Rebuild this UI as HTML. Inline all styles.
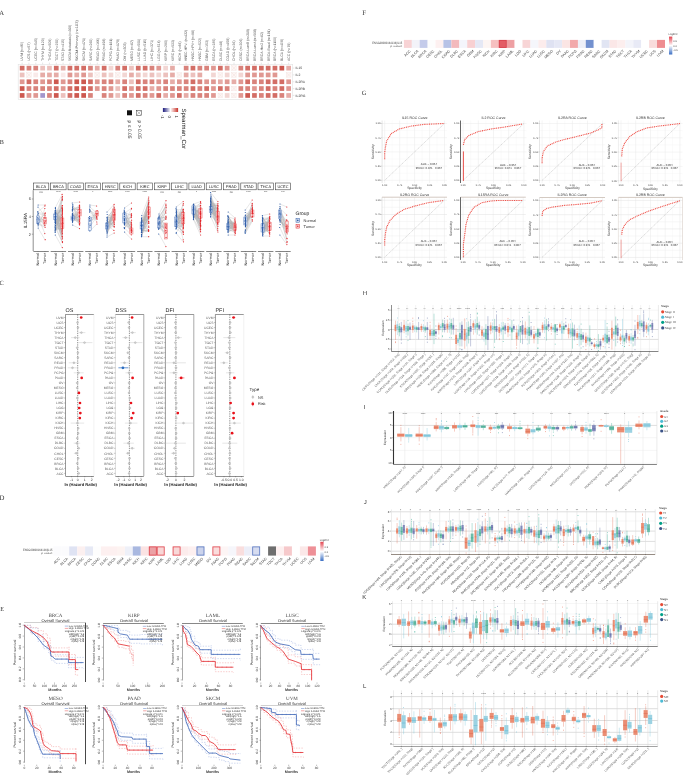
<!DOCTYPE html>
<html><head><meta charset="utf-8"><title>Figure</title>
<style>html,body{margin:0;padding:0;background:#fff;} body{width:685px;height:779px;overflow:hidden;} svg{display:block;} svg{will-change:transform;} text{text-rendering:geometricPrecision;}</style>
</head><body>
<svg width="685" height="779" viewBox="0 0 685 779" font-family="Liberation Sans, sans-serif">
<rect x="0" y="0" width="685" height="779" fill="#ffffff"/>
<text x="-0.8" y="14.7" font-size="6.6" fill="#333" font-family="Liberation Serif">A</text>
<rect x="18.2" y="64.4" width="274.5" height="35" fill="#ffffff" stroke="#e2e2e2" stroke-width="0.6"/>
<rect x="19.8" y="65.8" width="4.7" height="4.7" fill="#d36e66"/>
<rect x="26.6" y="65.8" width="4.7" height="4.7" fill="#d9837c"/>
<rect x="33.4" y="65.8" width="4.7" height="4.7" fill="#d9837c"/>
<rect x="40.3" y="65.8" width="4.7" height="4.7" fill="#ecc1bd"/>
<rect x="47.1" y="65.8" width="4.7" height="4.7" fill="#ecc1bd"/>
<rect x="53.9" y="65.8" width="4.7" height="4.7" fill="#d36e66"/>
<rect x="60.8" y="65.8" width="4.7" height="4.7" fill="#e6aca7"/>
<rect x="67.6" y="65.8" width="4.7" height="4.7" fill="#d36e66"/>
<rect x="74.4" y="65.8" width="4.7" height="4.7" fill="#d36e66"/>
<rect x="81.3" y="65.8" width="4.7" height="4.7" fill="#d36e66"/>
<rect x="88.1" y="65.8" width="4.7" height="4.7" fill="#d9837c"/>
<rect x="94.9" y="65.8" width="4.7" height="4.7" fill="#e6aca7"/>
<rect x="101.8" y="65.8" width="4.7" height="4.7" fill="#d36e66"/>
<rect x="108.6" y="65.8" width="4.7" height="4.7" fill="#f2d6d3"/>
<rect x="115.4" y="65.8" width="4.7" height="4.7" fill="#d9837c"/>
<rect x="122.3" y="65.8" width="4.7" height="4.7" fill="#d36e66"/>
<rect x="129.1" y="65.8" width="4.7" height="4.7" fill="#ecc1bd"/>
<rect x="135.9" y="65.8" width="4.7" height="4.7" fill="#d36e66"/>
<rect x="142.8" y="65.8" width="4.7" height="4.7" fill="#d36e66"/>
<rect x="149.6" y="65.8" width="4.7" height="4.7" fill="#d9837c"/>
<rect x="156.4" y="65.8" width="4.7" height="4.7" fill="#e09892"/>
<rect x="163.3" y="65.8" width="4.7" height="4.7" fill="#f2d6d3"/>
<rect x="170.1" y="65.8" width="4.7" height="4.7" fill="#e6aca7"/>
<rect x="183.8" y="65.8" width="4.7" height="4.7" fill="#d9837c"/>
<rect x="190.6" y="65.8" width="4.7" height="4.7" fill="#d36e66"/>
<rect x="197.5" y="65.8" width="4.7" height="4.7" fill="#d9837c"/>
<rect x="204.3" y="65.8" width="4.7" height="4.7" fill="#d9837c"/>
<rect x="211.1" y="65.8" width="4.7" height="4.7" fill="#e09892"/>
<rect x="218" y="65.8" width="4.7" height="4.7" fill="#d36e66"/>
<rect x="224.8" y="65.8" width="4.7" height="4.7" fill="#e09892"/>
<rect x="231.6" y="65.8" width="4.7" height="4.7" fill="#fdf6f5" stroke="#f1dcd9" stroke-width="0.3"/>
<path d="M231.6 65.8L236.3 70.4M231.6 70.4L236.3 65.8" fill="none" stroke="#efd5d2" stroke-width="0.35"/>
<rect x="238.5" y="65.8" width="4.7" height="4.7" fill="#d9837c"/>
<rect x="245.3" y="65.8" width="4.7" height="4.7" fill="#d36e66"/>
<rect x="252.1" y="65.8" width="4.7" height="4.7" fill="#d36e66"/>
<rect x="259" y="65.8" width="4.7" height="4.7" fill="#d36e66"/>
<rect x="265.8" y="65.8" width="4.7" height="4.7" fill="#d36e66"/>
<rect x="272.6" y="65.8" width="4.7" height="4.7" fill="#d36e66"/>
<rect x="279.5" y="65.8" width="4.7" height="4.7" fill="#cd5950"/>
<rect x="286.3" y="65.8" width="4.7" height="4.7" fill="#e6aca7"/>
<rect x="19.8" y="72.6" width="4.7" height="4.7" fill="#ecc1bd"/>
<rect x="26.6" y="72.6" width="4.7" height="4.7" fill="#fdf6f5" stroke="#f1dcd9" stroke-width="0.3"/>
<path d="M26.6 72.6L31.3 77.3M26.6 77.3L31.3 72.6" fill="none" stroke="#efd5d2" stroke-width="0.35"/>
<rect x="33.4" y="72.6" width="4.7" height="4.7" fill="#f9eae9"/>
<rect x="40.3" y="72.6" width="4.7" height="4.7" fill="#e6aca7"/>
<rect x="47.1" y="72.6" width="4.7" height="4.7" fill="#e6aca7"/>
<rect x="53.9" y="72.6" width="4.7" height="4.7" fill="#e6aca7"/>
<rect x="60.8" y="72.6" width="4.7" height="4.7" fill="#f9eae9"/>
<rect x="67.6" y="72.6" width="4.7" height="4.7" fill="#e09892"/>
<rect x="74.4" y="72.6" width="4.7" height="4.7" fill="#e6aca7"/>
<rect x="81.3" y="72.6" width="4.7" height="4.7" fill="#e09892"/>
<rect x="88.1" y="72.6" width="4.7" height="4.7" fill="#ecc1bd"/>
<rect x="94.9" y="72.6" width="4.7" height="4.7" fill="#fdf6f5" stroke="#f1dcd9" stroke-width="0.3"/>
<path d="M94.9 72.6L99.6 77.3M94.9 77.3L99.6 72.6" fill="none" stroke="#efd5d2" stroke-width="0.35"/>
<rect x="101.8" y="72.6" width="4.7" height="4.7" fill="#ecc1bd"/>
<rect x="108.6" y="72.6" width="4.7" height="4.7" fill="#f2d6d3"/>
<rect x="115.4" y="72.6" width="4.7" height="4.7" fill="#fdf6f5" stroke="#f1dcd9" stroke-width="0.3"/>
<path d="M115.4 72.6L120.1 77.3M115.4 77.3L120.1 72.6" fill="none" stroke="#efd5d2" stroke-width="0.35"/>
<rect x="122.3" y="72.6" width="4.7" height="4.7" fill="#f2d6d3"/>
<rect x="129.1" y="72.6" width="4.7" height="4.7" fill="#e6aca7"/>
<rect x="135.9" y="72.6" width="4.7" height="4.7" fill="#ecc1bd"/>
<rect x="142.8" y="72.6" width="4.7" height="4.7" fill="#f2d6d3"/>
<rect x="149.6" y="72.6" width="4.7" height="4.7" fill="#ecc1bd"/>
<rect x="156.4" y="72.6" width="4.7" height="4.7" fill="#f2d6d3"/>
<rect x="163.3" y="72.6" width="4.7" height="4.7" fill="#ecc1bd"/>
<rect x="170.1" y="72.6" width="4.7" height="4.7" fill="#e6aca7"/>
<rect x="177" y="72.6" width="4.7" height="4.7" fill="#fdf6f5" stroke="#f1dcd9" stroke-width="0.3"/>
<path d="M177 72.6L181.7 77.3M177 77.3L181.7 72.6" fill="none" stroke="#efd5d2" stroke-width="0.35"/>
<rect x="183.8" y="72.6" width="4.7" height="4.7" fill="#e6aca7"/>
<rect x="190.6" y="72.6" width="4.7" height="4.7" fill="#ecc1bd"/>
<rect x="197.5" y="72.6" width="4.7" height="4.7" fill="#e6aca7"/>
<rect x="211.1" y="72.6" width="4.7" height="4.7" fill="#f2d6d3"/>
<rect x="218" y="72.6" width="4.7" height="4.7" fill="#fdf6f5" stroke="#f1dcd9" stroke-width="0.3"/>
<path d="M218 72.6L222.7 77.3M218 77.3L222.7 72.6" fill="none" stroke="#efd5d2" stroke-width="0.35"/>
<rect x="224.8" y="72.6" width="4.7" height="4.7" fill="#f2d6d3"/>
<rect x="231.6" y="72.6" width="4.7" height="4.7" fill="#fdf6f5" stroke="#f1dcd9" stroke-width="0.3"/>
<path d="M231.6 72.6L236.3 77.3M231.6 77.3L236.3 72.6" fill="none" stroke="#efd5d2" stroke-width="0.35"/>
<rect x="238.5" y="72.6" width="4.7" height="4.7" fill="#f2d6d3"/>
<rect x="245.3" y="72.6" width="4.7" height="4.7" fill="#e09892"/>
<rect x="252.1" y="72.6" width="4.7" height="4.7" fill="#e09892"/>
<rect x="259" y="72.6" width="4.7" height="4.7" fill="#e09892"/>
<rect x="265.8" y="72.6" width="4.7" height="4.7" fill="#e09892"/>
<rect x="272.6" y="72.6" width="4.7" height="4.7" fill="#e09892"/>
<rect x="286.3" y="72.6" width="4.7" height="4.7" fill="#fdf6f5" stroke="#f1dcd9" stroke-width="0.3"/>
<path d="M286.3 72.6L291 77.3M286.3 77.3L291 72.6" fill="none" stroke="#efd5d2" stroke-width="0.35"/>
<rect x="19.8" y="79.4" width="4.7" height="4.7" fill="#e09892"/>
<rect x="26.6" y="79.4" width="4.7" height="4.7" fill="#d36e66"/>
<rect x="33.4" y="79.4" width="4.7" height="4.7" fill="#d9837c"/>
<rect x="40.3" y="79.4" width="4.7" height="4.7" fill="#e09892"/>
<rect x="47.1" y="79.4" width="4.7" height="4.7" fill="#d9837c"/>
<rect x="53.9" y="79.4" width="4.7" height="4.7" fill="#cd5950"/>
<rect x="60.8" y="79.4" width="4.7" height="4.7" fill="#e09892"/>
<rect x="67.6" y="79.4" width="4.7" height="4.7" fill="#d9837c"/>
<rect x="74.4" y="79.4" width="4.7" height="4.7" fill="#cd5950"/>
<rect x="81.3" y="79.4" width="4.7" height="4.7" fill="#cd5950"/>
<rect x="88.1" y="79.4" width="4.7" height="4.7" fill="#d36e66"/>
<rect x="94.9" y="79.4" width="4.7" height="4.7" fill="#e09892"/>
<rect x="101.8" y="79.4" width="4.7" height="4.7" fill="#d9837c"/>
<rect x="108.6" y="79.4" width="4.7" height="4.7" fill="#d9837c"/>
<rect x="115.4" y="79.4" width="4.7" height="4.7" fill="#e6aca7"/>
<rect x="122.3" y="79.4" width="4.7" height="4.7" fill="#d9837c"/>
<rect x="129.1" y="79.4" width="4.7" height="4.7" fill="#ecc1bd"/>
<rect x="135.9" y="79.4" width="4.7" height="4.7" fill="#d36e66"/>
<rect x="142.8" y="79.4" width="4.7" height="4.7" fill="#d9837c"/>
<rect x="149.6" y="79.4" width="4.7" height="4.7" fill="#d9837c"/>
<rect x="156.4" y="79.4" width="4.7" height="4.7" fill="#e09892"/>
<rect x="163.3" y="79.4" width="4.7" height="4.7" fill="#d9837c"/>
<rect x="170.1" y="79.4" width="4.7" height="4.7" fill="#e6aca7"/>
<rect x="177" y="79.4" width="4.7" height="4.7" fill="#e09892"/>
<rect x="183.8" y="79.4" width="4.7" height="4.7" fill="#d9837c"/>
<rect x="190.6" y="79.4" width="4.7" height="4.7" fill="#d36e66"/>
<rect x="197.5" y="79.4" width="4.7" height="4.7" fill="#d9837c"/>
<rect x="204.3" y="79.4" width="4.7" height="4.7" fill="#e09892"/>
<rect x="211.1" y="79.4" width="4.7" height="4.7" fill="#e09892"/>
<rect x="218" y="79.4" width="4.7" height="4.7" fill="#e6aca7"/>
<rect x="224.8" y="79.4" width="4.7" height="4.7" fill="#e09892"/>
<rect x="231.6" y="79.4" width="4.7" height="4.7" fill="#e6aca7"/>
<rect x="238.5" y="79.4" width="4.7" height="4.7" fill="#e09892"/>
<rect x="245.3" y="79.4" width="4.7" height="4.7" fill="#d36e66"/>
<rect x="252.1" y="79.4" width="4.7" height="4.7" fill="#d9837c"/>
<rect x="259" y="79.4" width="4.7" height="4.7" fill="#d9837c"/>
<rect x="265.8" y="79.4" width="4.7" height="4.7" fill="#d36e66"/>
<rect x="272.6" y="79.4" width="4.7" height="4.7" fill="#d36e66"/>
<rect x="279.5" y="79.4" width="4.7" height="4.7" fill="#d36e66"/>
<rect x="286.3" y="79.4" width="4.7" height="4.7" fill="#e09892"/>
<rect x="19.8" y="86.2" width="4.7" height="4.7" fill="#cd5950"/>
<rect x="26.6" y="86.2" width="4.7" height="4.7" fill="#d9837c"/>
<rect x="33.4" y="86.2" width="4.7" height="4.7" fill="#d9837c"/>
<rect x="40.3" y="86.2" width="4.7" height="4.7" fill="#d9837c"/>
<rect x="47.1" y="86.2" width="4.7" height="4.7" fill="#d9837c"/>
<rect x="53.9" y="86.2" width="4.7" height="4.7" fill="#d36e66"/>
<rect x="60.8" y="86.2" width="4.7" height="4.7" fill="#e09892"/>
<rect x="67.6" y="86.2" width="4.7" height="4.7" fill="#d36e66"/>
<rect x="74.4" y="86.2" width="4.7" height="4.7" fill="#cd5950"/>
<rect x="81.3" y="86.2" width="4.7" height="4.7" fill="#cd5950"/>
<rect x="88.1" y="86.2" width="4.7" height="4.7" fill="#d36e66"/>
<rect x="94.9" y="86.2" width="4.7" height="4.7" fill="#e09892"/>
<rect x="101.8" y="86.2" width="4.7" height="4.7" fill="#d9837c"/>
<rect x="108.6" y="86.2" width="4.7" height="4.7" fill="#e09892"/>
<rect x="115.4" y="86.2" width="4.7" height="4.7" fill="#ecc1bd"/>
<rect x="122.3" y="86.2" width="4.7" height="4.7" fill="#d36e66"/>
<rect x="129.1" y="86.2" width="4.7" height="4.7" fill="#e09892"/>
<rect x="135.9" y="86.2" width="4.7" height="4.7" fill="#d36e66"/>
<rect x="142.8" y="86.2" width="4.7" height="4.7" fill="#d36e66"/>
<rect x="149.6" y="86.2" width="4.7" height="4.7" fill="#e6aca7"/>
<rect x="156.4" y="86.2" width="4.7" height="4.7" fill="#e09892"/>
<rect x="163.3" y="86.2" width="4.7" height="4.7" fill="#d9837c"/>
<rect x="170.1" y="86.2" width="4.7" height="4.7" fill="#d9837c"/>
<rect x="177" y="86.2" width="4.7" height="4.7" fill="#d9837c"/>
<rect x="183.8" y="86.2" width="4.7" height="4.7" fill="#d9837c"/>
<rect x="190.6" y="86.2" width="4.7" height="4.7" fill="#d36e66"/>
<rect x="197.5" y="86.2" width="4.7" height="4.7" fill="#d9837c"/>
<rect x="204.3" y="86.2" width="4.7" height="4.7" fill="#d36e66"/>
<rect x="211.1" y="86.2" width="4.7" height="4.7" fill="#e09892"/>
<rect x="218" y="86.2" width="4.7" height="4.7" fill="#d36e66"/>
<rect x="224.8" y="86.2" width="4.7" height="4.7" fill="#d9837c"/>
<rect x="231.6" y="86.2" width="4.7" height="4.7" fill="#fdf6f5" stroke="#f1dcd9" stroke-width="0.3"/>
<path d="M231.6 86.2L236.3 90.9M231.6 90.9L236.3 86.2" fill="none" stroke="#efd5d2" stroke-width="0.35"/>
<rect x="238.5" y="86.2" width="4.7" height="4.7" fill="#d9837c"/>
<rect x="245.3" y="86.2" width="4.7" height="4.7" fill="#d9837c"/>
<rect x="252.1" y="86.2" width="4.7" height="4.7" fill="#e09892"/>
<rect x="259" y="86.2" width="4.7" height="4.7" fill="#d9837c"/>
<rect x="265.8" y="86.2" width="4.7" height="4.7" fill="#d36e66"/>
<rect x="272.6" y="86.2" width="4.7" height="4.7" fill="#d9837c"/>
<rect x="279.5" y="86.2" width="4.7" height="4.7" fill="#d36e66"/>
<rect x="286.3" y="86.2" width="4.7" height="4.7" fill="#e09892"/>
<rect x="19.8" y="93.1" width="4.7" height="4.7" fill="#cd5950"/>
<rect x="26.6" y="93.1" width="4.7" height="4.7" fill="#e09892"/>
<rect x="33.4" y="93.1" width="4.7" height="4.7" fill="#e09892"/>
<rect x="40.3" y="93.1" width="4.7" height="4.7" fill="#a396cc"/>
<rect x="47.1" y="93.1" width="4.7" height="4.7" fill="#d9837c"/>
<rect x="53.9" y="93.1" width="4.7" height="4.7" fill="#cd5950"/>
<rect x="60.8" y="93.1" width="4.7" height="4.7" fill="#ecc1bd"/>
<rect x="67.6" y="93.1" width="4.7" height="4.7" fill="#d36e66"/>
<rect x="74.4" y="93.1" width="4.7" height="4.7" fill="#cd5950"/>
<rect x="81.3" y="93.1" width="4.7" height="4.7" fill="#cd5950"/>
<rect x="88.1" y="93.1" width="4.7" height="4.7" fill="#d9837c"/>
<rect x="101.8" y="93.1" width="4.7" height="4.7" fill="#d9837c"/>
<rect x="108.6" y="93.1" width="4.7" height="4.7" fill="#e09892"/>
<rect x="115.4" y="93.1" width="4.7" height="4.7" fill="#ecc1bd"/>
<rect x="122.3" y="93.1" width="4.7" height="4.7" fill="#d9837c"/>
<rect x="129.1" y="93.1" width="4.7" height="4.7" fill="#e09892"/>
<rect x="135.9" y="93.1" width="4.7" height="4.7" fill="#d36e66"/>
<rect x="142.8" y="93.1" width="4.7" height="4.7" fill="#d9837c"/>
<rect x="149.6" y="93.1" width="4.7" height="4.7" fill="#e09892"/>
<rect x="156.4" y="93.1" width="4.7" height="4.7" fill="#d36e66"/>
<rect x="163.3" y="93.1" width="4.7" height="4.7" fill="#e6aca7"/>
<rect x="170.1" y="93.1" width="4.7" height="4.7" fill="#e09892"/>
<rect x="177" y="93.1" width="4.7" height="4.7" fill="#d36e66"/>
<rect x="183.8" y="93.1" width="4.7" height="4.7" fill="#e6aca7"/>
<rect x="190.6" y="93.1" width="4.7" height="4.7" fill="#d9837c"/>
<rect x="197.5" y="93.1" width="4.7" height="4.7" fill="#d9837c"/>
<rect x="204.3" y="93.1" width="4.7" height="4.7" fill="#d9837c"/>
<rect x="211.1" y="93.1" width="4.7" height="4.7" fill="#e09892"/>
<rect x="218" y="93.1" width="4.7" height="4.7" fill="#fdf6f5" stroke="#f1dcd9" stroke-width="0.3"/>
<path d="M218 93.1L222.7 97.8M218 97.8L222.7 93.1" fill="none" stroke="#efd5d2" stroke-width="0.35"/>
<rect x="224.8" y="93.1" width="4.7" height="4.7" fill="#f2d6d3"/>
<rect x="231.6" y="93.1" width="4.7" height="4.7" fill="#fdf6f5" stroke="#f1dcd9" stroke-width="0.3"/>
<path d="M231.6 93.1L236.3 97.8M231.6 97.8L236.3 93.1" fill="none" stroke="#efd5d2" stroke-width="0.35"/>
<rect x="238.5" y="93.1" width="4.7" height="4.7" fill="#e09892"/>
<rect x="245.3" y="93.1" width="4.7" height="4.7" fill="#cd5950"/>
<rect x="252.1" y="93.1" width="4.7" height="4.7" fill="#d36e66"/>
<rect x="259" y="93.1" width="4.7" height="4.7" fill="#d9837c"/>
<rect x="265.8" y="93.1" width="4.7" height="4.7" fill="#d36e66"/>
<rect x="272.6" y="93.1" width="4.7" height="4.7" fill="#d36e66"/>
<rect x="279.5" y="93.1" width="4.7" height="4.7" fill="#d9837c"/>
<rect x="286.3" y="93.1" width="4.7" height="4.7" fill="#e6aca7"/>
<text x="23.4" y="61" font-size="3.6" fill="#555" transform="rotate(-90 23.4 61)" textLength="19.3" lengthAdjust="spacingAndGlyphs">UVM (n=80)</text>
<path d="M22.1 62.6V64.2" fill="none" stroke="#aaa" stroke-width="0.3"/>
<text x="30.2" y="61" font-size="3.6" fill="#555" transform="rotate(-90 30.2 61)" textLength="18.7" lengthAdjust="spacingAndGlyphs">UCS (n=57)</text>
<path d="M28.9 62.6V64.2" fill="none" stroke="#aaa" stroke-width="0.3"/>
<text x="37.1" y="61" font-size="3.6" fill="#555" transform="rotate(-90 37.1 61)" textLength="23.0" lengthAdjust="spacingAndGlyphs">UCEC (n=545)</text>
<path d="M35.8 62.6V64.2" fill="none" stroke="#aaa" stroke-width="0.3"/>
<text x="43.9" y="61" font-size="3.6" fill="#555" transform="rotate(-90 43.9 61)" textLength="22.8" lengthAdjust="spacingAndGlyphs">THYM (n=120)</text>
<path d="M42.6 62.6V64.2" fill="none" stroke="#aaa" stroke-width="0.3"/>
<text x="50.7" y="61" font-size="3.6" fill="#555" transform="rotate(-90 50.7 61)" textLength="22.5" lengthAdjust="spacingAndGlyphs">THCA (n=509)</text>
<path d="M49.4 62.6V64.2" fill="none" stroke="#aaa" stroke-width="0.3"/>
<text x="57.6" y="61" font-size="3.6" fill="#555" transform="rotate(-90 57.6 61)" textLength="22.4" lengthAdjust="spacingAndGlyphs">TGCT (n=150)</text>
<path d="M56.3 62.6V64.2" fill="none" stroke="#aaa" stroke-width="0.3"/>
<text x="64.4" y="61" font-size="3.6" fill="#555" transform="rotate(-90 64.4 61)" textLength="22.2" lengthAdjust="spacingAndGlyphs">STAD (n=415)</text>
<path d="M63.1 62.6V64.2" fill="none" stroke="#aaa" stroke-width="0.3"/>
<text x="71.2" y="61" font-size="3.6" fill="#555" transform="rotate(-90 71.2 61)" textLength="36.0" lengthAdjust="spacingAndGlyphs">SKCM-Metastasis (n=368)</text>
<path d="M69.9 62.6V64.2" fill="none" stroke="#aaa" stroke-width="0.3"/>
<text x="78.1" y="61" font-size="3.6" fill="#555" transform="rotate(-90 78.1 61)" textLength="40.7" lengthAdjust="spacingAndGlyphs">SKCM-Primary (n=103)</text>
<path d="M76.8 62.6V64.2" fill="none" stroke="#aaa" stroke-width="0.3"/>
<text x="84.9" y="61" font-size="3.6" fill="#555" transform="rotate(-90 84.9 61)" textLength="23.0" lengthAdjust="spacingAndGlyphs">SKCM (n=471)</text>
<path d="M83.6 62.6V64.2" fill="none" stroke="#aaa" stroke-width="0.3"/>
<text x="91.7" y="61" font-size="3.6" fill="#555" transform="rotate(-90 91.7 61)" textLength="22.4" lengthAdjust="spacingAndGlyphs">SARC (n=260)</text>
<path d="M90.4 62.6V64.2" fill="none" stroke="#aaa" stroke-width="0.3"/>
<text x="98.6" y="61" font-size="3.6" fill="#555" transform="rotate(-90 98.6 61)" textLength="23.0" lengthAdjust="spacingAndGlyphs">READ (n=166)</text>
<path d="M97.3 62.6V64.2" fill="none" stroke="#aaa" stroke-width="0.3"/>
<text x="105.4" y="61" font-size="3.6" fill="#555" transform="rotate(-90 105.4 61)" textLength="22.5" lengthAdjust="spacingAndGlyphs">PRAD (n=498)</text>
<path d="M104.1 62.6V64.2" fill="none" stroke="#aaa" stroke-width="0.3"/>
<text x="112.3" y="61" font-size="3.6" fill="#555" transform="rotate(-90 112.3 61)" textLength="22.5" lengthAdjust="spacingAndGlyphs">PCPG (n=181)</text>
<path d="M111 62.6V64.2" fill="none" stroke="#aaa" stroke-width="0.3"/>
<text x="119.1" y="61" font-size="3.6" fill="#555" transform="rotate(-90 119.1 61)" textLength="22.0" lengthAdjust="spacingAndGlyphs">PAAD (n=179)</text>
<path d="M117.8 62.6V64.2" fill="none" stroke="#aaa" stroke-width="0.3"/>
<text x="125.9" y="61" font-size="3.6" fill="#555" transform="rotate(-90 125.9 61)" textLength="18.7" lengthAdjust="spacingAndGlyphs">OV (n=303)</text>
<path d="M124.6 62.6V64.2" fill="none" stroke="#aaa" stroke-width="0.3"/>
<text x="132.8" y="61" font-size="3.6" fill="#555" transform="rotate(-90 132.8 61)" textLength="21.0" lengthAdjust="spacingAndGlyphs">MESO (n=87)</text>
<path d="M131.5 62.6V64.2" fill="none" stroke="#aaa" stroke-width="0.3"/>
<text x="139.6" y="61" font-size="3.6" fill="#555" transform="rotate(-90 139.6 61)" textLength="22.2" lengthAdjust="spacingAndGlyphs">LUSC (n=501)</text>
<path d="M138.3 62.6V64.2" fill="none" stroke="#aaa" stroke-width="0.3"/>
<text x="146.4" y="61" font-size="3.6" fill="#555" transform="rotate(-90 146.4 61)" textLength="22.2" lengthAdjust="spacingAndGlyphs">LUAD (n=515)</text>
<path d="M145.1 62.6V64.2" fill="none" stroke="#aaa" stroke-width="0.3"/>
<text x="153.3" y="61" font-size="3.6" fill="#555" transform="rotate(-90 153.3 61)" textLength="21.0" lengthAdjust="spacingAndGlyphs">LIHC (n=371)</text>
<path d="M152 62.6V64.2" fill="none" stroke="#aaa" stroke-width="0.3"/>
<text x="160.1" y="61" font-size="3.6" fill="#555" transform="rotate(-90 160.1 61)" textLength="20.8" lengthAdjust="spacingAndGlyphs">LGG (n=516)</text>
<path d="M158.8 62.6V64.2" fill="none" stroke="#aaa" stroke-width="0.3"/>
<text x="166.9" y="61" font-size="3.6" fill="#555" transform="rotate(-90 166.9 61)" textLength="21.0" lengthAdjust="spacingAndGlyphs">KIRP (n=290)</text>
<path d="M165.6 62.6V64.2" fill="none" stroke="#aaa" stroke-width="0.3"/>
<text x="173.8" y="61" font-size="3.6" fill="#555" transform="rotate(-90 173.8 61)" textLength="21.0" lengthAdjust="spacingAndGlyphs">KIRC (n=533)</text>
<path d="M172.5 62.6V64.2" fill="none" stroke="#aaa" stroke-width="0.3"/>
<text x="180.6" y="61" font-size="3.6" fill="#555" transform="rotate(-90 180.6 61)" textLength="19.7" lengthAdjust="spacingAndGlyphs">KICH (n=66)</text>
<path d="M179.3 62.6V64.2" fill="none" stroke="#aaa" stroke-width="0.3"/>
<text x="187.4" y="61" font-size="3.6" fill="#555" transform="rotate(-90 187.4 61)" textLength="31.1" lengthAdjust="spacingAndGlyphs">HNSC-HPV- (n=422)</text>
<path d="M186.1 62.6V64.2" fill="none" stroke="#aaa" stroke-width="0.3"/>
<text x="194.3" y="61" font-size="3.6" fill="#555" transform="rotate(-90 194.3 61)" textLength="31.1" lengthAdjust="spacingAndGlyphs">HNSC-HPV+ (n=98)</text>
<path d="M193 62.6V64.2" fill="none" stroke="#aaa" stroke-width="0.3"/>
<text x="201.1" y="61" font-size="3.6" fill="#555" transform="rotate(-90 201.1 61)" textLength="23.0" lengthAdjust="spacingAndGlyphs">HNSC (n=522)</text>
<path d="M199.8 62.6V64.2" fill="none" stroke="#aaa" stroke-width="0.3"/>
<text x="207.9" y="61" font-size="3.6" fill="#555" transform="rotate(-90 207.9 61)" textLength="21.0" lengthAdjust="spacingAndGlyphs">GBM (n=153)</text>
<path d="M206.6 62.6V64.2" fill="none" stroke="#aaa" stroke-width="0.3"/>
<text x="214.8" y="61" font-size="3.6" fill="#555" transform="rotate(-90 214.8 61)" textLength="22.5" lengthAdjust="spacingAndGlyphs">ESCA (n=185)</text>
<path d="M213.5 62.6V64.2" fill="none" stroke="#aaa" stroke-width="0.3"/>
<text x="221.6" y="61" font-size="3.6" fill="#555" transform="rotate(-90 221.6 61)" textLength="20.2" lengthAdjust="spacingAndGlyphs">DLBC (n=48)</text>
<path d="M220.3 62.6V64.2" fill="none" stroke="#aaa" stroke-width="0.3"/>
<text x="228.5" y="61" font-size="3.6" fill="#555" transform="rotate(-90 228.5 61)" textLength="23.4" lengthAdjust="spacingAndGlyphs">COAD (n=458)</text>
<path d="M227.2 62.6V64.2" fill="none" stroke="#aaa" stroke-width="0.3"/>
<text x="235.3" y="61" font-size="3.6" fill="#555" transform="rotate(-90 235.3 61)" textLength="20.6" lengthAdjust="spacingAndGlyphs">CHOL (n=36)</text>
<path d="M234 62.6V64.2" fill="none" stroke="#aaa" stroke-width="0.3"/>
<text x="242.1" y="61" font-size="3.6" fill="#555" transform="rotate(-90 242.1 61)" textLength="22.5" lengthAdjust="spacingAndGlyphs">CESC (n=306)</text>
<path d="M240.8 62.6V64.2" fill="none" stroke="#aaa" stroke-width="0.3"/>
<text x="249" y="61" font-size="3.6" fill="#555" transform="rotate(-90 249 61)" textLength="32.0" lengthAdjust="spacingAndGlyphs">BRCA-LumB (n=219)</text>
<path d="M247.7 62.6V64.2" fill="none" stroke="#aaa" stroke-width="0.3"/>
<text x="255.8" y="61" font-size="3.6" fill="#555" transform="rotate(-90 255.8 61)" textLength="32.0" lengthAdjust="spacingAndGlyphs">BRCA-LumA (n=568)</text>
<path d="M254.5 62.6V64.2" fill="none" stroke="#aaa" stroke-width="0.3"/>
<text x="262.6" y="61" font-size="3.6" fill="#555" transform="rotate(-90 262.6 61)" textLength="29.0" lengthAdjust="spacingAndGlyphs">BRCA-Her2 (n=82)</text>
<path d="M261.3 62.6V64.2" fill="none" stroke="#aaa" stroke-width="0.3"/>
<text x="269.5" y="61" font-size="3.6" fill="#555" transform="rotate(-90 269.5 61)" textLength="31.6" lengthAdjust="spacingAndGlyphs">BRCA-Basal (n=191)</text>
<path d="M268.2 62.6V64.2" fill="none" stroke="#aaa" stroke-width="0.3"/>
<text x="276.3" y="61" font-size="3.6" fill="#555" transform="rotate(-90 276.3 61)" textLength="24.1" lengthAdjust="spacingAndGlyphs">BRCA (n=1100)</text>
<path d="M275 62.6V64.2" fill="none" stroke="#aaa" stroke-width="0.3"/>
<text x="283.1" y="61" font-size="3.6" fill="#555" transform="rotate(-90 283.1 61)" textLength="22.2" lengthAdjust="spacingAndGlyphs">BLCA (n=408)</text>
<path d="M281.8 62.6V64.2" fill="none" stroke="#aaa" stroke-width="0.3"/>
<text x="290" y="61" font-size="3.6" fill="#555" transform="rotate(-90 290 61)" textLength="18.4" lengthAdjust="spacingAndGlyphs">ACC (n=79)</text>
<path d="M288.7 62.6V64.2M292.8 68.1H294.4" fill="none" stroke="#aaa" stroke-width="0.3"/>
<text x="295.6" y="69.3" font-size="3.4" fill="#333">IL15</text>
<path d="M292.8 74.9H294.4" fill="none" stroke="#aaa" stroke-width="0.3"/>
<text x="295.6" y="76.1" font-size="3.4" fill="#333">IL2</text>
<path d="M292.8 81.8H294.4" fill="none" stroke="#aaa" stroke-width="0.3"/>
<text x="295.6" y="83" font-size="3.4" fill="#333">IL2RA</text>
<path d="M292.8 88.6H294.4" fill="none" stroke="#aaa" stroke-width="0.3"/>
<text x="295.6" y="89.8" font-size="3.4" fill="#333">IL2RB</text>
<path d="M292.8 95.4H294.4" fill="none" stroke="#aaa" stroke-width="0.3"/>
<text x="295.6" y="96.6" font-size="3.4" fill="#333">IL2RG</text>
<rect x="127" y="110.3" width="5" height="5" fill="#111"/>
<rect x="136.5" y="110.4" width="4.9" height="4.9" fill="#fff" stroke="#333" stroke-width="0.5"/>
<path d="M136.9 110.8L141 114.9M136.9 114.9L141 110.8" fill="none" stroke="#555" stroke-width="0.35"/>
<text x="128" y="120.5" font-size="5" fill="#333" transform="rotate(90 128 120.5)">p ≤ 0.05</text>
<text x="137.5" y="120.5" font-size="5" fill="#333" transform="rotate(90 137.5 120.5)">p &gt; 0.05</text>
<defs><linearGradient id="gA" x1="0" x2="1" y1="0" y2="0"><stop offset="0" stop-color="#1c1a7c"/><stop offset="0.5" stop-color="#ffffff"/><stop offset="1" stop-color="#c8332a"/></linearGradient><linearGradient id="gV" x1="0" x2="0" y1="0" y2="1"><stop offset="0" stop-color="#e3444f"/><stop offset="0.5" stop-color="#ffffff"/><stop offset="1" stop-color="#3b6fc4"/></linearGradient></defs>
<rect x="162.9" y="108" width="15.2" height="4" fill="url(#gA)"/>
<text x="161" y="114.8" font-size="4.2" fill="#333" transform="rotate(90 161 114.8)">-1</text>
<text x="168" y="115.6" font-size="4.2" fill="#333" transform="rotate(90 168 115.6)">0</text>
<text x="175" y="115.6" font-size="4.2" fill="#333" transform="rotate(90 175 115.6)">1</text>
<text x="181.6" y="108.4" font-size="6" fill="#222" transform="rotate(90 181.6 108.4)">Spearman_Cor</text>
<text x="-0.3" y="143.9" font-size="6.2" fill="#333" font-family="Liberation Serif">B</text>
<rect x="33.4" y="183" width="15.4" height="6.8" fill="#ffffff" stroke="#333" stroke-width="0.55"/>
<text x="41.1" y="187.9" font-size="3.9" fill="#222" text-anchor="middle">BLCA</text>
<text x="41.1" y="193" font-size="2.8" fill="#444" text-anchor="middle">ns</text>
<path d="M33.4 251.5H48.8" fill="none" stroke="#666" stroke-width="0.8"/>
<path d="M38 205H45M38 228L45 239.7M38 217.5L45 233.6M38 223.6L45 212.9M38 214.1L45 222.4M38 207.1L45 215.9M38 224L45 227.3M38 221.8L45 213.7M38 211.5L45 206M38 213.4L45 215.8M38 223L45 217.6M38 218.5L45 225.1M38 224.6L45 225.4M38 223.5L45 217.8M38 212.5L45 213.9M38 215.1L45 223.5M38 220.1L45 218.6M38 222.1L45 221.2M38 217.7L45 225.7M38 225.8L45 208.5" fill="none" stroke="#b0b0b0" stroke-width="0.3"/>
<rect x="36.4" y="216" width="3.2" height="7.3" fill="#e6ecf6" stroke="#5a7fc0" stroke-width="0.45"/>
<path d="M36.4 219.7H39.6" fill="none" stroke="#2757a5" stroke-width="0.45"/>
<rect x="43.4" y="217.4" width="3.2" height="6.6" fill="#f9e0e0" stroke="#ec6a6c" stroke-width="0.45"/>
<path d="M43.4 220.7H46.6" fill="none" stroke="#e3262b" stroke-width="0.45"/>
<path d="M38.1 205h0M38.2 228h0M37.8 217.5h0M38.1 223.6h0M37.9 214.1h0M38 207.1h0M37.8 224h0M37.8 221.8h0M37.8 211.5h0M38.2 213.4h0M37.8 223h0M38.1 218.5h0M38.2 224.6h0M38.2 223.5h0M37.9 212.5h0M37.9 215.1h0M38 220.1h0M38.1 222.1h0M37.8 217.7h0M38.1 225.8h0" fill="none" stroke="#2757a5" stroke-width="1.2" stroke-linecap="round"/>
<path d="M45.1 205h0M45.2 239.7h0M44.8 233.6h0M45.2 212.9h0M44.8 222.4h0M44.9 215.9h0M45.1 227.3h0M45.2 213.7h0M44.9 206h0M45.2 215.8h0M45 217.6h0M44.9 225.1h0M44.9 225.4h0M44.8 217.8h0M44.8 213.9h0M44.8 223.5h0M45.1 218.6h0M45.2 221.2h0M44.8 225.7h0M44.8 208.5h0" fill="none" stroke="#e3262b" stroke-width="1.2" stroke-linecap="round"/>
<text x="39.3" y="253" font-size="3.9" fill="#333" text-anchor="end" transform="rotate(-90 39.3 253)">Normal</text>
<text x="46.3" y="253" font-size="3.9" fill="#333" text-anchor="end" transform="rotate(-90 46.3 253)">Tumor</text>
<path d="M38 251V252.2M45 251V252.2" fill="none" stroke="#555" stroke-width="0.3"/>
<rect x="50.7" y="183" width="15.4" height="6.8" fill="#ffffff" stroke="#333" stroke-width="0.55"/>
<text x="58.4" y="187.9" font-size="3.9" fill="#222" text-anchor="middle">BRCA</text>
<text x="58.4" y="193" font-size="2.8" fill="#444" text-anchor="middle">****</text>
<path d="M50.7 251.5H66.1" fill="none" stroke="#666" stroke-width="0.8"/>
<path d="M55.3 207.6L62.3 194.4M55.3 235L62.3 247.6M55.3 221.3L62.3 213.9M55.3 218.1L62.3 223.8M55.3 220.4L62.3 232.7M55.3 216.9L62.3 231.8M55.3 217.5L62.3 208.2M55.3 224.1L62.3 222.8M55.3 222.8L62.3 216.7M55.3 214.1L62.3 224.7M55.3 232.3L62.3 209M55.3 217.9L62.3 218.3M55.3 219.1L62.3 238M55.3 229.5L62.3 225.2M55.3 219.3L62.3 226.3M55.3 232.4L62.3 205.8M55.3 214.7L62.3 210.4M55.3 215.3L62.3 218.4M55.3 219.9L62.3 225.6M55.3 214.1L62.3 223.9M55.3 212.2L62.3 226.3M55.3 222.5L62.3 217.8M55.3 213.5L62.3 231.2M55.3 212.2L62.3 236.5M55.3 216L62.3 196.4M55.3 220.1L62.3 236.1M55.3 219.1L62.3 205.5M55.3 216.2L62.3 218.4M55.3 225.5L62.3 242.6M55.3 218.4L62.3 207.2M55.3 228.2L62.3 208.3M55.3 216.3L62.3 220.7M55.3 217.4L62.3 226.4M55.3 219.1L62.3 217.8M55.3 213.6L62.3 217.9M55.3 221.2L62.3 219.7M55.3 227.8L62.3 209.9M55.3 221L62.3 225.8M55.3 217L62.3 237.8M55.3 211.9L62.3 225M55.3 229.3L62.3 228.8M55.3 222.3L62.3 228.2M55.3 219L62.3 223M55.3 219.3L62.3 219.9M55.3 220.2L62.3 226.4M55.3 220.4L62.3 213.4M55.3 222L62.3 227.9M55.3 210.2L62.3 210.9M55.3 218.2L62.3 219.1M55.3 221.3L62.3 229.5M55.3 217.7L62.3 233.6M55.3 230.6L62.3 199M55.3 214.2L62.3 234.2M55.3 222.1L62.3 216.7M55.3 219.4L62.3 227.8M55.3 212.8L62.3 233M55.3 217.4L62.3 205.7M55.3 228.3L62.3 212.8M55.3 216.4L62.3 239.1M55.3 229.9L62.3 222.3M55.3 217.6L62.3 220M55.3 212.2L62.3 223.7M55.3 223.4L62.3 216.8M55.3 218.5L62.3 228.6M55.3 227.5L62.3 242.2M55.3 213.6L62.3 223.5M55.3 227.8L62.3 224.6M55.3 226.5L62.3 230.5M55.3 212.6L62.3 218.4M55.3 226.6L62.3 214.3M55.3 218.3L62.3 216.1M55.3 217.2L62.3 208.2M55.3 229.2L62.3 227.7M55.3 211.8L62.3 211.9M55.3 229.7L62.3 221.4M55.3 212.8L62.3 215.2M55.3 222.4L62.3 218.1M55.3 211.3L62.3 227M55.3 214.4L62.3 210.3M55.3 218.7L62.3 221.4M55.3 213.4L62.3 225.7M55.3 221.2L62.3 215.4M55.3 225.5L62.3 200.1M55.3 208.6L62.3 224.6M55.3 217.7L62.3 241.6M55.3 222L62.3 207.4M55.3 225.3L62.3 221.4M55.3 208.1L62.3 229.3M55.3 212.7L62.3 222.1M55.3 220.5L62.3 197.7M55.3 217.5L62.3 225.1M55.3 216.9L62.3 207.8M55.3 213.8L62.3 224.4M55.3 231.9L62.3 200.2M55.3 216.5L62.3 199M55.3 217.8L62.3 220.8M55.3 213.6L62.3 208.2M55.3 210.4L62.3 236.5M55.3 229.3L62.3 228.8M55.3 227L62.3 230.1" fill="none" stroke="#b0b0b0" stroke-width="0.3"/>
<rect x="53.7" y="214" width="3.2" height="5.4" fill="#e6ecf6" stroke="#5a7fc0" stroke-width="0.45"/>
<path d="M53.7 216.7H56.9" fill="none" stroke="#2757a5" stroke-width="0.45"/>
<rect x="60.7" y="218" width="3.2" height="10.6" fill="#f9e0e0" stroke="#ec6a6c" stroke-width="0.45"/>
<path d="M60.7 223.3H63.9" fill="none" stroke="#e3262b" stroke-width="0.45"/>
<path d="M55.4 207.6h0M55.3 235h0M55.5 221.3h0M55.5 218.1h0M55.4 220.4h0M55.5 216.9h0M55.4 217.5h0M55.1 224.1h0M55.5 222.8h0M55.1 214.1h0M55.1 232.3h0M55.4 217.9h0M55.5 219.1h0M55.4 229.5h0M55.1 219.3h0M55.2 232.4h0M55.2 214.7h0M55.4 215.3h0M55.1 219.9h0M55.4 214.1h0M55.1 212.2h0M55 222.5h0M55.5 213.5h0M55.4 212.2h0M55.4 216h0M55.4 220.1h0M55.3 219.1h0M55.5 216.2h0M55.3 225.5h0M55.3 218.4h0M55.4 228.2h0M55.4 216.3h0M55.4 217.4h0M55.2 219.1h0M55.3 213.6h0M55.1 221.2h0M55.2 227.8h0M55.4 221h0M55.4 217h0M55.3 211.9h0M55.3 229.3h0M55.5 222.3h0M55.3 219h0M55.3 219.3h0M55.1 220.2h0M55.4 220.4h0M55.5 222h0M55.5 210.2h0M55.4 218.2h0M55.1 221.3h0M55.2 217.7h0M55.1 230.6h0M55.4 214.2h0M55.1 222.1h0M55.3 219.4h0M55.5 212.8h0M55.4 217.4h0M55.2 228.3h0M55.4 216.4h0M55.2 229.9h0M55.4 217.6h0M55.1 212.2h0M55.5 223.4h0M55.3 218.5h0M55.1 227.5h0M55.2 213.6h0M55.2 227.8h0M55.1 226.5h0M55.3 212.6h0M55.1 226.6h0M55.3 218.3h0M55.4 217.2h0M55.3 229.2h0M55.2 211.8h0M55.4 229.7h0M55.3 212.8h0M55.3 222.4h0M55.2 211.3h0M55.2 214.4h0M55.5 218.7h0M55.2 213.4h0M55.2 221.2h0M55.5 225.5h0M55.4 208.6h0M55.1 217.7h0M55.4 222h0M55.3 225.3h0M55.4 208.1h0M55.3 212.7h0M55.2 220.5h0M55.2 217.5h0M55.3 216.9h0M55.5 213.8h0M55.1 231.9h0M55.1 216.5h0M55.4 217.8h0M55.3 213.6h0M55.2 210.4h0M55.3 229.3h0M55.2 227h0" fill="none" stroke="#2757a5" stroke-width="1.2" stroke-linecap="round"/>
<path d="M62.1 194.4h0M62.3 247.6h0M62.2 213.9h0M62.4 223.8h0M62.1 232.7h0M62.1 231.8h0M62.4 208.2h0M62.5 222.8h0M62.4 216.7h0M62.4 224.7h0M62.5 209h0M62.1 218.3h0M62.5 238h0M62.5 225.2h0M62.1 226.3h0M62.1 205.8h0M62.5 210.4h0M62.5 218.4h0M62.3 225.6h0M62.2 223.9h0M62.5 226.3h0M62.5 217.8h0M62.1 231.2h0M62.1 236.5h0M62.4 196.4h0M62.2 236.1h0M62.5 205.5h0M62.3 218.4h0M62.5 242.6h0M62.1 207.2h0M62 208.3h0M62.2 220.7h0M62.5 226.4h0M62.4 217.8h0M62.1 217.9h0M62.5 219.7h0M62.5 209.9h0M62.1 225.8h0M62.4 237.8h0M62.5 225h0M62.1 228.8h0M62.4 228.2h0M62.2 223h0M62 219.9h0M62.1 226.4h0M62.4 213.4h0M62.1 227.9h0M62.4 210.9h0M62.2 219.1h0M62.1 229.5h0M62.4 233.6h0M62.4 199h0M62.2 234.2h0M62.5 216.7h0M62.4 227.8h0M62.2 233h0M62.2 205.7h0M62.3 212.8h0M62.1 239.1h0M62.5 222.3h0M62.3 220h0M62.2 223.7h0M62.5 216.8h0M62.2 228.6h0M62.4 242.2h0M62.4 223.5h0M62.2 224.6h0M62.2 230.5h0M62.4 218.4h0M62.4 214.3h0M62.3 216.1h0M62.4 208.2h0M62.4 227.7h0M62.4 211.9h0M62.2 221.4h0M62.1 215.2h0M62.4 218.1h0M62.5 227h0M62.4 210.3h0M62.2 221.4h0M62.1 225.7h0M62.1 215.4h0M62.3 200.1h0M62 224.6h0M62.5 241.6h0M62.1 207.4h0M62.4 221.4h0M62.3 229.3h0M62.1 222.1h0M62.1 197.7h0M62.3 225.1h0M62.1 207.8h0M62.4 224.4h0M62.2 200.2h0M62.2 199h0M62.5 220.8h0M62.4 208.2h0M62.4 236.5h0M62.5 228.8h0M62.2 230.1h0" fill="none" stroke="#e3262b" stroke-width="1.2" stroke-linecap="round"/>
<text x="56.6" y="253" font-size="3.9" fill="#333" text-anchor="end" transform="rotate(-90 56.6 253)">Normal</text>
<text x="63.6" y="253" font-size="3.9" fill="#333" text-anchor="end" transform="rotate(-90 63.6 253)">Tumor</text>
<path d="M55.3 251V252.2M62.3 251V252.2" fill="none" stroke="#555" stroke-width="0.3"/>
<rect x="68" y="183" width="15.4" height="6.8" fill="#ffffff" stroke="#333" stroke-width="0.55"/>
<text x="75.7" y="187.9" font-size="3.9" fill="#222" text-anchor="middle">COAD</text>
<text x="75.7" y="193" font-size="2.8" fill="#444" text-anchor="middle">****</text>
<path d="M68 251.5H83.4" fill="none" stroke="#666" stroke-width="0.8"/>
<path d="M72.6 203L79.6 202M72.6 225L79.6 228.6M72.6 221.5L79.6 209.6M72.6 210.6L79.6 205.2M72.6 209.4L79.6 207.2M72.6 214.5L79.6 221.5M72.6 217.6L79.6 222.3M72.6 210.3L79.6 208.6M72.6 204.5L79.6 225M72.6 219.6L79.6 216.5M72.6 214.3L79.6 205.4M72.6 215L79.6 219.6M72.6 220.3L79.6 212M72.6 217.1L79.6 221.3M72.6 218.6L79.6 213.2M72.6 205.9L79.6 221.3M72.6 209.6L79.6 209.4M72.6 218.1L79.6 224.1M72.6 216.4L79.6 217.3M72.6 222.6L79.6 212.4M72.6 220.6L79.6 220.3M72.6 215.3L79.6 213.9M72.6 215.6L79.6 211.3M72.6 218.4L79.6 217M72.6 219.4L79.6 212.1M72.6 219.1L79.6 206.6M72.6 215.3L79.6 208.3M72.6 219L79.6 216.7M72.6 221.1L79.6 215.6M72.6 217.6L79.6 214.2M72.6 217.3L79.6 218.5M72.6 218.1L79.6 210M72.6 218.9L79.6 219.8M72.6 213.7L79.6 224.1M72.6 218L79.6 219.9M72.6 207.6L79.6 216M72.6 217.7L79.6 212.1M72.6 211.1L79.6 220.1M72.6 208.7L79.6 207.2M72.6 206.2L79.6 211.1M72.6 213.1L79.6 223.5M72.6 215.2L79.6 217.2M72.6 218L79.6 223.3M72.6 216.7L79.6 210.2" fill="none" stroke="#b0b0b0" stroke-width="0.3"/>
<rect x="71" y="216" width="3.2" height="4" fill="#e6ecf6" stroke="#5a7fc0" stroke-width="0.45"/>
<path d="M71 218H74.2" fill="none" stroke="#2757a5" stroke-width="0.45"/>
<rect x="78" y="209.5" width="3.2" height="6.5" fill="#f9e0e0" stroke="#ec6a6c" stroke-width="0.45"/>
<path d="M78 212.8H81.2" fill="none" stroke="#e3262b" stroke-width="0.45"/>
<path d="M72.3 203h0M72.7 225h0M72.5 221.5h0M72.3 210.6h0M72.6 209.4h0M72.7 214.5h0M72.3 217.6h0M72.5 210.3h0M72.8 204.5h0M72.6 219.6h0M72.3 214.3h0M72.7 215h0M72.4 220.3h0M72.5 217.1h0M72.8 218.6h0M72.8 205.9h0M72.3 209.6h0M72.3 218.1h0M72.7 216.4h0M72.5 222.6h0M72.4 220.6h0M72.5 215.3h0M72.8 215.6h0M72.4 218.4h0M72.6 219.4h0M72.6 219.1h0M72.5 215.3h0M72.5 219h0M72.6 221.1h0M72.4 217.6h0M72.6 217.3h0M72.3 218.1h0M72.3 218.9h0M72.4 213.7h0M72.5 218h0M72.5 207.6h0M72.6 217.7h0M72.4 211.1h0M72.7 208.7h0M72.6 206.2h0M72.7 213.1h0M72.6 215.2h0M72.4 218h0M72.8 216.7h0" fill="none" stroke="#2757a5" stroke-width="1.2" stroke-linecap="round"/>
<path d="M79.6 202h0M79.5 228.6h0M79.6 209.6h0M79.6 205.2h0M79.7 207.2h0M79.4 221.5h0M79.8 222.3h0M79.6 208.6h0M79.6 225h0M79.3 216.5h0M79.4 205.4h0M79.7 219.6h0M79.5 212h0M79.6 221.3h0M79.6 213.2h0M79.5 221.3h0M79.3 209.4h0M79.3 224.1h0M79.7 217.3h0M79.6 212.4h0M79.7 220.3h0M79.7 213.9h0M79.6 211.3h0M79.5 217h0M79.7 212.1h0M79.6 206.6h0M79.6 208.3h0M79.5 216.7h0M79.7 215.6h0M79.8 214.2h0M79.8 218.5h0M79.8 210h0M79.3 219.8h0M79.6 224.1h0M79.5 219.9h0M79.4 216h0M79.6 212.1h0M79.3 220.1h0M79.3 207.2h0M79.7 211.1h0M79.7 223.5h0M79.6 217.2h0M79.7 223.3h0M79.8 210.2h0" fill="none" stroke="#e3262b" stroke-width="1.2" stroke-linecap="round"/>
<text x="73.9" y="253" font-size="3.9" fill="#333" text-anchor="end" transform="rotate(-90 73.9 253)">Normal</text>
<text x="80.9" y="253" font-size="3.9" fill="#333" text-anchor="end" transform="rotate(-90 80.9 253)">Tumor</text>
<path d="M72.6 251V252.2M79.6 251V252.2" fill="none" stroke="#555" stroke-width="0.3"/>
<rect x="85.2" y="183" width="15.4" height="6.8" fill="#ffffff" stroke="#333" stroke-width="0.55"/>
<text x="92.9" y="187.9" font-size="3.9" fill="#222" text-anchor="middle">ESCA</text>
<text x="92.9" y="193" font-size="2.8" fill="#444" text-anchor="middle">*</text>
<path d="M85.2 251.5H100.6" fill="none" stroke="#666" stroke-width="0.8"/>
<path d="M89.8 205L96.8 206M89.8 231L96.8 224M89.8 210.7L96.8 214.2M89.8 209.1L96.8 222M89.8 218.4L96.8 217.5M89.8 206.9L96.8 213.2M89.8 209.8L96.8 217.1M89.8 220.5L96.8 218.4M89.8 219.1L96.8 215M89.8 216.5L96.8 214.4M89.8 221.3L96.8 216.4M89.8 212.1L96.8 219.3M89.8 225.4L96.8 210.6M89.8 220.6L96.8 210.9M89.8 211.2L96.8 218M89.8 227L96.8 216.7" fill="none" stroke="#b0b0b0" stroke-width="0.3"/>
<rect x="88.2" y="217.4" width="3.2" height="13.2" fill="#e6ecf6" stroke="#5a7fc0" stroke-width="0.45"/>
<path d="M88.2 224H91.4" fill="none" stroke="#2757a5" stroke-width="0.45"/>
<rect x="95.2" y="211" width="3.2" height="5" fill="#f9e0e0" stroke="#ec6a6c" stroke-width="0.45"/>
<path d="M95.2 213.5H98.4" fill="none" stroke="#e3262b" stroke-width="0.45"/>
<path d="M89.9 205h0M89.8 231h0M89.9 210.7h0M89.6 209.1h0M89.6 218.4h0M89.9 206.9h0M89.8 209.8h0M90.1 220.5h0M89.9 219.1h0M89.6 216.5h0M89.9 221.3h0M89.6 212.1h0M90.1 225.4h0M89.9 220.6h0M90 211.2h0M89.8 227h0" fill="none" stroke="#2757a5" stroke-width="1.2" stroke-linecap="round"/>
<path d="M96.6 206h0M97 224h0M96.9 214.2h0M96.8 222h0M96.7 217.5h0M97 213.2h0M96.8 217.1h0M96.9 218.4h0M97 215h0M96.9 214.4h0M96.7 216.4h0M97 219.3h0M97.1 210.6h0M97 210.9h0M96.9 218h0M96.6 216.7h0" fill="none" stroke="#e3262b" stroke-width="1.2" stroke-linecap="round"/>
<text x="91.1" y="253" font-size="3.9" fill="#333" text-anchor="end" transform="rotate(-90 91.1 253)">Normal</text>
<text x="98.1" y="253" font-size="3.9" fill="#333" text-anchor="end" transform="rotate(-90 98.1 253)">Tumor</text>
<path d="M89.8 251V252.2M96.8 251V252.2" fill="none" stroke="#555" stroke-width="0.3"/>
<rect x="102.5" y="183" width="15.4" height="6.8" fill="#ffffff" stroke="#333" stroke-width="0.55"/>
<text x="110.2" y="187.9" font-size="3.9" fill="#222" text-anchor="middle">HNSC</text>
<text x="110.2" y="193" font-size="2.8" fill="#444" text-anchor="middle">****</text>
<path d="M102.5 251.5H117.9" fill="none" stroke="#666" stroke-width="0.8"/>
<path d="M107.1 212L114.1 204.4M107.1 237L114.1 233M107.1 222.7L114.1 223.3M107.1 225.9L114.1 210.8M107.1 226.1L114.1 222.3M107.1 228.4L114.1 222.7M107.1 218L114.1 209.2M107.1 228.4L114.1 209.7M107.1 224.2L114.1 212.9M107.1 217.9L114.1 216.6M107.1 226.8L114.1 214.3M107.1 225L114.1 218.9M107.1 218L114.1 216.9M107.1 232.1L114.1 211.3M107.1 227L114.1 221.5M107.1 231.6L114.1 214.8M107.1 222.7L114.1 214.6M107.1 225.5L114.1 215.1M107.1 228.7L114.1 206M107.1 221.7L114.1 226.4M107.1 217.5L114.1 219M107.1 220.3L114.1 227.1M107.1 219.9L114.1 211M107.1 226.1L114.1 215M107.1 223.6L114.1 224.4M107.1 221L114.1 212.2M107.1 223.4L114.1 218.3M107.1 220.2L114.1 216M107.1 224.9L114.1 212.3M107.1 230L114.1 219.6M107.1 227.3L114.1 210.2M107.1 226.1L114.1 216M107.1 217.1L114.1 210.3M107.1 228L114.1 215.6M107.1 226.9L114.1 220.9M107.1 225.9L114.1 214.7M107.1 227.2L114.1 211.7M107.1 232.6L114.1 219.7M107.1 225.7L114.1 230.4M107.1 226L114.1 214.2M107.1 223.9L114.1 212.4M107.1 214.5L114.1 217.5M107.1 219L114.1 207.7M107.1 223.7L114.1 218.3M107.1 235L114.1 207.5M107.1 231.2L114.1 224.4M107.1 227.6L114.1 226.4M107.1 223L114.1 217.7M107.1 217.8L114.1 226.3M107.1 229.3L114.1 215.4M107.1 233.3L114.1 219.6M107.1 230.4L114.1 214.9" fill="none" stroke="#b0b0b0" stroke-width="0.3"/>
<rect x="105.5" y="223" width="3.2" height="6" fill="#e6ecf6" stroke="#5a7fc0" stroke-width="0.45"/>
<path d="M105.5 226H108.7" fill="none" stroke="#2757a5" stroke-width="0.45"/>
<rect x="112.5" y="209" width="3.2" height="11.6" fill="#f9e0e0" stroke="#ec6a6c" stroke-width="0.45"/>
<path d="M112.5 214.8H115.7" fill="none" stroke="#e3262b" stroke-width="0.45"/>
<path d="M107 212h0M107 237h0M107 222.7h0M106.9 225.9h0M107 226.1h0M107.2 228.4h0M107.2 218h0M107 228.4h0M107.1 224.2h0M107.1 217.9h0M107.2 226.8h0M106.9 225h0M107.3 218h0M107 232.1h0M107.4 227h0M107.1 231.6h0M106.9 222.7h0M107.1 225.5h0M107 228.7h0M107.3 221.7h0M106.9 217.5h0M107 220.3h0M107.3 219.9h0M107.2 226.1h0M106.9 223.6h0M107.3 221h0M107 223.4h0M107.2 220.2h0M106.9 224.9h0M106.9 230h0M107.3 227.3h0M107.2 226.1h0M107.3 217.1h0M107.1 228h0M107.3 226.9h0M107.1 225.9h0M107.3 227.2h0M107.2 232.6h0M107 225.7h0M107.1 226h0M107.3 223.9h0M107.2 214.5h0M107.3 219h0M107.2 223.7h0M107.1 235h0M107 231.2h0M107 227.6h0M107.1 223h0M106.9 217.8h0M107 229.3h0M107.1 233.3h0M106.9 230.4h0" fill="none" stroke="#2757a5" stroke-width="1.2" stroke-linecap="round"/>
<path d="M114.1 204.4h0M114.2 233h0M114.1 223.3h0M114 210.8h0M114.1 222.3h0M114.1 222.7h0M114.3 209.2h0M114 209.7h0M114.3 212.9h0M114.1 216.6h0M114.3 214.3h0M114.3 218.9h0M114.2 216.9h0M113.9 211.3h0M114 221.5h0M114.3 214.8h0M114 214.6h0M113.9 215.1h0M113.9 206h0M114.3 226.4h0M114 219h0M114.2 227.1h0M114 211h0M114.1 215h0M114.3 224.4h0M114.2 212.2h0M114.2 218.3h0M114 216h0M114 212.3h0M114.2 219.6h0M114.1 210.2h0M114 216h0M114.2 210.3h0M114.3 215.6h0M113.9 220.9h0M114 214.7h0M113.9 211.7h0M114.2 219.7h0M113.9 230.4h0M114.3 214.2h0M114.2 212.4h0M113.9 217.5h0M114.2 207.7h0M114.2 218.3h0M114.2 207.5h0M114.2 224.4h0M114.1 226.4h0M114.1 217.7h0M114 226.3h0M114 215.4h0M114.1 219.6h0M113.9 214.9h0" fill="none" stroke="#e3262b" stroke-width="1.2" stroke-linecap="round"/>
<text x="108.4" y="253" font-size="3.9" fill="#333" text-anchor="end" transform="rotate(-90 108.4 253)">Normal</text>
<text x="115.4" y="253" font-size="3.9" fill="#333" text-anchor="end" transform="rotate(-90 115.4 253)">Tumor</text>
<path d="M107.1 251V252.2M114.1 251V252.2" fill="none" stroke="#555" stroke-width="0.3"/>
<rect x="119.8" y="183" width="15.4" height="6.8" fill="#ffffff" stroke="#333" stroke-width="0.55"/>
<text x="127.5" y="187.9" font-size="3.9" fill="#222" text-anchor="middle">KICH</text>
<text x="127.5" y="193" font-size="2.8" fill="#444" text-anchor="middle">****</text>
<path d="M119.8 251.5H135.2" fill="none" stroke="#666" stroke-width="0.8"/>
<path d="M124.4 208L131.4 203M124.4 232L131.4 239M124.4 224.2L131.4 230.3M124.4 216.2L131.4 213.9M124.4 211.4L131.4 223.6M124.4 218.5L131.4 232.1M124.4 228L131.4 234.8M124.4 210.2L131.4 228M124.4 214.6L131.4 230.3M124.4 212.3L131.4 215.3M124.4 216.6L131.4 229.3M124.4 220.2L131.4 222.3M124.4 219.6L131.4 230.8M124.4 220.2L131.4 217.6M124.4 220.7L131.4 226.5M124.4 219.5L131.4 227.6M124.4 220.9L131.4 213.9M124.4 227.7L131.4 220.2M124.4 223.3L131.4 209M124.4 214.6L131.4 228.9M124.4 213.2L131.4 208.3M124.4 212.9L131.4 224.6M124.4 219.8L131.4 216.9M124.4 227.7L131.4 224.5M124.4 214.7L131.4 229.7M124.4 228.6L131.4 215.6M124.4 219.2L131.4 222.8M124.4 225.1L131.4 215.1M124.4 222.5L131.4 229.7M124.4 219.6L131.4 225.7M124.4 224.1L131.4 222.1M124.4 222.4L131.4 232.6" fill="none" stroke="#b0b0b0" stroke-width="0.3"/>
<rect x="122.8" y="213" width="3.2" height="10" fill="#e6ecf6" stroke="#5a7fc0" stroke-width="0.45"/>
<path d="M122.8 218H126" fill="none" stroke="#2757a5" stroke-width="0.45"/>
<rect x="129.8" y="228" width="3.2" height="6" fill="#f9e0e0" stroke="#ec6a6c" stroke-width="0.45"/>
<path d="M129.8 231H133" fill="none" stroke="#e3262b" stroke-width="0.45"/>
<path d="M124.6 208h0M124.6 232h0M124.5 224.2h0M124.2 216.2h0M124.3 211.4h0M124.3 218.5h0M124.4 228h0M124.2 210.2h0M124.3 214.6h0M124.2 212.3h0M124.4 216.6h0M124.6 220.2h0M124.2 219.6h0M124.2 220.2h0M124.4 220.7h0M124.6 219.5h0M124.4 220.9h0M124.3 227.7h0M124.4 223.3h0M124.5 214.6h0M124.3 213.2h0M124.5 212.9h0M124.4 219.8h0M124.2 227.7h0M124.4 214.7h0M124.5 228.6h0M124.5 219.2h0M124.6 225.1h0M124.3 222.5h0M124.5 219.6h0M124.3 224.1h0M124.4 222.4h0" fill="none" stroke="#2757a5" stroke-width="1.2" stroke-linecap="round"/>
<path d="M131.5 203h0M131.6 239h0M131.5 230.3h0M131.3 213.9h0M131.2 223.6h0M131.5 232.1h0M131.3 234.8h0M131.2 228h0M131.3 230.3h0M131.3 215.3h0M131.3 229.3h0M131.3 222.3h0M131.4 230.8h0M131.2 217.6h0M131.3 226.5h0M131.5 227.6h0M131.5 213.9h0M131.6 220.2h0M131.4 209h0M131.2 228.9h0M131.5 208.3h0M131.6 224.6h0M131.4 216.9h0M131.2 224.5h0M131.2 229.7h0M131.6 215.6h0M131.4 222.8h0M131.3 215.1h0M131.6 229.7h0M131.6 225.7h0M131.4 222.1h0M131.3 232.6h0" fill="none" stroke="#e3262b" stroke-width="1.2" stroke-linecap="round"/>
<text x="125.7" y="253" font-size="3.9" fill="#333" text-anchor="end" transform="rotate(-90 125.7 253)">Normal</text>
<text x="132.7" y="253" font-size="3.9" fill="#333" text-anchor="end" transform="rotate(-90 132.7 253)">Tumor</text>
<path d="M124.4 251V252.2M131.4 251V252.2" fill="none" stroke="#555" stroke-width="0.3"/>
<rect x="137.1" y="183" width="15.4" height="6.8" fill="#ffffff" stroke="#333" stroke-width="0.55"/>
<text x="144.8" y="187.9" font-size="3.9" fill="#222" text-anchor="middle">KIRC</text>
<text x="144.8" y="193" font-size="2.8" fill="#444" text-anchor="middle">****</text>
<path d="M137.1 251.5H152.5" fill="none" stroke="#666" stroke-width="0.8"/>
<path d="M141.7 215.6L148.7 197M141.7 236.7H148.7M141.7 225.6L148.7 217.3M141.7 224.8L148.7 211.8M141.7 228.6L148.7 217.6M141.7 217.8L148.7 214.8M141.7 231.2L148.7 210.3M141.7 230.6L148.7 201M141.7 229.8L148.7 218.8M141.7 222.5L148.7 217.7M141.7 225.7L148.7 209.2M141.7 224.8L148.7 214.1M141.7 218.9L148.7 203.8M141.7 221.9L148.7 210.2M141.7 221.5L148.7 218.7M141.7 227.9L148.7 219M141.7 229.2L148.7 216.4M141.7 227.9L148.7 206.5M141.7 220.1L148.7 218.5M141.7 224.8L148.7 213.9M141.7 220.3L148.7 213.2M141.7 224.2L148.7 208.9M141.7 224.9L148.7 216.9M141.7 234.7L148.7 212.3M141.7 232.7L148.7 217.2M141.7 226.2L148.7 210.6M141.7 230.7L148.7 231.4M141.7 230.4L148.7 230.6M141.7 229.4L148.7 227.5M141.7 230.2L148.7 200.7M141.7 226.4L148.7 218.7M141.7 228.4L148.7 211.7M141.7 226L148.7 198.9M141.7 228.6L148.7 207.7M141.7 232.4L148.7 223.2M141.7 226.9L148.7 226.2M141.7 222.6L148.7 217.5M141.7 234.9L148.7 214.5M141.7 222.6L148.7 202.6M141.7 220.6L148.7 209.8M141.7 226.3L148.7 231.1M141.7 225.2L148.7 216.6M141.7 230.1L148.7 216.5M141.7 222.1L148.7 209.3M141.7 223.7L148.7 229.7M141.7 226.4L148.7 203.1M141.7 221.9L148.7 214M141.7 224.9L148.7 230.2M141.7 232.6L148.7 221.6M141.7 220.8L148.7 202.6M141.7 224L148.7 212.9M141.7 235.1L148.7 221.2M141.7 230.2L148.7 221.4M141.7 232.7L148.7 230.5M141.7 229.8L148.7 204.9M141.7 225.7L148.7 221.7M141.7 218.7L148.7 222.1M141.7 235.9L148.7 214.2M141.7 222.7L148.7 223.5M141.7 220.8L148.7 218.8M141.7 230.9L148.7 229.7M141.7 230.8L148.7 217.4M141.7 225.7L148.7 208.8M141.7 227.6L148.7 202.9M141.7 229.9L148.7 231.3M141.7 224.9L148.7 206.8M141.7 234.5L148.7 204.9M141.7 222L148.7 216.5" fill="none" stroke="#b0b0b0" stroke-width="0.3"/>
<rect x="140.1" y="222" width="3.2" height="7" fill="#e6ecf6" stroke="#5a7fc0" stroke-width="0.45"/>
<path d="M140.1 225.5H143.3" fill="none" stroke="#2757a5" stroke-width="0.45"/>
<rect x="147.1" y="207" width="3.2" height="10" fill="#f9e0e0" stroke="#ec6a6c" stroke-width="0.45"/>
<path d="M147.1 212H150.3" fill="none" stroke="#e3262b" stroke-width="0.45"/>
<path d="M141.8 215.6h0M141.5 236.7h0M141.5 225.6h0M141.6 224.8h0M141.4 228.6h0M141.7 217.8h0M141.6 231.2h0M141.8 230.6h0M141.7 229.8h0M141.9 222.5h0M141.7 225.7h0M141.4 224.8h0M141.6 218.9h0M141.7 221.9h0M141.6 221.5h0M141.7 227.9h0M141.6 229.2h0M141.7 227.9h0M141.5 220.1h0M141.9 224.8h0M141.8 220.3h0M141.9 224.2h0M141.6 224.9h0M141.5 234.7h0M141.9 232.7h0M141.7 226.2h0M141.9 230.7h0M141.8 230.4h0M141.6 229.4h0M141.7 230.2h0M141.8 226.4h0M141.7 228.4h0M141.9 226h0M141.9 228.6h0M141.4 232.4h0M141.9 226.9h0M141.5 222.6h0M141.6 234.9h0M141.8 222.6h0M141.7 220.6h0M141.7 226.3h0M141.7 225.2h0M141.7 230.1h0M141.7 222.1h0M141.5 223.7h0M141.5 226.4h0M141.6 221.9h0M141.9 224.9h0M141.6 232.6h0M141.7 220.8h0M141.9 224h0M141.6 235.1h0M141.7 230.2h0M141.6 232.7h0M141.8 229.8h0M141.8 225.7h0M141.5 218.7h0M141.8 235.9h0M141.7 222.7h0M141.8 220.8h0M141.5 230.9h0M141.5 230.8h0M141.5 225.7h0M141.7 227.6h0M141.8 229.9h0M141.7 224.9h0M141.7 234.5h0M141.7 222h0" fill="none" stroke="#2757a5" stroke-width="1.2" stroke-linecap="round"/>
<path d="M148.7 197h0M148.7 236.7h0M148.5 217.3h0M148.6 211.8h0M148.7 217.6h0M148.6 214.8h0M148.5 210.3h0M148.8 201h0M148.8 218.8h0M148.6 217.7h0M148.6 209.2h0M148.9 214.1h0M148.6 203.8h0M148.6 210.2h0M148.7 218.7h0M148.6 219h0M148.8 216.4h0M148.7 206.5h0M148.7 218.5h0M148.8 213.9h0M148.6 213.2h0M148.6 208.9h0M148.7 216.9h0M148.5 212.3h0M148.8 217.2h0M148.5 210.6h0M148.6 231.4h0M148.5 230.6h0M148.8 227.5h0M148.8 200.7h0M148.7 218.7h0M148.4 211.7h0M148.6 198.9h0M148.6 207.7h0M148.6 223.2h0M148.7 226.2h0M148.5 217.5h0M148.4 214.5h0M148.8 202.6h0M148.9 209.8h0M148.6 231.1h0M148.4 216.6h0M148.5 216.5h0M148.8 209.3h0M148.5 229.7h0M148.6 203.1h0M148.9 214h0M148.8 230.2h0M148.7 221.6h0M148.9 202.6h0M148.9 212.9h0M148.5 221.2h0M148.7 221.4h0M148.6 230.5h0M148.7 204.9h0M148.7 221.7h0M148.9 222.1h0M148.6 214.2h0M148.9 223.5h0M148.5 218.8h0M148.5 229.7h0M148.8 217.4h0M148.6 208.8h0M148.7 202.9h0M148.7 231.3h0M148.9 206.8h0M148.6 204.9h0M148.6 216.5h0" fill="none" stroke="#e3262b" stroke-width="1.2" stroke-linecap="round"/>
<text x="143" y="253" font-size="3.9" fill="#333" text-anchor="end" transform="rotate(-90 143 253)">Normal</text>
<text x="150" y="253" font-size="3.9" fill="#333" text-anchor="end" transform="rotate(-90 150 253)">Tumor</text>
<path d="M141.7 251V252.2M148.7 251V252.2" fill="none" stroke="#555" stroke-width="0.3"/>
<rect x="154.4" y="183" width="15.4" height="6.8" fill="#ffffff" stroke="#333" stroke-width="0.55"/>
<text x="162.1" y="187.9" font-size="3.9" fill="#222" text-anchor="middle">KIRP</text>
<text x="162.1" y="193" font-size="2.8" fill="#444" text-anchor="middle">ns</text>
<path d="M154.4 251.5H169.8" fill="none" stroke="#666" stroke-width="0.8"/>
<path d="M159 214L166 200.7M159 234L166 246.6M159 217.7L166 205.5M159 217.6L166 226.8M159 222.1L166 219.3M159 222.9L166 225.5M159 229.3L166 210.1M159 216.1L166 227.3M159 223.6L166 211.8M159 219.7L166 233.1M159 224.9L166 227.6M159 224.8L166 217.4M159 224.8L166 237.5M159 224L166 230.6M159 217.8L166 217.3M159 215.9L166 207.3M159 228.2L166 233.2M159 228.6L166 224.6M159 221.4L166 237.6M159 227.8L166 223.9M159 222.6L166 227.8M159 218.4L166 213.1M159 216.3L166 218.4M159 219.8L166 216.5M159 223.3L166 219.2M159 217.9L166 205.8M159 226.8L166 232.6M159 228.6L166 227M159 226.8L166 216.2M159 219.8L166 226.6M159 218.2L166 232.3M159 225.3L166 228.7M159 224.1L166 228.2M159 222.4L166 207.8M159 223.9L166 204.2M159 218.1L166 225.6" fill="none" stroke="#b0b0b0" stroke-width="0.3"/>
<rect x="157.4" y="218" width="3.2" height="10" fill="#e6ecf6" stroke="#5a7fc0" stroke-width="0.45"/>
<path d="M157.4 223H160.6" fill="none" stroke="#2757a5" stroke-width="0.45"/>
<rect x="164.4" y="223" width="3.2" height="16" fill="#f9e0e0" stroke="#ec6a6c" stroke-width="0.45"/>
<path d="M164.4 231H167.6" fill="none" stroke="#e3262b" stroke-width="0.45"/>
<path d="M159 214h0M158.7 234h0M158.8 217.7h0M159 217.6h0M159 222.1h0M159.2 222.9h0M158.7 229.3h0M159 216.1h0M158.8 223.6h0M159 219.7h0M159 224.9h0M159.1 224.8h0M158.8 224.8h0M158.8 224h0M159.1 217.8h0M159.2 215.9h0M158.7 228.2h0M158.9 228.6h0M159.2 221.4h0M158.8 227.8h0M159.1 222.6h0M158.9 218.4h0M159 216.3h0M158.8 219.8h0M159 223.3h0M159.2 217.9h0M159.1 226.8h0M158.9 228.6h0M159.1 226.8h0M158.9 219.8h0M158.9 218.2h0M159.1 225.3h0M158.7 224.1h0M159 222.4h0M159 223.9h0M159.2 218.1h0" fill="none" stroke="#2757a5" stroke-width="1.2" stroke-linecap="round"/>
<path d="M166 200.7h0M165.9 246.6h0M165.9 205.5h0M165.8 226.8h0M165.9 219.3h0M166.1 225.5h0M166 210.1h0M166.1 227.3h0M165.7 211.8h0M165.9 233.1h0M165.7 227.6h0M166.1 217.4h0M166.1 237.5h0M165.8 230.6h0M166 217.3h0M166.1 207.3h0M165.8 233.2h0M166.1 224.6h0M166 237.6h0M165.9 223.9h0M165.8 227.8h0M165.9 213.1h0M165.9 218.4h0M165.9 216.5h0M165.9 219.2h0M166.1 205.8h0M166.2 232.6h0M166 227h0M166 216.2h0M166.1 226.6h0M166.1 232.3h0M166.2 228.7h0M166.1 228.2h0M166.1 207.8h0M165.9 204.2h0M166 225.6h0" fill="none" stroke="#e3262b" stroke-width="1.2" stroke-linecap="round"/>
<text x="160.3" y="253" font-size="3.9" fill="#333" text-anchor="end" transform="rotate(-90 160.3 253)">Normal</text>
<text x="167.3" y="253" font-size="3.9" fill="#333" text-anchor="end" transform="rotate(-90 167.3 253)">Tumor</text>
<path d="M159 251V252.2M166 251V252.2" fill="none" stroke="#555" stroke-width="0.3"/>
<rect x="171.6" y="183" width="15.4" height="6.8" fill="#ffffff" stroke="#333" stroke-width="0.55"/>
<text x="179.3" y="187.9" font-size="3.9" fill="#222" text-anchor="middle">LIHC</text>
<text x="179.3" y="193" font-size="2.8" fill="#444" text-anchor="middle">ns</text>
<path d="M171.6 251.5H187" fill="none" stroke="#666" stroke-width="0.8"/>
<path d="M176.2 207L183.2 201.6M176.2 233.5L183.2 241.8M176.2 212L183.2 215.3M176.2 221.7L183.2 205.2M176.2 210.9L183.2 218.4M176.2 220.8L183.2 209M176.2 224.3L183.2 227.9M176.2 220.5L183.2 228.6M176.2 214.9L183.2 220.6M176.2 215.3L183.2 217.6M176.2 222.9L183.2 222.4M176.2 229L183.2 217.4M176.2 215L183.2 220.7M176.2 225.9L183.2 217.4M176.2 216.4L183.2 213.1M176.2 216.5L183.2 217.5M176.2 226.6L183.2 217.3M176.2 219.1L183.2 222M176.2 212.6L183.2 225M176.2 222.5L183.2 225.9M176.2 222.6L183.2 209.9M176.2 220.4L183.2 216.8M176.2 219.8L183.2 225.1M176.2 227.1L183.2 216M176.2 219.9L183.2 219.9M176.2 208.7L183.2 215.3M176.2 221.3L183.2 211.2M176.2 215.9L183.2 223.7M176.2 228.2L183.2 234.3M176.2 221.9L183.2 232.7M176.2 226.4L183.2 214.3M176.2 224.2L183.2 203.7M176.2 224L183.2 209.4M176.2 209.8L183.2 209.7M176.2 228.2L183.2 223.8M176.2 213.1L183.2 217.5M176.2 210.6L183.2 214.6M176.2 220L183.2 216.6M176.2 225.6L183.2 231.6M176.2 224.2L183.2 221.2M176.2 215.8L183.2 229.1M176.2 211.9L183.2 239.8M176.2 232.5L183.2 223M176.2 222L183.2 210.1M176.2 224.9L183.2 232M176.2 221.4L183.2 212.1M176.2 218.5L183.2 218.4M176.2 217.1L183.2 219.1M176.2 224.1L183.2 218.1M176.2 224.7L183.2 211.2M176.2 221L183.2 225.1M176.2 221.7L183.2 212.1M176.2 228.1L183.2 209.3M176.2 214.8L183.2 215.4M176.2 225.1L183.2 227M176.2 217.2L183.2 224.3M176.2 213.7L183.2 220.2M176.2 215.7L183.2 228.5M176.2 219.7L183.2 209.3M176.2 226.6L183.2 231.2" fill="none" stroke="#b0b0b0" stroke-width="0.3"/>
<rect x="174.6" y="217" width="3.2" height="9.6" fill="#e6ecf6" stroke="#5a7fc0" stroke-width="0.45"/>
<path d="M174.6 221.8H177.8" fill="none" stroke="#2757a5" stroke-width="0.45"/>
<rect x="181.6" y="212.7" width="3.2" height="11.1" fill="#f9e0e0" stroke="#ec6a6c" stroke-width="0.45"/>
<path d="M181.6 218.2H184.8" fill="none" stroke="#e3262b" stroke-width="0.45"/>
<path d="M176.3 207h0M176.2 233.5h0M176.3 212h0M176.2 221.7h0M176.4 210.9h0M176.3 220.8h0M176.4 224.3h0M176.4 220.5h0M176.4 214.9h0M176.1 215.3h0M176.1 222.9h0M176 229h0M176.3 215h0M176.2 225.9h0M176.4 216.4h0M176.4 216.5h0M176.2 226.6h0M176 219.1h0M176.2 212.6h0M176 222.5h0M176 222.6h0M176.1 220.4h0M176.2 219.8h0M176.5 227.1h0M176.1 219.9h0M176 208.7h0M176.3 221.3h0M176.4 215.9h0M176.1 228.2h0M176.4 221.9h0M176.1 226.4h0M176.1 224.2h0M176 224h0M176.3 209.8h0M176.2 228.2h0M176.5 213.1h0M176.3 210.6h0M176.4 220h0M176.1 225.6h0M176.3 224.2h0M176.1 215.8h0M176.4 211.9h0M176.3 232.5h0M176 222h0M176.2 224.9h0M176.2 221.4h0M176.2 218.5h0M176.2 217.1h0M176.2 224.1h0M176.4 224.7h0M176.4 221h0M176.2 221.7h0M176.4 228.1h0M176.3 214.8h0M176.4 225.1h0M176.3 217.2h0M176.4 213.7h0M176.1 215.7h0M176.2 219.7h0M176 226.6h0" fill="none" stroke="#2757a5" stroke-width="1.2" stroke-linecap="round"/>
<path d="M183.2 201.6h0M183.5 241.8h0M183.3 215.3h0M183.1 205.2h0M183.4 218.4h0M183.1 209h0M183.4 227.9h0M183.3 228.6h0M183.3 220.6h0M183.5 217.6h0M183.3 222.4h0M183.4 217.4h0M183.4 220.7h0M183.4 217.4h0M183.2 213.1h0M183.3 217.5h0M183.1 217.3h0M183.1 222h0M183.2 225h0M183.2 225.9h0M183.1 209.9h0M183.2 216.8h0M183.4 225.1h0M183.3 216h0M183.5 219.9h0M183.1 215.3h0M183.3 211.2h0M183 223.7h0M183.4 234.3h0M183.3 232.7h0M183.3 214.3h0M183.3 203.7h0M183.1 209.4h0M183.1 209.7h0M183.1 223.8h0M183.3 217.5h0M183.1 214.6h0M183.1 216.6h0M183.1 231.6h0M183.2 221.2h0M183 229.1h0M183.2 239.8h0M183.2 223h0M183.1 210.1h0M183.1 232h0M183.4 212.1h0M183.1 218.4h0M183.1 219.1h0M183.2 218.1h0M183.3 211.2h0M183.4 225.1h0M183 212.1h0M183.5 209.3h0M183.4 215.4h0M183.4 227h0M183.3 224.3h0M183.1 220.2h0M183.2 228.5h0M183.1 209.3h0M183.1 231.2h0" fill="none" stroke="#e3262b" stroke-width="1.2" stroke-linecap="round"/>
<text x="177.5" y="253" font-size="3.9" fill="#333" text-anchor="end" transform="rotate(-90 177.5 253)">Normal</text>
<text x="184.5" y="253" font-size="3.9" fill="#333" text-anchor="end" transform="rotate(-90 184.5 253)">Tumor</text>
<path d="M176.2 251V252.2M183.2 251V252.2" fill="none" stroke="#555" stroke-width="0.3"/>
<rect x="188.9" y="183" width="15.4" height="6.8" fill="#ffffff" stroke="#333" stroke-width="0.55"/>
<text x="196.6" y="187.9" font-size="3.9" fill="#222" text-anchor="middle">LUAD</text>
<text x="196.6" y="193" font-size="2.8" fill="#444" text-anchor="middle">*</text>
<path d="M188.9 251.5H204.3" fill="none" stroke="#666" stroke-width="0.8"/>
<path d="M193.5 204L200.5 201.6M193.5 219.6L200.5 235M193.5 208L200.5 212.9M193.5 206.3L200.5 218.4M193.5 212.6L200.5 216.2M193.5 214.6L200.5 225M193.5 212.9L200.5 220.1M193.5 215.1L200.5 227.8M193.5 209.5L200.5 218.1M193.5 210.9L200.5 229.3M193.5 209.6L200.5 212.4M193.5 210.9L200.5 202.4M193.5 211.2L200.5 212.8M193.5 207.3L200.5 229.6M193.5 211.1L200.5 220.3M193.5 214.7L200.5 220.1M193.5 211.1L200.5 212.6M193.5 210.5L200.5 222.2M193.5 213.1L200.5 220.3M193.5 207.7L200.5 215.3M193.5 204.3L200.5 225.2M193.5 204.7L200.5 213M193.5 217.9L200.5 205.8M193.5 207.6L200.5 213.5M193.5 207.5L200.5 205.3M193.5 213.7L200.5 216.8M193.5 208.7L200.5 221.3M193.5 217.6L200.5 218.7M193.5 219L200.5 231M193.5 208.3L200.5 221.9M193.5 209.9L200.5 221.4M193.5 216.6L200.5 223.7M193.5 217.2L200.5 209.8M193.5 213.8L200.5 213.9M193.5 213.7L200.5 218.7M193.5 209.9L200.5 220.4M193.5 204.9L200.5 215.1M193.5 207.4L200.5 216.7M193.5 217.2L200.5 212.5M193.5 208L200.5 211.3M193.5 213.1L200.5 223.5M193.5 214.8L200.5 208M193.5 213.5L200.5 216.3M193.5 213.1L200.5 225.3M193.5 208.2L200.5 209M193.5 216.5L200.5 214.5M193.5 207.9L200.5 223.8M193.5 208.7L200.5 226.6M193.5 212L200.5 231.8M193.5 214.3L200.5 229.2M193.5 214.7L200.5 209.6M193.5 209.7L200.5 222.1M193.5 209.1L200.5 213.8M193.5 214.9L200.5 207.6M193.5 207.1L200.5 203.6M193.5 214.1L200.5 225.4M193.5 209L200.5 205.9M193.5 211.9L200.5 224.6M193.5 208.5L200.5 216.7M193.5 208.4L200.5 226.1M193.5 208L200.5 224.9M193.5 207.8L200.5 214.6M193.5 210L200.5 211.1M193.5 215.5L200.5 217M193.5 206.7L200.5 217.4M193.5 208.7L200.5 220.4M193.5 209.7L200.5 213.3M193.5 209.8L200.5 211.5" fill="none" stroke="#b0b0b0" stroke-width="0.3"/>
<rect x="191.9" y="205.8" width="3.2" height="8.2" fill="#e6ecf6" stroke="#5a7fc0" stroke-width="0.45"/>
<path d="M191.9 209.9H195.1" fill="none" stroke="#2757a5" stroke-width="0.45"/>
<rect x="198.9" y="208.5" width="3.2" height="9.5" fill="#f9e0e0" stroke="#ec6a6c" stroke-width="0.45"/>
<path d="M198.9 213.2H202.1" fill="none" stroke="#e3262b" stroke-width="0.45"/>
<path d="M193.6 204h0M193.4 219.6h0M193.3 208h0M193.4 206.3h0M193.7 212.6h0M193.8 214.6h0M193.4 212.9h0M193.7 215.1h0M193.3 209.5h0M193.3 210.9h0M193.5 209.6h0M193.7 210.9h0M193.7 211.2h0M193.6 207.3h0M193.5 211.1h0M193.3 214.7h0M193.6 211.1h0M193.3 210.5h0M193.4 213.1h0M193.7 207.7h0M193.3 204.3h0M193.8 204.7h0M193.5 217.9h0M193.7 207.6h0M193.6 207.5h0M193.6 213.7h0M193.7 208.7h0M193.5 217.6h0M193.6 219h0M193.7 208.3h0M193.4 209.9h0M193.7 216.6h0M193.7 217.2h0M193.6 213.8h0M193.4 213.7h0M193.3 209.9h0M193.5 204.9h0M193.3 207.4h0M193.5 217.2h0M193.7 208h0M193.5 213.1h0M193.4 214.8h0M193.3 213.5h0M193.7 213.1h0M193.4 208.2h0M193.4 216.5h0M193.8 207.9h0M193.7 208.7h0M193.5 212h0M193.5 214.3h0M193.3 214.7h0M193.3 209.7h0M193.3 209.1h0M193.7 214.9h0M193.4 207.1h0M193.3 214.1h0M193.4 209h0M193.3 211.9h0M193.7 208.5h0M193.7 208.4h0M193.6 208h0M193.7 207.8h0M193.3 210h0M193.3 215.5h0M193.7 206.7h0M193.6 208.7h0M193.6 209.7h0M193.5 209.8h0" fill="none" stroke="#2757a5" stroke-width="1.2" stroke-linecap="round"/>
<path d="M200.6 201.6h0M200.6 235h0M200.4 212.9h0M200.6 218.4h0M200.6 216.2h0M200.7 225h0M200.5 220.1h0M200.4 227.8h0M200.8 218.1h0M200.3 229.3h0M200.3 212.4h0M200.6 202.4h0M200.6 212.8h0M200.6 229.6h0M200.4 220.3h0M200.7 220.1h0M200.5 212.6h0M200.5 222.2h0M200.3 220.3h0M200.7 215.3h0M200.7 225.2h0M200.5 213h0M200.7 205.8h0M200.4 213.5h0M200.5 205.3h0M200.5 216.8h0M200.7 221.3h0M200.5 218.7h0M200.3 231h0M200.4 221.9h0M200.4 221.4h0M200.3 223.7h0M200.3 209.8h0M200.4 213.9h0M200.6 218.7h0M200.8 220.4h0M200.8 215.1h0M200.5 216.7h0M200.4 212.5h0M200.7 211.3h0M200.4 223.5h0M200.5 208h0M200.3 216.3h0M200.4 225.3h0M200.8 209h0M200.3 214.5h0M200.4 223.8h0M200.6 226.6h0M200.6 231.8h0M200.6 229.2h0M200.3 209.6h0M200.3 222.1h0M200.4 213.8h0M200.8 207.6h0M200.8 203.6h0M200.3 225.4h0M200.3 205.9h0M200.4 224.6h0M200.6 216.7h0M200.7 226.1h0M200.3 224.9h0M200.8 214.6h0M200.3 211.1h0M200.6 217h0M200.6 217.4h0M200.6 220.4h0M200.5 213.3h0M200.4 211.5h0" fill="none" stroke="#e3262b" stroke-width="1.2" stroke-linecap="round"/>
<text x="194.8" y="253" font-size="3.9" fill="#333" text-anchor="end" transform="rotate(-90 194.8 253)">Normal</text>
<text x="201.8" y="253" font-size="3.9" fill="#333" text-anchor="end" transform="rotate(-90 201.8 253)">Tumor</text>
<path d="M193.5 251V252.2M200.5 251V252.2" fill="none" stroke="#555" stroke-width="0.3"/>
<rect x="206.2" y="183" width="15.4" height="6.8" fill="#ffffff" stroke="#333" stroke-width="0.55"/>
<text x="213.9" y="187.9" font-size="3.9" fill="#222" text-anchor="middle">LUSC</text>
<text x="213.9" y="193" font-size="2.8" fill="#444" text-anchor="middle">****</text>
<path d="M206.2 251.5H221.6" fill="none" stroke="#666" stroke-width="0.8"/>
<path d="M210.8 192.7L217.8 201.6M210.8 216.9L217.8 232M210.8 209.3L217.8 208.2M210.8 198.7L217.8 211.2M210.8 213.1L217.8 208.3M210.8 210.9L217.8 215.1M210.8 196.6L217.8 216.1M210.8 210.1L217.8 206M210.8 207.7L217.8 209.1M210.8 194.9L217.8 213.1M210.8 199.1L217.8 219.6M210.8 204.6L217.8 230.2M210.8 203.5L217.8 203.6M210.8 211L217.8 217.7M210.8 206.5L217.8 221.3M210.8 198.2L217.8 221.5M210.8 205.9L217.8 211M210.8 209.2L217.8 222.3M210.8 204.6L217.8 223.1M210.8 205.4L217.8 224M210.8 214.4L217.8 211.8M210.8 213.2L217.8 224.8M210.8 211.8L217.8 214.1M210.8 208.5L217.8 216.6M210.8 204.5L217.8 205.6M210.8 210.6L217.8 219.8M210.8 213.1L217.8 214.7M210.8 200.9L217.8 210.1M210.8 205.9L217.8 216.4M210.8 211.3L217.8 223.8M210.8 205.4L217.8 205.4M210.8 203L217.8 216.9M210.8 206.8L217.8 213.8M210.8 208.6L217.8 228.3M210.8 207.1L217.8 208.6M210.8 211L217.8 218.6M210.8 206.8L217.8 217M210.8 201.6L217.8 212.7M210.8 205.8L217.8 219.3M210.8 202.3L217.8 215.5M210.8 213.3L217.8 206.8M210.8 206.8L217.8 211.4M210.8 209.7L217.8 207.9M210.8 214.7L217.8 223M210.8 200.9L217.8 220.8M210.8 204.2L217.8 220.7M210.8 209.1L217.8 226.5M210.8 204.5L217.8 209.1M210.8 201.1L217.8 208.9M210.8 202.7L217.8 207.5M210.8 201.7L217.8 223.5M210.8 216L217.8 223.1M210.8 201.8L217.8 209.7M210.8 206L217.8 205.1M210.8 204.9L217.8 208.5M210.8 202L217.8 206M210.8 199.6L217.8 218.9M210.8 201.3L217.8 215.8M210.8 209.3L217.8 217M210.8 205.7L217.8 205.1M210.8 197.7L217.8 211.2M210.8 212.2L217.8 217.9M210.8 200.2L217.8 217M210.8 203.2L217.8 216.2M210.8 210.6L217.8 210.7M210.8 206.5L217.8 219.1M210.8 208.1L217.8 222.6M210.8 204.4L217.8 216.1" fill="none" stroke="#b0b0b0" stroke-width="0.3"/>
<rect x="209.2" y="206.6" width="3.2" height="6.1" fill="#e6ecf6" stroke="#5a7fc0" stroke-width="0.45"/>
<path d="M209.2 209.6H212.4" fill="none" stroke="#2757a5" stroke-width="0.45"/>
<rect x="216.2" y="211.3" width="3.2" height="11.1" fill="#f9e0e0" stroke="#ec6a6c" stroke-width="0.45"/>
<path d="M216.2 216.9H219.4" fill="none" stroke="#e3262b" stroke-width="0.45"/>
<path d="M210.6 192.7h0M210.6 216.9h0M210.9 209.3h0M210.9 198.7h0M210.8 213.1h0M210.8 210.9h0M211 196.6h0M210.6 210.1h0M210.6 207.7h0M210.9 194.9h0M211 199.1h0M211 204.6h0M210.8 203.5h0M210.6 211h0M210.7 206.5h0M210.6 198.2h0M210.9 205.9h0M211 209.2h0M210.9 204.6h0M210.8 205.4h0M210.7 214.4h0M210.7 213.2h0M211 211.8h0M210.7 208.5h0M211 204.5h0M210.9 210.6h0M210.7 213.1h0M210.6 200.9h0M210.7 205.9h0M210.9 211.3h0M210.8 205.4h0M210.9 203h0M210.9 206.8h0M210.7 208.6h0M210.8 207.1h0M210.7 211h0M210.9 206.8h0M210.7 201.6h0M210.8 205.8h0M210.7 202.3h0M210.8 213.3h0M211 206.8h0M210.9 209.7h0M210.8 214.7h0M210.9 200.9h0M210.6 204.2h0M210.6 209.1h0M210.9 204.5h0M211 201.1h0M210.9 202.7h0M210.6 201.7h0M210.7 216h0M210.8 201.8h0M210.8 206h0M210.6 204.9h0M211 202h0M210.7 199.6h0M210.7 201.3h0M210.9 209.3h0M210.9 205.7h0M210.9 197.7h0M211 212.2h0M210.6 200.2h0M210.9 203.2h0M210.7 210.6h0M210.6 206.5h0M211 208.1h0M210.6 204.4h0" fill="none" stroke="#2757a5" stroke-width="1.2" stroke-linecap="round"/>
<path d="M217.9 201.6h0M217.9 232h0M217.9 208.2h0M217.8 211.2h0M217.7 208.3h0M218 215.1h0M217.8 216.1h0M218 206h0M217.7 209.1h0M217.9 213.1h0M217.9 219.6h0M217.7 230.2h0M217.9 203.6h0M217.8 217.7h0M218 221.3h0M217.9 221.5h0M217.9 211h0M217.8 222.3h0M217.8 223.1h0M217.8 224h0M217.7 211.8h0M217.8 224.8h0M217.6 214.1h0M217.6 216.6h0M218 205.6h0M217.6 219.8h0M217.7 214.7h0M218 210.1h0M217.9 216.4h0M217.7 223.8h0M217.8 205.4h0M217.9 216.9h0M217.7 213.8h0M217.7 228.3h0M217.9 208.6h0M218 218.6h0M217.7 217h0M217.6 212.7h0M217.6 219.3h0M217.6 215.5h0M217.9 206.8h0M217.8 211.4h0M217.6 207.9h0M217.8 223h0M217.9 220.8h0M218 220.7h0M217.9 226.5h0M217.8 209.1h0M218 208.9h0M217.6 207.5h0M217.6 223.5h0M217.9 223.1h0M217.7 209.7h0M217.9 205.1h0M217.6 208.5h0M217.9 206h0M217.8 218.9h0M217.8 215.8h0M217.8 217h0M217.7 205.1h0M217.8 211.2h0M217.7 217.9h0M217.7 217h0M217.6 216.2h0M217.7 210.7h0M217.8 219.1h0M217.7 222.6h0M218 216.1h0" fill="none" stroke="#e3262b" stroke-width="1.2" stroke-linecap="round"/>
<text x="212.1" y="253" font-size="3.9" fill="#333" text-anchor="end" transform="rotate(-90 212.1 253)">Normal</text>
<text x="219.1" y="253" font-size="3.9" fill="#333" text-anchor="end" transform="rotate(-90 219.1 253)">Tumor</text>
<path d="M210.8 251V252.2M217.8 251V252.2" fill="none" stroke="#555" stroke-width="0.3"/>
<rect x="223.5" y="183" width="15.4" height="6.8" fill="#ffffff" stroke="#333" stroke-width="0.55"/>
<text x="231.2" y="187.9" font-size="3.9" fill="#222" text-anchor="middle">PRAD</text>
<text x="231.2" y="193" font-size="2.8" fill="#444" text-anchor="middle">ns</text>
<path d="M223.5 251.5H238.9" fill="none" stroke="#666" stroke-width="0.8"/>
<path d="M228.1 212L235.1 218M228.1 235H235.1M228.1 224.3L235.1 222.9M228.1 231.6L235.1 226.2M228.1 222.6L235.1 220.7M228.1 223.5L235.1 230.1M228.1 225L235.1 224.6M228.1 222.1L235.1 226.9M228.1 224.4L235.1 222M228.1 229.2L235.1 226.6M228.1 222.4L235.1 225.7M228.1 232L235.1 227.8M228.1 222.6L235.1 226.3M228.1 224.6L235.1 226.9M228.1 223L235.1 222.4M228.1 219.7L235.1 227.5M228.1 222.9L235.1 229.3M228.1 216L235.1 229.6M228.1 220.9L235.1 227M228.1 218.7L235.1 230.4M228.1 228.9L235.1 223.9M228.1 221.8L235.1 225.1M228.1 220.6L235.1 226M228.1 219.2L235.1 225.9M228.1 226.7L235.1 230.3M228.1 226.5L235.1 229.5M228.1 225.8L235.1 225.6M228.1 220.1L235.1 231.1M228.1 216.5L235.1 225M228.1 229.6L235.1 232.6M228.1 228.7L235.1 228.6M228.1 216.9L235.1 226.9M228.1 216.2L235.1 227.6M228.1 229L235.1 226.6M228.1 216.5L235.1 219.3M228.1 217.6L235.1 226M228.1 220.6L235.1 223.6M228.1 223.1L235.1 233.4M228.1 228.9L235.1 227M228.1 224.8L235.1 226.8M228.1 224.8L235.1 224.9M228.1 226L235.1 226.5M228.1 227.1L235.1 225.4M228.1 222.7L235.1 225.7M228.1 228.7L235.1 225.7M228.1 227.4L235.1 229.7M228.1 230.2L235.1 224.4M228.1 221.9L235.1 232.1M228.1 230.9L235.1 229.9M228.1 232.6L235.1 227.3M228.1 229.4L235.1 221.4M228.1 216.7L235.1 229.3M228.1 227.7L235.1 225.5M228.1 228.5L235.1 231.8M228.1 221L235.1 226.7M228.1 215.7L235.1 228.9M228.1 221L235.1 225.6M228.1 227.9L235.1 227M228.1 224.9L235.1 222.8M228.1 226.2L235.1 230.3" fill="none" stroke="#b0b0b0" stroke-width="0.3"/>
<rect x="226.5" y="223.8" width="3.2" height="5.6" fill="#e6ecf6" stroke="#5a7fc0" stroke-width="0.45"/>
<path d="M226.5 226.6H229.7" fill="none" stroke="#2757a5" stroke-width="0.45"/>
<rect x="233.5" y="223.8" width="3.2" height="6.9" fill="#f9e0e0" stroke="#ec6a6c" stroke-width="0.45"/>
<path d="M233.5 227.2H236.7" fill="none" stroke="#e3262b" stroke-width="0.45"/>
<path d="M228.2 212h0M228.2 235h0M227.9 224.3h0M228.2 231.6h0M228.1 222.6h0M228 223.5h0M228.1 225h0M228.2 222.1h0M228.2 224.4h0M228.2 229.2h0M228.2 222.4h0M228 232h0M227.8 222.6h0M228.1 224.6h0M228.2 223h0M228.3 219.7h0M228 222.9h0M227.9 216h0M227.9 220.9h0M228 218.7h0M228.2 228.9h0M228 221.8h0M228 220.6h0M228.1 219.2h0M228 226.7h0M228.3 226.5h0M228.2 225.8h0M228.2 220.1h0M228.1 216.5h0M227.8 229.6h0M228.2 228.7h0M228.1 216.9h0M227.9 216.2h0M227.9 229h0M227.9 216.5h0M228.3 217.6h0M228 220.6h0M227.9 223.1h0M228.1 228.9h0M227.9 224.8h0M228.1 224.8h0M228.2 226h0M227.8 227.1h0M228.3 222.7h0M228 228.7h0M228.3 227.4h0M228.3 230.2h0M228.3 221.9h0M227.9 230.9h0M228.1 232.6h0M227.9 229.4h0M228.2 216.7h0M228.2 227.7h0M228.2 228.5h0M227.9 221h0M227.9 215.7h0M228.1 221h0M228.1 227.9h0M227.9 224.9h0M227.9 226.2h0" fill="none" stroke="#2757a5" stroke-width="1.2" stroke-linecap="round"/>
<path d="M235.1 218h0M235 235h0M235.2 222.9h0M234.9 226.2h0M235 220.7h0M234.9 230.1h0M235.2 224.6h0M235.1 226.9h0M235.2 222h0M234.9 226.6h0M235.1 225.7h0M235 227.8h0M235.1 226.3h0M234.9 226.9h0M235.2 222.4h0M235.2 227.5h0M235.1 229.3h0M235.3 229.6h0M235.2 227h0M235.3 230.4h0M234.9 223.9h0M235 225.1h0M235.2 226h0M235.2 225.9h0M235.3 230.3h0M235.1 229.5h0M235.2 225.6h0M235 231.1h0M235.1 225h0M234.9 232.6h0M235.2 228.6h0M235.3 226.9h0M235.1 227.6h0M234.9 226.6h0M234.9 219.3h0M235 226h0M235 223.6h0M235.3 233.4h0M235.1 227h0M234.9 226.8h0M235.2 224.9h0M235.2 226.5h0M234.8 225.4h0M234.9 225.7h0M235.2 225.7h0M235.2 229.7h0M234.9 224.4h0M235.3 232.1h0M235.2 229.9h0M235.1 227.3h0M235.1 221.4h0M235.1 229.3h0M235 225.5h0M235.3 231.8h0M235.2 226.7h0M235.2 228.9h0M235.2 225.6h0M235 227h0M235.3 222.8h0M235 230.3h0" fill="none" stroke="#e3262b" stroke-width="1.2" stroke-linecap="round"/>
<text x="229.4" y="253" font-size="3.9" fill="#333" text-anchor="end" transform="rotate(-90 229.4 253)">Normal</text>
<text x="236.4" y="253" font-size="3.9" fill="#333" text-anchor="end" transform="rotate(-90 236.4 253)">Tumor</text>
<path d="M228.1 251V252.2M235.1 251V252.2" fill="none" stroke="#555" stroke-width="0.3"/>
<rect x="240.8" y="183" width="15.4" height="6.8" fill="#ffffff" stroke="#333" stroke-width="0.55"/>
<text x="248.5" y="187.9" font-size="3.9" fill="#222" text-anchor="middle">STAD</text>
<text x="248.5" y="193" font-size="2.8" fill="#444" text-anchor="middle">****</text>
<path d="M240.8 251.5H256.2" fill="none" stroke="#666" stroke-width="0.8"/>
<path d="M245.4 210L252.4 200M245.4 233.5L252.4 221M245.4 219.4L252.4 216M245.4 221.8L252.4 203.3M245.4 232.3L252.4 219.8M245.4 222.3L252.4 211.5M245.4 216.9L252.4 212.2M245.4 226.4L252.4 211.2M245.4 230L252.4 208.2M245.4 215L252.4 211.1M245.4 223.2L252.4 210.9M245.4 226.8L252.4 211.5M245.4 225.7L252.4 203.7M245.4 212.5L252.4 216.2M245.4 230.3L252.4 216.5M245.4 224.2L252.4 212.8M245.4 218.7L252.4 211.2M245.4 217.2L252.4 210.9M245.4 215.4L252.4 217.3M245.4 218.2L252.4 205M245.4 218.3L252.4 208.8M245.4 215L252.4 208.5M245.4 221.7L252.4 207.1M245.4 223.1L252.4 216M245.4 220.5L252.4 213.1M245.4 221.9L252.4 209.6M245.4 229.9L252.4 219.6M245.4 231.5L252.4 211.9M245.4 223.3L252.4 214.1M245.4 221.5L252.4 211.9M245.4 220.6L252.4 210.1M245.4 225.2L252.4 205.7M245.4 219L252.4 209.4M245.4 226.2L252.4 209.6M245.4 232.6L252.4 209.7M245.4 224.3L252.4 211.2M245.4 221.5L252.4 213.6M245.4 222L252.4 210.1M245.4 221.8L252.4 213.7" fill="none" stroke="#b0b0b0" stroke-width="0.3"/>
<rect x="243.8" y="217" width="3.2" height="8" fill="#e6ecf6" stroke="#5a7fc0" stroke-width="0.45"/>
<path d="M243.8 221H247" fill="none" stroke="#2757a5" stroke-width="0.45"/>
<rect x="250.8" y="210" width="3.2" height="7" fill="#f9e0e0" stroke="#ec6a6c" stroke-width="0.45"/>
<path d="M250.8 213.5H254" fill="none" stroke="#e3262b" stroke-width="0.45"/>
<path d="M245.2 210h0M245.2 233.5h0M245.5 219.4h0M245.4 221.8h0M245.2 232.3h0M245.6 222.3h0M245.2 216.9h0M245.5 226.4h0M245.2 230h0M245.4 215h0M245.5 223.2h0M245.4 226.8h0M245.6 225.7h0M245.3 212.5h0M245.4 230.3h0M245.4 224.2h0M245.2 218.7h0M245.2 217.2h0M245.3 215.4h0M245.5 218.2h0M245.6 218.3h0M245.4 215h0M245.5 221.7h0M245.5 223.1h0M245.5 220.5h0M245.3 221.9h0M245.4 229.9h0M245.1 231.5h0M245.1 223.3h0M245.4 221.5h0M245.2 220.6h0M245.6 225.2h0M245.5 219h0M245.5 226.2h0M245.1 232.6h0M245.3 224.3h0M245.2 221.5h0M245.4 222h0M245.5 221.8h0" fill="none" stroke="#2757a5" stroke-width="1.2" stroke-linecap="round"/>
<path d="M252.2 200h0M252.5 221h0M252.5 216h0M252.1 203.3h0M252.1 219.8h0M252.2 211.5h0M252.2 212.2h0M252.2 211.2h0M252.4 208.2h0M252.3 211.1h0M252.4 210.9h0M252.1 211.5h0M252.3 203.7h0M252.5 216.2h0M252.2 216.5h0M252.4 212.8h0M252.2 211.2h0M252.6 210.9h0M252.1 217.3h0M252.2 205h0M252.2 208.8h0M252.2 208.5h0M252.5 207.1h0M252.3 216h0M252.5 213.1h0M252.5 209.6h0M252.2 219.6h0M252.2 211.9h0M252.4 214.1h0M252.6 211.9h0M252.5 210.1h0M252.1 205.7h0M252.3 209.4h0M252.4 209.6h0M252.5 209.7h0M252.4 211.2h0M252.6 213.6h0M252.5 210.1h0M252.4 213.7h0" fill="none" stroke="#e3262b" stroke-width="1.2" stroke-linecap="round"/>
<text x="246.7" y="253" font-size="3.9" fill="#333" text-anchor="end" transform="rotate(-90 246.7 253)">Normal</text>
<text x="253.7" y="253" font-size="3.9" fill="#333" text-anchor="end" transform="rotate(-90 253.7 253)">Tumor</text>
<path d="M245.4 251V252.2M252.4 251V252.2" fill="none" stroke="#555" stroke-width="0.3"/>
<rect x="258" y="183" width="15.4" height="6.8" fill="#ffffff" stroke="#333" stroke-width="0.55"/>
<text x="265.7" y="187.9" font-size="3.9" fill="#222" text-anchor="middle">THCA</text>
<text x="265.7" y="193" font-size="2.8" fill="#444" text-anchor="middle">***</text>
<path d="M258 251.5H273.4" fill="none" stroke="#666" stroke-width="0.8"/>
<path d="M262.6 215.5L269.6 214M262.6 236H269.6M262.6 219.9L269.6 229M262.6 227.7L269.6 229.6M262.6 223.7L269.6 228.1M262.6 232.3L269.6 218M262.6 221L269.6 217.8M262.6 227.8L269.6 223.2M262.6 225.7L269.6 229.7M262.6 217.9L269.6 228.1M262.6 217L269.6 229.9M262.6 223.8L269.6 234.2M262.6 217.1L269.6 227.1M262.6 228.9L269.6 223.8M262.6 218L269.6 218.2M262.6 229.9L269.6 218.9M262.6 222L269.6 222.5M262.6 218.6L269.6 225.3M262.6 230.7L269.6 230.2M262.6 227.6L269.6 220.4M262.6 234.2L269.6 225.7M262.6 228.8L269.6 218.4M262.6 221.9L269.6 232.4M262.6 233.1L269.6 230.2M262.6 229.4L269.6 224M262.6 220.6L269.6 216.7M262.6 228.7L269.6 221.8M262.6 224.5L269.6 227.5M262.6 228.7L269.6 220.3M262.6 229.1L269.6 225M262.6 224.3L269.6 216.3M262.6 235.5L269.6 225.8M262.6 225.9L269.6 225.9M262.6 228.4L269.6 229.9M262.6 228.4L269.6 223M262.6 226.3L269.6 225.3M262.6 226.1L269.6 231M262.6 232L269.6 223.7M262.6 224.8L269.6 218.8M262.6 232.2L269.6 222.9M262.6 225.4L269.6 227.9M262.6 230.6L269.6 227M262.6 219.3L269.6 225.9M262.6 223.9L269.6 225.4M262.6 230.3L269.6 226.8M262.6 225.8L269.6 225.5M262.6 224.8L269.6 221.2M262.6 227.5L269.6 227.8M262.6 219L269.6 219.5M262.6 227.6L269.6 233.1M262.6 225.7L269.6 223.6M262.6 231.8L269.6 223.3M262.6 229.2L269.6 230.5M262.6 229.3L269.6 220M262.6 232.2L269.6 227.9M262.6 221.5L269.6 229.1M262.6 221.8L269.6 223.9M262.6 223.2L269.6 225.6M262.6 228.4L269.6 226.7M262.6 230.4L269.6 227M262.6 225.5L269.6 233.9M262.6 222.1L269.6 225.7M262.6 224.2L269.6 220.7M262.6 229L269.6 217.3M262.6 231L269.6 230.5M262.6 234.4L269.6 220.2M262.6 223.5L269.6 223.6M262.6 230.6L269.6 220.2" fill="none" stroke="#b0b0b0" stroke-width="0.3"/>
<rect x="261" y="223.8" width="3.2" height="8.2" fill="#e6ecf6" stroke="#5a7fc0" stroke-width="0.45"/>
<path d="M261 227.9H264.2" fill="none" stroke="#2757a5" stroke-width="0.45"/>
<rect x="268" y="222.4" width="3.2" height="8.3" fill="#f9e0e0" stroke="#ec6a6c" stroke-width="0.45"/>
<path d="M268 226.6H271.2" fill="none" stroke="#e3262b" stroke-width="0.45"/>
<path d="M262.4 215.5h0M262.8 236h0M262.4 219.9h0M262.9 227.7h0M262.5 223.7h0M262.6 232.3h0M262.7 221h0M262.8 227.8h0M262.4 225.7h0M262.5 217.9h0M262.4 217h0M262.4 223.8h0M262.5 217.1h0M262.8 228.9h0M262.8 218h0M262.6 229.9h0M262.5 222h0M262.6 218.6h0M262.6 230.7h0M262.5 227.6h0M262.7 234.2h0M262.8 228.8h0M262.5 221.9h0M262.6 233.1h0M262.5 229.4h0M262.5 220.6h0M262.7 228.7h0M262.7 224.5h0M262.5 228.7h0M262.5 229.1h0M262.5 224.3h0M262.6 235.5h0M262.5 225.9h0M262.7 228.4h0M262.6 228.4h0M262.8 226.3h0M262.7 226.1h0M262.6 232h0M262.8 224.8h0M262.8 232.2h0M262.7 225.4h0M262.7 230.6h0M262.6 219.3h0M262.7 223.9h0M262.8 230.3h0M262.5 225.8h0M262.7 224.8h0M262.8 227.5h0M262.8 219h0M262.6 227.6h0M262.5 225.7h0M262.6 231.8h0M262.8 229.2h0M262.5 229.3h0M262.9 232.2h0M262.5 221.5h0M262.7 221.8h0M262.8 223.2h0M262.6 228.4h0M262.7 230.4h0M262.7 225.5h0M262.8 222.1h0M262.7 224.2h0M262.5 229h0M262.7 231h0M262.8 234.4h0M262.5 223.5h0M262.5 230.6h0" fill="none" stroke="#2757a5" stroke-width="1.2" stroke-linecap="round"/>
<path d="M269.7 214h0M269.6 236h0M269.8 229h0M269.8 229.6h0M269.7 228.1h0M269.8 218h0M269.6 217.8h0M269.7 223.2h0M269.6 229.7h0M269.4 228.1h0M269.6 229.9h0M269.7 234.2h0M269.5 227.1h0M269.6 223.8h0M269.5 218.2h0M269.8 218.9h0M269.7 222.5h0M269.9 225.3h0M269.8 230.2h0M269.4 220.4h0M269.7 225.7h0M269.8 218.4h0M269.7 232.4h0M269.8 230.2h0M269.5 224h0M269.8 216.7h0M269.7 221.8h0M269.7 227.5h0M269.5 220.3h0M269.6 225h0M269.8 216.3h0M269.6 225.8h0M269.7 225.9h0M269.5 229.9h0M269.8 223h0M269.5 225.3h0M269.5 231h0M269.4 223.7h0M269.7 218.8h0M269.9 222.9h0M269.6 227.9h0M269.6 227h0M269.5 225.9h0M269.5 225.4h0M269.6 226.8h0M269.7 225.5h0M269.6 221.2h0M269.4 227.8h0M269.8 219.5h0M269.5 233.1h0M269.6 223.6h0M269.5 223.3h0M269.6 230.5h0M269.4 220h0M269.8 227.9h0M269.7 229.1h0M269.4 223.9h0M269.4 225.6h0M269.5 226.7h0M269.6 227h0M269.7 233.9h0M269.6 225.7h0M269.4 220.7h0M269.6 217.3h0M269.5 230.5h0M269.5 220.2h0M269.9 223.6h0M269.5 220.2h0" fill="none" stroke="#e3262b" stroke-width="1.2" stroke-linecap="round"/>
<text x="263.9" y="253" font-size="3.9" fill="#333" text-anchor="end" transform="rotate(-90 263.9 253)">Normal</text>
<text x="270.9" y="253" font-size="3.9" fill="#333" text-anchor="end" transform="rotate(-90 270.9 253)">Tumor</text>
<path d="M262.6 251V252.2M269.6 251V252.2" fill="none" stroke="#555" stroke-width="0.3"/>
<rect x="275.3" y="183" width="15.4" height="6.8" fill="#ffffff" stroke="#333" stroke-width="0.55"/>
<text x="283" y="187.9" font-size="3.9" fill="#222" text-anchor="middle">UCEC</text>
<text x="283" y="193" font-size="2.8" fill="#444" text-anchor="middle">***</text>
<path d="M275.3 251.5H290.7" fill="none" stroke="#666" stroke-width="0.8"/>
<path d="M279.9 204L286.9 207M279.9 235L286.9 244.6M279.9 216.7L286.9 238.7M279.9 216.1L286.9 238.4M279.9 227.5L286.9 242.6M279.9 220.9L286.9 228.1M279.9 219.9L286.9 219.9M279.9 210.2L286.9 228.7M279.9 216.5L286.9 232.2M279.9 220.8L286.9 230.8M279.9 210.1L286.9 225.4M279.9 206.5L286.9 232.3M279.9 213.6L286.9 241.7M279.9 220.9L286.9 229.6M279.9 224.5L286.9 230.8M279.9 208.5L286.9 215.1M279.9 215.6L286.9 227.7M279.9 220L286.9 228.7M279.9 212.4L286.9 228.8M279.9 214.3L286.9 227.7M279.9 217.7L286.9 227.5M279.9 222.1L286.9 225.3M279.9 219.7L286.9 228.6M279.9 208L286.9 224.9M279.9 213.4L286.9 220.8M279.9 219.6L286.9 227.9M279.9 217.1L286.9 233.8M279.9 211.3L286.9 226.3" fill="none" stroke="#b0b0b0" stroke-width="0.3"/>
<rect x="278.3" y="210" width="3.2" height="8.3" fill="#e6ecf6" stroke="#5a7fc0" stroke-width="0.45"/>
<path d="M278.3 214.2H281.5" fill="none" stroke="#2757a5" stroke-width="0.45"/>
<rect x="285.3" y="221" width="3.2" height="11" fill="#f9e0e0" stroke="#ec6a6c" stroke-width="0.45"/>
<path d="M285.3 226.5H288.5" fill="none" stroke="#e3262b" stroke-width="0.45"/>
<path d="M280 204h0M279.9 235h0M279.9 216.7h0M280.1 216.1h0M279.7 227.5h0M280 220.9h0M280.1 219.9h0M279.8 210.2h0M279.9 216.5h0M279.8 220.8h0M279.8 210.1h0M280 206.5h0M279.7 213.6h0M280 220.9h0M280.1 224.5h0M279.8 208.5h0M280.1 215.6h0M280 220h0M280 212.4h0M280.1 214.3h0M280 217.7h0M280.1 222.1h0M279.7 219.7h0M280.1 208h0M280.1 213.4h0M279.8 219.6h0M279.9 217.1h0M280 211.3h0" fill="none" stroke="#2757a5" stroke-width="1.2" stroke-linecap="round"/>
<path d="M286.8 207h0M286.9 244.6h0M287.1 238.7h0M286.9 238.4h0M286.9 242.6h0M286.7 228.1h0M286.7 219.9h0M286.9 228.7h0M286.8 232.2h0M287.1 230.8h0M287 225.4h0M286.9 232.3h0M287.1 241.7h0M286.8 229.6h0M286.7 230.8h0M286.7 215.1h0M286.9 227.7h0M287.2 228.7h0M286.7 228.8h0M287.1 227.7h0M286.9 227.5h0M287 225.3h0M286.8 228.6h0M286.9 224.9h0M287 220.8h0M287 227.9h0M287.1 233.8h0M286.8 226.3h0" fill="none" stroke="#e3262b" stroke-width="1.2" stroke-linecap="round"/>
<text x="281.2" y="253" font-size="3.9" fill="#333" text-anchor="end" transform="rotate(-90 281.2 253)">Normal</text>
<text x="288.2" y="253" font-size="3.9" fill="#333" text-anchor="end" transform="rotate(-90 288.2 253)">Tumor</text>
<path d="M279.9 251V252.2M286.9 251V252.2" fill="none" stroke="#555" stroke-width="0.3"/>
<path d="M33.2 190.2V251" fill="none" stroke="#444" stroke-width="0.6"/>
<path d="M31.8 199H33.2" fill="none" stroke="#444" stroke-width="0.4"/>
<text x="30.8" y="200.3" font-size="3.8" fill="#444" text-anchor="end">6</text>
<path d="M31.8 216.5H33.2" fill="none" stroke="#444" stroke-width="0.4"/>
<text x="30.8" y="217.8" font-size="3.8" fill="#444" text-anchor="end">4</text>
<path d="M31.8 234.2H33.2" fill="none" stroke="#444" stroke-width="0.4"/>
<text x="30.8" y="235.5" font-size="3.8" fill="#444" text-anchor="end">2</text>
<text x="27" y="220.5" font-size="4.6" fill="#222" text-anchor="middle" transform="rotate(-90 27 220.5)">IL15RA</text>
<text x="295.5" y="215.3" font-size="5" fill="#222">Group</text>
<rect x="296" y="218.6" width="3.6" height="3.6" fill="#dfe6f3" stroke="#2757a5" stroke-width="0.5"/>
<path d="M297.8 220.4h0" fill="none" stroke="#2757a5" stroke-width="1.6" stroke-linecap="round"/>
<text x="303.6" y="221.7" font-size="3.9" fill="#333">Normal</text>
<rect x="296" y="224.5" width="3.6" height="3.6" fill="#f7dada" stroke="#e3262b" stroke-width="0.5"/>
<path d="M297.8 226.3h0" fill="none" stroke="#e3262b" stroke-width="1.6" stroke-linecap="round"/>
<text x="303.6" y="227.6" font-size="3.9" fill="#333">Tumor</text>
<text x="-0.5" y="285" font-size="6.4" fill="#333" font-family="Liberation Serif">C</text>
<text x="65.6" y="312" font-size="5.4" fill="#222">OS</text>
<path d="M65.5 314.5H93.9" fill="none" stroke="#444" stroke-width="0.55"/>
<path d="M93.9 314.4V476.1" fill="none" stroke="#ddd" stroke-width="0.4"/>
<path d="M65.5 314.4V476.1" fill="none" stroke="#444" stroke-width="0.55"/>
<path d="M65.5 476.5H93.9" fill="none" stroke="#444" stroke-width="0.6"/>
<path d="M77.7 314.4V476.1" fill="none" stroke="#222" stroke-width="0.5" stroke-dasharray="1.3,1.0"/>
<text x="63.5" y="318.6" font-size="3.3" fill="#666" text-anchor="end">UVM</text>
<path d="M64 317.5H65.5" fill="none" stroke="#666" stroke-width="0.35"/>
<path d="M80.2 317.5H82.2" fill="none" stroke="#e8111a" stroke-width="0.5"/>
<path d="M81.2 317.5h0" fill="none" stroke="#e8111a" stroke-width="2.7" stroke-linecap="round"/>
<text x="63.5" y="323.7" font-size="3.3" fill="#666" text-anchor="end">UCS</text>
<path d="M64 322.5H65.5" fill="none" stroke="#666" stroke-width="0.35"/>
<path d="M77 322.5H78" fill="none" stroke="#c8c8c8" stroke-width="0.45"/>
<circle cx="77.5" cy="322.5" r="0.95" fill="#cfcfcf" stroke="#9a9a9a" stroke-width="0.3"/>
<text x="63.5" y="328.7" font-size="3.3" fill="#666" text-anchor="end">UCEC</text>
<path d="M64 327.6H65.5" fill="none" stroke="#666" stroke-width="0.35"/>
<path d="M77.3 327.6H79.1" fill="none" stroke="#c8c8c8" stroke-width="0.45"/>
<circle cx="77.9" cy="327.6" r="0.95" fill="#cfcfcf" stroke="#9a9a9a" stroke-width="0.3"/>
<text x="63.5" y="333.7" font-size="3.3" fill="#666" text-anchor="end">THYM</text>
<path d="M64 332.6H65.5" fill="none" stroke="#666" stroke-width="0.35"/>
<path d="M78.5 332.6H85.4" fill="none" stroke="#c8c8c8" stroke-width="0.45"/>
<circle cx="81.4" cy="332.6" r="0.95" fill="#cfcfcf" stroke="#9a9a9a" stroke-width="0.3"/>
<text x="63.5" y="338.8" font-size="3.3" fill="#666" text-anchor="end">THCA</text>
<path d="M64 337.6H65.5" fill="none" stroke="#666" stroke-width="0.35"/>
<path d="M71 337.6H79.7" fill="none" stroke="#c8c8c8" stroke-width="0.45"/>
<circle cx="75.3" cy="337.6" r="0.95" fill="#cfcfcf" stroke="#9a9a9a" stroke-width="0.3"/>
<text x="63.5" y="343.8" font-size="3.3" fill="#666" text-anchor="end">TGCT</text>
<path d="M64 342.6H65.5" fill="none" stroke="#666" stroke-width="0.35"/>
<path d="M78.5 342.6H92.4" fill="none" stroke="#c8c8c8" stroke-width="0.45"/>
<circle cx="84.5" cy="342.6" r="0.95" fill="#cfcfcf" stroke="#9a9a9a" stroke-width="0.3"/>
<text x="63.5" y="348.8" font-size="3.3" fill="#666" text-anchor="end">STAD</text>
<path d="M64 347.7H65.5" fill="none" stroke="#666" stroke-width="0.35"/>
<path d="M76.4 347.7H78.4" fill="none" stroke="#c8c8c8" stroke-width="0.45"/>
<circle cx="77.2" cy="347.7" r="0.95" fill="#cfcfcf" stroke="#9a9a9a" stroke-width="0.3"/>
<text x="63.5" y="353.9" font-size="3.3" fill="#666" text-anchor="end">SKCM</text>
<path d="M64 352.7H65.5" fill="none" stroke="#666" stroke-width="0.35"/>
<path d="M77.1 352.7H79.1" fill="none" stroke="#c8c8c8" stroke-width="0.45"/>
<circle cx="77.8" cy="352.7" r="0.95" fill="#cfcfcf" stroke="#9a9a9a" stroke-width="0.3"/>
<text x="63.5" y="358.9" font-size="3.3" fill="#666" text-anchor="end">SARC</text>
<path d="M64 357.7H65.5" fill="none" stroke="#666" stroke-width="0.35"/>
<path d="M76.9 357.7H78.3" fill="none" stroke="#c8c8c8" stroke-width="0.45"/>
<circle cx="77.9" cy="357.7" r="0.95" fill="#cfcfcf" stroke="#9a9a9a" stroke-width="0.3"/>
<text x="63.5" y="363.9" font-size="3.3" fill="#666" text-anchor="end">READ</text>
<path d="M64 362.8H65.5" fill="none" stroke="#666" stroke-width="0.35"/>
<path d="M68.7 362.8H79.2" fill="none" stroke="#c8c8c8" stroke-width="0.45"/>
<circle cx="73.9" cy="362.8" r="0.95" fill="#cfcfcf" stroke="#9a9a9a" stroke-width="0.3"/>
<text x="63.5" y="368.9" font-size="3.3" fill="#666" text-anchor="end">PRAD</text>
<path d="M64 367.8H65.5" fill="none" stroke="#666" stroke-width="0.35"/>
<path d="M67.7 367.8H78.2" fill="none" stroke="#c8c8c8" stroke-width="0.45"/>
<circle cx="72.5" cy="367.8" r="0.95" fill="#cfcfcf" stroke="#9a9a9a" stroke-width="0.3"/>
<text x="63.5" y="374" font-size="3.3" fill="#666" text-anchor="end">PCPG</text>
<path d="M64 372.8H65.5" fill="none" stroke="#666" stroke-width="0.35"/>
<path d="M73.7 372.8H83.7" fill="none" stroke="#c8c8c8" stroke-width="0.45"/>
<circle cx="78.5" cy="372.8" r="0.95" fill="#cfcfcf" stroke="#9a9a9a" stroke-width="0.3"/>
<text x="63.5" y="379" font-size="3.3" fill="#666" text-anchor="end">PAAD</text>
<path d="M64 377.9H65.5" fill="none" stroke="#666" stroke-width="0.35"/>
<path d="M80.7 377.9H82.7" fill="none" stroke="#e8111a" stroke-width="0.5"/>
<path d="M81.7 377.9h0" fill="none" stroke="#e8111a" stroke-width="2.7" stroke-linecap="round"/>
<text x="63.5" y="384" font-size="3.3" fill="#666" text-anchor="end">OV</text>
<path d="M64 382.9H65.5" fill="none" stroke="#666" stroke-width="0.35"/>
<path d="M75.9 382.9H78.5" fill="none" stroke="#c8c8c8" stroke-width="0.45"/>
<circle cx="77.2" cy="382.9" r="0.95" fill="#cfcfcf" stroke="#9a9a9a" stroke-width="0.3"/>
<text x="63.5" y="389.1" font-size="3.3" fill="#666" text-anchor="end">MESO</text>
<path d="M64 387.9H65.5" fill="none" stroke="#666" stroke-width="0.35"/>
<path d="M76.2 387.9H77.6" fill="none" stroke="#c8c8c8" stroke-width="0.45"/>
<circle cx="77.2" cy="387.9" r="0.95" fill="#cfcfcf" stroke="#9a9a9a" stroke-width="0.3"/>
<text x="63.5" y="394.1" font-size="3.3" fill="#666" text-anchor="end">LUSC</text>
<path d="M64 392.9H65.5" fill="none" stroke="#666" stroke-width="0.35"/>
<path d="M78.2 392.9H79.7" fill="none" stroke="#e8111a" stroke-width="0.5"/>
<path d="M78.9 392.9h0" fill="none" stroke="#e8111a" stroke-width="2.7" stroke-linecap="round"/>
<text x="63.5" y="399.1" font-size="3.3" fill="#666" text-anchor="end">LUAD</text>
<path d="M64 398H65.5" fill="none" stroke="#666" stroke-width="0.35"/>
<path d="M76.8 398H78.5" fill="none" stroke="#c8c8c8" stroke-width="0.45"/>
<circle cx="77.3" cy="398" r="0.95" fill="#cfcfcf" stroke="#9a9a9a" stroke-width="0.3"/>
<text x="63.5" y="404.2" font-size="3.3" fill="#666" text-anchor="end">LIHC</text>
<path d="M64 403H65.5" fill="none" stroke="#666" stroke-width="0.35"/>
<path d="M79 403H81" fill="none" stroke="#e8111a" stroke-width="0.5"/>
<path d="M80 403h0" fill="none" stroke="#e8111a" stroke-width="2.7" stroke-linecap="round"/>
<text x="63.5" y="409.2" font-size="3.3" fill="#666" text-anchor="end">LGG</text>
<path d="M64 408H65.5" fill="none" stroke="#666" stroke-width="0.35"/>
<path d="M78.4 408H80" fill="none" stroke="#e8111a" stroke-width="0.5"/>
<path d="M79.2 408h0" fill="none" stroke="#e8111a" stroke-width="2.7" stroke-linecap="round"/>
<text x="63.5" y="414.2" font-size="3.3" fill="#666" text-anchor="end">KIRP</text>
<path d="M64 413.1H65.5" fill="none" stroke="#666" stroke-width="0.35"/>
<path d="M79.1 413.1H81.5" fill="none" stroke="#e8111a" stroke-width="0.5"/>
<path d="M80.3 413.1h0" fill="none" stroke="#e8111a" stroke-width="2.7" stroke-linecap="round"/>
<text x="63.5" y="419.2" font-size="3.3" fill="#666" text-anchor="end">KIRC</text>
<path d="M64 418.1H65.5" fill="none" stroke="#666" stroke-width="0.35"/>
<path d="M78.9 418.1H80.7" fill="none" stroke="#e8111a" stroke-width="0.5"/>
<path d="M79.8 418.1h0" fill="none" stroke="#e8111a" stroke-width="2.7" stroke-linecap="round"/>
<text x="63.5" y="424.3" font-size="3.3" fill="#666" text-anchor="end">KICH</text>
<path d="M64 423.1H65.5" fill="none" stroke="#666" stroke-width="0.35"/>
<path d="M70.7 423.1H84.2" fill="none" stroke="#c8c8c8" stroke-width="0.45"/>
<circle cx="77.4" cy="423.1" r="0.95" fill="#cfcfcf" stroke="#9a9a9a" stroke-width="0.3"/>
<text x="63.5" y="429.3" font-size="3.3" fill="#666" text-anchor="end">HNSC</text>
<path d="M64 428.2H65.5" fill="none" stroke="#666" stroke-width="0.35"/>
<path d="M77.2 428.2H78.9" fill="none" stroke="#c8c8c8" stroke-width="0.45"/>
<circle cx="78.3" cy="428.2" r="0.95" fill="#cfcfcf" stroke="#9a9a9a" stroke-width="0.3"/>
<text x="63.5" y="434.3" font-size="3.3" fill="#666" text-anchor="end">GBM</text>
<path d="M64 433.2H65.5" fill="none" stroke="#666" stroke-width="0.35"/>
<path d="M77.2 433.2H79.2" fill="none" stroke="#c8c8c8" stroke-width="0.45"/>
<circle cx="78.2" cy="433.2" r="0.95" fill="#cfcfcf" stroke="#9a9a9a" stroke-width="0.3"/>
<text x="63.5" y="439.4" font-size="3.3" fill="#666" text-anchor="end">ESCA</text>
<path d="M64 438.2H65.5" fill="none" stroke="#666" stroke-width="0.35"/>
<path d="M76.1 438.2H78.1" fill="none" stroke="#c8c8c8" stroke-width="0.45"/>
<circle cx="77.3" cy="438.2" r="0.95" fill="#cfcfcf" stroke="#9a9a9a" stroke-width="0.3"/>
<text x="63.5" y="444.4" font-size="3.3" fill="#666" text-anchor="end">DLBC</text>
<path d="M64 443.2H65.5" fill="none" stroke="#666" stroke-width="0.35"/>
<path d="M73.7 443.2H80.2" fill="none" stroke="#c8c8c8" stroke-width="0.45"/>
<circle cx="76.8" cy="443.2" r="0.95" fill="#cfcfcf" stroke="#9a9a9a" stroke-width="0.3"/>
<text x="63.5" y="449.4" font-size="3.3" fill="#666" text-anchor="end">COAD</text>
<path d="M64 448.3H65.5" fill="none" stroke="#666" stroke-width="0.35"/>
<path d="M77.8 448.3H79.7" fill="none" stroke="#c8c8c8" stroke-width="0.45"/>
<circle cx="78.7" cy="448.3" r="0.95" fill="#cfcfcf" stroke="#9a9a9a" stroke-width="0.3"/>
<text x="63.5" y="454.5" font-size="3.3" fill="#666" text-anchor="end">CHOL</text>
<path d="M64 453.3H65.5" fill="none" stroke="#666" stroke-width="0.35"/>
<path d="M73.9 453.3H78.5" fill="none" stroke="#c8c8c8" stroke-width="0.45"/>
<circle cx="76.2" cy="453.3" r="0.95" fill="#cfcfcf" stroke="#9a9a9a" stroke-width="0.3"/>
<text x="63.5" y="459.5" font-size="3.3" fill="#666" text-anchor="end">CESC</text>
<path d="M64 458.3H65.5" fill="none" stroke="#666" stroke-width="0.35"/>
<path d="M76.9 458.3H78.7" fill="none" stroke="#c8c8c8" stroke-width="0.45"/>
<circle cx="78.3" cy="458.3" r="0.95" fill="#cfcfcf" stroke="#9a9a9a" stroke-width="0.3"/>
<text x="63.5" y="464.5" font-size="3.3" fill="#666" text-anchor="end">BRCA</text>
<path d="M64 463.4H65.5" fill="none" stroke="#666" stroke-width="0.35"/>
<path d="M76 463.4H78" fill="none" stroke="#c8c8c8" stroke-width="0.45"/>
<circle cx="77.3" cy="463.4" r="0.95" fill="#cfcfcf" stroke="#9a9a9a" stroke-width="0.3"/>
<text x="63.5" y="469.5" font-size="3.3" fill="#666" text-anchor="end">BLCA</text>
<path d="M64 468.4H65.5" fill="none" stroke="#666" stroke-width="0.35"/>
<path d="M77 468.4H79.4" fill="none" stroke="#c8c8c8" stroke-width="0.45"/>
<circle cx="78.2" cy="468.4" r="0.95" fill="#cfcfcf" stroke="#9a9a9a" stroke-width="0.3"/>
<text x="63.5" y="474.6" font-size="3.3" fill="#666" text-anchor="end">ACC</text>
<path d="M64 473.4H65.5" fill="none" stroke="#666" stroke-width="0.35"/>
<path d="M77.9 473.4H79.5" fill="none" stroke="#c8c8c8" stroke-width="0.45"/>
<circle cx="78.7" cy="473.4" r="0.95" fill="#cfcfcf" stroke="#9a9a9a" stroke-width="0.3"/>
<path d="M71.6 476.1V477.3" fill="none" stroke="#444" stroke-width="0.35"/>
<text x="71.6" y="480.6" font-size="3.4" fill="#333" text-anchor="middle">-1</text>
<path d="M77.6 476.1V477.3" fill="none" stroke="#444" stroke-width="0.35"/>
<text x="77.6" y="480.6" font-size="3.4" fill="#333" text-anchor="middle">0</text>
<path d="M84.8 476.1V477.3" fill="none" stroke="#444" stroke-width="0.35"/>
<text x="84.8" y="480.6" font-size="3.4" fill="#333" text-anchor="middle">1</text>
<path d="M91.8 476.1V477.3" fill="none" stroke="#444" stroke-width="0.35"/>
<text x="91.8" y="480.6" font-size="3.4" fill="#333" text-anchor="middle">2</text>
<text x="80.7" y="485.8" font-size="4.1" fill="#222" text-anchor="middle" font-weight="bold">ln (Hazard Ratio)</text>
<text x="115.5" y="312" font-size="5.4" fill="#222">DSS</text>
<path d="M115.4 314.5H143.8" fill="none" stroke="#444" stroke-width="0.55"/>
<path d="M143.8 314.4V476.1" fill="none" stroke="#555" stroke-width="0.5"/>
<path d="M115.4 314.4V476.1" fill="none" stroke="#bbb" stroke-width="0.55"/>
<path d="M115.4 476.5H143.8" fill="none" stroke="#444" stroke-width="0.6"/>
<path d="M129.4 314.4V476.1" fill="none" stroke="#222" stroke-width="0.5" stroke-dasharray="1.3,1.0"/>
<text x="113.4" y="318.6" font-size="3.3" fill="#666" text-anchor="end">UVM</text>
<path d="M113.9 317.5H115.4" fill="none" stroke="#666" stroke-width="0.35"/>
<path d="M131.2 317.5H133" fill="none" stroke="#e8111a" stroke-width="0.5"/>
<path d="M132.1 317.5h0" fill="none" stroke="#e8111a" stroke-width="2.7" stroke-linecap="round"/>
<text x="113.4" y="323.7" font-size="3.3" fill="#666" text-anchor="end">UCS</text>
<path d="M113.9 322.5H115.4" fill="none" stroke="#666" stroke-width="0.35"/>
<path d="M127.9 322.5H129.4" fill="none" stroke="#c8c8c8" stroke-width="0.45"/>
<circle cx="128.6" cy="322.5" r="0.95" fill="#cfcfcf" stroke="#9a9a9a" stroke-width="0.3"/>
<text x="113.4" y="328.7" font-size="3.3" fill="#666" text-anchor="end">UCEC</text>
<path d="M113.9 327.6H115.4" fill="none" stroke="#666" stroke-width="0.35"/>
<path d="M128.5 327.6H129.8" fill="none" stroke="#c8c8c8" stroke-width="0.45"/>
<circle cx="129" cy="327.6" r="0.95" fill="#cfcfcf" stroke="#9a9a9a" stroke-width="0.3"/>
<text x="113.4" y="333.7" font-size="3.3" fill="#666" text-anchor="end">THYM</text>
<path d="M113.9 332.6H115.4" fill="none" stroke="#666" stroke-width="0.35"/>
<path d="M129.4 332.6H135.9" fill="none" stroke="#c8c8c8" stroke-width="0.45"/>
<circle cx="132.4" cy="332.6" r="0.95" fill="#cfcfcf" stroke="#9a9a9a" stroke-width="0.3"/>
<text x="113.4" y="338.8" font-size="3.3" fill="#666" text-anchor="end">THCA</text>
<path d="M113.9 337.6H115.4" fill="none" stroke="#666" stroke-width="0.35"/>
<path d="M122.4 337.6H128.9" fill="none" stroke="#c8c8c8" stroke-width="0.45"/>
<circle cx="125.6" cy="337.6" r="0.95" fill="#cfcfcf" stroke="#9a9a9a" stroke-width="0.3"/>
<text x="113.4" y="343.8" font-size="3.3" fill="#666" text-anchor="end">TGCT</text>
<path d="M113.9 342.6H115.4" fill="none" stroke="#666" stroke-width="0.35"/>
<path d="M129.4 342.6H142.4" fill="none" stroke="#c8c8c8" stroke-width="0.45"/>
<circle cx="135.3" cy="342.6" r="0.95" fill="#cfcfcf" stroke="#9a9a9a" stroke-width="0.3"/>
<text x="113.4" y="348.8" font-size="3.3" fill="#666" text-anchor="end">STAD</text>
<path d="M113.9 347.7H115.4" fill="none" stroke="#666" stroke-width="0.35"/>
<path d="M127.6 347.7H130.1" fill="none" stroke="#c8c8c8" stroke-width="0.45"/>
<circle cx="128.9" cy="347.7" r="0.95" fill="#cfcfcf" stroke="#9a9a9a" stroke-width="0.3"/>
<text x="113.4" y="353.9" font-size="3.3" fill="#666" text-anchor="end">SKCM</text>
<path d="M113.9 352.7H115.4" fill="none" stroke="#666" stroke-width="0.35"/>
<path d="M127 352.7H128.6" fill="none" stroke="#c8c8c8" stroke-width="0.45"/>
<circle cx="127.8" cy="352.7" r="0.95" fill="#cfcfcf" stroke="#9a9a9a" stroke-width="0.3"/>
<text x="113.4" y="358.9" font-size="3.3" fill="#666" text-anchor="end">SARC</text>
<path d="M113.9 357.7H115.4" fill="none" stroke="#666" stroke-width="0.35"/>
<path d="M128.4 357.7H130.3" fill="none" stroke="#c8c8c8" stroke-width="0.45"/>
<circle cx="129" cy="357.7" r="0.95" fill="#cfcfcf" stroke="#9a9a9a" stroke-width="0.3"/>
<text x="113.4" y="363.9" font-size="3.3" fill="#666" text-anchor="end">READ</text>
<path d="M113.9 362.8H115.4" fill="none" stroke="#666" stroke-width="0.35"/>
<path d="M120.4 362.8H128.6" fill="none" stroke="#c8c8c8" stroke-width="0.45"/>
<circle cx="124.5" cy="362.8" r="0.95" fill="#cfcfcf" stroke="#9a9a9a" stroke-width="0.3"/>
<text x="113.4" y="368.9" font-size="3.3" fill="#666" text-anchor="end">PRAD</text>
<path d="M113.9 367.8H115.4" fill="none" stroke="#666" stroke-width="0.35"/>
<path d="M118.4 367.8H128.4" fill="none" stroke="#2a6cc0" stroke-width="0.7"/>
<path d="M122.9 367.8h0" fill="none" stroke="#2a6cc0" stroke-width="2.7" stroke-linecap="round"/>
<text x="113.4" y="374" font-size="3.3" fill="#666" text-anchor="end">PCPG</text>
<path d="M113.9 372.8H115.4" fill="none" stroke="#666" stroke-width="0.35"/>
<path d="M125.4 372.8H132.9" fill="none" stroke="#c8c8c8" stroke-width="0.45"/>
<circle cx="129" cy="372.8" r="0.95" fill="#cfcfcf" stroke="#9a9a9a" stroke-width="0.3"/>
<text x="113.4" y="379" font-size="3.3" fill="#666" text-anchor="end">PAAD</text>
<path d="M113.9 377.9H115.4" fill="none" stroke="#666" stroke-width="0.35"/>
<path d="M131.6 377.9H133.6" fill="none" stroke="#e8111a" stroke-width="0.5"/>
<path d="M132.6 377.9h0" fill="none" stroke="#e8111a" stroke-width="2.7" stroke-linecap="round"/>
<text x="113.4" y="384" font-size="3.3" fill="#666" text-anchor="end">OV</text>
<path d="M113.9 382.9H115.4" fill="none" stroke="#666" stroke-width="0.35"/>
<path d="M128.1 382.9H130.4" fill="none" stroke="#c8c8c8" stroke-width="0.45"/>
<circle cx="129.1" cy="382.9" r="0.95" fill="#cfcfcf" stroke="#9a9a9a" stroke-width="0.3"/>
<text x="113.4" y="389.1" font-size="3.3" fill="#666" text-anchor="end">MESO</text>
<path d="M113.9 387.9H115.4" fill="none" stroke="#666" stroke-width="0.35"/>
<path d="M128.4 387.9H130.1" fill="none" stroke="#c8c8c8" stroke-width="0.45"/>
<circle cx="128.9" cy="387.9" r="0.95" fill="#cfcfcf" stroke="#9a9a9a" stroke-width="0.3"/>
<text x="113.4" y="394.1" font-size="3.3" fill="#666" text-anchor="end">LUSC</text>
<path d="M113.9 392.9H115.4" fill="none" stroke="#666" stroke-width="0.35"/>
<path d="M128.5 392.9H129.9" fill="none" stroke="#c8c8c8" stroke-width="0.45"/>
<circle cx="129" cy="392.9" r="0.95" fill="#cfcfcf" stroke="#9a9a9a" stroke-width="0.3"/>
<text x="113.4" y="399.1" font-size="3.3" fill="#666" text-anchor="end">LUAD</text>
<path d="M113.9 398H115.4" fill="none" stroke="#666" stroke-width="0.35"/>
<path d="M129.3 398H130.5" fill="none" stroke="#c8c8c8" stroke-width="0.45"/>
<circle cx="129.7" cy="398" r="0.95" fill="#cfcfcf" stroke="#9a9a9a" stroke-width="0.3"/>
<text x="113.4" y="404.2" font-size="3.3" fill="#666" text-anchor="end">LIHC</text>
<path d="M113.9 403H115.4" fill="none" stroke="#666" stroke-width="0.35"/>
<path d="M130.1 403H131.9" fill="none" stroke="#e8111a" stroke-width="0.5"/>
<path d="M131 403h0" fill="none" stroke="#e8111a" stroke-width="2.7" stroke-linecap="round"/>
<text x="113.4" y="409.2" font-size="3.3" fill="#666" text-anchor="end">LGG</text>
<path d="M113.9 408H115.4" fill="none" stroke="#666" stroke-width="0.35"/>
<path d="M129 408H130.7" fill="none" stroke="#c8c8c8" stroke-width="0.45"/>
<circle cx="129.9" cy="408" r="0.95" fill="#cfcfcf" stroke="#9a9a9a" stroke-width="0.3"/>
<text x="113.4" y="414.2" font-size="3.3" fill="#666" text-anchor="end">KIRP</text>
<path d="M113.9 413.1H115.4" fill="none" stroke="#666" stroke-width="0.35"/>
<path d="M132 413.1H134.4" fill="none" stroke="#e8111a" stroke-width="0.5"/>
<path d="M133.2 413.1h0" fill="none" stroke="#e8111a" stroke-width="2.7" stroke-linecap="round"/>
<text x="113.4" y="419.2" font-size="3.3" fill="#666" text-anchor="end">KIRC</text>
<path d="M113.9 418.1H115.4" fill="none" stroke="#666" stroke-width="0.35"/>
<path d="M130.6 418.1H132.6" fill="none" stroke="#e8111a" stroke-width="0.5"/>
<path d="M131.6 418.1h0" fill="none" stroke="#e8111a" stroke-width="2.7" stroke-linecap="round"/>
<text x="113.4" y="424.3" font-size="3.3" fill="#666" text-anchor="end">KICH</text>
<path d="M113.9 423.1H115.4" fill="none" stroke="#666" stroke-width="0.35"/>
<path d="M124.9 423.1H137.4" fill="none" stroke="#c8c8c8" stroke-width="0.45"/>
<circle cx="130.5" cy="423.1" r="0.95" fill="#cfcfcf" stroke="#9a9a9a" stroke-width="0.3"/>
<text x="113.4" y="429.3" font-size="3.3" fill="#666" text-anchor="end">HNSC</text>
<path d="M113.9 428.2H115.4" fill="none" stroke="#666" stroke-width="0.35"/>
<path d="M128.6 428.2H129.7" fill="none" stroke="#c8c8c8" stroke-width="0.45"/>
<circle cx="129.3" cy="428.2" r="0.95" fill="#cfcfcf" stroke="#9a9a9a" stroke-width="0.3"/>
<text x="113.4" y="434.3" font-size="3.3" fill="#666" text-anchor="end">GBM</text>
<path d="M113.9 433.2H115.4" fill="none" stroke="#666" stroke-width="0.35"/>
<path d="M128.1 433.2H130.7" fill="none" stroke="#c8c8c8" stroke-width="0.45"/>
<circle cx="129.3" cy="433.2" r="0.95" fill="#cfcfcf" stroke="#9a9a9a" stroke-width="0.3"/>
<text x="113.4" y="439.4" font-size="3.3" fill="#666" text-anchor="end">ESCA</text>
<path d="M113.9 438.2H115.4" fill="none" stroke="#666" stroke-width="0.35"/>
<path d="M128.6 438.2H130.7" fill="none" stroke="#c8c8c8" stroke-width="0.45"/>
<circle cx="129.6" cy="438.2" r="0.95" fill="#cfcfcf" stroke="#9a9a9a" stroke-width="0.3"/>
<text x="113.4" y="444.4" font-size="3.3" fill="#666" text-anchor="end">DLBC</text>
<path d="M113.9 443.2H115.4" fill="none" stroke="#666" stroke-width="0.35"/>
<path d="M123.4 443.2H133.9" fill="none" stroke="#c8c8c8" stroke-width="0.45"/>
<circle cx="128.4" cy="443.2" r="0.95" fill="#cfcfcf" stroke="#9a9a9a" stroke-width="0.3"/>
<text x="113.4" y="449.4" font-size="3.3" fill="#666" text-anchor="end">COAD</text>
<path d="M113.9 448.3H115.4" fill="none" stroke="#666" stroke-width="0.35"/>
<path d="M129.6 448.3H134.9" fill="none" stroke="#c8c8c8" stroke-width="0.45"/>
<circle cx="132.2" cy="448.3" r="0.95" fill="#cfcfcf" stroke="#9a9a9a" stroke-width="0.3"/>
<text x="113.4" y="454.5" font-size="3.3" fill="#666" text-anchor="end">CHOL</text>
<path d="M113.9 453.3H115.4" fill="none" stroke="#666" stroke-width="0.35"/>
<path d="M125.9 453.3H129.9" fill="none" stroke="#c8c8c8" stroke-width="0.45"/>
<circle cx="127.9" cy="453.3" r="0.95" fill="#cfcfcf" stroke="#9a9a9a" stroke-width="0.3"/>
<text x="113.4" y="459.5" font-size="3.3" fill="#666" text-anchor="end">CESC</text>
<path d="M113.9 458.3H115.4" fill="none" stroke="#666" stroke-width="0.35"/>
<path d="M128.4 458.3H130.3" fill="none" stroke="#c8c8c8" stroke-width="0.45"/>
<circle cx="129.6" cy="458.3" r="0.95" fill="#cfcfcf" stroke="#9a9a9a" stroke-width="0.3"/>
<text x="113.4" y="464.5" font-size="3.3" fill="#666" text-anchor="end">BRCA</text>
<path d="M113.9 463.4H115.4" fill="none" stroke="#666" stroke-width="0.35"/>
<path d="M128.3 463.4H130.4" fill="none" stroke="#c8c8c8" stroke-width="0.45"/>
<circle cx="129.2" cy="463.4" r="0.95" fill="#cfcfcf" stroke="#9a9a9a" stroke-width="0.3"/>
<text x="113.4" y="469.5" font-size="3.3" fill="#666" text-anchor="end">BLCA</text>
<path d="M113.9 468.4H115.4" fill="none" stroke="#666" stroke-width="0.35"/>
<path d="M129 468.4H130.6" fill="none" stroke="#c8c8c8" stroke-width="0.45"/>
<circle cx="129.5" cy="468.4" r="0.95" fill="#cfcfcf" stroke="#9a9a9a" stroke-width="0.3"/>
<text x="113.4" y="474.6" font-size="3.3" fill="#666" text-anchor="end">ACC</text>
<path d="M113.9 473.4H115.4" fill="none" stroke="#666" stroke-width="0.35"/>
<path d="M128.1 473.4H130.2" fill="none" stroke="#c8c8c8" stroke-width="0.45"/>
<circle cx="129.1" cy="473.4" r="0.95" fill="#cfcfcf" stroke="#9a9a9a" stroke-width="0.3"/>
<path d="M118.1 476.1V477.3" fill="none" stroke="#444" stroke-width="0.35"/>
<text x="118.1" y="480.6" font-size="3.4" fill="#333" text-anchor="middle">-2</text>
<path d="M123.9 476.1V477.3" fill="none" stroke="#444" stroke-width="0.35"/>
<text x="123.9" y="480.6" font-size="3.4" fill="#333" text-anchor="middle">-1</text>
<path d="M129.5 476.1V477.3" fill="none" stroke="#444" stroke-width="0.35"/>
<text x="129.5" y="480.6" font-size="3.4" fill="#333" text-anchor="middle">0</text>
<path d="M135.2 476.1V477.3" fill="none" stroke="#444" stroke-width="0.35"/>
<text x="135.2" y="480.6" font-size="3.4" fill="#333" text-anchor="middle">1</text>
<path d="M141 476.1V477.3" fill="none" stroke="#444" stroke-width="0.35"/>
<text x="141" y="480.6" font-size="3.4" fill="#333" text-anchor="middle">2</text>
<text x="130.6" y="485.8" font-size="4.1" fill="#222" text-anchor="middle" font-weight="bold">ln (Hazard Ratio)</text>
<text x="165.5" y="312" font-size="5.4" fill="#222">DFI</text>
<path d="M165.4 314.5H193.8" fill="none" stroke="#444" stroke-width="0.55"/>
<path d="M193.8 314.4V476.1" fill="none" stroke="#555" stroke-width="0.5"/>
<path d="M165.4 314.4V476.1" fill="none" stroke="#444" stroke-width="0.55"/>
<path d="M165.4 476.5H193.8" fill="none" stroke="#444" stroke-width="0.6"/>
<path d="M175.9 314.4V476.1" fill="none" stroke="#222" stroke-width="0.5" stroke-dasharray="1.3,1.0"/>
<text x="163.4" y="318.6" font-size="3.3" fill="#666" text-anchor="end">UVM</text>
<path d="M163.9 317.5H165.4" fill="none" stroke="#666" stroke-width="0.35"/>
<path d="M175.9 317.5h0" fill="none" stroke="#999" stroke-width="1" stroke-linecap="round"/>
<text x="163.4" y="323.7" font-size="3.3" fill="#666" text-anchor="end">UCS</text>
<path d="M163.9 322.5H165.4" fill="none" stroke="#666" stroke-width="0.35"/>
<path d="M174.1 322.5H176.8" fill="none" stroke="#c8c8c8" stroke-width="0.45"/>
<circle cx="175.5" cy="322.5" r="0.95" fill="#cfcfcf" stroke="#9a9a9a" stroke-width="0.3"/>
<text x="163.4" y="328.7" font-size="3.3" fill="#666" text-anchor="end">UCEC</text>
<path d="M163.9 327.6H165.4" fill="none" stroke="#666" stroke-width="0.35"/>
<path d="M174.1 327.6H176.3" fill="none" stroke="#c8c8c8" stroke-width="0.45"/>
<circle cx="175.4" cy="327.6" r="0.95" fill="#cfcfcf" stroke="#9a9a9a" stroke-width="0.3"/>
<text x="163.4" y="333.7" font-size="3.3" fill="#666" text-anchor="end">THYM</text>
<path d="M163.9 332.6H165.4" fill="none" stroke="#666" stroke-width="0.35"/>
<path d="M174.4 332.6H176.9" fill="none" stroke="#c8c8c8" stroke-width="0.45"/>
<circle cx="175.6" cy="332.6" r="0.95" fill="#cfcfcf" stroke="#9a9a9a" stroke-width="0.3"/>
<text x="163.4" y="338.8" font-size="3.3" fill="#666" text-anchor="end">THCA</text>
<path d="M163.9 337.6H165.4" fill="none" stroke="#666" stroke-width="0.35"/>
<path d="M174.9 337.6H181.9" fill="none" stroke="#c8c8c8" stroke-width="0.45"/>
<circle cx="178.4" cy="337.6" r="0.95" fill="#cfcfcf" stroke="#9a9a9a" stroke-width="0.3"/>
<text x="163.4" y="343.8" font-size="3.3" fill="#666" text-anchor="end">TGCT</text>
<path d="M163.9 342.6H165.4" fill="none" stroke="#666" stroke-width="0.35"/>
<path d="M174.8 342.6H176" fill="none" stroke="#c8c8c8" stroke-width="0.45"/>
<circle cx="175.4" cy="342.6" r="0.95" fill="#cfcfcf" stroke="#9a9a9a" stroke-width="0.3"/>
<text x="163.4" y="348.8" font-size="3.3" fill="#666" text-anchor="end">STAD</text>
<path d="M163.9 347.7H165.4" fill="none" stroke="#666" stroke-width="0.35"/>
<path d="M174.8 347.7H176.8" fill="none" stroke="#c8c8c8" stroke-width="0.45"/>
<circle cx="175.7" cy="347.7" r="0.95" fill="#cfcfcf" stroke="#9a9a9a" stroke-width="0.3"/>
<text x="163.4" y="353.9" font-size="3.3" fill="#666" text-anchor="end">SKCM</text>
<path d="M163.9 352.7H165.4" fill="none" stroke="#666" stroke-width="0.35"/>
<path d="M174.7 352.7H176.9" fill="none" stroke="#c8c8c8" stroke-width="0.45"/>
<circle cx="176.1" cy="352.7" r="0.95" fill="#cfcfcf" stroke="#9a9a9a" stroke-width="0.3"/>
<text x="163.4" y="358.9" font-size="3.3" fill="#666" text-anchor="end">SARC</text>
<path d="M163.9 357.7H165.4" fill="none" stroke="#666" stroke-width="0.35"/>
<path d="M174.4 357.7H177" fill="none" stroke="#c8c8c8" stroke-width="0.45"/>
<circle cx="175.6" cy="357.7" r="0.95" fill="#cfcfcf" stroke="#9a9a9a" stroke-width="0.3"/>
<text x="163.4" y="363.9" font-size="3.3" fill="#666" text-anchor="end">READ</text>
<path d="M163.9 362.8H165.4" fill="none" stroke="#666" stroke-width="0.35"/>
<path d="M164.9 362.8H185.9" fill="none" stroke="#c8c8c8" stroke-width="0.45"/>
<circle cx="173.9" cy="362.8" r="0.95" fill="#cfcfcf" stroke="#9a9a9a" stroke-width="0.3"/>
<text x="163.4" y="368.9" font-size="3.3" fill="#666" text-anchor="end">PRAD</text>
<path d="M163.9 367.8H165.4" fill="none" stroke="#666" stroke-width="0.35"/>
<path d="M174.8 367.8H177.3" fill="none" stroke="#c8c8c8" stroke-width="0.45"/>
<circle cx="175.9" cy="367.8" r="0.95" fill="#cfcfcf" stroke="#9a9a9a" stroke-width="0.3"/>
<text x="163.4" y="374" font-size="3.3" fill="#666" text-anchor="end">PCPG</text>
<path d="M163.9 372.8H165.4" fill="none" stroke="#666" stroke-width="0.35"/>
<path d="M169.4 372.8H177.9" fill="none" stroke="#c8c8c8" stroke-width="0.45"/>
<circle cx="173.9" cy="372.8" r="0.95" fill="#cfcfcf" stroke="#9a9a9a" stroke-width="0.3"/>
<text x="163.4" y="379" font-size="3.3" fill="#666" text-anchor="end">PAAD</text>
<path d="M163.9 377.9H165.4" fill="none" stroke="#666" stroke-width="0.35"/>
<path d="M178.6 377.9H184.4" fill="none" stroke="#e8111a" stroke-width="0.5"/>
<path d="M181.2 377.9h0" fill="none" stroke="#e8111a" stroke-width="2.7" stroke-linecap="round"/>
<text x="163.4" y="384" font-size="3.3" fill="#666" text-anchor="end">OV</text>
<path d="M163.9 382.9H165.4" fill="none" stroke="#666" stroke-width="0.35"/>
<path d="M174.4 382.9H176.7" fill="none" stroke="#c8c8c8" stroke-width="0.45"/>
<circle cx="175.6" cy="382.9" r="0.95" fill="#cfcfcf" stroke="#9a9a9a" stroke-width="0.3"/>
<text x="163.4" y="389.1" font-size="3.3" fill="#666" text-anchor="end">MESO</text>
<path d="M163.9 387.9H165.4" fill="none" stroke="#666" stroke-width="0.35"/>
<path d="M174.5 387.9H176.6" fill="none" stroke="#c8c8c8" stroke-width="0.45"/>
<circle cx="175.4" cy="387.9" r="0.95" fill="#cfcfcf" stroke="#9a9a9a" stroke-width="0.3"/>
<text x="163.4" y="394.1" font-size="3.3" fill="#666" text-anchor="end">LUSC</text>
<path d="M163.9 392.9H165.4" fill="none" stroke="#666" stroke-width="0.35"/>
<path d="M174.9 392.9H176.4" fill="none" stroke="#c8c8c8" stroke-width="0.45"/>
<circle cx="175.3" cy="392.9" r="0.95" fill="#cfcfcf" stroke="#9a9a9a" stroke-width="0.3"/>
<text x="163.4" y="399.1" font-size="3.3" fill="#666" text-anchor="end">LUAD</text>
<path d="M163.9 398H165.4" fill="none" stroke="#666" stroke-width="0.35"/>
<path d="M175 398H175.9" fill="none" stroke="#c8c8c8" stroke-width="0.45"/>
<circle cx="175.5" cy="398" r="0.95" fill="#cfcfcf" stroke="#9a9a9a" stroke-width="0.3"/>
<text x="163.4" y="404.2" font-size="3.3" fill="#666" text-anchor="end">LIHC</text>
<path d="M163.9 403H165.4" fill="none" stroke="#666" stroke-width="0.35"/>
<path d="M175.1 403H177.6" fill="none" stroke="#c8c8c8" stroke-width="0.45"/>
<circle cx="176.4" cy="403" r="0.95" fill="#cfcfcf" stroke="#9a9a9a" stroke-width="0.3"/>
<text x="163.4" y="409.2" font-size="3.3" fill="#666" text-anchor="end">LGG</text>
<path d="M163.9 408H165.4" fill="none" stroke="#666" stroke-width="0.35"/>
<path d="M175 408H177.1" fill="none" stroke="#c8c8c8" stroke-width="0.45"/>
<circle cx="176.2" cy="408" r="0.95" fill="#cfcfcf" stroke="#9a9a9a" stroke-width="0.3"/>
<text x="163.4" y="414.2" font-size="3.3" fill="#666" text-anchor="end">KIRP</text>
<path d="M163.9 413.1H165.4" fill="none" stroke="#666" stroke-width="0.35"/>
<path d="M176.9 413.1H178.7" fill="none" stroke="#e8111a" stroke-width="0.5"/>
<path d="M177.8 413.1h0" fill="none" stroke="#e8111a" stroke-width="2.7" stroke-linecap="round"/>
<text x="163.4" y="419.2" font-size="3.3" fill="#666" text-anchor="end">KIRC</text>
<path d="M163.9 418.1H165.4" fill="none" stroke="#666" stroke-width="0.35"/>
<path d="M174.8 418.1H177.3" fill="none" stroke="#c8c8c8" stroke-width="0.45"/>
<circle cx="176.2" cy="418.1" r="0.95" fill="#cfcfcf" stroke="#9a9a9a" stroke-width="0.3"/>
<text x="163.4" y="424.3" font-size="3.3" fill="#666" text-anchor="end">KICH</text>
<path d="M163.9 423.1H165.4" fill="none" stroke="#666" stroke-width="0.35"/>
<path d="M174.9 423.1H193.4" fill="none" stroke="#c8c8c8" stroke-width="0.45"/>
<circle cx="183.5" cy="423.1" r="0.95" fill="#cfcfcf" stroke="#9a9a9a" stroke-width="0.3"/>
<text x="163.4" y="429.3" font-size="3.3" fill="#666" text-anchor="end">HNSC</text>
<path d="M163.9 428.2H165.4" fill="none" stroke="#666" stroke-width="0.35"/>
<path d="M174.8 428.2H176.6" fill="none" stroke="#c8c8c8" stroke-width="0.45"/>
<circle cx="175.7" cy="428.2" r="0.95" fill="#cfcfcf" stroke="#9a9a9a" stroke-width="0.3"/>
<text x="163.4" y="434.3" font-size="3.3" fill="#666" text-anchor="end">GBM</text>
<path d="M163.9 433.2H165.4" fill="none" stroke="#666" stroke-width="0.35"/>
<path d="M175.2 433.2H177.1" fill="none" stroke="#c8c8c8" stroke-width="0.45"/>
<circle cx="176.2" cy="433.2" r="0.95" fill="#cfcfcf" stroke="#9a9a9a" stroke-width="0.3"/>
<text x="163.4" y="439.4" font-size="3.3" fill="#666" text-anchor="end">ESCA</text>
<path d="M163.9 438.2H165.4" fill="none" stroke="#666" stroke-width="0.35"/>
<path d="M174.8 438.2H176.8" fill="none" stroke="#c8c8c8" stroke-width="0.45"/>
<circle cx="176.2" cy="438.2" r="0.95" fill="#cfcfcf" stroke="#9a9a9a" stroke-width="0.3"/>
<text x="163.4" y="444.4" font-size="3.3" fill="#666" text-anchor="end">DLBC</text>
<path d="M163.9 443.2H165.4" fill="none" stroke="#666" stroke-width="0.35"/>
<path d="M162.9 443.2H185.9" fill="none" stroke="#c8c8c8" stroke-width="0.45"/>
<circle cx="175.4" cy="443.2" r="0.95" fill="#cfcfcf" stroke="#9a9a9a" stroke-width="0.3"/>
<text x="163.4" y="449.4" font-size="3.3" fill="#666" text-anchor="end">COAD</text>
<path d="M163.9 448.3H165.4" fill="none" stroke="#666" stroke-width="0.35"/>
<path d="M172.9 448.3H176.4" fill="none" stroke="#c8c8c8" stroke-width="0.45"/>
<circle cx="174.6" cy="448.3" r="0.95" fill="#cfcfcf" stroke="#9a9a9a" stroke-width="0.3"/>
<text x="163.4" y="454.5" font-size="3.3" fill="#666" text-anchor="end">CHOL</text>
<path d="M163.9 453.3H165.4" fill="none" stroke="#666" stroke-width="0.35"/>
<path d="M170.9 453.3H176.4" fill="none" stroke="#c8c8c8" stroke-width="0.45"/>
<circle cx="173.6" cy="453.3" r="0.95" fill="#cfcfcf" stroke="#9a9a9a" stroke-width="0.3"/>
<text x="163.4" y="459.5" font-size="3.3" fill="#666" text-anchor="end">CESC</text>
<path d="M163.9 458.3H165.4" fill="none" stroke="#666" stroke-width="0.35"/>
<path d="M174.7 458.3H176.4" fill="none" stroke="#c8c8c8" stroke-width="0.45"/>
<circle cx="175.3" cy="458.3" r="0.95" fill="#cfcfcf" stroke="#9a9a9a" stroke-width="0.3"/>
<text x="163.4" y="464.5" font-size="3.3" fill="#666" text-anchor="end">BRCA</text>
<path d="M163.9 463.4H165.4" fill="none" stroke="#666" stroke-width="0.35"/>
<path d="M174.4 463.4H176.9" fill="none" stroke="#c8c8c8" stroke-width="0.45"/>
<circle cx="175.8" cy="463.4" r="0.95" fill="#cfcfcf" stroke="#9a9a9a" stroke-width="0.3"/>
<text x="163.4" y="469.5" font-size="3.3" fill="#666" text-anchor="end">BLCA</text>
<path d="M163.9 468.4H165.4" fill="none" stroke="#666" stroke-width="0.35"/>
<path d="M175.8 468.4H177.7" fill="none" stroke="#c8c8c8" stroke-width="0.45"/>
<circle cx="176.4" cy="468.4" r="0.95" fill="#cfcfcf" stroke="#9a9a9a" stroke-width="0.3"/>
<text x="163.4" y="474.6" font-size="3.3" fill="#666" text-anchor="end">ACC</text>
<path d="M163.9 473.4H165.4" fill="none" stroke="#666" stroke-width="0.35"/>
<path d="M175.2 473.4H176.8" fill="none" stroke="#c8c8c8" stroke-width="0.45"/>
<circle cx="176.2" cy="473.4" r="0.95" fill="#cfcfcf" stroke="#9a9a9a" stroke-width="0.3"/>
<path d="M167.4 476.1V477.3" fill="none" stroke="#444" stroke-width="0.35"/>
<text x="167.4" y="480.6" font-size="3.4" fill="#333" text-anchor="middle">-2</text>
<path d="M175.9 476.1V477.3" fill="none" stroke="#444" stroke-width="0.35"/>
<text x="175.9" y="480.6" font-size="3.4" fill="#333" text-anchor="middle">0</text>
<path d="M184.4 476.1V477.3" fill="none" stroke="#444" stroke-width="0.35"/>
<text x="184.4" y="480.6" font-size="3.4" fill="#333" text-anchor="middle">2</text>
<text x="180.6" y="485.8" font-size="4.1" fill="#222" text-anchor="middle" font-weight="bold">ln (Hazard Ratio)</text>
<text x="215.5" y="312" font-size="5.4" fill="#222">PFI</text>
<path d="M215.4 314.5H243.8" fill="none" stroke="#444" stroke-width="0.55"/>
<path d="M243.8 314.4V476.1" fill="none" stroke="#ddd" stroke-width="0.4"/>
<path d="M215.4 314.4V476.1" fill="none" stroke="#444" stroke-width="0.55"/>
<path d="M215.4 476.5H243.8" fill="none" stroke="#444" stroke-width="0.6"/>
<path d="M229.8 314.4V476.1" fill="none" stroke="#222" stroke-width="0.5" stroke-dasharray="1.3,1.0"/>
<text x="213.4" y="318.6" font-size="3.3" fill="#666" text-anchor="end">UVM</text>
<path d="M213.9 317.5H215.4" fill="none" stroke="#666" stroke-width="0.35"/>
<path d="M232 317.5H235.3" fill="none" stroke="#e8111a" stroke-width="0.5"/>
<path d="M233.6 317.5h0" fill="none" stroke="#e8111a" stroke-width="2.7" stroke-linecap="round"/>
<text x="213.4" y="323.7" font-size="3.3" fill="#666" text-anchor="end">UCS</text>
<path d="M213.9 322.5H215.4" fill="none" stroke="#666" stroke-width="0.35"/>
<path d="M229 322.5H231.1" fill="none" stroke="#c8c8c8" stroke-width="0.45"/>
<circle cx="230.2" cy="322.5" r="0.95" fill="#cfcfcf" stroke="#9a9a9a" stroke-width="0.3"/>
<text x="213.4" y="328.7" font-size="3.3" fill="#666" text-anchor="end">UCEC</text>
<path d="M213.9 327.6H215.4" fill="none" stroke="#666" stroke-width="0.35"/>
<path d="M228.8 327.6H231.3" fill="none" stroke="#c8c8c8" stroke-width="0.45"/>
<circle cx="230" cy="327.6" r="0.95" fill="#cfcfcf" stroke="#9a9a9a" stroke-width="0.3"/>
<text x="213.4" y="333.7" font-size="3.3" fill="#666" text-anchor="end">THYM</text>
<path d="M213.9 332.6H215.4" fill="none" stroke="#666" stroke-width="0.35"/>
<path d="M229 332.6H231.8" fill="none" stroke="#c8c8c8" stroke-width="0.45"/>
<circle cx="230.4" cy="332.6" r="0.95" fill="#cfcfcf" stroke="#9a9a9a" stroke-width="0.3"/>
<text x="213.4" y="338.8" font-size="3.3" fill="#666" text-anchor="end">THCA</text>
<path d="M213.9 337.6H215.4" fill="none" stroke="#666" stroke-width="0.35"/>
<path d="M223.3 337.6H235.3" fill="none" stroke="#c8c8c8" stroke-width="0.45"/>
<circle cx="229" cy="337.6" r="0.95" fill="#cfcfcf" stroke="#9a9a9a" stroke-width="0.3"/>
<text x="213.4" y="343.8" font-size="3.3" fill="#666" text-anchor="end">TGCT</text>
<path d="M213.9 342.6H215.4" fill="none" stroke="#666" stroke-width="0.35"/>
<path d="M228.6 342.6H230.7" fill="none" stroke="#c8c8c8" stroke-width="0.45"/>
<circle cx="229.3" cy="342.6" r="0.95" fill="#cfcfcf" stroke="#9a9a9a" stroke-width="0.3"/>
<text x="213.4" y="348.8" font-size="3.3" fill="#666" text-anchor="end">STAD</text>
<path d="M213.9 347.7H215.4" fill="none" stroke="#666" stroke-width="0.35"/>
<path d="M228.8 347.7H230.3" fill="none" stroke="#c8c8c8" stroke-width="0.45"/>
<circle cx="229.4" cy="347.7" r="0.95" fill="#cfcfcf" stroke="#9a9a9a" stroke-width="0.3"/>
<text x="213.4" y="353.9" font-size="3.3" fill="#666" text-anchor="end">SKCM</text>
<path d="M213.9 352.7H215.4" fill="none" stroke="#666" stroke-width="0.35"/>
<path d="M224.8 352.7H230" fill="none" stroke="#c8c8c8" stroke-width="0.45"/>
<circle cx="227.3" cy="352.7" r="0.95" fill="#cfcfcf" stroke="#9a9a9a" stroke-width="0.3"/>
<text x="213.4" y="358.9" font-size="3.3" fill="#666" text-anchor="end">SARC</text>
<path d="M213.9 357.7H215.4" fill="none" stroke="#666" stroke-width="0.35"/>
<path d="M229.5 357.7H230.8" fill="none" stroke="#c8c8c8" stroke-width="0.45"/>
<circle cx="230.2" cy="357.7" r="0.95" fill="#cfcfcf" stroke="#9a9a9a" stroke-width="0.3"/>
<text x="213.4" y="363.9" font-size="3.3" fill="#666" text-anchor="end">READ</text>
<path d="M213.9 362.8H215.4" fill="none" stroke="#666" stroke-width="0.35"/>
<path d="M220.3 362.8H227.8" fill="none" stroke="#c8c8c8" stroke-width="0.45"/>
<circle cx="223.8" cy="362.8" r="0.95" fill="#cfcfcf" stroke="#9a9a9a" stroke-width="0.3"/>
<text x="213.4" y="368.9" font-size="3.3" fill="#666" text-anchor="end">PRAD</text>
<path d="M213.9 367.8H215.4" fill="none" stroke="#666" stroke-width="0.35"/>
<path d="M228.2 367.8H230.2" fill="none" stroke="#c8c8c8" stroke-width="0.45"/>
<circle cx="229.4" cy="367.8" r="0.95" fill="#cfcfcf" stroke="#9a9a9a" stroke-width="0.3"/>
<text x="213.4" y="374" font-size="3.3" fill="#666" text-anchor="end">PCPG</text>
<path d="M213.9 372.8H215.4" fill="none" stroke="#666" stroke-width="0.35"/>
<path d="M226 372.8H234.3" fill="none" stroke="#c8c8c8" stroke-width="0.45"/>
<circle cx="230.1" cy="372.8" r="0.95" fill="#cfcfcf" stroke="#9a9a9a" stroke-width="0.3"/>
<text x="213.4" y="379" font-size="3.3" fill="#666" text-anchor="end">PAAD</text>
<path d="M213.9 377.9H215.4" fill="none" stroke="#666" stroke-width="0.35"/>
<path d="M233 377.9H235.8" fill="none" stroke="#e8111a" stroke-width="0.5"/>
<path d="M234.4 377.9h0" fill="none" stroke="#e8111a" stroke-width="2.7" stroke-linecap="round"/>
<text x="213.4" y="384" font-size="3.3" fill="#666" text-anchor="end">OV</text>
<path d="M213.9 382.9H215.4" fill="none" stroke="#666" stroke-width="0.35"/>
<path d="M229.3 382.9H231.3" fill="none" stroke="#c8c8c8" stroke-width="0.45"/>
<circle cx="230.2" cy="382.9" r="0.95" fill="#cfcfcf" stroke="#9a9a9a" stroke-width="0.3"/>
<text x="213.4" y="389.1" font-size="3.3" fill="#666" text-anchor="end">MESO</text>
<path d="M213.9 387.9H215.4" fill="none" stroke="#666" stroke-width="0.35"/>
<path d="M229 387.9H231.1" fill="none" stroke="#c8c8c8" stroke-width="0.45"/>
<circle cx="230.3" cy="387.9" r="0.95" fill="#cfcfcf" stroke="#9a9a9a" stroke-width="0.3"/>
<text x="213.4" y="394.1" font-size="3.3" fill="#666" text-anchor="end">LUSC</text>
<path d="M213.9 392.9H215.4" fill="none" stroke="#666" stroke-width="0.35"/>
<path d="M229.5 392.9H231.3" fill="none" stroke="#c8c8c8" stroke-width="0.45"/>
<circle cx="230.2" cy="392.9" r="0.95" fill="#cfcfcf" stroke="#9a9a9a" stroke-width="0.3"/>
<text x="213.4" y="399.1" font-size="3.3" fill="#666" text-anchor="end">LUAD</text>
<path d="M213.9 398H215.4" fill="none" stroke="#666" stroke-width="0.35"/>
<path d="M229 398H231.4" fill="none" stroke="#c8c8c8" stroke-width="0.45"/>
<circle cx="230.2" cy="398" r="0.95" fill="#cfcfcf" stroke="#9a9a9a" stroke-width="0.3"/>
<text x="213.4" y="404.2" font-size="3.3" fill="#666" text-anchor="end">LIHC</text>
<path d="M213.9 403H215.4" fill="none" stroke="#666" stroke-width="0.35"/>
<path d="M230 403H231.3" fill="none" stroke="#e8111a" stroke-width="0.5"/>
<path d="M230.6 403h0" fill="none" stroke="#e8111a" stroke-width="2.7" stroke-linecap="round"/>
<text x="213.4" y="409.2" font-size="3.3" fill="#666" text-anchor="end">LGG</text>
<path d="M213.9 408H215.4" fill="none" stroke="#666" stroke-width="0.35"/>
<path d="M228.8 408H231.3" fill="none" stroke="#c8c8c8" stroke-width="0.45"/>
<circle cx="230.1" cy="408" r="0.95" fill="#cfcfcf" stroke="#9a9a9a" stroke-width="0.3"/>
<text x="213.4" y="414.2" font-size="3.3" fill="#666" text-anchor="end">KIRP</text>
<path d="M213.9 413.1H215.4" fill="none" stroke="#666" stroke-width="0.35"/>
<path d="M232.4 413.1H234.8" fill="none" stroke="#e8111a" stroke-width="0.5"/>
<path d="M233.6 413.1h0" fill="none" stroke="#e8111a" stroke-width="2.7" stroke-linecap="round"/>
<text x="213.4" y="419.2" font-size="3.3" fill="#666" text-anchor="end">KIRC</text>
<path d="M213.9 418.1H215.4" fill="none" stroke="#666" stroke-width="0.35"/>
<path d="M232.5 418.1H234.8" fill="none" stroke="#e8111a" stroke-width="0.5"/>
<path d="M233.6 418.1h0" fill="none" stroke="#e8111a" stroke-width="2.7" stroke-linecap="round"/>
<text x="213.4" y="424.3" font-size="3.3" fill="#666" text-anchor="end">KICH</text>
<path d="M213.9 423.1H215.4" fill="none" stroke="#666" stroke-width="0.35"/>
<path d="M229.8 423.1H240.8" fill="none" stroke="#c8c8c8" stroke-width="0.45"/>
<circle cx="234.4" cy="423.1" r="0.95" fill="#cfcfcf" stroke="#9a9a9a" stroke-width="0.3"/>
<text x="213.4" y="429.3" font-size="3.3" fill="#666" text-anchor="end">HNSC</text>
<path d="M213.9 428.2H215.4" fill="none" stroke="#666" stroke-width="0.35"/>
<path d="M229.4 428.2H230.5" fill="none" stroke="#c8c8c8" stroke-width="0.45"/>
<circle cx="229.9" cy="428.2" r="0.95" fill="#cfcfcf" stroke="#9a9a9a" stroke-width="0.3"/>
<text x="213.4" y="434.3" font-size="3.3" fill="#666" text-anchor="end">GBM</text>
<path d="M213.9 433.2H215.4" fill="none" stroke="#666" stroke-width="0.35"/>
<path d="M231.1 433.2H233.1" fill="none" stroke="#e8111a" stroke-width="0.5"/>
<path d="M232.1 433.2h0" fill="none" stroke="#e8111a" stroke-width="2.7" stroke-linecap="round"/>
<text x="213.4" y="439.4" font-size="3.3" fill="#666" text-anchor="end">ESCA</text>
<path d="M213.9 438.2H215.4" fill="none" stroke="#666" stroke-width="0.35"/>
<path d="M228.7 438.2H230.5" fill="none" stroke="#c8c8c8" stroke-width="0.45"/>
<circle cx="230.1" cy="438.2" r="0.95" fill="#cfcfcf" stroke="#9a9a9a" stroke-width="0.3"/>
<text x="213.4" y="444.4" font-size="3.3" fill="#666" text-anchor="end">DLBC</text>
<path d="M213.9 443.2H215.4" fill="none" stroke="#666" stroke-width="0.35"/>
<path d="M222.3 443.2H237.3" fill="none" stroke="#c8c8c8" stroke-width="0.45"/>
<circle cx="229.6" cy="443.2" r="0.95" fill="#cfcfcf" stroke="#9a9a9a" stroke-width="0.3"/>
<text x="213.4" y="449.4" font-size="3.3" fill="#666" text-anchor="end">COAD</text>
<path d="M213.9 448.3H215.4" fill="none" stroke="#666" stroke-width="0.35"/>
<path d="M228.4 448.3H230.4" fill="none" stroke="#c8c8c8" stroke-width="0.45"/>
<circle cx="229.5" cy="448.3" r="0.95" fill="#cfcfcf" stroke="#9a9a9a" stroke-width="0.3"/>
<text x="213.4" y="454.5" font-size="3.3" fill="#666" text-anchor="end">CHOL</text>
<path d="M213.9 453.3H215.4" fill="none" stroke="#666" stroke-width="0.35"/>
<path d="M228.5 453.3H230.8" fill="none" stroke="#c8c8c8" stroke-width="0.45"/>
<circle cx="229.8" cy="453.3" r="0.95" fill="#cfcfcf" stroke="#9a9a9a" stroke-width="0.3"/>
<text x="213.4" y="459.5" font-size="3.3" fill="#666" text-anchor="end">CESC</text>
<path d="M213.9 458.3H215.4" fill="none" stroke="#666" stroke-width="0.35"/>
<path d="M228.5 458.3H230" fill="none" stroke="#c8c8c8" stroke-width="0.45"/>
<circle cx="229.6" cy="458.3" r="0.95" fill="#cfcfcf" stroke="#9a9a9a" stroke-width="0.3"/>
<text x="213.4" y="464.5" font-size="3.3" fill="#666" text-anchor="end">BRCA</text>
<path d="M213.9 463.4H215.4" fill="none" stroke="#666" stroke-width="0.35"/>
<path d="M228.2 463.4H230.6" fill="none" stroke="#c8c8c8" stroke-width="0.45"/>
<circle cx="229.5" cy="463.4" r="0.95" fill="#cfcfcf" stroke="#9a9a9a" stroke-width="0.3"/>
<text x="213.4" y="469.5" font-size="3.3" fill="#666" text-anchor="end">BLCA</text>
<path d="M213.9 468.4H215.4" fill="none" stroke="#666" stroke-width="0.35"/>
<path d="M229.6 468.4H231.3" fill="none" stroke="#c8c8c8" stroke-width="0.45"/>
<circle cx="230.1" cy="468.4" r="0.95" fill="#cfcfcf" stroke="#9a9a9a" stroke-width="0.3"/>
<text x="213.4" y="474.6" font-size="3.3" fill="#666" text-anchor="end">ACC</text>
<path d="M213.9 473.4H215.4" fill="none" stroke="#666" stroke-width="0.35"/>
<path d="M228.9 473.4H230.8" fill="none" stroke="#c8c8c8" stroke-width="0.45"/>
<circle cx="229.4" cy="473.4" r="0.95" fill="#cfcfcf" stroke="#9a9a9a" stroke-width="0.3"/>
<path d="M224 476.1V477.3" fill="none" stroke="#444" stroke-width="0.35"/>
<text x="224" y="480.6" font-size="3.4" fill="#333" text-anchor="middle">-0.5</text>
<path d="M229.8 476.1V477.3" fill="none" stroke="#444" stroke-width="0.35"/>
<text x="229.8" y="480.6" font-size="3.4" fill="#333" text-anchor="middle">0.0</text>
<path d="M235.6 476.1V477.3" fill="none" stroke="#444" stroke-width="0.35"/>
<text x="235.6" y="480.6" font-size="3.4" fill="#333" text-anchor="middle">0.5</text>
<path d="M241.4 476.1V477.3" fill="none" stroke="#444" stroke-width="0.35"/>
<text x="241.4" y="480.6" font-size="3.4" fill="#333" text-anchor="middle">1.0</text>
<text x="230.6" y="485.8" font-size="4.1" fill="#222" text-anchor="middle" font-weight="bold">ln (Hazard Ratio)</text>
<text x="249.5" y="391" font-size="4.5" fill="#222">Type</text>
<path d="M252.8 395.2V399" fill="none" stroke="#c8c8c8" stroke-width="0.45"/>
<circle cx="252.8" cy="397.1" r="1" fill="#cfcfcf" stroke="#9a9a9a" stroke-width="0.3"/>
<text x="258" y="398.5" font-size="3.9" fill="#333">NS</text>
<path d="M252.8 401.6V406.2" fill="none" stroke="#e8111a" stroke-width="0.5"/>
<path d="M252.8 403.9h0" fill="none" stroke="#e8111a" stroke-width="2.7" stroke-linecap="round"/>
<text x="258" y="405.3" font-size="3.9" fill="#333">Risk</text>
<text x="-0.5" y="499.5" font-size="6.8" fill="#333" font-family="Liberation Serif">D</text>
<rect x="53.3" y="546.4" width="8" height="9.2" fill="#fbfbfd"/>
<rect x="61.3" y="546.4" width="8" height="9.2" fill="#fbfbfd"/>
<rect x="69.2" y="546.4" width="8" height="9.2" fill="#dfe3f3"/>
<rect x="77.2" y="546.4" width="8" height="9.2" fill="#fcf0f0"/>
<rect x="85.1" y="546.4" width="8" height="9.2" fill="#e6e9f5"/>
<rect x="93.1" y="546.4" width="8" height="9.2" fill="#fdfdfd"/>
<rect x="101" y="546.4" width="8" height="9.2" fill="#fdf0f0"/>
<rect x="109" y="546.4" width="8" height="9.2" fill="#fdf0f0"/>
<rect x="116.9" y="546.4" width="8" height="9.2" fill="#fdf3f1"/>
<rect x="124.9" y="546.4" width="8" height="9.2" fill="#eef0f8"/>
<rect x="132.8" y="546.4" width="8" height="9.2" fill="#a9b8e0"/>
<rect x="140.8" y="546.4" width="8" height="9.2" fill="#fbe3e3"/>
<rect x="148.8" y="546.4" width="8" height="9.2" fill="#eba1a5"/>
<rect x="156.7" y="546.4" width="8" height="9.2" fill="#f8d6d6"/>
<rect x="164.7" y="546.4" width="8" height="9.2" fill="#ffffff"/>
<rect x="172.6" y="546.4" width="8" height="9.2" fill="#f8d8d8"/>
<rect x="180.6" y="546.4" width="8" height="9.2" fill="#fcecec"/>
<rect x="188.5" y="546.4" width="8" height="9.2" fill="#fdf0f0"/>
<rect x="196.5" y="546.4" width="8" height="9.2" fill="#cbd3ec"/>
<rect x="204.4" y="546.4" width="8" height="9.2" fill="#ffffff"/>
<rect x="212.4" y="546.4" width="8" height="9.2" fill="#fadcdc"/>
<rect x="220.4" y="546.4" width="8" height="9.2" fill="#fdf5f5"/>
<rect x="228.3" y="546.4" width="8" height="9.2" fill="#f6f6fb"/>
<rect x="236.3" y="546.4" width="8" height="9.2" fill="#f9dede"/>
<rect x="244.2" y="546.4" width="8" height="9.2" fill="#eceef8"/>
<rect x="252.2" y="546.4" width="8" height="9.2" fill="#d6dcf0"/>
<rect x="260.1" y="546.4" width="8" height="9.2" fill="#ffffff"/>
<rect x="268.1" y="546.4" width="8" height="9.2" fill="#6e6e6e"/>
<rect x="276" y="546.4" width="8" height="9.2" fill="#fdf0f0"/>
<rect x="284" y="546.4" width="8" height="9.2" fill="#f6c9cb"/>
<rect x="291.9" y="546.4" width="8" height="9.2" fill="#ffffff"/>
<rect x="299.9" y="546.4" width="8" height="9.2" fill="#fbe8e8"/>
<rect x="307.9" y="546.4" width="8" height="9.2" fill="#ee9097"/>
<rect x="149.3" y="546.9" width="7" height="8.2" fill="none" stroke="#e0454e" stroke-width="0.8"/>
<rect x="157.2" y="546.9" width="7" height="8.2" fill="none" stroke="#e0454e" stroke-width="0.8"/>
<rect x="173.1" y="546.9" width="7" height="8.2" fill="none" stroke="#e0454e" stroke-width="0.8"/>
<rect x="197" y="546.9" width="7" height="8.2" fill="none" stroke="#5a78c0" stroke-width="0.8"/>
<rect x="212.9" y="546.9" width="7" height="8.2" fill="none" stroke="#e0454e" stroke-width="0.8"/>
<rect x="252.7" y="546.9" width="7" height="8.2" fill="none" stroke="#5a78c0" stroke-width="0.8"/>
<text x="60.3" y="559" font-size="3.6" fill="#444" text-anchor="end" transform="rotate(-45 60.3 559)">ACC</text>
<text x="68.2" y="559" font-size="3.6" fill="#444" text-anchor="end" transform="rotate(-45 68.2 559)">BLCA</text>
<text x="76.2" y="559" font-size="3.6" fill="#444" text-anchor="end" transform="rotate(-45 76.2 559)">BRCA</text>
<text x="84.1" y="559" font-size="3.6" fill="#444" text-anchor="end" transform="rotate(-45 84.1 559)">CESC</text>
<text x="92.1" y="559" font-size="3.6" fill="#444" text-anchor="end" transform="rotate(-45 92.1 559)">CHOL</text>
<text x="100.1" y="559" font-size="3.6" fill="#444" text-anchor="end" transform="rotate(-45 100.1 559)">COAD</text>
<text x="108" y="559" font-size="3.6" fill="#444" text-anchor="end" transform="rotate(-45 108 559)">DLBC</text>
<text x="116" y="559" font-size="3.6" fill="#444" text-anchor="end" transform="rotate(-45 116 559)">ESCA</text>
<text x="123.9" y="559" font-size="3.6" fill="#444" text-anchor="end" transform="rotate(-45 123.9 559)">GBM</text>
<text x="131.9" y="559" font-size="3.6" fill="#444" text-anchor="end" transform="rotate(-45 131.9 559)">HNSC</text>
<text x="139.8" y="559" font-size="3.6" fill="#444" text-anchor="end" transform="rotate(-45 139.8 559)">KICH</text>
<text x="147.8" y="559" font-size="3.6" fill="#444" text-anchor="end" transform="rotate(-45 147.8 559)">KIRC</text>
<text x="155.7" y="559" font-size="3.6" fill="#444" text-anchor="end" transform="rotate(-45 155.7 559)">KIRP</text>
<text x="163.7" y="559" font-size="3.6" fill="#444" text-anchor="end" transform="rotate(-45 163.7 559)">LAML</text>
<text x="171.6" y="559" font-size="3.6" fill="#444" text-anchor="end" transform="rotate(-45 171.6 559)">LGG</text>
<text x="179.6" y="559" font-size="3.6" fill="#444" text-anchor="end" transform="rotate(-45 179.6 559)">LIHC</text>
<text x="187.6" y="559" font-size="3.6" fill="#444" text-anchor="end" transform="rotate(-45 187.6 559)">LUAD</text>
<text x="195.5" y="559" font-size="3.6" fill="#444" text-anchor="end" transform="rotate(-45 195.5 559)">LUSC</text>
<text x="203.5" y="559" font-size="3.6" fill="#444" text-anchor="end" transform="rotate(-45 203.5 559)">MESO</text>
<text x="211.4" y="559" font-size="3.6" fill="#444" text-anchor="end" transform="rotate(-45 211.4 559)">OV</text>
<text x="219.4" y="559" font-size="3.6" fill="#444" text-anchor="end" transform="rotate(-45 219.4 559)">PAAD</text>
<text x="227.3" y="559" font-size="3.6" fill="#444" text-anchor="end" transform="rotate(-45 227.3 559)">PCPG</text>
<text x="235.3" y="559" font-size="3.6" fill="#444" text-anchor="end" transform="rotate(-45 235.3 559)">PRAD</text>
<text x="243.2" y="559" font-size="3.6" fill="#444" text-anchor="end" transform="rotate(-45 243.2 559)">READ</text>
<text x="251.2" y="559" font-size="3.6" fill="#444" text-anchor="end" transform="rotate(-45 251.2 559)">SARC</text>
<text x="259.2" y="559" font-size="3.6" fill="#444" text-anchor="end" transform="rotate(-45 259.2 559)">SKCM</text>
<text x="267.1" y="559" font-size="3.6" fill="#444" text-anchor="end" transform="rotate(-45 267.1 559)">STAD</text>
<text x="275.1" y="559" font-size="3.6" fill="#444" text-anchor="end" transform="rotate(-45 275.1 559)">TGCT</text>
<text x="283" y="559" font-size="3.6" fill="#444" text-anchor="end" transform="rotate(-45 283 559)">THCA</text>
<text x="291" y="559" font-size="3.6" fill="#444" text-anchor="end" transform="rotate(-45 291 559)">THYM</text>
<text x="298.9" y="559" font-size="3.6" fill="#444" text-anchor="end" transform="rotate(-45 298.9 559)">UCEC</text>
<text x="306.9" y="559" font-size="3.6" fill="#444" text-anchor="end" transform="rotate(-45 306.9 559)">UCS</text>
<text x="314.8" y="559" font-size="3.6" fill="#444" text-anchor="end" transform="rotate(-45 314.8 559)">UVM</text>
<text x="52.5" y="550.6" font-size="3.2" fill="#444" text-anchor="end" textLength="29.6" lengthAdjust="spacingAndGlyphs">ENSG00000164136|IL15</text>
<text x="52.5" y="553.7" font-size="2.6" fill="#555" text-anchor="end" textLength="11.5" lengthAdjust="spacingAndGlyphs">p value</text>
<rect x="320.3" y="541.8" width="3.3" height="19.2" fill="url(#gV)"/>
<text x="319.8" y="540.6" font-size="2.6" fill="#444">Log2FC</text>
<text x="324.6" y="547.7" font-size="2.5" fill="#444">0.5</text>
<text x="324.6" y="552.5" font-size="2.5" fill="#444">0.0</text>
<text x="324.6" y="557.3" font-size="2.5" fill="#444">-0.5</text>
<text x="0.3" y="611" font-size="6.3" fill="#333" font-family="Liberation Serif">E</text>
<text x="55.4" y="617.2" font-size="5.1" fill="#444" font-family="Liberation Serif" text-anchor="middle">BRCA</text>
<text x="55.4" y="622.2" font-size="4" fill="#333" text-anchor="middle">Overall Survival</text>
<path d="M24 622.5H85.8" fill="none" stroke="#bbb" stroke-width="0.7"/>
<path d="M85.5 622.8V682" fill="none" stroke="#333" stroke-width="0.9"/>
<path d="M24.5 624.8V680.5" fill="none" stroke="#555" stroke-width="0.5"/>
<path d="M22.7 625.2H24" fill="none" stroke="#444" stroke-width="0.35"/>
<text x="20.8" y="625.2" font-size="3.2" fill="#444" text-anchor="middle" transform="rotate(-90 20.8 625.2)">1.0</text>
<path d="M22.7 636.1H24" fill="none" stroke="#444" stroke-width="0.35"/>
<text x="20.8" y="636.1" font-size="3.2" fill="#444" text-anchor="middle" transform="rotate(-90 20.8 636.1)">0.8</text>
<path d="M22.7 647H24" fill="none" stroke="#444" stroke-width="0.35"/>
<text x="20.8" y="647" font-size="3.2" fill="#444" text-anchor="middle" transform="rotate(-90 20.8 647)">0.6</text>
<path d="M22.7 657.9H24" fill="none" stroke="#444" stroke-width="0.35"/>
<text x="20.8" y="657.9" font-size="3.2" fill="#444" text-anchor="middle" transform="rotate(-90 20.8 657.9)">0.4</text>
<path d="M22.7 668.8H24" fill="none" stroke="#444" stroke-width="0.35"/>
<text x="20.8" y="668.8" font-size="3.2" fill="#444" text-anchor="middle" transform="rotate(-90 20.8 668.8)">0.2</text>
<path d="M22.7 679.7H24" fill="none" stroke="#444" stroke-width="0.35"/>
<text x="20.8" y="679.7" font-size="3.2" fill="#444" text-anchor="middle" transform="rotate(-90 20.8 679.7)">0.0</text>
<text x="15.8" y="652.4" font-size="3.6" fill="#333" text-anchor="middle" transform="rotate(-90 15.8 652.4)">Percent survival</text>
<path d="M24.3 682.5V683.8" fill="none" stroke="#444" stroke-width="0.35"/>
<text x="24.3" y="686.6" font-size="3.2" fill="#444" text-anchor="middle">0</text>
<path d="M34.5 682.5V683.8" fill="none" stroke="#444" stroke-width="0.35"/>
<text x="34.5" y="686.6" font-size="3.2" fill="#444" text-anchor="middle">50</text>
<path d="M44.5 682.5V683.8" fill="none" stroke="#444" stroke-width="0.35"/>
<text x="44.5" y="686.6" font-size="3.2" fill="#444" text-anchor="middle">100</text>
<path d="M54.5 682.5V683.8" fill="none" stroke="#444" stroke-width="0.35"/>
<text x="54.5" y="686.6" font-size="3.2" fill="#444" text-anchor="middle">150</text>
<path d="M64.5 682.5V683.8" fill="none" stroke="#444" stroke-width="0.35"/>
<text x="64.5" y="686.6" font-size="3.2" fill="#444" text-anchor="middle">200</text>
<path d="M74.5 682.5V683.8" fill="none" stroke="#444" stroke-width="0.35"/>
<text x="74.5" y="686.6" font-size="3.2" fill="#444" text-anchor="middle">250</text>
<text x="54.9" y="690.6" font-size="3.7" fill="#333" text-anchor="middle" font-weight="bold">Months</text>
<path d="M64.8 626.1H68.3" fill="none" stroke="#5b7fc7" stroke-width="0.5"/>
<text x="68.8" y="627" font-size="2.5" fill="#333">Low IL15RA TPM</text>
<path d="M64.8 628.4H68.3" fill="none" stroke="#e85050" stroke-width="0.5"/>
<text x="68.8" y="629.3" font-size="2.5" fill="#333">High IL15RA TPM</text>
<text x="84.3" y="632.1" font-size="2.6" fill="#222" text-anchor="end">Logrank p=0.041</text>
<text x="84.3" y="634.6" font-size="2.6" fill="#222" text-anchor="end">HR(high)=1.6</text>
<text x="84.3" y="637.1" font-size="2.6" fill="#222" text-anchor="end">p(HR)=0.043</text>
<text x="84.3" y="639.6" font-size="2.6" fill="#222" text-anchor="end">n(high)=143</text>
<text x="84.3" y="642.1" font-size="2.6" fill="#222" text-anchor="end">n(low)=143</text>
<polyline points="24.2,625.3 31,625.3 31,627.5 38,627.5 38,630.6 43.3,630.6 43.3,633.8 47.4,633.8 47.4,638.2 50.3,638.2 50.3,646.2 51.5,646.2 51.5,647.9 69,647.9 69,646.9 69,646.9 69,654.5 75.4,654.5 75.4,654.1 75.4,654.1 75.4,664 78.3,664 78.3,663.8" fill="none" stroke="#ee8080" stroke-width="0.45" stroke-dasharray="1.4,1.3" opacity="0.9" stroke-linejoin="round"/>
<polyline points="24.2,627.7 31,627.7 31,633.3 38,633.3 38,637.3 43.3,637.3 43.3,641.1 47.4,641.1 47.4,646 50.3,646 50.3,654.4 51.5,654.4 51.5,656.2 69,656.2 69,657.2 69,657.2 69,664.8 75.4,664.8 75.4,665.2 75.4,665.2 75.4,675.1 78.3,675.1 78.3,675.3" fill="none" stroke="#ee8080" stroke-width="0.45" stroke-dasharray="1.4,1.3" opacity="0.9" stroke-linejoin="round"/>
<polyline points="24.2,625.3 31,625.3 31,628.1 38,628.1 38,634.7 43.3,634.7 43.3,641.4 48.5,641.4 48.5,644.6 50.3,644.6 50.3,646.2 50.9,646.2 50.9,652 52.6,652 52.6,652.5 55,652.5 55,654.7 68.4,654.7 68.4,653.9 68.4,653.9 68.4,657.4 83.6,657.4 83.6,656.5" fill="none" stroke="#8aa2da" stroke-width="0.45" stroke-dasharray="1.4,1.3" opacity="0.9" stroke-linejoin="round"/>
<polyline points="24.2,627.7 31,627.7 31,633.9 38,633.9 38,641.4 43.3,641.4 43.3,648.7 48.5,648.7 48.5,652.5 50.3,652.5 50.3,654.4 50.9,654.4 50.9,660.2 52.6,660.2 52.6,660.9 55,660.9 55,663.4 68.4,663.4 68.4,664.2 68.4,664.2 68.4,667.7 83.6,667.7 83.6,668.6" fill="none" stroke="#8aa2da" stroke-width="0.45" stroke-dasharray="1.4,1.3" opacity="0.9" stroke-linejoin="round"/>
<polyline points="24.2,625.2 31,631 38,638 43.3,645 48.5,648.5 50.3,650.3 50.9,656.1 52.6,656.7 55,659.1 68.4,659.1 68.4,662.6 83.6,662.6" fill="none" stroke="#3a63b6" stroke-width="0.8" stroke-linejoin="round"/>
<polyline points="24.2,625.2 31,630.4 38,633.9 43.3,637.4 47.4,642.1 50.3,650.3 51.5,652 69,652 69,659.6 75.4,659.6 75.4,669.6 78.3,669.6" fill="none" stroke="#e3262b" stroke-width="0.8" stroke-linejoin="round"/>
<path d="M53.6 651.3V652.7M58 651.3V652.7M62.4 651.3V652.7M66.8 651.3V652.7M72.2 658.9V660.3" fill="none" stroke="#e3262b" stroke-width="0.35"/>
<path d="M57.2 658.4V659.8M61.7 658.4V659.8M66.2 658.4V659.8M70.9 661.9V663.3M76 661.9V663.3M81 661.9V663.3" fill="none" stroke="#3a63b6" stroke-width="0.35"/>
<text x="133.9" y="617.4" font-size="5.1" fill="#444" font-family="Liberation Serif" text-anchor="middle">KIRP</text>
<text x="133.9" y="622.4" font-size="4" fill="#333" text-anchor="middle">Overall Survival</text>
<path d="M103.1 623.5H163.8" fill="none" stroke="#555" stroke-width="0.7"/>
<path d="M103.5 625V680.5" fill="none" stroke="#555" stroke-width="0.5"/>
<path d="M101.8 625.4H103.1" fill="none" stroke="#444" stroke-width="0.35"/>
<text x="99.9" y="625.4" font-size="3.2" fill="#444" text-anchor="middle" transform="rotate(-90 99.9 625.4)">1.0</text>
<path d="M101.8 636.3H103.1" fill="none" stroke="#444" stroke-width="0.35"/>
<text x="99.9" y="636.3" font-size="3.2" fill="#444" text-anchor="middle" transform="rotate(-90 99.9 636.3)">0.8</text>
<path d="M101.8 647.2H103.1" fill="none" stroke="#444" stroke-width="0.35"/>
<text x="99.9" y="647.2" font-size="3.2" fill="#444" text-anchor="middle" transform="rotate(-90 99.9 647.2)">0.6</text>
<path d="M101.8 658.1H103.1" fill="none" stroke="#444" stroke-width="0.35"/>
<text x="99.9" y="658.1" font-size="3.2" fill="#444" text-anchor="middle" transform="rotate(-90 99.9 658.1)">0.4</text>
<path d="M101.8 669H103.1" fill="none" stroke="#444" stroke-width="0.35"/>
<text x="99.9" y="669" font-size="3.2" fill="#444" text-anchor="middle" transform="rotate(-90 99.9 669)">0.2</text>
<path d="M101.8 679.9H103.1" fill="none" stroke="#444" stroke-width="0.35"/>
<text x="99.9" y="679.9" font-size="3.2" fill="#444" text-anchor="middle" transform="rotate(-90 99.9 679.9)">0.0</text>
<text x="94.9" y="652.5" font-size="3.6" fill="#333" text-anchor="middle" transform="rotate(-90 94.9 652.5)">Percent survival</text>
<path d="M103.1 682.5V683.8" fill="none" stroke="#444" stroke-width="0.35"/>
<text x="103.1" y="686.6" font-size="3.2" fill="#444" text-anchor="middle">0</text>
<path d="M118 682.5V683.8" fill="none" stroke="#444" stroke-width="0.35"/>
<text x="118" y="686.6" font-size="3.2" fill="#444" text-anchor="middle">50</text>
<path d="M132.6 682.5V683.8" fill="none" stroke="#444" stroke-width="0.35"/>
<text x="132.6" y="686.6" font-size="3.2" fill="#444" text-anchor="middle">100</text>
<path d="M147.7 682.5V683.8" fill="none" stroke="#444" stroke-width="0.35"/>
<text x="147.7" y="686.6" font-size="3.2" fill="#444" text-anchor="middle">150</text>
<path d="M162.4 682.5V683.8" fill="none" stroke="#444" stroke-width="0.35"/>
<text x="162.4" y="686.6" font-size="3.2" fill="#444" text-anchor="middle">200</text>
<text x="133.4" y="690.6" font-size="3.7" fill="#333" text-anchor="middle" font-weight="bold">Months</text>
<path d="M142.8 626.3H146.3" fill="none" stroke="#5b7fc7" stroke-width="0.5"/>
<text x="146.8" y="627.2" font-size="2.5" fill="#333">Low IL15RA TPM</text>
<path d="M142.8 628.6H146.3" fill="none" stroke="#e85050" stroke-width="0.5"/>
<text x="146.8" y="629.5" font-size="2.5" fill="#333">High IL15RA TPM</text>
<text x="162.3" y="632.3" font-size="2.6" fill="#222" text-anchor="end">Logrank p=0.041</text>
<text x="162.3" y="634.8" font-size="2.6" fill="#222" text-anchor="end">HR(high)=1.6</text>
<text x="162.3" y="637.3" font-size="2.6" fill="#222" text-anchor="end">p(HR)=0.043</text>
<text x="162.3" y="639.8" font-size="2.6" fill="#222" text-anchor="end">n(high)=143</text>
<text x="162.3" y="642.3" font-size="2.6" fill="#222" text-anchor="end">n(low)=143</text>
<polyline points="103.1,625.5 107.5,625.5 107.5,627.7 111,627.7 111,632.1 114.5,632.1 114.5,634.8 118,634.8 118,640.5 123.9,640.5 123.9,641.3 129.7,641.3 129.7,642.1 129.7,642.1 129.7,645.6 131.5,645.6 131.5,650.2 133.2,650.2 133.2,650.1 133.2,650.1 133.2,657.1" fill="none" stroke="#ee8080" stroke-width="0.45" stroke-dasharray="1.4,1.3" opacity="0.9" stroke-linejoin="round"/>
<polyline points="103.1,627.7 107.5,627.7 107.5,633.2 111,633.2 111,638.1 114.5,638.1 114.5,641.2 118,641.2 118,647.3 123.9,647.3 123.9,648.8 129.7,648.8 129.7,650.3 129.7,650.3 129.7,653.8 131.5,653.8 131.5,658.6 133.2,658.6 133.2,658.7 133.2,658.7 133.2,665.7" fill="none" stroke="#ee8080" stroke-width="0.45" stroke-dasharray="1.4,1.3" opacity="0.9" stroke-linejoin="round"/>
<polyline points="103.1,625.5 108.7,625.5 108.7,625.5 113.4,625.5 113.4,625.5 118,625.5 118,625.5 118,625.5 118,628.8 120.4,628.8 120.4,630.4 127.4,630.4 127.4,631.2 129.7,631.2 129.7,635.1 140.2,635.1 140.2,634.5 162.4,634.5 162.4,633.1" fill="none" stroke="#8aa2da" stroke-width="0.45" stroke-dasharray="1.4,1.3" opacity="0.9" stroke-linejoin="round"/>
<polyline points="103.1,627.7 108.7,627.7 108.7,629.2 113.4,629.2 113.4,630.6 118,630.6 118,632.1 118,632.1 118,635.6 120.4,635.6 120.4,637.5 127.4,637.5 127.4,639.1 129.7,639.1 129.7,643.3 140.2,643.3 140.2,643.9 162.4,643.9 162.4,645.3" fill="none" stroke="#8aa2da" stroke-width="0.45" stroke-dasharray="1.4,1.3" opacity="0.9" stroke-linejoin="round"/>
<polyline points="103.1,625.2 108.7,626.4 113.4,627.5 118,628.7 118,632.2 120.4,633.9 127.4,635.1 129.7,639.2 140.2,639.2 162.4,639.2" fill="none" stroke="#3a63b6" stroke-width="0.8" stroke-linejoin="round"/>
<polyline points="103.1,625.2 107.5,630.4 111,635.1 114.5,638 118,643.9 123.9,645 129.7,646.2" fill="none" stroke="#e3262b" stroke-width="0.8" stroke-linejoin="round"/>
<polyline points="129.7,646.2 129.7,649.7 131.5,654.4 133.2,654.4 133.2,661.4" fill="none" stroke="#f4a0a0" stroke-width="0.6" stroke-linejoin="round"/>
<path d="M132.3 638.5V639.9M137.6 638.5V639.9M142.4 638.5V639.9M146.9 638.5V639.9M151.3 638.5V639.9M155.8 638.5V639.9M160.2 638.5V639.9" fill="none" stroke="#3a63b6" stroke-width="0.35"/>
<text x="212.9" y="617.4" font-size="5.1" fill="#444" font-family="Liberation Serif" text-anchor="middle">LAML</text>
<text x="212.9" y="622.4" font-size="4" fill="#333" text-anchor="middle">Overall Survival</text>
<path d="M182 623.5H242.8" fill="none" stroke="#555" stroke-width="0.7"/>
<path d="M182.5 625V680.5" fill="none" stroke="#555" stroke-width="0.5"/>
<path d="M180.7 625.4H182" fill="none" stroke="#444" stroke-width="0.35"/>
<text x="178.8" y="625.4" font-size="3.2" fill="#444" text-anchor="middle" transform="rotate(-90 178.8 625.4)">1.0</text>
<path d="M180.7 636.3H182" fill="none" stroke="#444" stroke-width="0.35"/>
<text x="178.8" y="636.3" font-size="3.2" fill="#444" text-anchor="middle" transform="rotate(-90 178.8 636.3)">0.8</text>
<path d="M180.7 647.2H182" fill="none" stroke="#444" stroke-width="0.35"/>
<text x="178.8" y="647.2" font-size="3.2" fill="#444" text-anchor="middle" transform="rotate(-90 178.8 647.2)">0.6</text>
<path d="M180.7 658.1H182" fill="none" stroke="#444" stroke-width="0.35"/>
<text x="178.8" y="658.1" font-size="3.2" fill="#444" text-anchor="middle" transform="rotate(-90 178.8 658.1)">0.4</text>
<path d="M180.7 669H182" fill="none" stroke="#444" stroke-width="0.35"/>
<text x="178.8" y="669" font-size="3.2" fill="#444" text-anchor="middle" transform="rotate(-90 178.8 669)">0.2</text>
<path d="M180.7 679.9H182" fill="none" stroke="#444" stroke-width="0.35"/>
<text x="178.8" y="679.9" font-size="3.2" fill="#444" text-anchor="middle" transform="rotate(-90 178.8 679.9)">0.0</text>
<text x="173.8" y="652.5" font-size="3.6" fill="#333" text-anchor="middle" transform="rotate(-90 173.8 652.5)">Percent survival</text>
<path d="M182 682.5V683.8" fill="none" stroke="#444" stroke-width="0.35"/>
<text x="182" y="686.6" font-size="3.2" fill="#444" text-anchor="middle">0</text>
<path d="M194.6 682.5V683.8" fill="none" stroke="#444" stroke-width="0.35"/>
<text x="194.6" y="686.6" font-size="3.2" fill="#444" text-anchor="middle">20</text>
<path d="M206.5 682.5V683.8" fill="none" stroke="#444" stroke-width="0.35"/>
<text x="206.5" y="686.6" font-size="3.2" fill="#444" text-anchor="middle">40</text>
<path d="M218.5 682.5V683.8" fill="none" stroke="#444" stroke-width="0.35"/>
<text x="218.5" y="686.6" font-size="3.2" fill="#444" text-anchor="middle">60</text>
<path d="M230.5 682.5V683.8" fill="none" stroke="#444" stroke-width="0.35"/>
<text x="230.5" y="686.6" font-size="3.2" fill="#444" text-anchor="middle">80</text>
<text x="212.4" y="690.6" font-size="3.7" fill="#333" text-anchor="middle" font-weight="bold">Months</text>
<path d="M221.8 626.3H225.3" fill="none" stroke="#5b7fc7" stroke-width="0.5"/>
<text x="225.8" y="627.2" font-size="2.5" fill="#333">Low IL15RA TPM</text>
<path d="M221.8 628.6H225.3" fill="none" stroke="#e85050" stroke-width="0.5"/>
<text x="225.8" y="629.5" font-size="2.5" fill="#333">High IL15RA TPM</text>
<text x="241.3" y="632.3" font-size="2.6" fill="#222" text-anchor="end">Logrank p=0.041</text>
<text x="241.3" y="634.8" font-size="2.6" fill="#222" text-anchor="end">HR(high)=1.6</text>
<text x="241.3" y="637.3" font-size="2.6" fill="#222" text-anchor="end">p(HR)=0.043</text>
<text x="241.3" y="639.8" font-size="2.6" fill="#222" text-anchor="end">n(high)=143</text>
<text x="241.3" y="642.3" font-size="2.6" fill="#222" text-anchor="end">n(low)=143</text>
<polyline points="182.9,625.5 183.2,625.5 183.2,628.5 185.5,628.5 185.5,631.9 186.7,631.9 186.7,637.6 187.3,637.6 187.3,641.7 190.8,641.7 190.8,643.2 193.1,643.2 193.1,645.4 196,645.4 196,648.8 199.5,648.8 199.5,652.1 200.7,652.1 200.7,655.5 201.3,655.5 201.3,657.8 215.3,657.8 215.3,656.9 215.3,656.9 215.3,662.8 233.4,662.8 233.4,661.7" fill="none" stroke="#ee8080" stroke-width="0.45" stroke-dasharray="1.4,1.3" opacity="0.9" stroke-linejoin="round"/>
<polyline points="182.9,628.3 183.2,628.3 183.2,633.5 185.5,633.5 185.5,637.2 186.7,637.2 186.7,643.1 187.3,643.1 187.3,647.2 190.8,647.2 190.8,649.2 193.1,649.2 193.1,651.6 196,651.6 196,655.3 199.5,655.3 199.5,659 200.7,659 200.7,662.6 201.3,662.6 201.3,665 215.3,665 215.3,665.8 215.3,665.8 215.3,671.7 233.4,671.7 233.4,672.8" fill="none" stroke="#ee8080" stroke-width="0.45" stroke-dasharray="1.4,1.3" opacity="0.9" stroke-linejoin="round"/>
<polyline points="182.9,625.5 185.5,625.5 185.5,626 187.9,626 187.9,627.6 190.2,627.6 190.2,631.6 191.4,631.6 191.4,636.2 194.9,636.2 194.9,641.8 198.4,641.8 198.4,642.8 200.1,642.8 200.1,646.2 211.2,646.2 211.2,645.5 211.2,645.5 211.2,650.2 240.4,650.2 240.4,648.4" fill="none" stroke="#8aa2da" stroke-width="0.45" stroke-dasharray="1.4,1.3" opacity="0.9" stroke-linejoin="round"/>
<polyline points="182.9,628.3 185.5,628.3 185.5,631.3 187.9,631.3 187.9,633.2 190.2,633.2 190.2,637.5 191.4,637.5 191.4,642.2 194.9,642.2 194.9,648.3 198.4,648.3 198.4,649.6 200.1,649.6 200.1,653.2 211.2,653.2 211.2,653.9 211.2,653.9 211.2,658.6 240.4,658.6 240.4,660.3" fill="none" stroke="#8aa2da" stroke-width="0.45" stroke-dasharray="1.4,1.3" opacity="0.9" stroke-linejoin="round"/>
<polyline points="182.9,625.8 185.5,628.7 187.9,630.4 190.2,634.5 191.4,639.2 194.9,645 198.4,646.2 200.1,649.7 211.2,649.7 211.2,654.4 240.4,654.4" fill="none" stroke="#3a63b6" stroke-width="0.8" stroke-linejoin="round"/>
<polyline points="182.9,625.8 183.2,631 185.5,634.5 186.7,640.4 187.3,644.5 190.8,646.2 193.1,648.5 196,652 199.5,655.5 200.7,659.1 201.3,661.4 215.3,661.4 215.3,667.2 233.4,667.2" fill="none" stroke="#e3262b" stroke-width="0.8" stroke-linejoin="round"/>
<path d="M203.6 660.7V662.1M208.3 660.7V662.1M213 660.7V662.1M217.6 666.5V667.9M222.1 666.5V667.9M226.6 666.5V667.9M231.1 666.5V667.9" fill="none" stroke="#e3262b" stroke-width="0.35"/>
<path d="M202.9 649V650.4M208.4 649V650.4M213.3 653.7V655.1M217.5 653.7V655.1M221.6 653.7V655.1M225.8 653.7V655.1M230 653.7V655.1M234.2 653.7V655.1M238.3 653.7V655.1" fill="none" stroke="#3a63b6" stroke-width="0.35"/>
<text x="292.1" y="617.4" font-size="5.1" fill="#444" font-family="Liberation Serif" text-anchor="middle">LUSC</text>
<text x="292.1" y="622.4" font-size="4" fill="#333" text-anchor="middle">Overall Survival</text>
<path d="M260.8 623.5H322.3" fill="none" stroke="#555" stroke-width="0.7"/>
<path d="M260.5 625V680.5" fill="none" stroke="#555" stroke-width="0.5"/>
<path d="M259.5 625.4H260.8" fill="none" stroke="#444" stroke-width="0.35"/>
<text x="257.6" y="625.4" font-size="3.2" fill="#444" text-anchor="middle" transform="rotate(-90 257.6 625.4)">1.0</text>
<path d="M259.5 636.3H260.8" fill="none" stroke="#444" stroke-width="0.35"/>
<text x="257.6" y="636.3" font-size="3.2" fill="#444" text-anchor="middle" transform="rotate(-90 257.6 636.3)">0.8</text>
<path d="M259.5 647.2H260.8" fill="none" stroke="#444" stroke-width="0.35"/>
<text x="257.6" y="647.2" font-size="3.2" fill="#444" text-anchor="middle" transform="rotate(-90 257.6 647.2)">0.6</text>
<path d="M259.5 658.1H260.8" fill="none" stroke="#444" stroke-width="0.35"/>
<text x="257.6" y="658.1" font-size="3.2" fill="#444" text-anchor="middle" transform="rotate(-90 257.6 658.1)">0.4</text>
<path d="M259.5 669H260.8" fill="none" stroke="#444" stroke-width="0.35"/>
<text x="257.6" y="669" font-size="3.2" fill="#444" text-anchor="middle" transform="rotate(-90 257.6 669)">0.2</text>
<path d="M259.5 679.9H260.8" fill="none" stroke="#444" stroke-width="0.35"/>
<text x="257.6" y="679.9" font-size="3.2" fill="#444" text-anchor="middle" transform="rotate(-90 257.6 679.9)">0.0</text>
<text x="252.6" y="652.5" font-size="3.6" fill="#333" text-anchor="middle" transform="rotate(-90 252.6 652.5)">Percent survival</text>
<path d="M260.8 682.5V683.8" fill="none" stroke="#444" stroke-width="0.35"/>
<text x="260.8" y="686.6" font-size="3.2" fill="#444" text-anchor="middle">0</text>
<path d="M270.4 682.5V683.8" fill="none" stroke="#444" stroke-width="0.35"/>
<text x="270.4" y="686.6" font-size="3.2" fill="#444" text-anchor="middle">20</text>
<path d="M279.6 682.5V683.8" fill="none" stroke="#444" stroke-width="0.35"/>
<text x="279.6" y="686.6" font-size="3.2" fill="#444" text-anchor="middle">40</text>
<path d="M288.9 682.5V683.8" fill="none" stroke="#444" stroke-width="0.35"/>
<text x="288.9" y="686.6" font-size="3.2" fill="#444" text-anchor="middle">60</text>
<path d="M298.2 682.5V683.8" fill="none" stroke="#444" stroke-width="0.35"/>
<text x="298.2" y="686.6" font-size="3.2" fill="#444" text-anchor="middle">80</text>
<path d="M307.6 682.5V683.8" fill="none" stroke="#444" stroke-width="0.35"/>
<text x="307.6" y="686.6" font-size="3.2" fill="#444" text-anchor="middle">100</text>
<path d="M317 682.5V683.8" fill="none" stroke="#444" stroke-width="0.35"/>
<text x="317" y="686.6" font-size="3.2" fill="#444" text-anchor="middle">120</text>
<text x="291.6" y="690.6" font-size="3.7" fill="#333" text-anchor="middle" font-weight="bold">Months</text>
<path d="M301.3 626.3H304.8" fill="none" stroke="#5b7fc7" stroke-width="0.5"/>
<text x="305.3" y="627.2" font-size="2.5" fill="#333">Low IL15RA TPM</text>
<path d="M301.3 628.6H304.8" fill="none" stroke="#e85050" stroke-width="0.5"/>
<text x="305.3" y="629.5" font-size="2.5" fill="#333">High IL15RA TPM</text>
<text x="320.8" y="632.3" font-size="2.6" fill="#222" text-anchor="end">Logrank p=0.041</text>
<text x="320.8" y="634.8" font-size="2.6" fill="#222" text-anchor="end">HR(high)=1.6</text>
<text x="320.8" y="637.3" font-size="2.6" fill="#222" text-anchor="end">p(HR)=0.043</text>
<text x="320.8" y="639.8" font-size="2.6" fill="#222" text-anchor="end">n(high)=143</text>
<text x="320.8" y="642.3" font-size="2.6" fill="#222" text-anchor="end">n(low)=143</text>
<polyline points="260.8,625.5 263.7,625.5 263.7,628.3 266.6,628.3 266.6,635.2 270.1,635.2 270.1,638.5 273,638.5 273,640.6 276.5,640.6 276.5,643.3 280,643.3 280,644.9 283.5,644.9 283.5,648.2 288.2,648.2 288.2,654.9 295.2,654.9 295.2,656.8 301.1,656.8 301.1,658.8 301.6,658.8 301.6,664.6 311.6,664.6 311.6,664 311.6,664 311.6,674.5" fill="none" stroke="#ee8080" stroke-width="0.45" stroke-dasharray="1.4,1.3" opacity="0.9" stroke-linejoin="round"/>
<polyline points="260.8,628.3 263.7,628.3 263.7,633.7 266.6,633.7 266.6,640.9 270.1,640.9 270.1,644.6 273,644.6 273,647.1 276.5,647.1 276.5,650.2 280,650.2 280,652.2 283.5,652.2 283.5,655.9 288.2,655.9 288.2,663.2 295.2,663.2 295.2,666 301.1,666 301.1,668.6 301.6,668.6 301.6,674.5 311.6,674.5 311.6,675.1 311.6,675.1 311.6,681" fill="none" stroke="#ee8080" stroke-width="0.45" stroke-dasharray="1.4,1.3" opacity="0.9" stroke-linejoin="round"/>
<polyline points="260.8,625.5 264.9,625.5 264.9,627.1 269.5,627.1 269.5,630.3 272.4,630.3 272.4,634.8 275.4,634.8 275.4,638.7 280,638.7 280,640.2 289.4,640.2 289.4,641.4 291.7,641.4 291.7,643 295.2,643 295.2,645.1 300.5,645.1 300.5,645.4 301.1,645.4 301.1,649.5 312.7,649.5 312.7,648.8 313.3,648.8 313.3,653.4 319.7,653.4 319.7,653" fill="none" stroke="#8aa2da" stroke-width="0.45" stroke-dasharray="1.4,1.3" opacity="0.9" stroke-linejoin="round"/>
<polyline points="260.8,628.3 264.9,628.3 264.9,632.6 269.5,632.6 269.5,636.4 272.4,636.4 272.4,641.2 275.4,641.2 275.4,645.5 280,645.5 280,647.5 289.4,647.5 289.4,649.8 291.7,649.8 291.7,651.7 295.2,651.7 295.2,654.3 300.5,654.3 300.5,655.2 301.1,655.2 301.1,659.3 312.7,659.3 312.7,660 313.3,660 313.3,664.7 319.7,664.7 319.7,665.1" fill="none" stroke="#8aa2da" stroke-width="0.45" stroke-dasharray="1.4,1.3" opacity="0.9" stroke-linejoin="round"/>
<polyline points="260.8,625.8 264.9,629.9 269.5,633.4 272.4,638 275.4,642.1 280,643.9 289.4,645.6 291.7,647.4 295.2,649.7 300.5,650.3 301.1,654.4 312.7,654.4 313.3,659.1 319.7,659.1" fill="none" stroke="#3a63b6" stroke-width="0.8" stroke-linejoin="round"/>
<polyline points="260.8,625.8 263.7,631 266.6,638 270.1,641.5 273,643.9 276.5,646.8 280,648.5 283.5,652 288.2,659.1 295.2,661.4 301.1,663.7 301.6,669.6 311.6,669.6 311.6,680.1" fill="none" stroke="#e3262b" stroke-width="0.8" stroke-linejoin="round"/>
<path d="M304.1 668.9V670.3M309.1 668.9V670.3" fill="none" stroke="#e3262b" stroke-width="0.35"/>
<path d="M304 653.7V655.1M309.8 653.7V655.1M316.5 658.4V659.8" fill="none" stroke="#3a63b6" stroke-width="0.35"/>
<text x="55.5" y="699.6" font-size="5.1" fill="#444" font-family="Liberation Serif" text-anchor="middle">MESO</text>
<text x="55.5" y="704.6" font-size="4" fill="#333" text-anchor="middle">Overall Survival</text>
<path d="M24.3 705.5H85.7" fill="none" stroke="#bbb" stroke-width="0.7"/>
<path d="M85.5 705.2V764.2" fill="none" stroke="#333" stroke-width="0.9"/>
<path d="M24.5 707.2V762.7" fill="none" stroke="#555" stroke-width="0.5"/>
<path d="M23 707.6H24.3" fill="none" stroke="#444" stroke-width="0.35"/>
<text x="21.1" y="707.6" font-size="3.2" fill="#444" text-anchor="middle" transform="rotate(-90 21.1 707.6)">1.0</text>
<path d="M23 718.5H24.3" fill="none" stroke="#444" stroke-width="0.35"/>
<text x="21.1" y="718.5" font-size="3.2" fill="#444" text-anchor="middle" transform="rotate(-90 21.1 718.5)">0.8</text>
<path d="M23 729.4H24.3" fill="none" stroke="#444" stroke-width="0.35"/>
<text x="21.1" y="729.4" font-size="3.2" fill="#444" text-anchor="middle" transform="rotate(-90 21.1 729.4)">0.6</text>
<path d="M23 740.3H24.3" fill="none" stroke="#444" stroke-width="0.35"/>
<text x="21.1" y="740.3" font-size="3.2" fill="#444" text-anchor="middle" transform="rotate(-90 21.1 740.3)">0.4</text>
<path d="M23 751.2H24.3" fill="none" stroke="#444" stroke-width="0.35"/>
<text x="21.1" y="751.2" font-size="3.2" fill="#444" text-anchor="middle" transform="rotate(-90 21.1 751.2)">0.2</text>
<path d="M23 762.1H24.3" fill="none" stroke="#444" stroke-width="0.35"/>
<text x="21.1" y="762.1" font-size="3.2" fill="#444" text-anchor="middle" transform="rotate(-90 21.1 762.1)">0.0</text>
<text x="16.1" y="734.7" font-size="3.6" fill="#333" text-anchor="middle" transform="rotate(-90 16.1 734.7)">Percent survival</text>
<path d="M24.3 764.7V766" fill="none" stroke="#444" stroke-width="0.35"/>
<text x="24.3" y="768.8" font-size="3.2" fill="#444" text-anchor="middle">0</text>
<path d="M36.7 764.7V766" fill="none" stroke="#444" stroke-width="0.35"/>
<text x="36.7" y="768.8" font-size="3.2" fill="#444" text-anchor="middle">20</text>
<path d="M49.2 764.7V766" fill="none" stroke="#444" stroke-width="0.35"/>
<text x="49.2" y="768.8" font-size="3.2" fill="#444" text-anchor="middle">40</text>
<path d="M61.3 764.7V766" fill="none" stroke="#444" stroke-width="0.35"/>
<text x="61.3" y="768.8" font-size="3.2" fill="#444" text-anchor="middle">60</text>
<path d="M73.7 764.7V766" fill="none" stroke="#444" stroke-width="0.35"/>
<text x="73.7" y="768.8" font-size="3.2" fill="#444" text-anchor="middle">80</text>
<text x="55" y="772.8" font-size="3.7" fill="#333" text-anchor="middle" font-weight="bold">Months</text>
<path d="M64.7 708.5H68.2" fill="none" stroke="#5b7fc7" stroke-width="0.5"/>
<text x="68.7" y="709.4" font-size="2.5" fill="#333">Low IL15RA TPM</text>
<path d="M64.7 710.8H68.2" fill="none" stroke="#e85050" stroke-width="0.5"/>
<text x="68.7" y="711.7" font-size="2.5" fill="#333">High IL15RA TPM</text>
<text x="84.2" y="714.5" font-size="2.6" fill="#222" text-anchor="end">Logrank p=0.041</text>
<text x="84.2" y="717" font-size="2.6" fill="#222" text-anchor="end">HR(high)=1.6</text>
<text x="84.2" y="719.5" font-size="2.6" fill="#222" text-anchor="end">p(HR)=0.043</text>
<text x="84.2" y="722" font-size="2.6" fill="#222" text-anchor="end">n(high)=143</text>
<text x="84.2" y="724.5" font-size="2.6" fill="#222" text-anchor="end">n(low)=143</text>
<polyline points="24.2,707.7 27.5,707.7 27.5,707.7 29.9,707.7 29.9,709.4 31.6,709.4 31.6,713.9 32.8,713.9 32.8,722 33.9,722 33.9,723.7 36.9,723.7 36.9,725.3 40.4,725.3 40.4,727.4 41.5,727.4 41.5,733.2 43.3,733.2 43.3,740.1 45,740.1 45,742.3 48.5,742.3 48.5,744.4 51.5,744.4 51.5,746.6 59.1,746.6 59.1,746.7 60.2,746.7 60.2,749 76,749 76,748 76,748 76,755.6" fill="none" stroke="#ee8080" stroke-width="0.45" stroke-dasharray="1.4,1.3" opacity="0.9" stroke-linejoin="round"/>
<polyline points="24.2,710 27.5,710 27.5,711.4 29.9,711.4 29.9,715 31.6,715 31.6,719.8 32.8,719.8 32.8,728 33.9,728 33.9,729.9 36.9,729.9 36.9,731.8 40.4,731.8 40.4,734.3 41.5,734.3 41.5,740.3 43.3,740.3 43.3,747.4 45,747.4 45,749.8 48.5,749.8 48.5,752.4 51.5,752.4 51.5,754.9 59.1,754.9 59.1,755.9 60.2,755.9 60.2,758.3 76,758.3 76,759.3 76,759.3 76,763.2" fill="none" stroke="#ee8080" stroke-width="0.45" stroke-dasharray="1.4,1.3" opacity="0.9" stroke-linejoin="round"/>
<polyline points="24.2,707.7 25.2,707.7 25.2,707.7 26.4,707.7 26.4,710.7 28.1,710.7 28.1,716.5 30.4,716.5 30.4,721 33.4,721 33.4,725.5 34.5,725.5 34.5,731.3 36.9,731.3 36.9,737 39.2,737 39.2,742.7 40.9,742.7 40.9,747.2 42.7,747.2 42.7,750.6 60.2,750.6 60.2,749.6 60.2,749.6 60.2,754.2" fill="none" stroke="#8aa2da" stroke-width="0.45" stroke-dasharray="1.4,1.3" opacity="0.9" stroke-linejoin="round"/>
<polyline points="24.2,710 25.2,710 25.2,712.4 26.4,712.4 26.4,716 28.1,716 28.1,721.9 30.4,721.9 30.4,726.7 33.4,726.7 33.4,731.6 34.5,731.6 34.5,737.5 36.9,737.5 36.9,743.5 39.2,743.5 39.2,749.5 40.9,749.5 40.9,754.2 42.7,754.2 42.7,757.8 60.2,757.8 60.2,758.9 60.2,758.9 60.2,763.2" fill="none" stroke="#8aa2da" stroke-width="0.45" stroke-dasharray="1.4,1.3" opacity="0.9" stroke-linejoin="round"/>
<polyline points="24.2,707.5 25.2,709.9 26.4,713.4 28.1,719.2 30.4,723.9 33.4,728.5 34.5,734.4 36.9,740.2 39.2,746.1 40.9,750.7 42.7,754.2 60.2,754.2 60.2,758.9" fill="none" stroke="#3a63b6" stroke-width="0.8" stroke-linejoin="round"/>
<polyline points="24.2,707.5 27.5,708.7 29.9,712.2 31.6,716.9 32.8,725 33.9,726.8 36.9,728.5 40.4,730.9 41.5,736.7 43.3,743.7 45,746.1 48.5,748.4 51.5,750.7 59.1,751.3 60.2,753.6 76,753.6 76,761.2" fill="none" stroke="#e3262b" stroke-width="0.8" stroke-linejoin="round"/>
<path d="M62.8 752.9V754.3M68.1 752.9V754.3M73.4 752.9V754.3" fill="none" stroke="#e3262b" stroke-width="0.35"/>
<path d="M44.9 753.5V754.9M49.3 753.5V754.9M53.6 753.5V754.9M58 753.5V754.9" fill="none" stroke="#3a63b6" stroke-width="0.35"/>
<text x="134.1" y="699.6" font-size="5.1" fill="#444" font-family="Liberation Serif" text-anchor="middle">PAAD</text>
<text x="134.1" y="704.6" font-size="4" fill="#333" text-anchor="middle">Overall Survival</text>
<path d="M103.1 705.5H164.1" fill="none" stroke="#bbb" stroke-width="0.7"/>
<path d="M103.5 707.2V762.7" fill="none" stroke="#555" stroke-width="0.5"/>
<path d="M101.8 707.6H103.1" fill="none" stroke="#444" stroke-width="0.35"/>
<text x="99.9" y="707.6" font-size="3.2" fill="#444" text-anchor="middle" transform="rotate(-90 99.9 707.6)">1.0</text>
<path d="M101.8 718.5H103.1" fill="none" stroke="#444" stroke-width="0.35"/>
<text x="99.9" y="718.5" font-size="3.2" fill="#444" text-anchor="middle" transform="rotate(-90 99.9 718.5)">0.8</text>
<path d="M101.8 729.4H103.1" fill="none" stroke="#444" stroke-width="0.35"/>
<text x="99.9" y="729.4" font-size="3.2" fill="#444" text-anchor="middle" transform="rotate(-90 99.9 729.4)">0.6</text>
<path d="M101.8 740.3H103.1" fill="none" stroke="#444" stroke-width="0.35"/>
<text x="99.9" y="740.3" font-size="3.2" fill="#444" text-anchor="middle" transform="rotate(-90 99.9 740.3)">0.4</text>
<path d="M101.8 751.2H103.1" fill="none" stroke="#444" stroke-width="0.35"/>
<text x="99.9" y="751.2" font-size="3.2" fill="#444" text-anchor="middle" transform="rotate(-90 99.9 751.2)">0.2</text>
<path d="M101.8 762.1H103.1" fill="none" stroke="#444" stroke-width="0.35"/>
<text x="99.9" y="762.1" font-size="3.2" fill="#444" text-anchor="middle" transform="rotate(-90 99.9 762.1)">0.0</text>
<text x="94.9" y="734.7" font-size="3.6" fill="#333" text-anchor="middle" transform="rotate(-90 94.9 734.7)">Percent survival</text>
<path d="M103.1 764.7V766" fill="none" stroke="#444" stroke-width="0.35"/>
<text x="103.1" y="768.8" font-size="3.2" fill="#444" text-anchor="middle">0</text>
<path d="M115.3 764.7V766" fill="none" stroke="#444" stroke-width="0.35"/>
<text x="115.3" y="768.8" font-size="3.2" fill="#444" text-anchor="middle">20</text>
<path d="M127.5 764.7V766" fill="none" stroke="#444" stroke-width="0.35"/>
<text x="127.5" y="768.8" font-size="3.2" fill="#444" text-anchor="middle">40</text>
<path d="M140 764.7V766" fill="none" stroke="#444" stroke-width="0.35"/>
<text x="140" y="768.8" font-size="3.2" fill="#444" text-anchor="middle">60</text>
<path d="M152 764.7V766" fill="none" stroke="#444" stroke-width="0.35"/>
<text x="152" y="768.8" font-size="3.2" fill="#444" text-anchor="middle">80</text>
<text x="133.6" y="772.8" font-size="3.7" fill="#333" text-anchor="middle" font-weight="bold">Months</text>
<path d="M143.1 708.5H146.6" fill="none" stroke="#5b7fc7" stroke-width="0.5"/>
<text x="147.1" y="709.4" font-size="2.5" fill="#333">Low IL15RA TPM</text>
<path d="M143.1 710.8H146.6" fill="none" stroke="#e85050" stroke-width="0.5"/>
<text x="147.1" y="711.7" font-size="2.5" fill="#333">High IL15RA TPM</text>
<text x="162.6" y="714.5" font-size="2.6" fill="#222" text-anchor="end">Logrank p=0.041</text>
<text x="162.6" y="717" font-size="2.6" fill="#222" text-anchor="end">HR(high)=1.6</text>
<text x="162.6" y="719.5" font-size="2.6" fill="#222" text-anchor="end">p(HR)=0.043</text>
<text x="162.6" y="722" font-size="2.6" fill="#222" text-anchor="end">n(high)=143</text>
<text x="162.6" y="724.5" font-size="2.6" fill="#222" text-anchor="end">n(low)=143</text>
<polyline points="103.1,707.7 105.2,707.7 105.2,707.7 107.5,707.7 107.5,710.6 109.9,710.6 109.9,715.1 112.2,715.1 112.2,722 113.9,722 113.9,727.7 115.1,727.7 115.1,731.2 116.3,731.2 116.3,735.8 117.4,735.8 117.4,739.2 119.2,739.2 119.2,741.4 126.2,741.4 126.2,741 127.4,741 127.4,746.2 153.1,746.2 153.1,744.6" fill="none" stroke="#ee8080" stroke-width="0.45" stroke-dasharray="1.4,1.3" opacity="0.9" stroke-linejoin="round"/>
<polyline points="103.1,710 105.2,710 105.2,711.3 107.5,711.3 107.5,716.1 109.9,716.1 109.9,720.9 112.2,720.9 112.2,728.1 113.9,728.1 113.9,734 115.1,734 115.1,737.6 116.3,737.6 116.3,742.3 117.4,742.3 117.4,745.9 119.2,745.9 119.2,748.4 126.2,748.4 126.2,748.8 127.4,748.8 127.4,754.1 153.1,754.1 153.1,755.6" fill="none" stroke="#ee8080" stroke-width="0.45" stroke-dasharray="1.4,1.3" opacity="0.9" stroke-linejoin="round"/>
<polyline points="103.1,707.7 107.5,707.7 107.5,710.6 111,710.6 111,715.1 113.4,715.1 113.4,718.4 115.7,718.4 115.7,724.1 117.4,724.1 117.4,727.5 118.6,727.5 118.6,732.1 121.5,732.1 121.5,733.1 132,733.1 132,733.1 132.6,733.1 132.6,734.8 146.1,734.8 146.1,734 146.6,734 146.6,741.5 149.6,741.5 149.6,741.4 149.6,741.4 149.6,748.4 163,748.4 163,747.6" fill="none" stroke="#8aa2da" stroke-width="0.45" stroke-dasharray="1.4,1.3" opacity="0.9" stroke-linejoin="round"/>
<polyline points="103.1,710 107.5,710 107.5,716.1 111,716.1 111,721 113.4,721 113.4,724.6 115.7,724.6 115.7,730.6 117.4,730.6 117.4,734.2 118.6,734.2 118.6,739 121.5,739 121.5,740.3 132,740.3 132,741.5 132.6,741.5 132.6,743.3 146.1,743.3 146.1,744.1 146.6,744.1 146.6,751.8 149.6,751.8 149.6,751.9 149.6,751.9 149.6,758.9 163,758.9 163,759.7" fill="none" stroke="#8aa2da" stroke-width="0.45" stroke-dasharray="1.4,1.3" opacity="0.9" stroke-linejoin="round"/>
<polyline points="103.1,707.5 107.5,713.4 111,718 113.4,721.5 115.7,727.4 117.4,730.9 118.6,735.5 121.5,736.7 132,737.3 132.6,739.1 146.1,739.1 146.6,746.6 149.6,746.6 149.6,753.6 163,753.6" fill="none" stroke="#3a63b6" stroke-width="0.8" stroke-linejoin="round"/>
<polyline points="103.1,707.5 105.2,708.7 107.5,713.4 109.9,718 112.2,725 113.9,730.9 115.1,734.4 116.3,739.1 117.4,742.6 119.2,744.9 126.2,744.9 127.4,750.1 153.1,750.1" fill="none" stroke="#e3262b" stroke-width="0.8" stroke-linejoin="round"/>
<path d="M122.7 744.2V745.6M129.5 749.4V750.8M133.8 749.4V750.8M138.1 749.4V750.8M142.4 749.4V750.8M146.6 749.4V750.8M150.9 749.4V750.8" fill="none" stroke="#e3262b" stroke-width="0.35"/>
<path d="M134.9 738.4V739.8M139.3 738.4V739.8M143.8 738.4V739.8M151.8 752.9V754.3M156.3 752.9V754.3M160.8 752.9V754.3" fill="none" stroke="#3a63b6" stroke-width="0.35"/>
<text x="213" y="699.6" font-size="5.1" fill="#444" font-family="Liberation Serif" text-anchor="middle">SKCM</text>
<text x="213" y="704.6" font-size="4" fill="#333" text-anchor="middle">Overall Survival</text>
<path d="M182 705.5H243" fill="none" stroke="#bbb" stroke-width="0.7"/>
<path d="M182.5 707.2V762.7" fill="none" stroke="#555" stroke-width="0.5"/>
<path d="M180.7 707.6H182" fill="none" stroke="#444" stroke-width="0.35"/>
<text x="178.8" y="707.6" font-size="3.2" fill="#444" text-anchor="middle" transform="rotate(-90 178.8 707.6)">1.0</text>
<path d="M180.7 718.5H182" fill="none" stroke="#444" stroke-width="0.35"/>
<text x="178.8" y="718.5" font-size="3.2" fill="#444" text-anchor="middle" transform="rotate(-90 178.8 718.5)">0.8</text>
<path d="M180.7 729.4H182" fill="none" stroke="#444" stroke-width="0.35"/>
<text x="178.8" y="729.4" font-size="3.2" fill="#444" text-anchor="middle" transform="rotate(-90 178.8 729.4)">0.6</text>
<path d="M180.7 740.3H182" fill="none" stroke="#444" stroke-width="0.35"/>
<text x="178.8" y="740.3" font-size="3.2" fill="#444" text-anchor="middle" transform="rotate(-90 178.8 740.3)">0.4</text>
<path d="M180.7 751.2H182" fill="none" stroke="#444" stroke-width="0.35"/>
<text x="178.8" y="751.2" font-size="3.2" fill="#444" text-anchor="middle" transform="rotate(-90 178.8 751.2)">0.2</text>
<path d="M180.7 762.1H182" fill="none" stroke="#444" stroke-width="0.35"/>
<text x="178.8" y="762.1" font-size="3.2" fill="#444" text-anchor="middle" transform="rotate(-90 178.8 762.1)">0.0</text>
<text x="173.8" y="734.7" font-size="3.6" fill="#333" text-anchor="middle" transform="rotate(-90 173.8 734.7)">Percent survival</text>
<path d="M182 764.7V766" fill="none" stroke="#444" stroke-width="0.35"/>
<text x="182" y="768.8" font-size="3.2" fill="#444" text-anchor="middle">0</text>
<path d="M198.3 764.7V766" fill="none" stroke="#444" stroke-width="0.35"/>
<text x="198.3" y="768.8" font-size="3.2" fill="#444" text-anchor="middle">100</text>
<path d="M214 764.7V766" fill="none" stroke="#444" stroke-width="0.35"/>
<text x="214" y="768.8" font-size="3.2" fill="#444" text-anchor="middle">200</text>
<path d="M229.5 764.7V766" fill="none" stroke="#444" stroke-width="0.35"/>
<text x="229.5" y="768.8" font-size="3.2" fill="#444" text-anchor="middle">300</text>
<text x="212.5" y="772.8" font-size="3.7" fill="#333" text-anchor="middle" font-weight="bold">Months</text>
<path d="M222 708.5H225.5" fill="none" stroke="#5b7fc7" stroke-width="0.5"/>
<text x="226" y="709.4" font-size="2.5" fill="#333">Low IL15RA TPM</text>
<path d="M222 710.8H225.5" fill="none" stroke="#e85050" stroke-width="0.5"/>
<text x="226" y="711.7" font-size="2.5" fill="#333">High IL15RA TPM</text>
<text x="241.5" y="714.5" font-size="2.6" fill="#222" text-anchor="end">Logrank p=0.041</text>
<text x="241.5" y="717" font-size="2.6" fill="#222" text-anchor="end">HR(high)=1.6</text>
<text x="241.5" y="719.5" font-size="2.6" fill="#222" text-anchor="end">p(HR)=0.043</text>
<text x="241.5" y="722" font-size="2.6" fill="#222" text-anchor="end">n(high)=143</text>
<text x="241.5" y="724.5" font-size="2.6" fill="#222" text-anchor="end">n(low)=143</text>
<polyline points="182,707.7 185.5,707.7 185.5,711.8 188.4,711.8 188.4,717.5 191.4,717.5 191.4,722 193.1,722 193.1,726.5 196,726.5 196,727.5 198.4,727.5 198.4,729.7 201.9,729.7 201.9,731.9 205.4,731.9 205.4,731.6 207.7,731.6 207.7,733.8 209.5,733.8 209.5,737.2 214.1,737.2 214.1,739.3 217.1,739.3 217.1,742.6 218.2,742.6 218.2,744.9 235.7,744.9 235.7,743.8" fill="none" stroke="#ee8080" stroke-width="0.45" stroke-dasharray="1.4,1.3" opacity="0.9" stroke-linejoin="round"/>
<polyline points="182,710 185.5,710 185.5,717.2 188.4,717.2 188.4,723.3 191.4,723.3 191.4,728.1 193.1,728.1 193.1,732.9 196,732.9 196,734.2 198.4,734.2 198.4,736.7 201.9,736.7 201.9,739.2 205.4,739.2 205.4,739.4 207.7,739.4 207.7,741.9 209.5,741.9 209.5,745.5 214.1,745.5 214.1,748.1 217.1,748.1 217.1,751.8 218.2,751.8 218.2,754.2 235.7,754.2 235.7,755.3" fill="none" stroke="#ee8080" stroke-width="0.45" stroke-dasharray="1.4,1.3" opacity="0.9" stroke-linejoin="round"/>
<polyline points="182,707.7 184.4,707.7 184.4,710.7 186.1,710.7 186.1,718.8 188.4,718.8 188.4,724.5 191.4,724.5 191.4,731.3 194.9,731.3 194.9,735.8 198.4,735.8 198.4,739.1 201.9,739.1 201.9,742.4 205.4,742.4 205.4,745.7 208.9,745.7 208.9,749 215.9,749 215.9,748.5 219.4,748.5 219.4,750.7 224.1,750.7 224.1,751.5 228.7,751.5 228.7,752.4 229.9,752.4 229.9,753.5 240.4,753.5 240.4,754.1" fill="none" stroke="#8aa2da" stroke-width="0.45" stroke-dasharray="1.4,1.3" opacity="0.9" stroke-linejoin="round"/>
<polyline points="182,710 184.4,710 184.4,716 186.1,716 186.1,724.3 188.4,724.3 188.4,730.3 191.4,730.3 191.4,737.4 194.9,737.4 194.9,742.3 198.4,742.3 198.4,746 201.9,746 201.9,749.7 205.4,749.7 205.4,753.5 208.9,753.5 208.9,757.2 215.9,757.2 215.9,757.6 219.4,757.6 219.4,760.1 224.1,760.1 224.1,761.6 228.7,761.6 228.7,763 229.9,763 229.9,763.2 240.4,763.2 240.4,763.2" fill="none" stroke="#8aa2da" stroke-width="0.45" stroke-dasharray="1.4,1.3" opacity="0.9" stroke-linejoin="round"/>
<polyline points="182,707.5 184.4,713.4 186.1,721.5 188.4,727.4 191.4,734.4 194.9,739.1 198.4,742.6 201.9,746.1 205.4,749.6 208.9,753.1 215.9,753.1 219.4,755.4 224.1,756.6 228.7,757.7 229.9,758.9 240.4,760.1" fill="none" stroke="#3a63b6" stroke-width="0.8" stroke-linejoin="round"/>
<polyline points="182,707.5 185.5,714.5 188.4,720.4 191.4,725 193.1,729.7 196,730.9 198.4,733.2 201.9,735.5 205.4,735.5 207.7,737.9 209.5,741.4 214.1,743.7 217.1,747.2 218.2,749.6 235.7,749.6" fill="none" stroke="#e3262b" stroke-width="0.8" stroke-linejoin="round"/>
<path d="M220.4 748.9V750.3M224.8 748.9V750.3M229.2 748.9V750.3M233.5 748.9V750.3" fill="none" stroke="#e3262b" stroke-width="0.35"/>
<path d="M212.4 752.4V753.8" fill="none" stroke="#3a63b6" stroke-width="0.35"/>
<text x="291.9" y="699.6" font-size="5.1" fill="#444" font-family="Liberation Serif" text-anchor="middle">UVM</text>
<text x="291.9" y="704.6" font-size="4" fill="#333" text-anchor="middle">Overall Survival</text>
<path d="M260.8 705.5H322" fill="none" stroke="#bbb" stroke-width="0.7"/>
<path d="M260.5 707.2V762.7" fill="none" stroke="#555" stroke-width="0.5"/>
<path d="M259.5 707.6H260.8" fill="none" stroke="#444" stroke-width="0.35"/>
<text x="257.6" y="707.6" font-size="3.2" fill="#444" text-anchor="middle" transform="rotate(-90 257.6 707.6)">1.0</text>
<path d="M259.5 718.5H260.8" fill="none" stroke="#444" stroke-width="0.35"/>
<text x="257.6" y="718.5" font-size="3.2" fill="#444" text-anchor="middle" transform="rotate(-90 257.6 718.5)">0.8</text>
<path d="M259.5 729.4H260.8" fill="none" stroke="#444" stroke-width="0.35"/>
<text x="257.6" y="729.4" font-size="3.2" fill="#444" text-anchor="middle" transform="rotate(-90 257.6 729.4)">0.6</text>
<path d="M259.5 740.3H260.8" fill="none" stroke="#444" stroke-width="0.35"/>
<text x="257.6" y="740.3" font-size="3.2" fill="#444" text-anchor="middle" transform="rotate(-90 257.6 740.3)">0.4</text>
<path d="M259.5 751.2H260.8" fill="none" stroke="#444" stroke-width="0.35"/>
<text x="257.6" y="751.2" font-size="3.2" fill="#444" text-anchor="middle" transform="rotate(-90 257.6 751.2)">0.2</text>
<path d="M259.5 762.1H260.8" fill="none" stroke="#444" stroke-width="0.35"/>
<text x="257.6" y="762.1" font-size="3.2" fill="#444" text-anchor="middle" transform="rotate(-90 257.6 762.1)">0.0</text>
<text x="252.6" y="734.7" font-size="3.6" fill="#333" text-anchor="middle" transform="rotate(-90 252.6 734.7)">Percent survival</text>
<path d="M260.8 764.7V766" fill="none" stroke="#444" stroke-width="0.35"/>
<text x="260.8" y="768.8" font-size="3.2" fill="#444" text-anchor="middle">0</text>
<path d="M274.8 764.7V766" fill="none" stroke="#444" stroke-width="0.35"/>
<text x="274.8" y="768.8" font-size="3.2" fill="#444" text-anchor="middle">20</text>
<path d="M288.7 764.7V766" fill="none" stroke="#444" stroke-width="0.35"/>
<text x="288.7" y="768.8" font-size="3.2" fill="#444" text-anchor="middle">40</text>
<path d="M302.7 764.7V766" fill="none" stroke="#444" stroke-width="0.35"/>
<text x="302.7" y="768.8" font-size="3.2" fill="#444" text-anchor="middle">60</text>
<path d="M316.6 764.7V766" fill="none" stroke="#444" stroke-width="0.35"/>
<text x="316.6" y="768.8" font-size="3.2" fill="#444" text-anchor="middle">80</text>
<text x="291.4" y="772.8" font-size="3.7" fill="#333" text-anchor="middle" font-weight="bold">Months</text>
<path d="M301 708.5H304.5" fill="none" stroke="#5b7fc7" stroke-width="0.5"/>
<text x="305" y="709.4" font-size="2.5" fill="#333">Low IL15RA TPM</text>
<path d="M301 710.8H304.5" fill="none" stroke="#e85050" stroke-width="0.5"/>
<text x="305" y="711.7" font-size="2.5" fill="#333">High IL15RA TPM</text>
<text x="320.5" y="714.5" font-size="2.6" fill="#222" text-anchor="end">Logrank p=0.041</text>
<text x="320.5" y="717" font-size="2.6" fill="#222" text-anchor="end">HR(high)=1.6</text>
<text x="320.5" y="719.5" font-size="2.6" fill="#222" text-anchor="end">p(HR)=0.043</text>
<text x="320.5" y="722" font-size="2.6" fill="#222" text-anchor="end">n(high)=143</text>
<text x="320.5" y="724.5" font-size="2.6" fill="#222" text-anchor="end">n(low)=143</text>
<polyline points="260.8,707.7 263.7,707.7 263.7,707.7 267.2,707.7 267.2,709.3 269.5,709.3 269.5,711.5 271.9,711.5 271.9,713.7 275.4,713.7 275.4,715.8 278.9,715.8 278.9,717.9 281.2,717.9 281.2,721.3 283.5,721.3 283.5,725.8 285.9,725.8 285.9,726.3 286.5,726.3 286.5,729.8 290,729.8 290,730.1 290.5,730.1 290.5,734.2 292.3,734.2 292.3,742.8 292.9,742.8 292.9,748.1 303.4,748.1 303.4,747.4" fill="none" stroke="#ee8080" stroke-width="0.45" stroke-dasharray="1.4,1.3" opacity="0.9" stroke-linejoin="round"/>
<polyline points="260.8,710 263.7,710 263.7,712.5 267.2,712.5 267.2,715.1 269.5,715.1 269.5,717.6 271.9,717.6 271.9,720 275.4,720 275.4,722.6 278.9,722.6 278.9,725.1 281.2,725.1 281.2,728.8 283.5,728.8 283.5,733.6 285.9,733.6 285.9,734.3 286.5,734.3 286.5,737.8 290,737.8 290,738.6 290.5,738.6 290.5,742.8 292.3,742.8 292.3,751.6 292.9,751.6 292.9,756.9 303.4,756.9 303.4,757.5" fill="none" stroke="#ee8080" stroke-width="0.45" stroke-dasharray="1.4,1.3" opacity="0.9" stroke-linejoin="round"/>
<polyline points="260.8,707.7 271.3,707.7 271.3,707.7 271.3,707.7 271.3,709.1 275.9,709.1 275.9,709.4 275.9,709.4 275.9,711.1 296.4,711.1 296.4,709.9 296.4,709.9 296.4,720.4 299.3,720.4 299.3,720.2 299.3,720.2 299.3,721.4" fill="none" stroke="#8aa2da" stroke-width="0.45" stroke-dasharray="1.4,1.3" opacity="0.9" stroke-linejoin="round"/>
<polyline points="260.8,710 271.3,710 271.3,711.8 271.3,711.8 271.3,715.3 275.9,715.3 275.9,716.2 275.9,716.2 275.9,717.9 296.4,717.9 296.4,719.2 296.4,719.2 296.4,729.7 299.3,729.7 299.3,729.8 299.3,729.8 299.3,731" fill="none" stroke="#8aa2da" stroke-width="0.45" stroke-dasharray="1.4,1.3" opacity="0.9" stroke-linejoin="round"/>
<polyline points="260.8,707.5 271.3,708.7 271.3,712.2 275.9,712.8 275.9,714.5 296.4,714.5 296.4,725 299.3,725 299.3,726.2" fill="none" stroke="#3a63b6" stroke-width="0.8" stroke-linejoin="round"/>
<polyline points="260.8,707.5 263.7,709.9 267.2,712.2 269.5,714.5 271.9,716.9 275.4,719.2 278.9,721.5 281.2,725 283.5,729.7 285.9,730.3 286.5,733.8 290,734.4 290.5,738.5 292.3,747.2 292.9,752.5 303.4,752.5" fill="none" stroke="#e3262b" stroke-width="0.8" stroke-linejoin="round"/>
<path d="M295.5 751.8V753.2M300.8 751.8V753.2" fill="none" stroke="#e3262b" stroke-width="0.35"/>
<path d="M278 713.8V715.2M282.1 713.8V715.2M286.2 713.8V715.2M290.3 713.8V715.2M294.3 713.8V715.2" fill="none" stroke="#3a63b6" stroke-width="0.35"/>
<text x="362.2" y="14.7" font-size="6.9" fill="#333" font-family="Liberation Serif">F</text>
<rect x="403.9" y="39.9" width="8" height="8" fill="#f8d3d5"/>
<rect x="411.8" y="39.9" width="8" height="8" fill="#f3f3f9"/>
<rect x="419.7" y="39.9" width="8" height="8" fill="#c4cbea"/>
<rect x="427.6" y="39.9" width="8" height="8" fill="#fdfdfd"/>
<rect x="435.5" y="39.9" width="8" height="8" fill="#fdf0f0"/>
<rect x="443.4" y="39.9" width="8" height="8" fill="#b7c2e6"/>
<rect x="451.4" y="39.9" width="8" height="8" fill="#f3b9bc"/>
<rect x="459.3" y="39.9" width="8" height="8" fill="#f4f5fb"/>
<rect x="467.2" y="39.9" width="8" height="8" fill="#f8d0d2"/>
<rect x="475.1" y="39.9" width="8" height="8" fill="#e5e8f5"/>
<rect x="483" y="39.9" width="8" height="8" fill="#fdf5f3"/>
<rect x="490.9" y="39.9" width="8" height="8" fill="#f6c0c0"/>
<rect x="498.8" y="39.9" width="8" height="8" fill="#e35d66"/>
<rect x="506.7" y="39.9" width="8" height="8" fill="#eea0a3"/>
<rect x="514.6" y="39.9" width="8" height="8" fill="#ffffff"/>
<rect x="522.5" y="39.9" width="8" height="8" fill="#f8d5d6"/>
<rect x="530.5" y="39.9" width="8" height="8" fill="#f5f6fb"/>
<rect x="538.4" y="39.9" width="8" height="8" fill="#fcecec"/>
<rect x="546.3" y="39.9" width="8" height="8" fill="#dfe2f2"/>
<rect x="554.2" y="39.9" width="8" height="8" fill="#e6e8f5"/>
<rect x="562.1" y="39.9" width="8" height="8" fill="#fbe5e4"/>
<rect x="570" y="39.9" width="8" height="8" fill="#f2a9ab"/>
<rect x="577.9" y="39.9" width="8" height="8" fill="#eef0f8"/>
<rect x="585.8" y="39.9" width="8" height="8" fill="#7391cf"/>
<rect x="593.7" y="39.9" width="8" height="8" fill="#ffffff"/>
<rect x="601.6" y="39.9" width="8" height="8" fill="#e1e5f3"/>
<rect x="609.6" y="39.9" width="8" height="8" fill="#fbe7e7"/>
<rect x="617.5" y="39.9" width="8" height="8" fill="#fceeee"/>
<rect x="625.4" y="39.9" width="8" height="8" fill="#f3f4fa"/>
<rect x="633.3" y="39.9" width="8" height="8" fill="#e8eaf6"/>
<rect x="641.2" y="39.9" width="8" height="8" fill="#ffffff"/>
<rect x="649.1" y="39.9" width="8" height="8" fill="#f9dcdc"/>
<rect x="657" y="39.9" width="8" height="8" fill="#ee8d91"/>
<rect x="499.3" y="40.4" width="6.9" height="7" fill="none" stroke="#d84550" stroke-width="0.8"/>
<text x="410.9" y="51.3" font-size="3.6" fill="#444" text-anchor="end" transform="rotate(-45 410.9 51.3)">ACC</text>
<text x="418.8" y="51.3" font-size="3.6" fill="#444" text-anchor="end" transform="rotate(-45 418.8 51.3)">BLCA</text>
<text x="426.7" y="51.3" font-size="3.6" fill="#444" text-anchor="end" transform="rotate(-45 426.7 51.3)">BRCA</text>
<text x="434.6" y="51.3" font-size="3.6" fill="#444" text-anchor="end" transform="rotate(-45 434.6 51.3)">CESC</text>
<text x="442.5" y="51.3" font-size="3.6" fill="#444" text-anchor="end" transform="rotate(-45 442.5 51.3)">CHOL</text>
<text x="450.4" y="51.3" font-size="3.6" fill="#444" text-anchor="end" transform="rotate(-45 450.4 51.3)">COAD</text>
<text x="458.3" y="51.3" font-size="3.6" fill="#444" text-anchor="end" transform="rotate(-45 458.3 51.3)">DLBC</text>
<text x="466.2" y="51.3" font-size="3.6" fill="#444" text-anchor="end" transform="rotate(-45 466.2 51.3)">ESCA</text>
<text x="474.1" y="51.3" font-size="3.6" fill="#444" text-anchor="end" transform="rotate(-45 474.1 51.3)">GBM</text>
<text x="482" y="51.3" font-size="3.6" fill="#444" text-anchor="end" transform="rotate(-45 482 51.3)">HNSC</text>
<text x="490" y="51.3" font-size="3.6" fill="#444" text-anchor="end" transform="rotate(-45 490 51.3)">KICH</text>
<text x="497.9" y="51.3" font-size="3.6" fill="#444" text-anchor="end" transform="rotate(-45 497.9 51.3)">KIRC</text>
<text x="505.8" y="51.3" font-size="3.6" fill="#444" text-anchor="end" transform="rotate(-45 505.8 51.3)">KIRP</text>
<text x="513.7" y="51.3" font-size="3.6" fill="#444" text-anchor="end" transform="rotate(-45 513.7 51.3)">LAML</text>
<text x="521.6" y="51.3" font-size="3.6" fill="#444" text-anchor="end" transform="rotate(-45 521.6 51.3)">LGG</text>
<text x="529.5" y="51.3" font-size="3.6" fill="#444" text-anchor="end" transform="rotate(-45 529.5 51.3)">LIHC</text>
<text x="537.4" y="51.3" font-size="3.6" fill="#444" text-anchor="end" transform="rotate(-45 537.4 51.3)">LUAD</text>
<text x="545.3" y="51.3" font-size="3.6" fill="#444" text-anchor="end" transform="rotate(-45 545.3 51.3)">LUSC</text>
<text x="553.2" y="51.3" font-size="3.6" fill="#444" text-anchor="end" transform="rotate(-45 553.2 51.3)">MESO</text>
<text x="561.1" y="51.3" font-size="3.6" fill="#444" text-anchor="end" transform="rotate(-45 561.1 51.3)">OV</text>
<text x="569.1" y="51.3" font-size="3.6" fill="#444" text-anchor="end" transform="rotate(-45 569.1 51.3)">PAAD</text>
<text x="577" y="51.3" font-size="3.6" fill="#444" text-anchor="end" transform="rotate(-45 577 51.3)">PCPG</text>
<text x="584.9" y="51.3" font-size="3.6" fill="#444" text-anchor="end" transform="rotate(-45 584.9 51.3)">PRAD</text>
<text x="592.8" y="51.3" font-size="3.6" fill="#444" text-anchor="end" transform="rotate(-45 592.8 51.3)">READ</text>
<text x="600.7" y="51.3" font-size="3.6" fill="#444" text-anchor="end" transform="rotate(-45 600.7 51.3)">SARC</text>
<text x="608.6" y="51.3" font-size="3.6" fill="#444" text-anchor="end" transform="rotate(-45 608.6 51.3)">SKCM</text>
<text x="616.5" y="51.3" font-size="3.6" fill="#444" text-anchor="end" transform="rotate(-45 616.5 51.3)">STAD</text>
<text x="624.4" y="51.3" font-size="3.6" fill="#444" text-anchor="end" transform="rotate(-45 624.4 51.3)">TGCT</text>
<text x="632.3" y="51.3" font-size="3.6" fill="#444" text-anchor="end" transform="rotate(-45 632.3 51.3)">THCA</text>
<text x="640.2" y="51.3" font-size="3.6" fill="#444" text-anchor="end" transform="rotate(-45 640.2 51.3)">THYM</text>
<text x="648.2" y="51.3" font-size="3.6" fill="#444" text-anchor="end" transform="rotate(-45 648.2 51.3)">UCEC</text>
<text x="656.1" y="51.3" font-size="3.6" fill="#444" text-anchor="end" transform="rotate(-45 656.1 51.3)">UCS</text>
<text x="664" y="51.3" font-size="3.6" fill="#444" text-anchor="end" transform="rotate(-45 664 51.3)">UVM</text>
<text x="402.2" y="43.7" font-size="3.2" fill="#444" text-anchor="end" textLength="30.0" lengthAdjust="spacingAndGlyphs">ENSG00000164136|IL15</text>
<text x="402.2" y="46.8" font-size="2.6" fill="#555" text-anchor="end" textLength="11.9" lengthAdjust="spacingAndGlyphs">p value</text>
<rect x="669" y="36.6" width="3.3" height="17.9" fill="url(#gV)"/>
<text x="668.5" y="35.4" font-size="2.6" fill="#444">Log2FC</text>
<text x="673.3" y="42.2" font-size="2.5" fill="#444">0.5</text>
<text x="673.3" y="46.6" font-size="2.5" fill="#444">0.0</text>
<text x="673.3" y="51.1" font-size="2.5" fill="#444">-0.5</text>
<text x="361.8" y="94.9" font-size="6.4" fill="#333" font-family="Liberation Serif">G</text>
<text x="414.6" y="118.9" font-size="3.5" fill="#333" text-anchor="middle">IL15 ROC Curve</text>
<path d="M392.2 120.5V182.9" fill="none" stroke="#f5f5f5" stroke-width="0.4"/>
<path d="M382.1 130.6H447.1" fill="none" stroke="#f3f3f3" stroke-width="0.4"/>
<path d="M407.1 120.5V182.9" fill="none" stroke="#f5f5f5" stroke-width="0.4"/>
<path d="M382.1 144.8H447.1" fill="none" stroke="#f3f3f3" stroke-width="0.4"/>
<path d="M422.1 120.5V182.9" fill="none" stroke="#f5f5f5" stroke-width="0.4"/>
<path d="M382.1 159H447.1" fill="none" stroke="#f3f3f3" stroke-width="0.4"/>
<path d="M437 120.5V182.9" fill="none" stroke="#f5f5f5" stroke-width="0.4"/>
<path d="M382.1 173.2H447.1" fill="none" stroke="#f3f3f3" stroke-width="0.4"/>
<path d="M384.7 120.5V182.9M399.7 120.5V182.9M414.6 120.5V182.9M429.6 120.5V182.9M444.5 120.5V182.9" fill="none" stroke="#e8e8e8" stroke-width="0.5"/>
<path d="M382.1 123.5H447.1M382.1 137.7H447.1M382.1 151.9H447.1M382.1 166.1H447.1M382.1 180.3H447.1" fill="none" stroke="#ebebeb" stroke-width="0.5"/>
<path d="M382.1 120.5V182.9" fill="none" stroke="#ccc" stroke-width="0.5"/>
<path d="M384.7 180.3L444.5 123.5" fill="none" stroke="#999" stroke-width="0.4" stroke-dasharray="1.2,0.8"/>
<text x="384.7" y="185.8" font-size="2.7" fill="#444" text-anchor="middle">1.00</text>
<text x="399.7" y="185.8" font-size="2.7" fill="#444" text-anchor="middle">0.75</text>
<text x="414.6" y="185.8" font-size="2.7" fill="#444" text-anchor="middle">0.50</text>
<text x="429.6" y="185.8" font-size="2.7" fill="#444" text-anchor="middle">0.25</text>
<text x="444.5" y="185.8" font-size="2.7" fill="#444" text-anchor="middle">0.00</text>
<path d="M381.2 123.5H382.1" fill="none" stroke="#777" stroke-width="0.3"/>
<text x="380.8" y="124.4" font-size="2.7" fill="#444" text-anchor="end">1.00</text>
<path d="M381.2 137.7H382.1" fill="none" stroke="#777" stroke-width="0.3"/>
<text x="380.8" y="138.6" font-size="2.7" fill="#444" text-anchor="end">0.75</text>
<path d="M381.2 151.9H382.1" fill="none" stroke="#777" stroke-width="0.3"/>
<text x="380.8" y="152.8" font-size="2.7" fill="#444" text-anchor="end">0.50</text>
<path d="M381.2 166.1H382.1" fill="none" stroke="#777" stroke-width="0.3"/>
<text x="380.8" y="167" font-size="2.7" fill="#444" text-anchor="end">0.25</text>
<path d="M381.2 180.3H382.1" fill="none" stroke="#777" stroke-width="0.3"/>
<text x="380.8" y="181.2" font-size="2.7" fill="#444" text-anchor="end">0.00</text>
<text x="414.6" y="189.3" font-size="3.3" fill="#333" text-anchor="middle">Specificity</text>
<text x="373.8" y="151.7" font-size="3.3" fill="#333" text-anchor="middle" transform="rotate(-90 373.8 151.7)">Sensitivity</text>
<text x="428.9" y="165.4" font-size="2.8" fill="#333" text-anchor="middle">AUC = 0.954</text>
<text x="428.9" y="168.6" font-size="2.8" fill="#333" text-anchor="middle">95%CI: 0.941 - 0.967</text>
<polyline points="384.7,159.2 384.7,152.7 385.4,147.4 386.7,140.9 391.3,133.6 399.2,129 411,126.1 424.1,124.4 437.3,123.8 444.1,123.5" fill="none" stroke="#ee4a42" stroke-width="1.1" stroke-dasharray="1.0,0.8" stroke-linejoin="round"/>
<text x="493.5" y="118.9" font-size="3.5" fill="#333" text-anchor="middle">IL2 ROC Curve</text>
<path d="M470.7 120.5V183" fill="none" stroke="#f5f5f5" stroke-width="0.4"/>
<path d="M460.5 130.6H526.5" fill="none" stroke="#f3f3f3" stroke-width="0.4"/>
<path d="M485.9 120.5V183" fill="none" stroke="#f5f5f5" stroke-width="0.4"/>
<path d="M460.5 144.8H526.5" fill="none" stroke="#f3f3f3" stroke-width="0.4"/>
<path d="M501.1 120.5V183" fill="none" stroke="#f5f5f5" stroke-width="0.4"/>
<path d="M460.5 159.1H526.5" fill="none" stroke="#f3f3f3" stroke-width="0.4"/>
<path d="M516.3 120.5V183" fill="none" stroke="#f5f5f5" stroke-width="0.4"/>
<path d="M460.5 173.3H526.5" fill="none" stroke="#f3f3f3" stroke-width="0.4"/>
<path d="M463.1 120.5V183M478.3 120.5V183M493.5 120.5V183M508.7 120.5V183M523.9 120.5V183" fill="none" stroke="#e8e8e8" stroke-width="0.5"/>
<path d="M460.5 123.5H526.5M460.5 137.7H526.5M460.5 151.9H526.5M460.5 166.2H526.5M460.5 180.4H526.5" fill="none" stroke="#ebebeb" stroke-width="0.5"/>
<path d="M460.5 120.5V183" fill="none" stroke="#555" stroke-width="0.9"/>
<path d="M463.1 180.4L523.9 123.5" fill="none" stroke="#999" stroke-width="0.4" stroke-dasharray="1.2,0.8"/>
<text x="463.1" y="185.9" font-size="2.7" fill="#444" text-anchor="middle">1.00</text>
<text x="478.3" y="185.9" font-size="2.7" fill="#444" text-anchor="middle">0.75</text>
<text x="493.5" y="185.9" font-size="2.7" fill="#444" text-anchor="middle">0.50</text>
<text x="508.7" y="185.9" font-size="2.7" fill="#444" text-anchor="middle">0.25</text>
<text x="523.9" y="185.9" font-size="2.7" fill="#444" text-anchor="middle">0.00</text>
<path d="M459.6 123.5H460.5" fill="none" stroke="#777" stroke-width="0.3"/>
<text x="459.2" y="124.4" font-size="2.7" fill="#444" text-anchor="end">1.00</text>
<path d="M459.6 137.7H460.5" fill="none" stroke="#777" stroke-width="0.3"/>
<text x="459.2" y="138.6" font-size="2.7" fill="#444" text-anchor="end">0.75</text>
<path d="M459.6 151.9H460.5" fill="none" stroke="#777" stroke-width="0.3"/>
<text x="459.2" y="152.8" font-size="2.7" fill="#444" text-anchor="end">0.50</text>
<path d="M459.6 166.2H460.5" fill="none" stroke="#777" stroke-width="0.3"/>
<text x="459.2" y="167.1" font-size="2.7" fill="#444" text-anchor="end">0.25</text>
<path d="M459.6 180.4H460.5" fill="none" stroke="#777" stroke-width="0.3"/>
<text x="459.2" y="181.3" font-size="2.7" fill="#444" text-anchor="end">0.00</text>
<text x="493.5" y="189.4" font-size="3.3" fill="#333" text-anchor="middle">Specificity</text>
<text x="452.2" y="151.8" font-size="3.3" fill="#333" text-anchor="middle" transform="rotate(-90 452.2 151.8)">Sensitivity</text>
<text x="508" y="165.5" font-size="2.8" fill="#333" text-anchor="middle">AUC = 0.954</text>
<text x="508" y="168.7" font-size="2.8" fill="#333" text-anchor="middle">95%CI: 0.941 - 0.967</text>
<path d="M463.4 151.4V180.9" fill="none" stroke="#e8403a" stroke-width="0.9"/>
<polyline points="463.4,144.8 464.7,139.5 468.7,135.6 477.9,131.7 491,129 504.1,127.1 522.5,124" fill="none" stroke="#ee4a42" stroke-width="1.1" stroke-dasharray="1.0,0.8" stroke-linejoin="round"/>
<text x="572.4" y="118.9" font-size="3.5" fill="#333" text-anchor="middle">IL2RA ROC Curve</text>
<path d="M549.7 120.5V183" fill="none" stroke="#f5f5f5" stroke-width="0.4"/>
<path d="M539.5 130.6H605.2" fill="none" stroke="#f3f3f3" stroke-width="0.4"/>
<path d="M564.8 120.5V183" fill="none" stroke="#f5f5f5" stroke-width="0.4"/>
<path d="M539.5 144.8H605.2" fill="none" stroke="#f3f3f3" stroke-width="0.4"/>
<path d="M579.9 120.5V183" fill="none" stroke="#f5f5f5" stroke-width="0.4"/>
<path d="M539.5 159.1H605.2" fill="none" stroke="#f3f3f3" stroke-width="0.4"/>
<path d="M595 120.5V183" fill="none" stroke="#f5f5f5" stroke-width="0.4"/>
<path d="M539.5 173.3H605.2" fill="none" stroke="#f3f3f3" stroke-width="0.4"/>
<path d="M542.1 120.5V183M557.2 120.5V183M572.4 120.5V183M587.5 120.5V183M602.6 120.5V183" fill="none" stroke="#e8e8e8" stroke-width="0.5"/>
<path d="M539.5 123.5H605.2M539.5 137.7H605.2M539.5 151.9H605.2M539.5 166.2H605.2M539.5 180.4H605.2" fill="none" stroke="#ebebeb" stroke-width="0.5"/>
<path d="M539.5 120.5V183" fill="none" stroke="#ccc" stroke-width="0.5"/>
<path d="M542.1 180.4L602.6 123.5" fill="none" stroke="#999" stroke-width="0.4" stroke-dasharray="1.2,0.8"/>
<text x="542.1" y="185.9" font-size="2.7" fill="#444" text-anchor="middle">1.00</text>
<text x="557.2" y="185.9" font-size="2.7" fill="#444" text-anchor="middle">0.75</text>
<text x="572.4" y="185.9" font-size="2.7" fill="#444" text-anchor="middle">0.50</text>
<text x="587.5" y="185.9" font-size="2.7" fill="#444" text-anchor="middle">0.25</text>
<text x="602.6" y="185.9" font-size="2.7" fill="#444" text-anchor="middle">0.00</text>
<path d="M538.6 123.5H539.5" fill="none" stroke="#777" stroke-width="0.3"/>
<text x="538.2" y="124.4" font-size="2.7" fill="#444" text-anchor="end">1.00</text>
<path d="M538.6 137.7H539.5" fill="none" stroke="#777" stroke-width="0.3"/>
<text x="538.2" y="138.6" font-size="2.7" fill="#444" text-anchor="end">0.75</text>
<path d="M538.6 151.9H539.5" fill="none" stroke="#777" stroke-width="0.3"/>
<text x="538.2" y="152.8" font-size="2.7" fill="#444" text-anchor="end">0.50</text>
<path d="M538.6 166.2H539.5" fill="none" stroke="#777" stroke-width="0.3"/>
<text x="538.2" y="167.1" font-size="2.7" fill="#444" text-anchor="end">0.25</text>
<path d="M538.6 180.4H539.5" fill="none" stroke="#777" stroke-width="0.3"/>
<text x="538.2" y="181.3" font-size="2.7" fill="#444" text-anchor="end">0.00</text>
<text x="572.4" y="189.4" font-size="3.3" fill="#333" text-anchor="middle">Specificity</text>
<text x="531.2" y="151.8" font-size="3.3" fill="#333" text-anchor="middle" transform="rotate(-90 531.2 151.8)">Sensitivity</text>
<text x="586.8" y="165.5" font-size="2.8" fill="#333" text-anchor="middle">AUC = 0.954</text>
<text x="586.8" y="168.7" font-size="2.8" fill="#333" text-anchor="middle">95%CI: 0.941 - 0.967</text>
<polyline points="542.1,163.2 542.1,157.9 543.4,151.4 547.3,146.1 555.2,142.2 564.4,139.5 577.6,136.3 590.7,133 598.6,129.7 601.9,127.7 601.9,123.8" fill="none" stroke="#ee4a42" stroke-width="1.1" stroke-dasharray="1.0,0.8" stroke-linejoin="round"/>
<text x="650.4" y="118.8" font-size="3.5" fill="#333" text-anchor="middle">IL2RB ROC Curve</text>
<path d="M628.4 120.4V183.4" fill="none" stroke="#f5f5f5" stroke-width="0.4"/>
<path d="M618.4 130.6H682.5" fill="none" stroke="#f3f3f3" stroke-width="0.4"/>
<path d="M643.1 120.4V183.4" fill="none" stroke="#f5f5f5" stroke-width="0.4"/>
<path d="M618.4 144.9H682.5" fill="none" stroke="#f3f3f3" stroke-width="0.4"/>
<path d="M657.8 120.4V183.4" fill="none" stroke="#f5f5f5" stroke-width="0.4"/>
<path d="M618.4 159.3H682.5" fill="none" stroke="#f3f3f3" stroke-width="0.4"/>
<path d="M672.5 120.4V183.4" fill="none" stroke="#f5f5f5" stroke-width="0.4"/>
<path d="M618.4 173.6H682.5" fill="none" stroke="#f3f3f3" stroke-width="0.4"/>
<path d="M621 120.4V183.4M635.7 120.4V183.4M650.5 120.4V183.4M665.2 120.4V183.4M679.9 120.4V183.4" fill="none" stroke="#e8e8e8" stroke-width="0.5"/>
<path d="M618.4 123.4H682.5M618.4 137.8H682.5M618.4 152.1H682.5M618.4 166.4H682.5M618.4 180.8H682.5" fill="none" stroke="#ebebeb" stroke-width="0.5"/>
<path d="M618.4 120.4V183.4" fill="none" stroke="#ddd" stroke-width="0.5"/>
<path d="M621 180.8L679.9 123.4" fill="none" stroke="#999" stroke-width="0.4" stroke-dasharray="1.2,0.8"/>
<text x="621" y="186.3" font-size="2.7" fill="#444" text-anchor="middle">1.00</text>
<text x="635.7" y="186.3" font-size="2.7" fill="#444" text-anchor="middle">0.75</text>
<text x="650.5" y="186.3" font-size="2.7" fill="#444" text-anchor="middle">0.50</text>
<text x="665.2" y="186.3" font-size="2.7" fill="#444" text-anchor="middle">0.25</text>
<text x="679.9" y="186.3" font-size="2.7" fill="#444" text-anchor="middle">0.00</text>
<path d="M617.5 123.4H618.4" fill="none" stroke="#777" stroke-width="0.3"/>
<text x="617.1" y="124.3" font-size="2.7" fill="#444" text-anchor="end">1.00</text>
<path d="M617.5 137.8H618.4" fill="none" stroke="#777" stroke-width="0.3"/>
<text x="617.1" y="138.7" font-size="2.7" fill="#444" text-anchor="end">0.75</text>
<path d="M617.5 152.1H618.4" fill="none" stroke="#777" stroke-width="0.3"/>
<text x="617.1" y="153" font-size="2.7" fill="#444" text-anchor="end">0.50</text>
<path d="M617.5 166.4H618.4" fill="none" stroke="#777" stroke-width="0.3"/>
<text x="617.1" y="167.3" font-size="2.7" fill="#444" text-anchor="end">0.25</text>
<path d="M617.5 180.8H618.4" fill="none" stroke="#777" stroke-width="0.3"/>
<text x="617.1" y="181.7" font-size="2.7" fill="#444" text-anchor="end">0.00</text>
<text x="650.4" y="189.8" font-size="3.3" fill="#333" text-anchor="middle">Specificity</text>
<text x="610.1" y="151.9" font-size="3.3" fill="#333" text-anchor="middle" transform="rotate(-90 610.1 151.9)">Sensitivity</text>
<text x="664.6" y="165.8" font-size="2.8" fill="#333" text-anchor="middle">AUC = 0.954</text>
<text x="664.6" y="169" font-size="2.8" fill="#333" text-anchor="middle">95%CI: 0.941 - 0.967</text>
<path d="M621.1 162.6V181.2" fill="none" stroke="#e8403a" stroke-width="0.45"/>
<polyline points="621.7,156.4 622.3,148.9 624.8,142.7 629.8,136.5 637.2,131.6 647.1,127.9 659.6,126 680.6,123.5" fill="none" stroke="#ee4a42" stroke-width="1.1" stroke-dasharray="1.0,0.8" stroke-linejoin="round"/>
<text x="414.5" y="195.6" font-size="3.5" fill="#333" text-anchor="middle">IL2RG ROC Curve</text>
<path d="M392.1 197.2V259.9" fill="none" stroke="#f5f5f5" stroke-width="0.4"/>
<path d="M382 207.3H447" fill="none" stroke="#ececec" stroke-width="0.4"/>
<path d="M407 197.2V259.9" fill="none" stroke="#f5f5f5" stroke-width="0.4"/>
<path d="M382 221.6H447" fill="none" stroke="#ececec" stroke-width="0.4"/>
<path d="M422 197.2V259.9" fill="none" stroke="#f5f5f5" stroke-width="0.4"/>
<path d="M382 235.9H447" fill="none" stroke="#ececec" stroke-width="0.4"/>
<path d="M436.9 197.2V259.9" fill="none" stroke="#f5f5f5" stroke-width="0.4"/>
<path d="M382 250.2H447" fill="none" stroke="#ececec" stroke-width="0.4"/>
<path d="M384.6 197.2V259.9M399.6 197.2V259.9M414.5 197.2V259.9M429.5 197.2V259.9M444.4 197.2V259.9" fill="none" stroke="#e8e8e8" stroke-width="0.5"/>
<path d="M382 200.2H447M382 214.5H447M382 228.8H447M382 243H447M382 257.3H447" fill="none" stroke="#e0e0e0" stroke-width="0.5"/>
<path d="M382 197.2H447" fill="none" stroke="#c9bdb3" stroke-width="0.8"/>
<path d="M382 197.2V259.9" fill="none" stroke="#ccc" stroke-width="0.5"/>
<path d="M384.6 257.3L444.4 200.2" fill="none" stroke="#999" stroke-width="0.4" stroke-dasharray="1.2,0.8"/>
<text x="384.6" y="262.8" font-size="2.7" fill="#444" text-anchor="middle">1.00</text>
<text x="399.6" y="262.8" font-size="2.7" fill="#444" text-anchor="middle">0.75</text>
<text x="414.5" y="262.8" font-size="2.7" fill="#444" text-anchor="middle">0.50</text>
<text x="429.5" y="262.8" font-size="2.7" fill="#444" text-anchor="middle">0.25</text>
<text x="444.4" y="262.8" font-size="2.7" fill="#444" text-anchor="middle">0.00</text>
<path d="M381.1 200.2H382" fill="none" stroke="#777" stroke-width="0.3"/>
<text x="380.7" y="201.1" font-size="2.7" fill="#444" text-anchor="end">1.00</text>
<path d="M381.1 214.5H382" fill="none" stroke="#777" stroke-width="0.3"/>
<text x="380.7" y="215.4" font-size="2.7" fill="#444" text-anchor="end">0.75</text>
<path d="M381.1 228.8H382" fill="none" stroke="#777" stroke-width="0.3"/>
<text x="380.7" y="229.7" font-size="2.7" fill="#444" text-anchor="end">0.50</text>
<path d="M381.1 243H382" fill="none" stroke="#777" stroke-width="0.3"/>
<text x="380.7" y="243.9" font-size="2.7" fill="#444" text-anchor="end">0.25</text>
<path d="M381.1 257.3H382" fill="none" stroke="#777" stroke-width="0.3"/>
<text x="380.7" y="258.2" font-size="2.7" fill="#444" text-anchor="end">0.00</text>
<text x="414.5" y="266.3" font-size="3.3" fill="#333" text-anchor="middle">Specificity</text>
<text x="373.7" y="228.5" font-size="3.3" fill="#333" text-anchor="middle" transform="rotate(-90 373.7 228.5)">Sensitivity</text>
<text x="428.8" y="242.3" font-size="2.8" fill="#333" text-anchor="middle">AUC = 0.954</text>
<text x="428.8" y="245.5" font-size="2.8" fill="#333" text-anchor="middle">95%CI: 0.941 - 0.967</text>
<polyline points="384.7,245.4 384.7,240.2 385.4,233.6 386.7,227 390,220.5 396.5,213.9 404.4,209.3 414.9,206 428.1,202.7 443.8,200.5" fill="none" stroke="#ee4a42" stroke-width="1.1" stroke-dasharray="1.0,0.8" stroke-linejoin="round"/>
<text x="493.1" y="195.6" font-size="3.5" fill="#333" text-anchor="middle">IL15RA ROC Curve</text>
<path d="M470.6 197.2V259.9" fill="none" stroke="#f5f5f5" stroke-width="0.4"/>
<path d="M460.5 207.3H525.8" fill="none" stroke="#ececec" stroke-width="0.4"/>
<path d="M485.6 197.2V259.9" fill="none" stroke="#f5f5f5" stroke-width="0.4"/>
<path d="M460.5 221.6H525.8" fill="none" stroke="#ececec" stroke-width="0.4"/>
<path d="M500.7 197.2V259.9" fill="none" stroke="#f5f5f5" stroke-width="0.4"/>
<path d="M460.5 235.9H525.8" fill="none" stroke="#ececec" stroke-width="0.4"/>
<path d="M515.7 197.2V259.9" fill="none" stroke="#f5f5f5" stroke-width="0.4"/>
<path d="M460.5 250.2H525.8" fill="none" stroke="#ececec" stroke-width="0.4"/>
<path d="M463.1 197.2V259.9M478.1 197.2V259.9M493.2 197.2V259.9M508.2 197.2V259.9M523.2 197.2V259.9" fill="none" stroke="#e8e8e8" stroke-width="0.5"/>
<path d="M460.5 200.2H525.8M460.5 214.5H525.8M460.5 228.8H525.8M460.5 243H525.8M460.5 257.3H525.8" fill="none" stroke="#e0e0e0" stroke-width="0.5"/>
<path d="M460.5 197.2H525.8" fill="none" stroke="#c9bdb3" stroke-width="0.8"/>
<path d="M460.5 197.2V259.9" fill="none" stroke="#555" stroke-width="0.9"/>
<path d="M463.1 257.3L523.2 200.2" fill="none" stroke="#999" stroke-width="0.4" stroke-dasharray="1.2,0.8"/>
<text x="463.1" y="262.8" font-size="2.7" fill="#444" text-anchor="middle">1.00</text>
<text x="478.1" y="262.8" font-size="2.7" fill="#444" text-anchor="middle">0.75</text>
<text x="493.2" y="262.8" font-size="2.7" fill="#444" text-anchor="middle">0.50</text>
<text x="508.2" y="262.8" font-size="2.7" fill="#444" text-anchor="middle">0.25</text>
<text x="523.2" y="262.8" font-size="2.7" fill="#444" text-anchor="middle">0.00</text>
<path d="M459.6 200.2H460.5" fill="none" stroke="#777" stroke-width="0.3"/>
<text x="459.2" y="201.1" font-size="2.7" fill="#444" text-anchor="end">1.00</text>
<path d="M459.6 214.5H460.5" fill="none" stroke="#777" stroke-width="0.3"/>
<text x="459.2" y="215.4" font-size="2.7" fill="#444" text-anchor="end">0.75</text>
<path d="M459.6 228.8H460.5" fill="none" stroke="#777" stroke-width="0.3"/>
<text x="459.2" y="229.7" font-size="2.7" fill="#444" text-anchor="end">0.50</text>
<path d="M459.6 243H460.5" fill="none" stroke="#777" stroke-width="0.3"/>
<text x="459.2" y="243.9" font-size="2.7" fill="#444" text-anchor="end">0.25</text>
<path d="M459.6 257.3H460.5" fill="none" stroke="#777" stroke-width="0.3"/>
<text x="459.2" y="258.2" font-size="2.7" fill="#444" text-anchor="end">0.00</text>
<text x="493.1" y="266.3" font-size="3.3" fill="#333" text-anchor="middle">Specificity</text>
<text x="452.2" y="228.5" font-size="3.3" fill="#333" text-anchor="middle" transform="rotate(-90 452.2 228.5)">Sensitivity</text>
<text x="507.5" y="242.3" font-size="2.8" fill="#333" text-anchor="middle">AUC = 0.954</text>
<text x="507.5" y="245.5" font-size="2.8" fill="#333" text-anchor="middle">95%CI: 0.941 - 0.967</text>
<polyline points="463.4,257.3 463.4,244.1 464.7,234.9 466,224.4 468.7,215.2 473.9,207.3 481.8,202.7 491,201 497.6,200.5 522.5,200.5" fill="none" stroke="#ee4a42" stroke-width="1.1" stroke-dasharray="1.0,0.8" stroke-linejoin="round"/>
<text x="572.2" y="195.9" font-size="3.5" fill="#333" text-anchor="middle">IL2RG ROC Curve</text>
<path d="M549.6 197.5V259.9" fill="none" stroke="#f5f5f5" stroke-width="0.4"/>
<path d="M539.5 207.6H605" fill="none" stroke="#ececec" stroke-width="0.4"/>
<path d="M564.7 197.5V259.9" fill="none" stroke="#f5f5f5" stroke-width="0.4"/>
<path d="M539.5 221.8H605" fill="none" stroke="#ececec" stroke-width="0.4"/>
<path d="M579.8 197.5V259.9" fill="none" stroke="#f5f5f5" stroke-width="0.4"/>
<path d="M539.5 236H605" fill="none" stroke="#ececec" stroke-width="0.4"/>
<path d="M594.9 197.5V259.9" fill="none" stroke="#f5f5f5" stroke-width="0.4"/>
<path d="M539.5 250.2H605" fill="none" stroke="#ececec" stroke-width="0.4"/>
<path d="M542.1 197.5V259.9M557.2 197.5V259.9M572.2 197.5V259.9M587.3 197.5V259.9M602.4 197.5V259.9" fill="none" stroke="#e8e8e8" stroke-width="0.5"/>
<path d="M539.5 200.5H605M539.5 214.7H605M539.5 228.9H605M539.5 243.1H605M539.5 257.3H605" fill="none" stroke="#e0e0e0" stroke-width="0.5"/>
<path d="M539.5 197.5H605" fill="none" stroke="#c9bdb3" stroke-width="0.8"/>
<path d="M539.5 197.5V259.9" fill="none" stroke="#ccc" stroke-width="0.5"/>
<path d="M542.1 257.3L602.4 200.5" fill="none" stroke="#999" stroke-width="0.4" stroke-dasharray="1.2,0.8"/>
<text x="542.1" y="262.8" font-size="2.7" fill="#444" text-anchor="middle">1.00</text>
<text x="557.2" y="262.8" font-size="2.7" fill="#444" text-anchor="middle">0.75</text>
<text x="572.2" y="262.8" font-size="2.7" fill="#444" text-anchor="middle">0.50</text>
<text x="587.3" y="262.8" font-size="2.7" fill="#444" text-anchor="middle">0.25</text>
<text x="602.4" y="262.8" font-size="2.7" fill="#444" text-anchor="middle">0.00</text>
<path d="M538.6 200.5H539.5" fill="none" stroke="#777" stroke-width="0.3"/>
<text x="538.2" y="201.4" font-size="2.7" fill="#444" text-anchor="end">1.00</text>
<path d="M538.6 214.7H539.5" fill="none" stroke="#777" stroke-width="0.3"/>
<text x="538.2" y="215.6" font-size="2.7" fill="#444" text-anchor="end">0.75</text>
<path d="M538.6 228.9H539.5" fill="none" stroke="#777" stroke-width="0.3"/>
<text x="538.2" y="229.8" font-size="2.7" fill="#444" text-anchor="end">0.50</text>
<path d="M538.6 243.1H539.5" fill="none" stroke="#777" stroke-width="0.3"/>
<text x="538.2" y="244" font-size="2.7" fill="#444" text-anchor="end">0.25</text>
<path d="M538.6 257.3H539.5" fill="none" stroke="#777" stroke-width="0.3"/>
<text x="538.2" y="258.2" font-size="2.7" fill="#444" text-anchor="end">0.00</text>
<text x="572.2" y="266.3" font-size="3.3" fill="#333" text-anchor="middle">Specificity</text>
<text x="531.2" y="228.7" font-size="3.3" fill="#333" text-anchor="middle" transform="rotate(-90 531.2 228.7)">Sensitivity</text>
<text x="586.7" y="242.4" font-size="2.8" fill="#333" text-anchor="middle">AUC = 0.954</text>
<text x="586.7" y="245.6" font-size="2.8" fill="#333" text-anchor="middle">95%CI: 0.941 - 0.967</text>
<polyline points="542.1,215.9 542.7,211.3 546,208.7 551.3,207.3 564.4,205.4 577.6,204.4 590.7,203.1 601.9,200.8" fill="none" stroke="#ee4a42" stroke-width="1.1" stroke-dasharray="1.0,0.8" stroke-linejoin="round"/>
<text x="650.4" y="195.8" font-size="3.5" fill="#333" text-anchor="middle">IL2RB ROC Curve</text>
<path d="M628.4 197.4V260" fill="none" stroke="#f5f5f5" stroke-width="0.4"/>
<path d="M618.4 207.5H682.5" fill="none" stroke="#ececec" stroke-width="0.4"/>
<path d="M643.1 197.4V260" fill="none" stroke="#f5f5f5" stroke-width="0.4"/>
<path d="M618.4 221.8H682.5" fill="none" stroke="#ececec" stroke-width="0.4"/>
<path d="M657.8 197.4V260" fill="none" stroke="#f5f5f5" stroke-width="0.4"/>
<path d="M618.4 236H682.5" fill="none" stroke="#ececec" stroke-width="0.4"/>
<path d="M672.5 197.4V260" fill="none" stroke="#f5f5f5" stroke-width="0.4"/>
<path d="M618.4 250.3H682.5" fill="none" stroke="#ececec" stroke-width="0.4"/>
<path d="M621 197.4V260M635.7 197.4V260M650.5 197.4V260M665.2 197.4V260M679.9 197.4V260" fill="none" stroke="#e8e8e8" stroke-width="0.5"/>
<path d="M618.4 200.4H682.5M618.4 214.7H682.5M618.4 228.9H682.5M618.4 243.2H682.5M618.4 257.4H682.5" fill="none" stroke="#e0e0e0" stroke-width="0.5"/>
<path d="M618.4 197.4H682.5" fill="none" stroke="#c9bdb3" stroke-width="0.8"/>
<path d="M682.5 197.4V260" fill="none" stroke="#d8cfc8" stroke-width="0.6"/>
<path d="M618.4 197.4V260" fill="none" stroke="#d8cfc8" stroke-width="0.5"/>
<path d="M621 257.4L679.9 200.4" fill="none" stroke="#999" stroke-width="0.4" stroke-dasharray="1.2,0.8"/>
<text x="621" y="262.9" font-size="2.7" fill="#444" text-anchor="middle">1.00</text>
<text x="635.7" y="262.9" font-size="2.7" fill="#444" text-anchor="middle">0.75</text>
<text x="650.5" y="262.9" font-size="2.7" fill="#444" text-anchor="middle">0.50</text>
<text x="665.2" y="262.9" font-size="2.7" fill="#444" text-anchor="middle">0.25</text>
<text x="679.9" y="262.9" font-size="2.7" fill="#444" text-anchor="middle">0.00</text>
<path d="M617.5 200.4H618.4" fill="none" stroke="#777" stroke-width="0.3"/>
<text x="617.1" y="201.3" font-size="2.7" fill="#444" text-anchor="end">1.00</text>
<path d="M617.5 214.7H618.4" fill="none" stroke="#777" stroke-width="0.3"/>
<text x="617.1" y="215.6" font-size="2.7" fill="#444" text-anchor="end">0.75</text>
<path d="M617.5 228.9H618.4" fill="none" stroke="#777" stroke-width="0.3"/>
<text x="617.1" y="229.8" font-size="2.7" fill="#444" text-anchor="end">0.50</text>
<path d="M617.5 243.2H618.4" fill="none" stroke="#777" stroke-width="0.3"/>
<text x="617.1" y="244.1" font-size="2.7" fill="#444" text-anchor="end">0.25</text>
<path d="M617.5 257.4H618.4" fill="none" stroke="#777" stroke-width="0.3"/>
<text x="617.1" y="258.3" font-size="2.7" fill="#444" text-anchor="end">0.00</text>
<text x="650.4" y="266.4" font-size="3.3" fill="#333" text-anchor="middle">Specificity</text>
<text x="610.1" y="228.7" font-size="3.3" fill="#333" text-anchor="middle" transform="rotate(-90 610.1 228.7)">Sensitivity</text>
<text x="664.6" y="242.5" font-size="2.8" fill="#333" text-anchor="middle">AUC = 0.954</text>
<text x="664.6" y="245.7" font-size="2.8" fill="#333" text-anchor="middle">95%CI: 0.941 - 0.967</text>
<path d="M621.1 239.6V258.2" fill="none" stroke="#e8403a" stroke-width="0.45"/>
<polyline points="621.7,234.6 622.3,229.7 624.8,224.7 629.8,219.7 637.2,216 647.1,211.7 659.6,207.3 680.6,200.5" fill="none" stroke="#ee4a42" stroke-width="1.1" stroke-dasharray="1.0,0.8" stroke-linejoin="round"/>
<text x="362.7" y="294.9" font-size="6" fill="#333">H</text>
<path d="M391.4 310.2H658.4M391.4 320.1H658.4" fill="none" stroke="#ececec" stroke-width="0.5"/>
<path d="M391.4 329.5H658.4M391.4 339.4H658.4" fill="none" stroke="#bdbdbd" stroke-width="0.5"/>
<path d="M391.4 349H658.4" fill="none" stroke="#ececec" stroke-width="0.5"/>
<path d="M398.4 305V351.5M407.1 305V351.5M415.7 305V351.5M424.4 305V351.5M433 305V351.5M441.7 305V351.5M450.3 305V351.5M459 305V351.5M467.6 305V351.5M476.3 305V351.5M484.9 305V351.5M493.6 305V351.5M502.3 305V351.5M510.9 305V351.5M519.6 305V351.5M528.2 305V351.5M536.9 305V351.5M545.5 305V351.5M554.2 305V351.5M562.8 305V351.5M571.5 305V351.5M580.2 305V351.5M588.8 305V351.5M597.5 305V351.5M606.1 305V351.5M614.8 305V351.5M623.4 305V351.5M632.1 305V351.5M640.7 305V351.5M649.4 305V351.5" fill="none" stroke="#e6e6e6" stroke-width="0.5"/>
<path d="M658.4 305V351.5" fill="none" stroke="#d6d6d6" stroke-width="0.5"/>
<path d="M391.5 305V351.5" fill="none" stroke="#444" stroke-width="0.6"/>
<path d="M391.4 351.5H658.4" fill="none" stroke="#777" stroke-width="0.9"/>
<path d="M390.2 310.2H391.4" fill="none" stroke="#444" stroke-width="0.35"/>
<text x="389.7" y="311.2" font-size="2.9" fill="#444" text-anchor="end">5</text>
<path d="M390.2 320.1H391.4" fill="none" stroke="#444" stroke-width="0.35"/>
<text x="389.7" y="321.1" font-size="2.9" fill="#444" text-anchor="end">2.5</text>
<path d="M390.2 329.5H391.4" fill="none" stroke="#444" stroke-width="0.35"/>
<text x="389.7" y="330.5" font-size="2.9" fill="#444" text-anchor="end">0</text>
<path d="M390.2 339.4H391.4" fill="none" stroke="#444" stroke-width="0.35"/>
<text x="389.7" y="340.4" font-size="2.9" fill="#444" text-anchor="end">-2.5</text>
<path d="M390.2 349H391.4" fill="none" stroke="#444" stroke-width="0.35"/>
<text x="389.7" y="350" font-size="2.9" fill="#444" text-anchor="end">-5</text>
<text x="384.4" y="328.2" font-size="3.1" fill="#333" text-anchor="middle" transform="rotate(-90 384.4 328.2)">Expression</text>
<path d="M395.5 320.7V324.8M395.5 331.2V340M404.1 320V324.8M404.1 330.6V333.2M412.8 322.7V325.4M412.8 330V332.8M421.4 323.8V326M421.4 330V332.1M430.1 324.7V330M430.1 335.9V340.1M438.8 322.6V324.8M438.8 330V334.6M447.4 319.6V323.6M447.4 328.9V332.7M456.1 328.1V334.7M456.1 344.1V350.4M464.7 318.4V328.9M464.7 340.6V348.8M473.4 320.6V323M473.4 327.7V330.7M482 326.2V330M482 335.9V338.9M490.7 322.3V325.4M490.7 330.6V334.3M499.3 324.1V327.1M499.3 333V336.7M508 322.8V326M508 332.4V337.2M516.6 325.6V332.4M516.6 339.4V346M525.3 321.4V327.7M525.3 334.7V338.5M534 331.3V334.1M534 338.8V343.4M542.6 322.3V324.8M542.6 330V332.7M551.3 325V326.5M551.3 329.5V331.9M559.9 322.5V324.2M559.9 327.7V331.1M568.6 323.6V328.1M568.6 334.1V338.4M577.2 330.8V333M577.2 337.6V340M585.9 332.6V336.5M585.9 342.9V346.7M594.5 342.5V344.1M594.5 347V348.9M603.2 335V337.6M603.2 340.6V342.7M611.9 320.6V327.7M611.9 338.8V349.6M620.5 333.6V336.5M620.5 340.6V342.3M629.2 333.9V335.9M629.2 340.6V343.2M637.8 315V321.9M637.8 328.9V334.1M646.5 322.3V324.8M646.5 329.5V333.4" fill="none" stroke="#e4694f" stroke-width="0.45" opacity="0.75"/>
<path d="M397.4 321.1V324.2M397.4 330V335M406.1 321.2V326M406.1 331.8V334.7M414.7 325.1V326.5M414.7 329.5V332.2M423.4 324.1V326.5M423.4 329.5V332M432 328.5V330.6M432 335.9V339.8M440.7 323.9V326M440.7 328.3V330.2M449.4 321.8V324.2M449.4 328.9V332.8M458 334.5V338.2M458 342.9V345.4M466.7 321.9V332.4M466.7 339.4V346.4M475.3 319.2V324.2M475.3 329.5V332.7M484 327.7V332.4M484 337.1V341.6M492.6 322.4V326M492.6 330V332.7M501.3 324.3V327.7M501.3 331.8V334.7M509.9 324.6V326.5M509.9 330V332.3M518.6 324.5V330M518.6 336.5V340M527.3 326.4V328.9M527.3 334.7V340.5M535.9 331.2V333M535.9 336.5V338.4M544.6 320.2V324.2M544.6 330V333.2M553.2 324.8V327.1M553.2 330V332.2M561.9 320.9V326M561.9 333.6V339.5M570.5 323.5V328.9M570.5 334.7V337.8M579.2 325.4V333M579.2 338.8V346.4M587.8 335.3V337.1M587.8 341.1V345.1M596.5 342.8V344.1M596.5 346.4V348.7M605.1 320.1V333.6M605.1 341.7V345.2M613.8 329.1V331.2M613.8 334.7V336.9M622.5 318.9V334.7M622.5 338.8V344.1M631.1 333.2V336.5M631.1 340.6V343.9M639.8 315.1V320.7M639.8 326.5V329.4M648.4 323.1V326M648.4 331.8V335.3" fill="none" stroke="#6cc0d8" stroke-width="0.45" opacity="0.75"/>
<path d="M399.4 323.2V326M399.4 332.4V336.3M408 323.6V326M408 331.2V335.5M416.7 325.8V327.1M416.7 330V332.4M425.3 325.7V327.1M425.3 330.6V332.7M434 313.7V330M434 335.9V344.1M442.6 319.6V323M442.6 327.7V332.3M451.3 318.8V323M451.3 328.9V334.6M460 322.5V333M460 339.4V346.4M468.6 323.1V327.1M468.6 335.9V343.5M477.3 316.6V323M477.3 327.7V334.7M485.9 324.2V328.9M485.9 339.4V345.2M494.6 318.9V326M494.6 330V342.9M503.2 321.9V326.5M503.2 330V339.4M511.9 320.1V327.7M511.9 332.4V340M520.5 326H520.5M520.5 332.4V342.9M529.2 315.4V327.1M529.2 335.9V344.1M537.9 327.7V328.9M537.9 337.1V344.1M546.5 318.9V326M546.5 330V340.6M555.2 324.2H555.2M555.2 332.4V339.4M563.8 322.9V326M563.8 330V333.8M572.5 322.5V328.3M572.5 336.5V348.7M581.1 328.7V334.1M581.1 340V345.1M589.8 325.4V337.6M589.8 341.7V346.4M598.4 334.1V344.1M598.4 347V348.7M607.1 326.5V334.7M607.1 342.9V344.1M615.7 316.6V325.4M615.7 334.7V346.4M624.4 335.5V337.6M624.4 341.7V344.6M633.1 335.1V337.1M633.1 340.6V342.1M641.7 320.2V323M641.7 326.5V328.2M650.4 324V325.1M650.4 326.5V327.7" fill="none" stroke="#2fa88f" stroke-width="0.45" opacity="0.75"/>
<path d="M401.3 321.9V327.1M401.3 332.4V340.6M410 322.5V326.5M410 330V340M418.6 321.9V327.1M418.6 330V339.4M427.3 321.9V327.1M427.3 330V340M435.9 329.1V331.2M435.9 334.1V337M444.6 320.1V324.2M444.6 330V332.4M453.3 317.8V324.8M453.3 329.5V334.7M461.9 321.3V324.8M461.9 339.4V346.4M470.6 318.9V326M470.6 331.8V346.4M479.2 321.6V324.8M479.2 328.9V330.8M487.9 316.2V326M487.9 340V350.1M496.5 314.3V326M496.5 331.8V339.4M505.2 323.1V325.4M505.2 330.6V334.2M513.8 324.3V326M513.8 329.5V332M522.5 320.5V325.1M522.5 334.7V344.2M531.1 325.9V330M531.1 335.3V337.4M539.8 328.6V332.1M539.8 335.9V338M548.5 320.9V324M548.5 327.1V329M557.1 326.8V328.3M557.1 331.2V333.1M565.8 323.7V325.1M565.8 327.1V328.3M574.4 324.6V329.5M574.4 336.5V340.4M583.1 332.1V334.7M583.1 339.4V342.3M591.7 341.3V342.3M591.7 344.1V345.6M600.4 338.9V341.1M600.4 346.4V349.6M609 334.4V337.1M609 341.7V344.8M617.7 323.4V327.7M617.7 335.9V340.1M626.4 329.9V333M626.4 338.8V343.1M635 324.8V330.6M635 338.2V345.7M643.7 313.5V321.3M643.7 331.8V337.2M652.3 319.9V323M652.3 329.8V333" fill="none" stroke="#55639b" stroke-width="0.45" opacity="0.75"/>
<rect x="394.6" y="324.8" width="1.8" height="6.4" fill="#ea8e74"/>
<rect x="396.5" y="324.2" width="1.8" height="5.8" fill="#9cd2e2"/>
<rect x="398.5" y="326" width="1.8" height="6.4" fill="#6dbda9"/>
<rect x="400.4" y="327.1" width="1.8" height="5.3" fill="#8289bb"/>
<rect x="403.2" y="324.8" width="1.8" height="5.8" fill="#ea8e74"/>
<rect x="405.2" y="326" width="1.8" height="5.8" fill="#9cd2e2"/>
<rect x="407.1" y="326" width="1.8" height="5.3" fill="#6dbda9"/>
<rect x="409.1" y="326.5" width="1.8" height="3.5" fill="#8289bb"/>
<rect x="411.9" y="325.4" width="1.8" height="4.7" fill="#ea8e74"/>
<rect x="413.8" y="326.5" width="1.8" height="2.9" fill="#9cd2e2"/>
<rect x="415.8" y="327.1" width="1.8" height="2.9" fill="#6dbda9"/>
<rect x="417.7" y="327.1" width="1.8" height="2.9" fill="#8289bb"/>
<rect x="420.5" y="326" width="1.8" height="4.1" fill="#ea8e74"/>
<rect x="422.5" y="326.5" width="1.8" height="2.9" fill="#9cd2e2"/>
<rect x="424.4" y="327.1" width="1.8" height="3.5" fill="#6dbda9"/>
<rect x="426.4" y="327.1" width="1.8" height="2.9" fill="#8289bb"/>
<rect x="429.2" y="330" width="1.8" height="5.8" fill="#ea8e74"/>
<rect x="431.2" y="330.6" width="1.8" height="5.3" fill="#9cd2e2"/>
<rect x="433.1" y="330" width="1.8" height="5.8" fill="#6dbda9"/>
<rect x="435" y="331.2" width="1.8" height="2.9" fill="#8289bb"/>
<rect x="437.9" y="324.8" width="1.8" height="5.3" fill="#ea8e74"/>
<rect x="439.8" y="326" width="1.8" height="2.3" fill="#9cd2e2"/>
<rect x="441.8" y="323" width="1.8" height="4.7" fill="#6dbda9"/>
<rect x="443.7" y="324.2" width="1.8" height="5.8" fill="#8289bb"/>
<rect x="446.5" y="323.6" width="1.8" height="5.3" fill="#ea8e74"/>
<rect x="448.5" y="324.2" width="1.8" height="4.7" fill="#9cd2e2"/>
<rect x="450.4" y="323" width="1.8" height="5.8" fill="#6dbda9"/>
<rect x="452.4" y="324.8" width="1.8" height="4.7" fill="#8289bb"/>
<rect x="455.2" y="334.7" width="1.8" height="9.3" fill="#ea8e74"/>
<rect x="457.1" y="338.2" width="1.8" height="4.7" fill="#9cd2e2"/>
<rect x="459.1" y="333" width="1.8" height="6.4" fill="#6dbda9"/>
<rect x="461" y="324.8" width="1.8" height="14.6" fill="#8289bb"/>
<rect x="463.8" y="328.9" width="1.8" height="11.7" fill="#ea8e74"/>
<rect x="465.8" y="332.4" width="1.8" height="7" fill="#9cd2e2"/>
<rect x="467.7" y="327.1" width="1.8" height="8.8" fill="#6dbda9"/>
<rect x="469.7" y="326" width="1.8" height="5.8" fill="#8289bb"/>
<rect x="472.5" y="323" width="1.8" height="4.7" fill="#ea8e74"/>
<rect x="474.4" y="324.2" width="1.8" height="5.3" fill="#9cd2e2"/>
<rect x="476.4" y="323" width="1.8" height="4.7" fill="#6dbda9"/>
<rect x="478.3" y="324.8" width="1.8" height="4.1" fill="#8289bb"/>
<rect x="481.1" y="330" width="1.8" height="5.8" fill="#ea8e74"/>
<rect x="483.1" y="332.4" width="1.8" height="4.7" fill="#9cd2e2"/>
<rect x="485" y="328.9" width="1.8" height="10.5" fill="#6dbda9"/>
<rect x="487" y="326" width="1.8" height="14" fill="#8289bb"/>
<rect x="489.8" y="325.4" width="1.8" height="5.3" fill="#ea8e74"/>
<rect x="491.7" y="326" width="1.8" height="4.1" fill="#9cd2e2"/>
<rect x="493.7" y="326" width="1.8" height="4.1" fill="#6dbda9"/>
<rect x="495.6" y="326" width="1.8" height="5.8" fill="#8289bb"/>
<rect x="498.4" y="327.1" width="1.8" height="5.8" fill="#ea8e74"/>
<rect x="500.4" y="327.7" width="1.8" height="4.1" fill="#9cd2e2"/>
<rect x="502.3" y="326.5" width="1.8" height="3.5" fill="#6dbda9"/>
<rect x="504.3" y="325.4" width="1.8" height="5.3" fill="#8289bb"/>
<rect x="507.1" y="326" width="1.8" height="6.4" fill="#ea8e74"/>
<rect x="509" y="326.5" width="1.8" height="3.5" fill="#9cd2e2"/>
<rect x="511" y="327.7" width="1.8" height="4.7" fill="#6dbda9"/>
<rect x="512.9" y="326" width="1.8" height="3.5" fill="#8289bb"/>
<rect x="515.8" y="332.4" width="1.8" height="7" fill="#ea8e74"/>
<rect x="517.7" y="330" width="1.8" height="6.4" fill="#9cd2e2"/>
<rect x="519.6" y="326" width="1.8" height="6.4" fill="#6dbda9"/>
<rect x="521.6" y="325.1" width="1.8" height="9.6" fill="#8289bb"/>
<rect x="524.4" y="327.7" width="1.8" height="7" fill="#ea8e74"/>
<rect x="526.4" y="328.9" width="1.8" height="5.8" fill="#9cd2e2"/>
<rect x="528.3" y="327.1" width="1.8" height="8.8" fill="#6dbda9"/>
<rect x="530.3" y="330" width="1.8" height="5.3" fill="#8289bb"/>
<rect x="533.1" y="334.1" width="1.8" height="4.7" fill="#ea8e74"/>
<rect x="535" y="333" width="1.8" height="3.5" fill="#9cd2e2"/>
<rect x="537" y="328.9" width="1.8" height="8.2" fill="#6dbda9"/>
<rect x="538.9" y="332.1" width="1.8" height="3.7" fill="#8289bb"/>
<rect x="541.7" y="324.8" width="1.8" height="5.3" fill="#ea8e74"/>
<rect x="543.7" y="324.2" width="1.8" height="5.8" fill="#9cd2e2"/>
<rect x="545.6" y="326" width="1.8" height="4.1" fill="#6dbda9"/>
<rect x="547.6" y="324" width="1.8" height="3.2" fill="#8289bb"/>
<rect x="550.4" y="326.5" width="1.8" height="2.9" fill="#ea8e74"/>
<rect x="552.3" y="327.1" width="1.8" height="2.9" fill="#9cd2e2"/>
<rect x="554.3" y="324.2" width="1.8" height="8.2" fill="#6dbda9"/>
<rect x="556.2" y="328.3" width="1.8" height="2.9" fill="#8289bb"/>
<rect x="559" y="324.2" width="1.8" height="3.5" fill="#ea8e74"/>
<rect x="561" y="326" width="1.8" height="7.6" fill="#9cd2e2"/>
<rect x="562.9" y="326" width="1.8" height="4.1" fill="#6dbda9"/>
<rect x="564.9" y="325.1" width="1.8" height="2" fill="#8289bb"/>
<rect x="567.7" y="328.1" width="1.8" height="6.1" fill="#ea8e74"/>
<rect x="569.6" y="328.9" width="1.8" height="5.8" fill="#9cd2e2"/>
<rect x="571.6" y="328.3" width="1.8" height="8.2" fill="#6dbda9"/>
<rect x="573.5" y="329.5" width="1.8" height="7" fill="#8289bb"/>
<rect x="576.3" y="333" width="1.8" height="4.7" fill="#ea8e74"/>
<rect x="578.3" y="333" width="1.8" height="5.8" fill="#9cd2e2"/>
<rect x="580.2" y="334.1" width="1.8" height="5.8" fill="#6dbda9"/>
<rect x="582.2" y="334.7" width="1.8" height="4.7" fill="#8289bb"/>
<rect x="585" y="336.5" width="1.8" height="6.4" fill="#ea8e74"/>
<rect x="586.9" y="337.1" width="1.8" height="4.1" fill="#9cd2e2"/>
<rect x="588.9" y="337.6" width="1.8" height="4.1" fill="#6dbda9"/>
<rect x="590.8" y="342.3" width="1.8" height="1.8" fill="#8289bb"/>
<rect x="593.6" y="344.1" width="1.8" height="2.9" fill="#ea8e74"/>
<rect x="595.6" y="344.1" width="1.8" height="2.3" fill="#9cd2e2"/>
<rect x="597.5" y="344.1" width="1.8" height="2.9" fill="#6dbda9"/>
<rect x="599.5" y="341.1" width="1.8" height="5.3" fill="#8289bb"/>
<rect x="602.3" y="337.6" width="1.8" height="2.9" fill="#ea8e74"/>
<rect x="604.3" y="333.6" width="1.8" height="8.2" fill="#9cd2e2"/>
<rect x="606.2" y="334.7" width="1.8" height="8.2" fill="#6dbda9"/>
<rect x="608.1" y="337.1" width="1.8" height="4.7" fill="#8289bb"/>
<rect x="611" y="327.7" width="1.8" height="11.1" fill="#ea8e74"/>
<rect x="612.9" y="331.2" width="1.8" height="3.5" fill="#9cd2e2"/>
<rect x="614.9" y="325.4" width="1.8" height="9.3" fill="#6dbda9"/>
<rect x="616.8" y="327.7" width="1.8" height="8.2" fill="#8289bb"/>
<rect x="619.6" y="336.5" width="1.8" height="4.1" fill="#ea8e74"/>
<rect x="621.6" y="334.7" width="1.8" height="4.1" fill="#9cd2e2"/>
<rect x="623.5" y="337.6" width="1.8" height="4.1" fill="#6dbda9"/>
<rect x="625.5" y="333" width="1.8" height="5.8" fill="#8289bb"/>
<rect x="628.3" y="335.9" width="1.8" height="4.7" fill="#ea8e74"/>
<rect x="630.2" y="336.5" width="1.8" height="4.1" fill="#9cd2e2"/>
<rect x="632.2" y="337.1" width="1.8" height="3.5" fill="#6dbda9"/>
<rect x="634.1" y="330.6" width="1.8" height="7.6" fill="#8289bb"/>
<rect x="636.9" y="321.9" width="1.8" height="7" fill="#ea8e74"/>
<rect x="638.9" y="320.7" width="1.8" height="5.8" fill="#9cd2e2"/>
<rect x="640.8" y="323" width="1.8" height="3.5" fill="#6dbda9"/>
<rect x="642.8" y="321.3" width="1.8" height="10.5" fill="#8289bb"/>
<rect x="645.6" y="324.8" width="1.8" height="4.7" fill="#ea8e74"/>
<rect x="647.5" y="326" width="1.8" height="5.8" fill="#9cd2e2"/>
<rect x="649.5" y="325.1" width="1.8" height="1.4" fill="#6dbda9"/>
<rect x="651.4" y="323" width="1.8" height="6.8" fill="#8289bb"/>
<path d="M394.6 327.9H396.4M403.2 327H405M411.9 327.1H413.7M420.5 327.4H422.3M429.2 333.5H431M437.9 326.7H439.6M446.5 326.7H448.3M455.2 338.4H457M463.8 334.2H465.6M472.5 324.9H474.3M481.1 332.6H482.9M489.8 327.3H491.6M498.4 330.6H500.2M507.1 329.4H508.9M515.8 336.4H517.5M524.4 331.8H526.2M533.1 337H534.9M541.7 327.3H543.5M550.4 327.6H552.2M559 326.1H560.8M567.7 330.3H569.5M576.3 335H578.1M585 340.3H586.8M593.6 345.6H595.4M602.3 339.1H604.1M611 334.6H612.7M619.6 339H621.4M628.3 338.1H630.1M636.9 325.1H638.7M645.6 327.2H647.4" fill="none" stroke="#dd5a3e" stroke-width="0.4"/>
<path d="M396.5 327.5H398.3M405.2 328.4H407M413.8 328.3H415.6M422.5 327.9H424.3M431.2 333.5H432.9M439.8 327.2H441.6M448.5 326.5H450.3M457.1 340.4H458.9M465.8 336H467.6M474.4 326.7H476.2M483.1 335H484.9M491.7 328.5H493.5M500.4 329.9H502.2M509 327.9H510.8M517.7 333.9H519.5M526.4 332.4H528.1M535 334.3H536.8M543.7 327.9H545.5M552.3 328.3H554.1M561 329.1H562.8M569.6 332.5H571.4M578.3 336.5H580.1M586.9 338.9H588.7M595.6 345.5H597.4M604.3 337.9H606M612.9 333.1H614.7M621.6 336.6H623.4M630.2 339H632M638.9 323.7H640.7M647.5 329.8H649.3" fill="none" stroke="#4fb3cf" stroke-width="0.4"/>
<path d="M398.5 329.4H400.3M407.1 329H408.9M415.8 328.3H417.6M424.4 328.9H426.2M433.1 333.3H434.9M441.8 325.3H443.5M450.4 325.7H452.2M459.1 336.2H460.9M467.7 330.6H469.5M476.4 326H478.2M485 333.8H486.8M493.7 327.5H495.5M502.3 328.5H504.1M511 330H512.8M519.6 329.2H521.4M528.3 332.2H530.1M537 333.3H538.7M545.6 328H547.4M554.3 329.2H556.1M562.9 328.4H564.7M571.6 333.2H573.4M580.2 336.3H582M588.9 339.7H590.7M597.5 345.6H599.3M606.2 338.8H608M614.9 328.7H616.6M623.5 340H625.3M632.2 338.7H634M640.8 325.2H642.6M649.5 325.9H651.3" fill="none" stroke="#1d9a80" stroke-width="0.4"/>
<path d="M400.4 329.2H402.2M409.1 328.3H410.9M417.7 328.9H419.5M426.4 328.7H428.2M435 332.4H436.8M443.7 327.6H445.5M452.4 326.8H454.1M461 331.8H462.8M469.7 328.5H471.5M478.3 326.8H480.1M487 334.1H488.8M495.6 329.5H497.4M504.3 327.8H506.1M512.9 327.2H514.7M521.6 330.8H523.4M530.3 333.1H532M538.9 334H540.7M547.6 325.6H549.4M556.2 329.7H558M564.9 325.9H566.7M573.5 334H575.3M582.2 336.8H584M590.8 343.4H592.6M599.5 344.4H601.3M608.1 339.6H609.9M616.8 332.6H618.6M625.5 335.7H627.2M634.1 335.2H635.9M642.8 325.8H644.6M651.4 325.9H653.2" fill="none" stroke="#45548f" stroke-width="0.4"/>
<path d="M395.5 342.6h0M395.5 341.8h0M412.8 321.3h0M412.8 318.2h0M430.1 322.3h0M438.8 338.1h0M447.4 316.4h0M456.1 326h0M473.4 333.9h0M473.4 332h0M499.3 338.3h0M499.3 339.6h0M508 318.4h0M508 320.2h0M516.6 348h0M534 329h0M534 327h0M551.3 333.9h0M551.3 323.9h0M577.2 329.1h0M577.2 344.5h0M585.9 349.6h0M594.5 338.9h0M603.2 346.6h0M620.5 330.2h0M620.5 343.7h0M629.2 345.4h0M637.8 337.4h0M637.8 338.2h0M646.5 336.7h0" fill="none" stroke="#e4694f" stroke-width="0.9" stroke-linecap="round" opacity="0.7"/>
<path d="M397.4 318h0M406.1 336.8h0M423.4 320.7h0M449.4 337.6h0M449.4 319h0M458 330h0M458 331.3h0M466.7 318.7h0M492.6 320.1h0M501.3 323.1h0M509.9 319.7h0M509.9 335h0M527.3 344h0M544.6 337.8h0M544.6 318.1h0M570.5 319.5h0M596.5 341.6h0M605.1 347.9h0M605.1 346.7h0M613.8 340.4h0M622.5 345.5h0M631.1 329.5h0M631.1 330h0M639.8 330.6h0M639.8 333.7h0M648.4 319.6h0M648.4 318.3h0" fill="none" stroke="#6cc0d8" stroke-width="0.9" stroke-linecap="round" opacity="0.7"/>
<path d="M408 320.6h0M408 340.3h0M425.3 336.6h0M442.6 335.8h0M442.6 336.7h0M451.3 337.8h0M460 348.9h0M468.6 322.1h0M477.3 313.1h0M477.3 313.9h0M494.6 347.3h0M503.2 341.5h0M520.5 321.7h0M529.2 312.3h0M537.9 348.2h0M537.9 348.2h0M555.2 344.2h0M581.1 324.1h0M581.1 348h0M598.4 350.4h0M607.1 323.6h0M624.4 346.3h0M624.4 346.6h0M633.1 344.1h0M633.1 345.8h0M650.4 320.1h0" fill="none" stroke="#2fa88f" stroke-width="0.9" stroke-linecap="round" opacity="0.7"/>
<path d="M401.3 343.1h0M418.6 317.6h0M418.6 318.6h0M427.3 342.2h0M427.3 318.1h0M435.9 326h0M435.9 338.4h0M444.6 318.3h0M461.9 349.4h0M461.9 349.8h0M470.6 314.8h0M470.6 317.1h0M479.2 335.1h0M496.5 311.8h0M513.8 320.1h0M522.5 317.6h0M531.1 322.5h0M548.5 318.9h0M548.5 330.7h0M557.1 324.6h0M557.1 334.5h0M565.8 318.7h0M565.8 322.2h0M583.1 346.7h0M591.7 349.5h0M591.7 339.5h0M609 331.3h0M609 347.4h0M617.7 319.8h0M617.7 342h0M635 349.7h0M635 321h0M643.7 312.3h0M643.7 311h0M652.3 336.6h0" fill="none" stroke="#55639b" stroke-width="0.9" stroke-linecap="round" opacity="0.7"/>
<path d="M398.4 351.5V352.7M407.1 351.5V352.7M415.7 351.5V352.7M424.4 351.5V352.7M433 351.5V352.7M441.7 351.5V352.7M450.3 351.5V352.7M459 351.5V352.7M467.6 351.5V352.7M476.3 351.5V352.7M484.9 351.5V352.7M493.6 351.5V352.7M502.3 351.5V352.7M510.9 351.5V352.7M519.6 351.5V352.7M528.2 351.5V352.7M536.9 351.5V352.7M545.5 351.5V352.7M554.2 351.5V352.7M562.8 351.5V352.7M571.5 351.5V352.7M580.2 351.5V352.7M588.8 351.5V352.7M597.5 351.5V352.7M606.1 351.5V352.7M614.8 351.5V352.7M623.4 351.5V352.7M632.1 351.5V352.7M640.7 351.5V352.7M649.4 351.5V352.7" fill="none" stroke="#444" stroke-width="0.35"/>
<text x="398.4" y="309.2" font-size="1.9" fill="#888" text-anchor="middle">ns</text>
<text x="407.1" y="309.2" font-size="1.9" fill="#888" text-anchor="middle">ns</text>
<text x="415.7" y="309.2" font-size="1.9" fill="#888" text-anchor="middle">ns</text>
<text x="424.4" y="309.2" font-size="1.9" fill="#888" text-anchor="middle">ns</text>
<text x="433" y="309.2" font-size="1.9" fill="#888" text-anchor="middle">ns</text>
<text x="441.7" y="309.2" font-size="1.9" fill="#888" text-anchor="middle">ns</text>
<text x="450.3" y="309.2" font-size="1.9" fill="#888" text-anchor="middle">ns</text>
<text x="459" y="309.9" font-size="3" fill="#333" text-anchor="middle">****</text>
<text x="467.6" y="309.9" font-size="3" fill="#333" text-anchor="middle">****</text>
<text x="476.3" y="309.9" font-size="3" fill="#333" text-anchor="middle">*</text>
<text x="484.9" y="309.2" font-size="1.9" fill="#888" text-anchor="middle">ns</text>
<text x="493.6" y="309.2" font-size="1.9" fill="#888" text-anchor="middle">ns</text>
<text x="502.3" y="309.9" font-size="3" fill="#333" text-anchor="middle">***</text>
<text x="510.9" y="309.2" font-size="1.9" fill="#888" text-anchor="middle">ns</text>
<text x="519.6" y="309.2" font-size="1.9" fill="#888" text-anchor="middle">ns</text>
<text x="528.2" y="309.2" font-size="1.9" fill="#888" text-anchor="middle">ns</text>
<text x="536.9" y="309.9" font-size="3" fill="#333" text-anchor="middle">***</text>
<text x="545.5" y="309.2" font-size="1.9" fill="#888" text-anchor="middle">ns</text>
<text x="554.2" y="309.2" font-size="1.9" fill="#888" text-anchor="middle">ns</text>
<text x="562.8" y="309.9" font-size="3" fill="#333" text-anchor="middle">***</text>
<text x="571.5" y="309.2" font-size="1.9" fill="#888" text-anchor="middle">ns</text>
<text x="580.2" y="309.2" font-size="1.9" fill="#888" text-anchor="middle">ns</text>
<text x="588.8" y="309.2" font-size="1.9" fill="#888" text-anchor="middle">ns</text>
<text x="597.5" y="309.2" font-size="1.9" fill="#888" text-anchor="middle">ns</text>
<text x="606.1" y="309.2" font-size="1.9" fill="#888" text-anchor="middle">ns</text>
<text x="614.8" y="309.9" font-size="3" fill="#333" text-anchor="middle">*</text>
<text x="623.4" y="309.9" font-size="3" fill="#333" text-anchor="middle">*</text>
<text x="632.1" y="309.2" font-size="1.9" fill="#888" text-anchor="middle">ns</text>
<text x="640.7" y="309.2" font-size="1.9" fill="#888" text-anchor="middle">ns</text>
<text x="649.4" y="309.2" font-size="1.9" fill="#888" text-anchor="middle">ns</text>
<text x="399.6" y="354.5" font-size="3" fill="#555" text-anchor="end" transform="rotate(-45 399.6 354.5)">CESC(Stage I=131, Stage II=313, Sta)</text>
<text x="408.3" y="354.5" font-size="3" fill="#555" text-anchor="end" transform="rotate(-45 408.3 354.5)">CHOL(Stage I=319, Stage II=252,)</text>
<text x="416.9" y="354.5" font-size="3" fill="#555" text-anchor="end" transform="rotate(-45 416.9 354.5)">COAD(Stage I=320, Stage II=16, Stage I)</text>
<text x="425.6" y="354.5" font-size="3" fill="#555" text-anchor="end" transform="rotate(-45 425.6 354.5)">DLBC(Stage I=129, Stage II=108, Stage )</text>
<text x="434.2" y="354.5" font-size="3" fill="#555" text-anchor="end" transform="rotate(-45 434.2 354.5)">ESCA(Stage I=291, Stage II=253, )</text>
<text x="442.9" y="354.5" font-size="3" fill="#555" text-anchor="end" transform="rotate(-45 442.9 354.5)">GBM(Stage I=128, Stage II=335, Stage)</text>
<text x="451.5" y="354.5" font-size="3" fill="#555" text-anchor="end" transform="rotate(-45 451.5 354.5)">HNSC(Stage I=389, Stage II=17, S)</text>
<text x="460.2" y="354.5" font-size="3" fill="#555" text-anchor="end" transform="rotate(-45 460.2 354.5)">KICH(Stage I=398, Stage II=312)</text>
<text x="468.8" y="354.5" font-size="3" fill="#555" text-anchor="end" transform="rotate(-45 468.8 354.5)">KIRC(Stage I=147, Stage II=252, Stag)</text>
<text x="477.5" y="354.5" font-size="3" fill="#555" text-anchor="end" transform="rotate(-45 477.5 354.5)">KIRP(Stage I=375, Stage II=228, Stage I)</text>
<text x="486.1" y="354.5" font-size="3" fill="#555" text-anchor="end" transform="rotate(-45 486.1 354.5)">LAML(Stage I=237, Stage II=78,)</text>
<text x="494.8" y="354.5" font-size="3" fill="#555" text-anchor="end" transform="rotate(-45 494.8 354.5)">LGG(Stage I=79, Stage II=263, Stage III=)</text>
<text x="503.5" y="354.5" font-size="3" fill="#555" text-anchor="end" transform="rotate(-45 503.5 354.5)">LIHC(Stage I=233, Stage II=330, Stage )</text>
<text x="512.1" y="354.5" font-size="3" fill="#555" text-anchor="end" transform="rotate(-45 512.1 354.5)">LUAD(Stage I=207, Stage II=303, Stage I)</text>
<text x="520.8" y="354.5" font-size="3" fill="#555" text-anchor="end" transform="rotate(-45 520.8 354.5)">LUSC(Stage I=218, Stage II=309, Stage II)</text>
<text x="529.4" y="354.5" font-size="3" fill="#555" text-anchor="end" transform="rotate(-45 529.4 354.5)">MESO(Stage I=24, Stage II=153, S)</text>
<text x="538.1" y="354.5" font-size="3" fill="#555" text-anchor="end" transform="rotate(-45 538.1 354.5)">OV(Stage I=367, Stage II=177, Stage III)</text>
<text x="546.7" y="354.5" font-size="3" fill="#555" text-anchor="end" transform="rotate(-45 546.7 354.5)">PAAD(Stage I=63, Stage II=375, Stage III)</text>
<text x="555.4" y="354.5" font-size="3" fill="#555" text-anchor="end" transform="rotate(-45 555.4 354.5)">PCPG(Stage I=303, Stage II=146,)</text>
<text x="564" y="354.5" font-size="3" fill="#555" text-anchor="end" transform="rotate(-45 564 354.5)">PRAD(Stage I=256, Stage II=337, Sta)</text>
<text x="572.7" y="354.5" font-size="3" fill="#555" text-anchor="end" transform="rotate(-45 572.7 354.5)">READ(Stage I=44, Stage II=220, Sta)</text>
<text x="581.4" y="354.5" font-size="3" fill="#555" text-anchor="end" transform="rotate(-45 581.4 354.5)">SARC(Stage I=228, Stage II=222, Stage I)</text>
<text x="590" y="354.5" font-size="3" fill="#555" text-anchor="end" transform="rotate(-45 590 354.5)">SKCM(Stage I=324, Stage II=399, Stage I)</text>
<text x="598.7" y="354.5" font-size="3" fill="#555" text-anchor="end" transform="rotate(-45 598.7 354.5)">STAD(Stage I=179, Stage II=292, S)</text>
<text x="607.3" y="354.5" font-size="3" fill="#555" text-anchor="end" transform="rotate(-45 607.3 354.5)">TGCT(Stage I=28, Stage II=168, )</text>
<text x="616" y="354.5" font-size="3" fill="#555" text-anchor="end" transform="rotate(-45 616 354.5)">THCA(Stage I=317, Stage II=284, Stag)</text>
<text x="624.6" y="354.5" font-size="3" fill="#555" text-anchor="end" transform="rotate(-45 624.6 354.5)">THYM(Stage I=159, Stage II=322)</text>
<text x="633.3" y="354.5" font-size="3" fill="#555" text-anchor="end" transform="rotate(-45 633.3 354.5)">UCEC(Stage I=183, Stage II=170, Stag)</text>
<text x="641.9" y="354.5" font-size="3" fill="#555" text-anchor="end" transform="rotate(-45 641.9 354.5)">UCS(Stage I=202, Stage II=245, Stage III)</text>
<text x="650.6" y="354.5" font-size="3" fill="#555" text-anchor="end" transform="rotate(-45 650.6 354.5)">UVM(Stage I=314, Stage II=358, Stage II)</text>
<text x="661" y="307.2" font-size="3" fill="#333">Stage</text>
<path d="M662.7 311.8h0" fill="none" stroke="#e64b35" stroke-width="3.2" stroke-linecap="round"/>
<text x="665" y="312.9" font-size="3.1" fill="#333" font-family="Liberation Serif">Stage II</text>
<path d="M662.7 317.2h0" fill="none" stroke="#4dbbd5" stroke-width="3.2" stroke-linecap="round"/>
<text x="665" y="318.3" font-size="3.1" fill="#333" font-family="Liberation Serif">Stage I</text>
<path d="M662.7 322.3h0" fill="none" stroke="#00a087" stroke-width="3.2" stroke-linecap="round"/>
<text x="665" y="323.4" font-size="3.1" fill="#333" font-family="Liberation Serif">Stage III</text>
<path d="M662.7 327.9h0" fill="none" stroke="#3c5488" stroke-width="3.2" stroke-linecap="round"/>
<text x="665" y="329" font-size="3.1" fill="#333" font-family="Liberation Serif">Stage IV</text>
<text x="363.8" y="409" font-size="6" fill="#333">I</text>
<path d="M393.2 412.8H656.9" fill="none" stroke="#ececec" stroke-width="0.5"/>
<path d="M393.2 425.4H656.9" fill="none" stroke="#bdbdbd" stroke-width="0.5"/>
<path d="M393.2 437.7H656.9M393.2 450.4H656.9M393.2 463.3H656.9" fill="none" stroke="#ececec" stroke-width="0.5"/>
<path d="M404.8 411V464.3M423.1 411V464.3M441.4 411V464.3M459.8 411V464.3M478.1 411V464.3M496.4 411V464.3M514.7 411V464.3M533 411V464.3M551.4 411V464.3M569.7 411V464.3M588 411V464.3M606.3 411V464.3M624.6 411V464.3M643 411V464.3" fill="none" stroke="#e6e6e6" stroke-width="0.5"/>
<path d="M656.9 411V464.3" fill="none" stroke="#d6d6d6" stroke-width="0.5"/>
<path d="M393.5 411V464.3" fill="none" stroke="#333" stroke-width="1.1"/>
<path d="M393.2 464.5H656.9" fill="none" stroke="#777" stroke-width="0.9"/>
<path d="M392 412.8H393.2" fill="none" stroke="#444" stroke-width="0.35"/>
<text x="391.5" y="413.8" font-size="2.9" fill="#444" text-anchor="end">10</text>
<path d="M392 425.4H393.2" fill="none" stroke="#444" stroke-width="0.35"/>
<text x="391.5" y="426.4" font-size="2.9" fill="#444" text-anchor="end">5</text>
<path d="M392 437.7H393.2" fill="none" stroke="#444" stroke-width="0.35"/>
<text x="391.5" y="438.7" font-size="2.9" fill="#444" text-anchor="end">0</text>
<path d="M392 450.4H393.2" fill="none" stroke="#444" stroke-width="0.35"/>
<text x="391.5" y="451.4" font-size="2.9" fill="#444" text-anchor="end">-5</text>
<path d="M392 463.3H393.2" fill="none" stroke="#444" stroke-width="0.35"/>
<text x="391.5" y="464.3" font-size="2.9" fill="#444" text-anchor="end">-10</text>
<text x="386.2" y="437.6" font-size="3.1" fill="#333" text-anchor="middle" transform="rotate(-90 386.2 437.6)">Expression</text>
<path d="M400.9 427.1V433.6M400.9 436.7V441.4M419.2 427.1V433.6M419.2 436.7V441.4M436.2 421.9V425.4M436.2 429.1V431.4M454.5 422.4V425M454.5 428.5V431.6M472.8 420.3V424.4M472.8 427.1V433.6M490.5 424.7V426.7M490.5 429.5V431.1M509.5 423.4V426.2M509.5 429.1V431.6M527.8 424.7V428.6M527.8 433.5V436.4M545.5 424.2V425.8M545.5 428.6V429.8M563.8 425.6V426.9M563.8 429.5V431.1M582.1 425V426.9M582.1 431.7V434.4M601.1 424.5V425.1M601.1 426.5V427.1M620.7 424.3V426.9M620.7 432.4V463.7M639 420.4V423.6M639 426.9V429.3" fill="none" stroke="#e4694f" stroke-width="0.45" opacity="0.75"/>
<path d="M408.7 427.9V434M408.7 437.1V440.8M427.1 428V434.2M427.1 437.1V440.5M441.4 422.9V425.8M441.4 429.5V432.3M459.8 423.4V425M459.8 428.1V430.2M478.1 422.4V425M478.1 428.1V435.7M494.4 425.6V426.7M494.4 428.7V429.6M514.7 425.8V426.9M514.7 429.1V431.2M533 426.1V429.1M533 432.4V434.3M549.4 423.7V426.2M549.4 429.1V431.6M567.7 425.7V426.9M567.7 428.6V430.2M586 424.3V427.3M586 430.8V433.7M606.3 424V425.4M606.3 426.9V427.8M628.6 421.1V426.9M628.6 432.8V437.5M646.9 421.1V423.2M646.9 427.3V430.3" fill="none" stroke="#6cc0d8" stroke-width="0.45" opacity="0.75"/>
<path d="M446.7 425.8V426.9M446.7 429.1V430M465 422.7V425M465 427.5V429.9M483.3 424.2V425.4M483.3 427.9V430.2M498.4 423.9V425.7M498.4 428.7V430M520 425.6V427.3M520 429.1V430M538.3 425V427.6M538.3 430.6V432M553.3 425.2V426.9M553.3 429.5V430.7M571.6 424.5V426.2M571.6 428.6V430.7M590 423.6V429.1M590 431.9V435.7M611.6 423V426.2M611.6 430.2V433.8" fill="none" stroke="#2fa88f" stroke-width="0.45" opacity="0.75"/>
<path d="M502.3 422V424.8M502.3 428.5V430M557.3 425.3V426.9M557.3 429.5V431.4M575.6 423.7V425.8M575.6 428.4V430.4M593.9 423.6V425.1M593.9 431.3V435.7" fill="none" stroke="#55639b" stroke-width="0.45" opacity="0.75"/>
<rect x="397.2" y="433.6" width="7.2" height="3.1" fill="#ea8e74"/>
<rect x="405.1" y="434" width="7.2" height="3.1" fill="#9cd2e2"/>
<rect x="415.6" y="433.6" width="7.2" height="3.1" fill="#ea8e74"/>
<rect x="423.4" y="434.2" width="7.2" height="2.9" fill="#9cd2e2"/>
<rect x="433.8" y="425.4" width="4.8" height="3.7" fill="#ea8e74"/>
<rect x="439" y="425.8" width="4.8" height="3.7" fill="#9cd2e2"/>
<rect x="444.3" y="426.9" width="4.8" height="2.2" fill="#6dbda9"/>
<rect x="452.1" y="425" width="4.8" height="3.5" fill="#ea8e74"/>
<rect x="457.3" y="425" width="4.8" height="3.1" fill="#9cd2e2"/>
<rect x="462.6" y="425" width="4.8" height="2.5" fill="#6dbda9"/>
<rect x="470.4" y="424.4" width="4.8" height="2.7" fill="#ea8e74"/>
<rect x="475.7" y="425" width="4.8" height="3.1" fill="#9cd2e2"/>
<rect x="480.9" y="425.4" width="4.8" height="2.5" fill="#6dbda9"/>
<rect x="488.7" y="426.7" width="3.6" height="2.8" fill="#ea8e74"/>
<rect x="492.6" y="426.7" width="3.6" height="2" fill="#9cd2e2"/>
<rect x="496.6" y="425.7" width="3.6" height="3" fill="#6dbda9"/>
<rect x="500.5" y="424.8" width="3.6" height="3.7" fill="#8289bb"/>
<rect x="507.1" y="426.2" width="4.8" height="2.9" fill="#ea8e74"/>
<rect x="512.3" y="426.9" width="4.8" height="2.2" fill="#9cd2e2"/>
<rect x="517.6" y="427.3" width="4.8" height="1.8" fill="#6dbda9"/>
<rect x="525.4" y="428.6" width="4.8" height="4.9" fill="#ea8e74"/>
<rect x="530.6" y="429.1" width="4.8" height="3.3" fill="#9cd2e2"/>
<rect x="535.9" y="427.6" width="4.8" height="3" fill="#6dbda9"/>
<rect x="543.6" y="425.8" width="3.6" height="2.8" fill="#ea8e74"/>
<rect x="547.6" y="426.2" width="3.6" height="2.9" fill="#9cd2e2"/>
<rect x="551.5" y="426.9" width="3.6" height="2.6" fill="#6dbda9"/>
<rect x="555.5" y="426.9" width="3.6" height="2.6" fill="#8289bb"/>
<rect x="562" y="426.9" width="3.6" height="2.6" fill="#ea8e74"/>
<rect x="565.9" y="426.9" width="3.6" height="1.7" fill="#9cd2e2"/>
<rect x="569.8" y="426.2" width="3.6" height="2.4" fill="#6dbda9"/>
<rect x="573.8" y="425.8" width="3.6" height="2.6" fill="#8289bb"/>
<rect x="580.3" y="426.9" width="3.6" height="4.8" fill="#ea8e74"/>
<rect x="584.2" y="427.3" width="3.6" height="3.5" fill="#9cd2e2"/>
<rect x="588.2" y="429.1" width="3.6" height="2.8" fill="#6dbda9"/>
<rect x="592.1" y="425.1" width="3.6" height="6.2" fill="#8289bb"/>
<rect x="598.7" y="425.1" width="4.8" height="1.4" fill="#ea8e74"/>
<rect x="603.9" y="425.4" width="4.8" height="1.5" fill="#9cd2e2"/>
<rect x="609.2" y="426.2" width="4.8" height="4" fill="#6dbda9"/>
<rect x="617.1" y="426.9" width="7.2" height="5.5" fill="#ea8e74"/>
<rect x="625" y="426.9" width="7.2" height="5.9" fill="#9cd2e2"/>
<rect x="635.4" y="423.6" width="7.2" height="3.3" fill="#ea8e74"/>
<rect x="643.3" y="423.2" width="7.2" height="4.1" fill="#9cd2e2"/>
<path d="M397.2 435H404.5M415.6 435.4H422.8M433.8 427.4H438.6M452.1 426.9H456.9M470.4 425.6H475.2M488.7 428.4H492.3M507.1 427.8H511.9M525.4 431.6H530.2M543.6 427.3H547.3M562 427.9H565.6M580.3 429.4H583.9M598.7 425.8H603.5M617.1 429.2H624.3M635.4 425.7H642.6" fill="none" stroke="#dd5a3e" stroke-width="0.4"/>
<path d="M405.1 435.5H412.4M423.4 435.6H430.7M439 427.3H443.9M457.3 426.4H462.2M475.7 426.2H480.5M492.6 427.8H496.2M512.3 428.1H517.1M530.6 431H535.5M547.6 427.7H551.2M565.9 427.6H569.5M584.2 429.3H587.8M603.9 426.1H608.7M625 429H632.2M643.3 425.1H650.5" fill="none" stroke="#4fb3cf" stroke-width="0.4"/>
<path d="M444.3 428.1H449.1M462.6 426.5H467.4M480.9 426.8H485.7M496.6 427.2H500.2M517.6 428.2H522.4M535.9 429.3H540.7M551.5 428H555.1M569.8 427.1H573.5M588.2 430.2H591.8M609.2 428H614" fill="none" stroke="#1d9a80" stroke-width="0.4"/>
<path d="M500.5 426.3H504.1M555.5 428.2H559.1M573.8 427.2H577.4M592.1 428.9H595.7" fill="none" stroke="#45548f" stroke-width="0.4"/>
<path d="M400.9 425.4h0M400.9 444.4h0M419.2 425.7h0M419.2 444.2h0M436.2 419.8h0M436.2 418.6h0M472.8 416.5h0M472.8 434.8h0M490.5 432.4h0M509.5 435.6h0M527.8 438.6h0M545.5 431.6h0M582.1 436.5h0M601.1 419.7h0M601.1 431.3h0M639 416.9h0M639 433.1h0" fill="none" stroke="#e4694f" stroke-width="0.9" stroke-linecap="round" opacity="0.7"/>
<path d="M408.7 441.9h0M441.4 420.7h0M441.4 421.4h0M478.1 420.5h0M478.1 417.9h0M494.4 422.5h0M533 422.5h0M533 438.1h0M549.4 435.9h0M586 422.4h0M628.6 439.5h0M628.6 441.4h0" fill="none" stroke="#6cc0d8" stroke-width="0.9" stroke-linecap="round" opacity="0.7"/>
<path d="M446.7 421.4h0M483.3 421h0M498.4 432.8h0M520 423.8h0M520 421.3h0M553.3 435.6h0M553.3 432.1h0" fill="none" stroke="#2fa88f" stroke-width="0.9" stroke-linecap="round" opacity="0.7"/>
<path d="M502.3 432.6h0M575.6 421.9h0M593.9 438.8h0M593.9 421.2h0" fill="none" stroke="#55639b" stroke-width="0.9" stroke-linecap="round" opacity="0.7"/>
<path d="M404.8 464.3V465.5M423.1 464.3V465.5M441.4 464.3V465.5M459.8 464.3V465.5M478.1 464.3V465.5M496.4 464.3V465.5M514.7 464.3V465.5M533 464.3V465.5M551.4 464.3V465.5M569.7 464.3V465.5M588 464.3V465.5M606.3 464.3V465.5M624.6 464.3V465.5M643 464.3V465.5" fill="none" stroke="#444" stroke-width="0.35"/>
<text x="404.8" y="414.8" font-size="3" fill="#333" text-anchor="middle">****</text>
<text x="423.1" y="414.8" font-size="3" fill="#333" text-anchor="middle">****</text>
<text x="441.4" y="414.8" font-size="3" fill="#333" text-anchor="middle">*</text>
<text x="459.8" y="414.8" font-size="3" fill="#333" text-anchor="middle">*</text>
<text x="478.1" y="414.8" font-size="3" fill="#333" text-anchor="middle">***</text>
<text x="496.4" y="414.8" font-size="3" fill="#333" text-anchor="middle">***</text>
<text x="514.7" y="414.8" font-size="3" fill="#333" text-anchor="middle">***</text>
<text x="533" y="414.8" font-size="3" fill="#333" text-anchor="middle">*</text>
<text x="551.4" y="414.8" font-size="3" fill="#333" text-anchor="middle">**</text>
<text x="569.7" y="414.8" font-size="3" fill="#333" text-anchor="middle">***</text>
<text x="588" y="414.8" font-size="3" fill="#333" text-anchor="middle">*</text>
<text x="606.3" y="414.8" font-size="3" fill="#333" text-anchor="middle">****</text>
<text x="624.6" y="414.8" font-size="3" fill="#333" text-anchor="middle">*</text>
<text x="643" y="414.8" font-size="3" fill="#333" text-anchor="middle">*</text>
<text x="406" y="467.3" font-size="3" fill="#555" text-anchor="end" transform="rotate(-45 406 467.3)">HNSC(Stage I=247, S)</text>
<text x="424.3" y="467.3" font-size="3" fill="#555" text-anchor="end" transform="rotate(-45 424.3 467.3)">KICH(Stage I=105, Stage I)</text>
<text x="442.6" y="467.3" font-size="3" fill="#555" text-anchor="end" transform="rotate(-45 442.6 467.3)">KIRC(Stage I=247, Stage I)</text>
<text x="461" y="467.3" font-size="3" fill="#555" text-anchor="end" transform="rotate(-45 461 467.3)">KIRP(Stage I=325, Stage)</text>
<text x="479.3" y="467.3" font-size="3" fill="#555" text-anchor="end" transform="rotate(-45 479.3 467.3)">LAML(Stage I=96, Stage )</text>
<text x="497.6" y="467.3" font-size="3" fill="#555" text-anchor="end" transform="rotate(-45 497.6 467.3)">LGG(Stage I=90, St)</text>
<text x="515.9" y="467.3" font-size="3" fill="#555" text-anchor="end" transform="rotate(-45 515.9 467.3)">LIHC(Stage I=77, Stage )</text>
<text x="534.2" y="467.3" font-size="3" fill="#555" text-anchor="end" transform="rotate(-45 534.2 467.3)">LUAD(Stage I=392, Stage II=)</text>
<text x="552.6" y="467.3" font-size="3" fill="#555" text-anchor="end" transform="rotate(-45 552.6 467.3)">LUSC(Stage I=124, Sta)</text>
<text x="570.9" y="467.3" font-size="3" fill="#555" text-anchor="end" transform="rotate(-45 570.9 467.3)">MESO(Stage I=117,)</text>
<text x="589.2" y="467.3" font-size="3" fill="#555" text-anchor="end" transform="rotate(-45 589.2 467.3)">OV(Stage I=112, S)</text>
<text x="607.5" y="467.3" font-size="3" fill="#555" text-anchor="end" transform="rotate(-45 607.5 467.3)">PAAD(Stage I=203, St)</text>
<text x="625.8" y="467.3" font-size="3" fill="#555" text-anchor="end" transform="rotate(-45 625.8 467.3)">PCPG(Stage I=227,)</text>
<text x="644.2" y="467.3" font-size="3" fill="#555" text-anchor="end" transform="rotate(-45 644.2 467.3)">PRAD(Stage I=72, Stage)</text>
<text x="660" y="412" font-size="3" fill="#333">Grade</text>
<path d="M661.7 416.5h0" fill="none" stroke="#e64b35" stroke-width="3.2" stroke-linecap="round"/>
<text x="664" y="417.6" font-size="3.1" fill="#333" font-family="Liberation Serif">G1</text>
<path d="M661.7 421.3h0" fill="none" stroke="#4dbbd5" stroke-width="3.2" stroke-linecap="round"/>
<text x="664" y="422.4" font-size="3.1" fill="#333" font-family="Liberation Serif">G2</text>
<path d="M661.7 426.2h0" fill="none" stroke="#00a087" stroke-width="3.2" stroke-linecap="round"/>
<text x="664" y="427.3" font-size="3.1" fill="#333" font-family="Liberation Serif">G3</text>
<path d="M661.7 431h0" fill="none" stroke="#3c5488" stroke-width="3.2" stroke-linecap="round"/>
<text x="664" y="432.1" font-size="3.1" fill="#333" font-family="Liberation Serif">G4</text>
<text x="363.8" y="503.5" font-size="6" fill="#333">J</text>
<path d="M391 511.8H655.2" fill="none" stroke="#bdbdbd" stroke-width="0.5"/>
<path d="M391 521H655.2" fill="none" stroke="#ececec" stroke-width="0.5"/>
<path d="M391 531.1H655.2M391 541.4H655.2M391 551.2H655.2" fill="none" stroke="#bdbdbd" stroke-width="0.5"/>
<path d="M400.5 509.4V554M410.3 509.4V554M420.1 509.4V554M429.9 509.4V554M439.7 509.4V554M449.5 509.4V554M459.3 509.4V554M469.1 509.4V554M478.9 509.4V554M488.7 509.4V554M498.5 509.4V554M508.3 509.4V554M518.1 509.4V554M527.9 509.4V554M537.7 509.4V554M547.5 509.4V554M557.3 509.4V554M567.1 509.4V554M576.9 509.4V554M586.7 509.4V554M596.5 509.4V554M606.3 509.4V554M616.1 509.4V554M625.9 509.4V554M635.7 509.4V554M645.5 509.4V554" fill="none" stroke="#dcdcdc" stroke-width="0.5"/>
<path d="M655.2 509.4V554" fill="none" stroke="#d6d6d6" stroke-width="0.5"/>
<path d="M391.5 509.4V554" fill="none" stroke="#e0e0e0" stroke-width="0.6"/>
<path d="M391 554.5H655.2" fill="none" stroke="#8a7f76" stroke-width="0.9"/>
<path d="M389.8 511.8H391" fill="none" stroke="#444" stroke-width="0.35"/>
<text x="389.3" y="512.8" font-size="2.9" fill="#444" text-anchor="end">8</text>
<path d="M389.8 521H391" fill="none" stroke="#444" stroke-width="0.35"/>
<text x="389.3" y="522" font-size="2.9" fill="#444" text-anchor="end">6</text>
<path d="M389.8 531.1H391" fill="none" stroke="#444" stroke-width="0.35"/>
<text x="389.3" y="532.1" font-size="2.9" fill="#444" text-anchor="end">4</text>
<path d="M389.8 541.4H391" fill="none" stroke="#444" stroke-width="0.35"/>
<text x="389.3" y="542.4" font-size="2.9" fill="#444" text-anchor="end">2</text>
<path d="M389.8 551.2H391" fill="none" stroke="#444" stroke-width="0.35"/>
<text x="389.3" y="552.2" font-size="2.9" fill="#444" text-anchor="end">0</text>
<text x="384" y="531.7" font-size="3.1" fill="#333" text-anchor="middle" transform="rotate(-90 384 531.7)">Expression</text>
<path d="M397.1 523V528.3M397.1 533.5V543.4M406.9 526V528.3M406.9 533.5V538M416.7 525V528.3M416.7 531.5V538.8M426.5 525.4V528.3M426.5 532.2V534.7M436.3 531.4V533.5M436.3 538.1V542.5M446.1 521V526.9M446.1 531.5V539.4M455.9 524.9V526.9M455.9 530.9V533.3M466.1 528.3V537.5M466.1 548.6H466.1M475.5 523.2V530.2M475.5 542.7V552M485.3 518.4V526.3M485.3 531.5V543.4M495.1 534.9V537.5M495.1 540.7V543.6M504.9 521V527.6M504.9 534.2V541.4M514.7 525.5V528.3M514.7 533.5V535.7M524.5 522.3V528.9M524.5 533.5V543.4M534.3 525.9V530.2M534.3 536.8V543.1M544.1 533.3V535.5M544.1 539.4V542.5M553.9 523.8V526.3M553.9 531.5V535.2M563.7 525.6V528.9M563.7 536.1V541.4M573.5 524.3V527.6M573.5 531.5V543.4M583.7 534.7V536.8M583.7 541.4V545.6M593.1 536.1H593.1M593.1 545.3V549.3M602.9 546.4V547.3M602.9 548.9V549.7M612.7 517.1V530.2M612.7 540.1V548.6M622.5 536.9V539M622.5 543.8V546.5M632.7 535.1V539.4M632.7 544.7V545.9M642.5 517.2V523M642.5 533.5V537.9" fill="none" stroke="#e4694f" stroke-width="0.45" opacity="0.75"/>
<path d="M399.4 520.2V526.3M399.4 534.2V537.4M409.2 525V528.9M409.2 532.9V536M419 527.3V528.9M419 531.5V533.8M428.8 527.7V528.9M428.8 531.5V534.1M438.6 529.7V532.9M438.6 537.5V540.3M448.4 525.4V527.6M448.4 531.5V533.2M458.2 524.2V526.9M458.2 530.9V532.7M469.1 534.6V540.1M469.1 546V550.8M477.8 522V530.9M477.8 542V547.1M487.6 523.4V526.9M487.6 531.5V534.5M497.4 535.5V537.5M497.4 539.4V540.3M507.2 525.4V528.3M507.2 531.5V534.6M517 527.8V529.6M517 533.5V535.8M526.8 525.7V528.9M526.8 533.5V538M536.6 528.2V531.5M536.6 537.5V543.1M546.4 531V534.8M546.4 538.8V541.5M556.2 519.5V526.3M556.2 533.5V539.1M566 528V529.6M566 532.2V534.6M575.8 524.8V526.9M575.8 529.6V531.3M586.7 528.3V535.5M586.7 539.4V548M595.4 538.1V540.7M595.4 545.3V547.3M605.2 546.2V547.3M605.2 549.3V550.6M615 528V532.9M615 538.1V542.7M624.8 535.7V537.5M624.8 540.7V542.7M635.7 538V539M635.7 541.5V543.1M645.5 519.1V523M645.5 529.8V536.4" fill="none" stroke="#6cc0d8" stroke-width="0.45" opacity="0.75"/>
<path d="M401.6 522.6V526.9M401.6 534.8V540.8M411.4 522.3V527.6M411.4 532.9V539.4M421.2 526.7V528.6M421.2 531.5V534.4M431 522.3V528.6M431 532.2V546M440.8 530.2V533.5M440.8 538.1V542.4M450.6 520.4V526.3M450.6 531.5V539.4M460.4 520.4V525.6M460.4 530.9V535.7M472.1 523V533.5M472.1 542V548.6M480 524.7V528.9M480 536.1V542.3M489.8 517.1V526.3M489.8 530.2V539.4M499.6 535.6V537.2M499.6 539.4V540.9M509.4 524V526.9M509.4 533.5V537.6M519.2 522.6V527.6M519.2 532.9V537.9M529 520.7V526.9M529 533.5V539.1M538.8 517.1V530.2M538.8 538.1V545.3M548.6 532.6V535.5M548.6 538.8V540.4M558.4 521V525M558.4 533.5V543.4M568.2 525.1V528.9M568.2 532.9V536.5M578 520.4V526.3M578 530.2V542.7M589.7 531.4V534.2M589.7 539.4V544.6M597.6 537.8V540.7M597.6 545.3V549.3M607.4 534.2V546.6M607.4 549.9H607.4M617.2 517.7V526.9M617.2 537.5V548.6M627 530.7V535.5M627 542V547.2M638.7 536.5V539M638.7 542.8V544.5M648.5 517.8V524.2M648.5 532.2V535.4" fill="none" stroke="#2fa88f" stroke-width="0.45" opacity="0.75"/>
<path d="M403.9 520V525M403.9 532.9V539.8M413.7 521V528.3M413.7 534.2V538.1M423.5 526.9V528.9M423.5 532.2V534.2M433.3 523V528.6M433.3 531.5V546M443.1 530.6V534.2M443.1 538.8V541.9M452.9 522.3V526.3M452.9 531.5V536.5M462.7 520.8V525M462.7 530.9V534.4M482.3 521.3V526.3M482.3 533.5V540.4M492.1 522.1V525M492.1 530.2V533.4M501.9 532.6V536.1M501.9 540.1V542.5M511.7 523.9V528.3M511.7 534.2V537.6M521.5 522.3V525.6M521.5 534.8V538.8M531.3 526.7V528.9M531.3 532.9V535.5M541.1 526.8V529.6M541.1 534.8V538.9M550.9 533.1V534.8M550.9 538.1V540.8M560.7 521V526.3M560.7 530.9V535.5M570.5 526.9V528.9M570.5 532.9V535.7M580.3 526.4V529.6M580.3 533.5V536.3M599.9 527.6V539.4M599.9 544.7V546.6M609.7 544.5V546.3M609.7 549.3V552.1M619.5 527V530.2M619.5 537.5V540.7M629.3 535.7V539.4M629.3 543.4V546.4" fill="none" stroke="#55639b" stroke-width="0.45" opacity="0.75"/>
<rect x="396.1" y="528.3" width="2.1" height="5.3" fill="#ea8e74"/>
<rect x="398.3" y="526.3" width="2.1" height="7.9" fill="#9cd2e2"/>
<rect x="400.6" y="526.9" width="2.1" height="7.9" fill="#6dbda9"/>
<rect x="402.8" y="525" width="2.1" height="7.9" fill="#8289bb"/>
<rect x="405.9" y="528.3" width="2.1" height="5.3" fill="#ea8e74"/>
<rect x="408.1" y="528.9" width="2.1" height="3.9" fill="#9cd2e2"/>
<rect x="410.4" y="527.6" width="2.1" height="5.3" fill="#6dbda9"/>
<rect x="412.6" y="528.3" width="2.1" height="5.9" fill="#8289bb"/>
<rect x="415.7" y="528.3" width="2.1" height="3.3" fill="#ea8e74"/>
<rect x="417.9" y="528.9" width="2.1" height="2.6" fill="#9cd2e2"/>
<rect x="420.2" y="528.6" width="2.1" height="2.9" fill="#6dbda9"/>
<rect x="422.4" y="528.9" width="2.1" height="3.3" fill="#8289bb"/>
<rect x="425.5" y="528.3" width="2.1" height="3.9" fill="#ea8e74"/>
<rect x="427.7" y="528.9" width="2.1" height="2.6" fill="#9cd2e2"/>
<rect x="430" y="528.6" width="2.1" height="3.5" fill="#6dbda9"/>
<rect x="432.2" y="528.6" width="2.1" height="2.9" fill="#8289bb"/>
<rect x="435.3" y="533.5" width="2.1" height="4.6" fill="#ea8e74"/>
<rect x="437.5" y="532.9" width="2.1" height="4.6" fill="#9cd2e2"/>
<rect x="439.8" y="533.5" width="2.1" height="4.6" fill="#6dbda9"/>
<rect x="442" y="534.2" width="2.1" height="4.6" fill="#8289bb"/>
<rect x="445.1" y="526.9" width="2.1" height="4.6" fill="#ea8e74"/>
<rect x="447.3" y="527.6" width="2.1" height="3.9" fill="#9cd2e2"/>
<rect x="449.6" y="526.3" width="2.1" height="5.3" fill="#6dbda9"/>
<rect x="451.8" y="526.3" width="2.1" height="5.3" fill="#8289bb"/>
<rect x="454.9" y="526.9" width="2.1" height="3.9" fill="#ea8e74"/>
<rect x="457.1" y="526.9" width="2.1" height="3.9" fill="#9cd2e2"/>
<rect x="459.4" y="525.6" width="2.1" height="5.3" fill="#6dbda9"/>
<rect x="461.6" y="525" width="2.1" height="5.9" fill="#8289bb"/>
<rect x="464.7" y="537.5" width="2.8" height="11.2" fill="#ea8e74"/>
<rect x="467.7" y="540.1" width="2.8" height="5.9" fill="#9cd2e2"/>
<rect x="470.7" y="533.5" width="2.8" height="8.5" fill="#6dbda9"/>
<rect x="474.5" y="530.2" width="2.1" height="12.5" fill="#ea8e74"/>
<rect x="476.7" y="530.9" width="2.1" height="11.2" fill="#9cd2e2"/>
<rect x="479" y="528.9" width="2.1" height="7.2" fill="#6dbda9"/>
<rect x="481.2" y="526.3" width="2.1" height="7.2" fill="#8289bb"/>
<rect x="484.3" y="526.3" width="2.1" height="5.3" fill="#ea8e74"/>
<rect x="486.5" y="526.9" width="2.1" height="4.6" fill="#9cd2e2"/>
<rect x="488.8" y="526.3" width="2.1" height="3.9" fill="#6dbda9"/>
<rect x="491" y="525" width="2.1" height="5.3" fill="#8289bb"/>
<rect x="494.1" y="537.5" width="2.1" height="3.3" fill="#ea8e74"/>
<rect x="496.3" y="537.5" width="2.1" height="2" fill="#9cd2e2"/>
<rect x="498.6" y="537.2" width="2.1" height="2.2" fill="#6dbda9"/>
<rect x="500.8" y="536.1" width="2.1" height="3.9" fill="#8289bb"/>
<rect x="503.9" y="527.6" width="2.1" height="6.6" fill="#ea8e74"/>
<rect x="506.1" y="528.3" width="2.1" height="3.3" fill="#9cd2e2"/>
<rect x="508.4" y="526.9" width="2.1" height="6.6" fill="#6dbda9"/>
<rect x="510.6" y="528.3" width="2.1" height="5.9" fill="#8289bb"/>
<rect x="513.7" y="528.3" width="2.1" height="5.3" fill="#ea8e74"/>
<rect x="515.9" y="529.6" width="2.1" height="3.9" fill="#9cd2e2"/>
<rect x="518.2" y="527.6" width="2.1" height="5.3" fill="#6dbda9"/>
<rect x="520.4" y="525.6" width="2.1" height="9.2" fill="#8289bb"/>
<rect x="523.5" y="528.9" width="2.1" height="4.6" fill="#ea8e74"/>
<rect x="525.7" y="528.9" width="2.1" height="4.6" fill="#9cd2e2"/>
<rect x="528" y="526.9" width="2.1" height="6.6" fill="#6dbda9"/>
<rect x="530.2" y="528.9" width="2.1" height="3.9" fill="#8289bb"/>
<rect x="533.3" y="530.2" width="2.1" height="6.6" fill="#ea8e74"/>
<rect x="535.5" y="531.5" width="2.1" height="5.9" fill="#9cd2e2"/>
<rect x="537.8" y="530.2" width="2.1" height="7.9" fill="#6dbda9"/>
<rect x="540" y="529.6" width="2.1" height="5.3" fill="#8289bb"/>
<rect x="543.1" y="535.5" width="2.1" height="3.9" fill="#ea8e74"/>
<rect x="545.3" y="534.8" width="2.1" height="3.9" fill="#9cd2e2"/>
<rect x="547.6" y="535.5" width="2.1" height="3.3" fill="#6dbda9"/>
<rect x="549.8" y="534.8" width="2.1" height="3.3" fill="#8289bb"/>
<rect x="552.9" y="526.3" width="2.1" height="5.3" fill="#ea8e74"/>
<rect x="555.1" y="526.3" width="2.1" height="7.2" fill="#9cd2e2"/>
<rect x="557.4" y="525" width="2.1" height="8.5" fill="#6dbda9"/>
<rect x="559.6" y="526.3" width="2.1" height="4.6" fill="#8289bb"/>
<rect x="562.7" y="528.9" width="2.1" height="7.2" fill="#ea8e74"/>
<rect x="564.9" y="529.6" width="2.1" height="2.6" fill="#9cd2e2"/>
<rect x="567.2" y="528.9" width="2.1" height="3.9" fill="#6dbda9"/>
<rect x="569.4" y="528.9" width="2.1" height="3.9" fill="#8289bb"/>
<rect x="572.5" y="527.6" width="2.1" height="3.9" fill="#ea8e74"/>
<rect x="574.7" y="526.9" width="2.1" height="2.6" fill="#9cd2e2"/>
<rect x="577" y="526.3" width="2.1" height="3.9" fill="#6dbda9"/>
<rect x="579.2" y="529.6" width="2.1" height="3.9" fill="#8289bb"/>
<rect x="582.3" y="536.8" width="2.8" height="4.6" fill="#ea8e74"/>
<rect x="585.3" y="535.5" width="2.8" height="3.9" fill="#9cd2e2"/>
<rect x="588.3" y="534.2" width="2.8" height="5.3" fill="#6dbda9"/>
<rect x="592.1" y="536.1" width="2.1" height="9.2" fill="#ea8e74"/>
<rect x="594.3" y="540.7" width="2.1" height="4.6" fill="#9cd2e2"/>
<rect x="596.6" y="540.7" width="2.1" height="4.6" fill="#6dbda9"/>
<rect x="598.8" y="539.4" width="2.1" height="5.3" fill="#8289bb"/>
<rect x="601.9" y="547.3" width="2.1" height="1.6" fill="#ea8e74"/>
<rect x="604.1" y="547.3" width="2.1" height="2" fill="#9cd2e2"/>
<rect x="606.4" y="546.6" width="2.1" height="3.3" fill="#6dbda9"/>
<rect x="608.6" y="546.3" width="2.1" height="3" fill="#8289bb"/>
<rect x="611.7" y="530.2" width="2.1" height="9.9" fill="#ea8e74"/>
<rect x="613.9" y="532.9" width="2.1" height="5.3" fill="#9cd2e2"/>
<rect x="616.2" y="526.9" width="2.1" height="10.5" fill="#6dbda9"/>
<rect x="618.4" y="530.2" width="2.1" height="7.2" fill="#8289bb"/>
<rect x="621.5" y="539" width="2.1" height="4.7" fill="#ea8e74"/>
<rect x="623.7" y="537.5" width="2.1" height="3.3" fill="#9cd2e2"/>
<rect x="626" y="535.5" width="2.1" height="6.6" fill="#6dbda9"/>
<rect x="628.2" y="539.4" width="2.1" height="3.9" fill="#8289bb"/>
<rect x="631.3" y="539.4" width="2.8" height="5.3" fill="#ea8e74"/>
<rect x="634.3" y="539" width="2.8" height="2.5" fill="#9cd2e2"/>
<rect x="637.3" y="539" width="2.8" height="3.8" fill="#6dbda9"/>
<rect x="641.1" y="523" width="2.8" height="10.5" fill="#ea8e74"/>
<rect x="644.1" y="523" width="2.8" height="6.8" fill="#9cd2e2"/>
<rect x="647.1" y="524.2" width="2.8" height="8" fill="#6dbda9"/>
<path d="M396.1 531.3H398.2M405.9 531.5H408M415.7 530H417.8M425.5 529.9H427.6M435.3 535.8H437.4M445.1 529.6H447.2M454.9 528.9H457M464.7 542.6H467.5M474.5 536.8H476.6M484.3 529.6H486.4M494.1 538.9H496.2M503.9 530.3H506M513.7 531.6H515.8M523.5 531H525.6M533.3 533.9H535.4M543.1 537.5H545.2M552.9 529.7H555M562.7 532.6H564.8M572.5 529.9H574.6M582.3 539.6H585.1M592.1 540H594.2M601.9 548.2H604M611.7 534.1H613.8M621.5 541.5H623.6M631.3 542.7H634.1M641.1 527.2H643.9" fill="none" stroke="#dd5a3e" stroke-width="0.4"/>
<path d="M398.3 530.8H400.4M408.1 530.6H410.2M417.9 530.1H420M427.7 530.1H429.8M437.5 534.9H439.6M447.3 529.7H449.4M457.1 528.8H459.2M467.7 543.5H470.5M476.7 534.8H478.8M486.5 529.6H488.6M496.3 538.2H498.4M506.1 530.1H508.2M515.9 531.9H518M525.7 531.9H527.8M535.5 534.4H537.6M545.3 536.7H547.4M555.1 529.7H557.2M564.9 530.7H567M574.7 528.3H576.8M585.3 537.7H588.1M594.3 542.8H596.4M604.1 548.2H606.2M613.9 534.8H616M623.7 539.4H625.8M634.3 540.6H637.1M644.1 525.4H646.9" fill="none" stroke="#4fb3cf" stroke-width="0.4"/>
<path d="M400.6 531.6H402.7M410.4 529.9H412.5M420.2 529.7H422.3M430 530.2H432.1M439.8 535.4H441.9M449.6 529.7H451.7M459.4 528.5H461.5M470.7 537.9H473.5M479 533.1H481.1M488.8 527.7H490.9M498.6 538.4H500.7M508.4 530.4H510.5M518.2 530.2H520.3M528 529.9H530.1M537.8 534.4H539.9M547.6 536.7H549.7M557.4 528.6H559.5M567.2 530.6H569.3M577 527.9H579.1M588.3 537.4H591.1M596.6 542.7H598.7M606.4 548H608.5M616.2 533.2H618.3M626 539.5H628.1M637.3 540.7H640.1M647.1 529.1H649.9" fill="none" stroke="#1d9a80" stroke-width="0.4"/>
<path d="M402.8 529.9H404.9M412.6 531.9H414.7M422.4 530.6H424.5M432.2 530.4H434.3M442 536H444.1M451.8 529.6H453.9M461.6 528.1H463.7M481.2 529.2H483.3M491 527.3H493.1M500.8 538.5H502.9M510.6 530.3H512.7M520.4 530.7H522.5M530.2 531.4H532.3M540 531.8H542.1M549.8 536.4H551.9M559.6 528.6H561.7M569.4 531.2H571.5M579.2 531.2H581.3M598.8 541.9H600.9M608.6 547.4H610.7M618.4 533.4H620.5M628.2 541.1H630.3" fill="none" stroke="#45548f" stroke-width="0.4"/>
<path d="M397.1 519.6h0M397.1 518.2h0M455.9 535.2h0M466.1 526h0M466.1 553h0M485.3 515.2h0M485.3 513.6h0M495.1 545.6h0M495.1 533.5h0M504.9 517.4h0M514.7 537.6h0M514.7 522.1h0M563.7 542.5h0M563.7 545.1h0M573.5 544.5h0M593.1 532.2h0M602.9 552.4h0M612.7 550.3h0M622.5 532.2h0M622.5 532.9h0M642.5 514.1h0M642.5 515.2h0" fill="none" stroke="#e4694f" stroke-width="0.9" stroke-linecap="round" opacity="0.7"/>
<path d="M419 522.7h0M419 524.8h0M428.8 522.9h0M438.6 525.7h0M438.6 544.3h0M448.4 521.3h0M477.8 519.2h0M487.6 521.6h0M497.4 542.6h0M497.4 541.4h0M507.2 535.7h0M517 524.6h0M526.8 523.5h0M526.8 523.1h0M536.6 526.8h0M536.6 526.2h0M546.4 527.8h0M546.4 527.5h0M566 526h0M575.8 522.5h0M575.8 532.6h0M586.7 524.2h0M586.7 523.8h0M595.4 533.8h0M595.4 536.4h0M605.2 544.5h0M615 545.1h0M624.8 545.5h0M624.8 533h0M635.7 536.7h0" fill="none" stroke="#6cc0d8" stroke-width="0.9" stroke-linecap="round" opacity="0.7"/>
<path d="M411.4 519.4h0M411.4 521.3h0M431 547.1h0M431 519.8h0M450.6 541.3h0M480 544.2h0M489.8 543h0M499.6 532.1h0M509.4 540.3h0M529 516.6h0M538.8 514.8h0M558.4 547.1h0M578 515.5h0M597.6 533.8h0M607.4 532.7h0M617.2 552.8h0" fill="none" stroke="#2fa88f" stroke-width="0.9" stroke-linecap="round" opacity="0.7"/>
<path d="M413.7 539.8h0M443.1 544.4h0M443.1 544.1h0M452.9 519.9h0M452.9 538.4h0M462.7 537h0M482.3 516.3h0M492.1 537.9h0M501.9 529.8h0M501.9 528.4h0M521.5 540.3h0M541.1 542.5h0M541.1 524.3h0M560.7 540h0M609.7 541.4h0" fill="none" stroke="#55639b" stroke-width="0.9" stroke-linecap="round" opacity="0.7"/>
<path d="M400.5 554V555.2M410.3 554V555.2M420.1 554V555.2M429.9 554V555.2M439.7 554V555.2M449.5 554V555.2M459.3 554V555.2M469.1 554V555.2M478.9 554V555.2M488.7 554V555.2M498.5 554V555.2M508.3 554V555.2M518.1 554V555.2M527.9 554V555.2M537.7 554V555.2M547.5 554V555.2M557.3 554V555.2M567.1 554V555.2M576.9 554V555.2M586.7 554V555.2M596.5 554V555.2M606.3 554V555.2M616.1 554V555.2M625.9 554V555.2M635.7 554V555.2M645.5 554V555.2" fill="none" stroke="#444" stroke-width="0.35"/>
<text x="400.5" y="511.4" font-size="3" fill="#333" text-anchor="middle">*</text>
<text x="410.3" y="511.4" font-size="3" fill="#333" text-anchor="middle">*</text>
<text x="420.1" y="511.4" font-size="3" fill="#333" text-anchor="middle">*</text>
<text x="429.9" y="510.7" font-size="1.9" fill="#888" text-anchor="middle">ns</text>
<text x="439.7" y="511.4" font-size="3" fill="#333" text-anchor="middle">*</text>
<text x="449.5" y="511.4" font-size="3" fill="#333" text-anchor="middle">*</text>
<text x="459.3" y="511.4" font-size="3" fill="#333" text-anchor="middle">*</text>
<text x="469.1" y="511.4" font-size="3" fill="#333" text-anchor="middle">****</text>
<text x="478.9" y="511.4" font-size="3" fill="#333" text-anchor="middle">****</text>
<text x="488.7" y="511.4" font-size="3" fill="#333" text-anchor="middle">*</text>
<text x="498.5" y="511.4" font-size="3" fill="#333" text-anchor="middle">*</text>
<text x="508.3" y="510.7" font-size="1.9" fill="#888" text-anchor="middle">ns</text>
<text x="518.1" y="511.4" font-size="3" fill="#333" text-anchor="middle">***</text>
<text x="527.9" y="511.4" font-size="3" fill="#333" text-anchor="middle">*</text>
<text x="537.7" y="511.4" font-size="3" fill="#333" text-anchor="middle">*</text>
<text x="547.5" y="511.4" font-size="3" fill="#333" text-anchor="middle">*</text>
<text x="557.3" y="511.4" font-size="3" fill="#333" text-anchor="middle">*</text>
<text x="567.1" y="511.4" font-size="3" fill="#333" text-anchor="middle">*</text>
<text x="576.9" y="511.4" font-size="3" fill="#333" text-anchor="middle">**</text>
<text x="586.7" y="511.4" font-size="3" fill="#333" text-anchor="middle">*</text>
<text x="596.5" y="511.4" font-size="3" fill="#333" text-anchor="middle">*</text>
<text x="606.3" y="511.4" font-size="3" fill="#333" text-anchor="middle">*</text>
<text x="616.1" y="510.7" font-size="1.9" fill="#888" text-anchor="middle">ns</text>
<text x="625.9" y="511.4" font-size="3" fill="#333" text-anchor="middle">*</text>
<text x="635.7" y="511.4" font-size="3" fill="#333" text-anchor="middle">*</text>
<text x="645.5" y="511.4" font-size="3" fill="#333" text-anchor="middle">*</text>
<text x="401.7" y="557" font-size="3.1" fill="#333" text-anchor="end" transform="rotate(-45 401.7 557)">LGG(Stage I=64, Stage II=325, Stage)</text>
<text x="411.5" y="557" font-size="3.1" fill="#333" text-anchor="end" transform="rotate(-45 411.5 557)">LIHC(Stage I=279, Stage II=13)</text>
<text x="421.3" y="557" font-size="3.1" fill="#333" text-anchor="end" transform="rotate(-45 421.3 557)">LUAD(Stage I=159, Stage II=385, )</text>
<text x="431.1" y="557" font-size="3.1" fill="#333" text-anchor="end" transform="rotate(-45 431.1 557)">LUSC(Stage I=165, Stage II=248,)</text>
<text x="440.9" y="557" font-size="3.1" fill="#333" text-anchor="end" transform="rotate(-45 440.9 557)">MESO(Stage I=70, Stage II=144,)</text>
<text x="450.7" y="557" font-size="3.1" fill="#333" text-anchor="end" transform="rotate(-45 450.7 557)">OV(Stage I=143, Stage II=194, Sta)</text>
<text x="460.5" y="557" font-size="3.1" fill="#333" text-anchor="end" transform="rotate(-45 460.5 557)">PAAD(Stage I=86, Stage II=92, Stage)</text>
<text x="470.3" y="557" font-size="3.1" fill="#333" text-anchor="end" transform="rotate(-45 470.3 557)">PCPG(Stage I=150, Stage II)</text>
<text x="480.1" y="557" font-size="3.1" fill="#333" text-anchor="end" transform="rotate(-45 480.1 557)">PRAD(Stage I=72, Stage II=)</text>
<text x="489.9" y="557" font-size="3.1" fill="#333" text-anchor="end" transform="rotate(-45 489.9 557)">READ(Stage I=150, Stage II=114, St)</text>
<text x="499.7" y="557" font-size="3.1" fill="#333" text-anchor="end" transform="rotate(-45 499.7 557)">SARC(Stage I=234, Stage II=321, Sta)</text>
<text x="509.5" y="557" font-size="3.1" fill="#333" text-anchor="end" transform="rotate(-45 509.5 557)">SKCM(Stage I=67, Stage II=306, Stag)</text>
<text x="519.3" y="557" font-size="3.1" fill="#333" text-anchor="end" transform="rotate(-45 519.3 557)">STAD(Stage I=196, Stage II=102, )</text>
<text x="529.1" y="557" font-size="3.1" fill="#333" text-anchor="end" transform="rotate(-45 529.1 557)">TGCT(Stage I=273, Stage II=354, )</text>
<text x="538.9" y="557" font-size="3.1" fill="#333" text-anchor="end" transform="rotate(-45 538.9 557)">THCA(Stage I=329, Stage II=121, S)</text>
<text x="548.7" y="557" font-size="3.1" fill="#333" text-anchor="end" transform="rotate(-45 548.7 557)">THYM(Stage I=140, Stage II=62)</text>
<text x="558.5" y="557" font-size="3.1" fill="#333" text-anchor="end" transform="rotate(-45 558.5 557)">UCEC(Stage I=153, Stage II=70, )</text>
<text x="568.3" y="557" font-size="3.1" fill="#333" text-anchor="end" transform="rotate(-45 568.3 557)">UCS(Stage I=68, Stage II=3)</text>
<text x="578.1" y="557" font-size="3.1" fill="#333" text-anchor="end" transform="rotate(-45 578.1 557)">UVM(Stage I=227, Stage II=255, St)</text>
<text x="587.9" y="557" font-size="3.1" fill="#333" text-anchor="end" transform="rotate(-45 587.9 557)">ACC(Stage I=207, Stage II=243, S)</text>
<text x="597.7" y="557" font-size="3.1" fill="#333" text-anchor="end" transform="rotate(-45 597.7 557)">BLCA(Stage I=233, Stage II=22)</text>
<text x="607.5" y="557" font-size="3.1" fill="#333" text-anchor="end" transform="rotate(-45 607.5 557)">BRCA(Stage I=252, Stage II=211, St)</text>
<text x="617.3" y="557" font-size="3.1" fill="#333" text-anchor="end" transform="rotate(-45 617.3 557)">CESC(Stage I=260, Stage II=44, S)</text>
<text x="627.1" y="557" font-size="3.1" fill="#333" text-anchor="end" transform="rotate(-45 627.1 557)">CHOL(Stage I=370, Stage I)</text>
<text x="636.9" y="557" font-size="3.1" fill="#333" text-anchor="end" transform="rotate(-45 636.9 557)">COAD(Stage I=370, Stage II=217)</text>
<text x="646.7" y="557" font-size="3.1" fill="#333" text-anchor="end" transform="rotate(-45 646.7 557)">DLBC(Stage I=373, Stage II=30)</text>
<text x="659" y="508.6" font-size="3" fill="#333">Stage</text>
<path d="M660.7 513h0" fill="none" stroke="#e64b35" stroke-width="3.2" stroke-linecap="round"/>
<text x="663" y="514.1" font-size="3.1" fill="#333" font-family="Liberation Serif">T1</text>
<path d="M660.7 518h0" fill="none" stroke="#4dbbd5" stroke-width="3.2" stroke-linecap="round"/>
<text x="663" y="519.1" font-size="3.1" fill="#333" font-family="Liberation Serif">T2</text>
<path d="M660.7 523.3h0" fill="none" stroke="#00a087" stroke-width="3.2" stroke-linecap="round"/>
<text x="663" y="524.4" font-size="3.1" fill="#333" font-family="Liberation Serif">T3</text>
<path d="M660.7 528.5h0" fill="none" stroke="#3c5488" stroke-width="3.2" stroke-linecap="round"/>
<text x="663" y="529.6" font-size="3.1" fill="#333" font-family="Liberation Serif">T4</text>
<text x="362.2" y="599" font-size="6" fill="#333">K</text>
<path d="M392.2 603.5H657.7M392.2 614H657.7" fill="none" stroke="#ececec" stroke-width="0.5"/>
<path d="M392.2 624.2H657.7M392.2 634.2H657.7" fill="none" stroke="#bdbdbd" stroke-width="0.5"/>
<path d="M392.2 644.7H657.7" fill="none" stroke="#ececec" stroke-width="0.5"/>
<path d="M401.4 601.2V646.5M411.7 601.2V646.5M422 601.2V646.5M432.2 601.2V646.5M442.5 601.2V646.5M452.8 601.2V646.5M463.1 601.2V646.5M473.4 601.2V646.5M483.6 601.2V646.5M493.9 601.2V646.5M504.2 601.2V646.5M514.5 601.2V646.5M524.8 601.2V646.5M535 601.2V646.5M545.3 601.2V646.5M555.6 601.2V646.5M565.9 601.2V646.5M576.2 601.2V646.5M586.4 601.2V646.5M596.7 601.2V646.5M607 601.2V646.5M617.3 601.2V646.5M627.6 601.2V646.5M637.8 601.2V646.5M648.1 601.2V646.5" fill="none" stroke="#dcdcdc" stroke-width="0.5"/>
<path d="M657.7 601.2V646.5" fill="none" stroke="#d6d6d6" stroke-width="0.5"/>
<path d="M392.5 601.2V646.5" fill="none" stroke="#e0e0e0" stroke-width="0.6"/>
<path d="M392.2 646.5H657.7" fill="none" stroke="#777" stroke-width="0.9"/>
<path d="M391 603.5H392.2" fill="none" stroke="#444" stroke-width="0.35"/>
<text x="390.5" y="604.5" font-size="2.9" fill="#444" text-anchor="end">6</text>
<path d="M391 614H392.2" fill="none" stroke="#444" stroke-width="0.35"/>
<text x="390.5" y="615" font-size="2.9" fill="#444" text-anchor="end">4</text>
<path d="M391 624.2H392.2" fill="none" stroke="#444" stroke-width="0.35"/>
<text x="390.5" y="625.2" font-size="2.9" fill="#444" text-anchor="end">2</text>
<path d="M391 634.2H392.2" fill="none" stroke="#444" stroke-width="0.35"/>
<text x="390.5" y="635.2" font-size="2.9" fill="#444" text-anchor="end">0</text>
<path d="M391 644.7H392.2" fill="none" stroke="#444" stroke-width="0.35"/>
<text x="390.5" y="645.7" font-size="2.9" fill="#444" text-anchor="end">-2</text>
<text x="385.2" y="623.9" font-size="3.1" fill="#333" text-anchor="middle" transform="rotate(-90 385.2 623.9)">Expression</text>
<path d="M399.1 616V619.3M399.1 624.6V626.8M408.6 611.4V621.3M408.6 625.9V636.4M418.9 616.6V620.2M418.9 624.2V626.5M429.2 614.1V620M429.2 624.2V637.7M439.1 622.3V625M439.1 630.7V635.8M449.3 616V619.3M449.3 624.6V632.5M459.6 615.5V618.7M459.6 623.3V626.9M470.3 627.7V631.5M470.3 638.6V643M480.6 614.1V621.9M480.6 634.4V643.6M490.5 613.1V617.3M490.5 622.6V625.6M501.9 623.3V629.2M501.9 632.5V639.7M511 615.9V620M511 625.9V631.6M522.4 614.4V621.3M522.4 625.9V638.4M531.6 616.8V620.6M531.6 625.9V629.8M543 608.1V622.9M543 629.8V639M553.3 626.5V628.1M553.3 631.8V633.9M562.4 612.1V618M562.4 624.6V633.8M573.1 618.4V621M573.1 623.9V625.7M584.1 617.9V619.3M584.1 622.6V624.4M593.3 622.9V627.9M593.3 634.2V637.6M603.5 626.8V631.1M603.5 637.7V644M613.8 613.8V620M613.8 631.1V640.1M625.2 627.3V631.1M625.2 635.7V639.1M635.5 627.1V631M635.5 635.3V638.4M645.8 611.7V615.9M645.8 622.6V627.2" fill="none" stroke="#e4694f" stroke-width="0.45" opacity="0.75"/>
<path d="M403.7 614.1V618.7M403.7 625.9V638.4M411.7 616.9V620.4M411.7 625V629.1M422 616.7V621M422 624.6V630.5M432.2 618.6V621.3M432.2 625V628.4M441.4 621.1V625.2M441.4 630.7V633.9M451.6 612.1V618.7M451.6 623.3V632.5M461.9 615.1V618.7M461.9 622.6V624.2M473.4 614.6V622.6M473.4 633.8V643.3M483.6 612.1V620M483.6 631.1V639M492.8 613.8V617.3M492.8 622.6V626.9M506.5 625.8V628.5M506.5 633.1V636.8M513.3 615.2V619.3M513.3 625.2V630.1M527.1 613.1V618.7M527.1 624.6V630M533.9 617.1V621.3M533.9 626.5V629.6M547.6 616.5V621M547.6 627.6V630.4M557.9 622.3V627.2M557.9 630.7V637.7M564.7 614.1V620M564.7 624.6V629.8M576.2 618V620M576.2 626.5V634.4M588.8 615.6V618M588.8 621.9V624M595.6 622.9V626.5M595.6 633.1V637.2M605.8 628.5V632.5M605.8 638.4V640.3M616.1 612.6V619.3M616.1 628.5V635.5M629.9 626.7V630.5M629.9 636.8V639.5M640.2 621V626M640.2 633.8V640.7M650.4 611.2V613M650.4 619.6V637.8" fill="none" stroke="#6cc0d8" stroke-width="0.45" opacity="0.75"/>
<path d="M414.8 616.6V620.6M414.8 625.5V627.7M425 620.1V621.3M425 624.2V625.7M435.3 619.3V621M435.3 624.2V626.4M443.7 621.6V625.2M443.7 629.8V634.4M454 617.6V620M454 624.6V627.8M464.2 616.8V619M464.2 622.6V625.7M476.4 615.4V618.4M476.4 627.9V633.8M486.7 613.5V620M486.7 633.1V639.5M495.1 610.1V618.7M495.1 622.6V629.8M515.6 608.1V620M515.6 625.9V634.4M536.2 617.9V621M536.2 625.9V630M567 612.7V618.7M567 624.6V635.7M579.2 618.3V621M579.2 625.9V630.2M597.9 626.3V627.9M597.9 629.8V631.6M608.2 619.3V625.2M608.2 637H608.2M618.4 613.2V621.9M618.4 631.8V638.8" fill="none" stroke="#2fa88f" stroke-width="0.45" opacity="0.75"/>
<path d="M446 621.8V625M446 629.4V632.7M456.3 612.8V616.7M456.3 620.6V623.6M466.5 612.7V617.1M466.5 623.3V628.9M497.4 610.1V618M497.4 623.3V629.8M517.9 617.3V620.6M517.9 629.2V635.1M538.5 618V620.6M538.5 627.2V632.2M569.3 617.1V620M569.3 624.6V627.1M600.2 624.8V627.9M600.2 631.5V633.7M610.5 628.5V633.1M610.5 637.7V642.3M620.7 621.7V625M620.7 629.8V631.8" fill="none" stroke="#55639b" stroke-width="0.45" opacity="0.75"/>
<rect x="397" y="619.3" width="4.3" height="5.3" fill="#ea8e74"/>
<rect x="401.6" y="618.7" width="4.3" height="7.2" fill="#9cd2e2"/>
<rect x="407.2" y="621.3" width="2.8" height="4.6" fill="#ea8e74"/>
<rect x="410.3" y="620.4" width="2.8" height="4.6" fill="#9cd2e2"/>
<rect x="413.3" y="620.6" width="2.8" height="4.9" fill="#6dbda9"/>
<rect x="417.5" y="620.2" width="2.8" height="3.9" fill="#ea8e74"/>
<rect x="420.5" y="621" width="2.8" height="3.5" fill="#9cd2e2"/>
<rect x="423.6" y="621.3" width="2.8" height="2.9" fill="#6dbda9"/>
<rect x="427.7" y="620" width="2.8" height="4.2" fill="#ea8e74"/>
<rect x="430.8" y="621.3" width="2.8" height="3.7" fill="#9cd2e2"/>
<rect x="433.9" y="621" width="2.8" height="3.2" fill="#6dbda9"/>
<rect x="438" y="625" width="2.1" height="5.8" fill="#ea8e74"/>
<rect x="440.3" y="625.2" width="2.1" height="5.5" fill="#9cd2e2"/>
<rect x="442.6" y="625.2" width="2.1" height="4.6" fill="#6dbda9"/>
<rect x="444.9" y="625" width="2.1" height="4.5" fill="#8289bb"/>
<rect x="448.3" y="619.3" width="2.1" height="5.3" fill="#ea8e74"/>
<rect x="450.6" y="618.7" width="2.1" height="4.6" fill="#9cd2e2"/>
<rect x="452.9" y="620" width="2.1" height="4.6" fill="#6dbda9"/>
<rect x="455.2" y="616.7" width="2.1" height="3.9" fill="#8289bb"/>
<rect x="458.5" y="618.7" width="2.1" height="4.6" fill="#ea8e74"/>
<rect x="460.9" y="618.7" width="2.1" height="3.9" fill="#9cd2e2"/>
<rect x="463.2" y="619" width="2.1" height="3.5" fill="#6dbda9"/>
<rect x="465.5" y="617.1" width="2.1" height="6.2" fill="#8289bb"/>
<rect x="468.9" y="631.5" width="2.8" height="7.1" fill="#ea8e74"/>
<rect x="471.9" y="622.6" width="2.8" height="11.2" fill="#9cd2e2"/>
<rect x="475" y="618.4" width="2.8" height="9.5" fill="#6dbda9"/>
<rect x="479.1" y="621.9" width="2.8" height="12.5" fill="#ea8e74"/>
<rect x="482.2" y="620" width="2.8" height="11.2" fill="#9cd2e2"/>
<rect x="485.3" y="620" width="2.8" height="13.1" fill="#6dbda9"/>
<rect x="489.4" y="617.3" width="2.1" height="5.3" fill="#ea8e74"/>
<rect x="491.7" y="617.3" width="2.1" height="5.3" fill="#9cd2e2"/>
<rect x="494" y="618.7" width="2.1" height="3.9" fill="#6dbda9"/>
<rect x="496.3" y="618" width="2.1" height="5.3" fill="#8289bb"/>
<rect x="499.8" y="629.2" width="4.3" height="3.3" fill="#ea8e74"/>
<rect x="504.4" y="628.5" width="4.3" height="4.6" fill="#9cd2e2"/>
<rect x="509.9" y="620" width="2.1" height="5.9" fill="#ea8e74"/>
<rect x="512.3" y="619.3" width="2.1" height="5.9" fill="#9cd2e2"/>
<rect x="514.6" y="620" width="2.1" height="5.9" fill="#6dbda9"/>
<rect x="516.9" y="620.6" width="2.1" height="8.5" fill="#8289bb"/>
<rect x="520.3" y="621.3" width="4.3" height="4.6" fill="#ea8e74"/>
<rect x="524.9" y="618.7" width="4.3" height="5.9" fill="#9cd2e2"/>
<rect x="530.5" y="620.6" width="2.1" height="5.3" fill="#ea8e74"/>
<rect x="532.8" y="621.3" width="2.1" height="5.3" fill="#9cd2e2"/>
<rect x="535.1" y="621" width="2.1" height="4.9" fill="#6dbda9"/>
<rect x="537.4" y="620.6" width="2.1" height="6.6" fill="#8289bb"/>
<rect x="540.9" y="622.9" width="4.3" height="7" fill="#ea8e74"/>
<rect x="545.5" y="621" width="4.3" height="6.6" fill="#9cd2e2"/>
<rect x="551.2" y="628.1" width="4.3" height="3.7" fill="#ea8e74"/>
<rect x="555.8" y="627.2" width="4.3" height="3.5" fill="#9cd2e2"/>
<rect x="561.3" y="618" width="2.1" height="6.6" fill="#ea8e74"/>
<rect x="563.7" y="620" width="2.1" height="4.6" fill="#9cd2e2"/>
<rect x="566" y="618.7" width="2.1" height="5.9" fill="#6dbda9"/>
<rect x="568.3" y="620" width="2.1" height="4.6" fill="#8289bb"/>
<rect x="571.7" y="621" width="2.8" height="2.9" fill="#ea8e74"/>
<rect x="574.7" y="620" width="2.8" height="6.6" fill="#9cd2e2"/>
<rect x="577.8" y="621" width="2.8" height="4.9" fill="#6dbda9"/>
<rect x="582" y="619.3" width="4.3" height="3.3" fill="#ea8e74"/>
<rect x="586.6" y="618" width="4.3" height="3.9" fill="#9cd2e2"/>
<rect x="592.2" y="627.9" width="2.1" height="6.3" fill="#ea8e74"/>
<rect x="594.5" y="626.5" width="2.1" height="6.6" fill="#9cd2e2"/>
<rect x="596.8" y="627.9" width="2.1" height="2" fill="#6dbda9"/>
<rect x="599.1" y="627.9" width="2.1" height="3.7" fill="#8289bb"/>
<rect x="602.5" y="631.1" width="2.1" height="6.6" fill="#ea8e74"/>
<rect x="604.8" y="632.5" width="2.1" height="5.9" fill="#9cd2e2"/>
<rect x="607.1" y="625.2" width="2.1" height="11.8" fill="#6dbda9"/>
<rect x="609.4" y="633.1" width="2.1" height="4.6" fill="#8289bb"/>
<rect x="612.7" y="620" width="2.1" height="11.2" fill="#ea8e74"/>
<rect x="615.1" y="619.3" width="2.1" height="9.2" fill="#9cd2e2"/>
<rect x="617.4" y="621.9" width="2.1" height="9.9" fill="#6dbda9"/>
<rect x="619.7" y="625" width="2.1" height="4.9" fill="#8289bb"/>
<rect x="623.1" y="631.1" width="4.3" height="4.6" fill="#ea8e74"/>
<rect x="627.7" y="630.5" width="4.3" height="6.3" fill="#9cd2e2"/>
<rect x="633.4" y="631" width="4.3" height="4.3" fill="#ea8e74"/>
<rect x="638" y="626" width="4.3" height="7.8" fill="#9cd2e2"/>
<rect x="643.7" y="615.9" width="4.3" height="6.7" fill="#ea8e74"/>
<rect x="648.3" y="613" width="4.3" height="6.6" fill="#9cd2e2"/>
<path d="M397 622.1H401.2M407.2 623.4H410M417.5 621.8H420.3M427.7 622H430.6M438 628.3H440.1M448.3 621.9H450.4M458.5 621.3H460.7M468.9 635.1H471.7M479.1 627.3H482M489.4 620.4H491.5M499.8 631H504M509.9 622.9H512.1M520.3 623.7H524.6M530.5 623.8H532.6M540.9 627H545.1M551.2 629.6H555.4M561.3 621.2H563.5M571.7 622.3H574.5M582 621.1H586.3M592.2 631.1H594.3M602.5 633.6H604.6M612.7 625.8H614.9M623.1 633.8H627.4M633.4 632.6H637.7M643.7 619.7H647.9" fill="none" stroke="#dd5a3e" stroke-width="0.4"/>
<path d="M401.6 622.7H405.8M410.3 622.6H413.1M420.5 623.2H423.4M430.8 623H433.7M440.3 627.8H442.4M450.6 620.6H452.7M460.9 620.4H463M471.9 627.1H474.8M482.2 626.4H485.1M491.7 620H493.8M504.4 630.2H508.6M512.3 621.9H514.4M524.9 621.6H529.2M532.8 624.2H534.9M545.5 624.4H549.8M555.8 629.4H560M563.7 621.9H565.8M574.7 622.6H577.6M586.6 619.8H590.9M594.5 630.4H596.6M604.8 634.6H606.9M615.1 624.7H617.2M627.7 634.4H632M638 630H642.3M648.3 617.2H652.6" fill="none" stroke="#4fb3cf" stroke-width="0.4"/>
<path d="M413.3 623H416.2M423.6 622.5H426.5M433.9 622.9H436.7M442.6 628H444.7M452.9 621.8H455M463.2 620.5H465.3M475 622.4H477.9M485.3 625.4H488.1M494 620.1H496.1M514.6 622.7H516.7M535.1 623.8H537.3M566 621H568.1M577.8 622.8H580.7M596.8 628.6H598.9M607.1 631.1H609.2M617.4 627.9H619.5" fill="none" stroke="#1d9a80" stroke-width="0.4"/>
<path d="M444.9 626.9H447.1M455.2 618.3H457.3M465.5 619.9H467.6M496.3 621.4H498.5M516.9 625.5H519M537.4 623.1H539.6M568.3 622.9H570.4M599.1 629.9H601.3M609.4 634.8H611.5M619.7 627H621.8" fill="none" stroke="#45548f" stroke-width="0.4"/>
<path d="M418.9 612.4h0M418.9 613h0M429.2 641.3h0M429.2 641.8h0M449.3 636.3h0M480.6 611.6h0M490.5 610h0M490.5 628.2h0M522.4 639.5h0M522.4 610.5h0M531.6 615h0M543 604h0M543 642.4h0M553.3 623.2h0M562.4 607.1h0M562.4 637.8h0M573.1 616.5h0M593.3 640.5h0M593.3 618.8h0M603.5 625.6h0M603.5 625.2h0M613.8 643.9h0M613.8 643h0M625.2 623.8h0M635.5 640.2h0M645.8 629.6h0M645.8 632.1h0" fill="none" stroke="#e4694f" stroke-width="0.9" stroke-linecap="round" opacity="0.7"/>
<path d="M422 632h0M422 614.5h0M441.4 616.7h0M441.4 616.8h0M451.6 610.5h0M492.8 631.1h0M492.8 630.7h0M506.5 623.1h0M527.1 634.5h0M527.1 633.5h0M547.6 611.8h0M547.6 633.7h0M576.2 613.8h0M576.2 616.5h0M595.6 620h0M605.8 626.1h0M616.1 639.2h0M650.4 640.3h0" fill="none" stroke="#6cc0d8" stroke-width="0.9" stroke-linecap="round" opacity="0.7"/>
<path d="M414.8 632h0M414.8 631.7h0M435.3 617.5h0M454 614.7h0M454 631.5h0M476.4 611.7h0M476.4 612.8h0M486.7 642.6h0M495.1 630.9h0M495.1 607.5h0M567 608.1h0M579.2 614.3h0M579.2 616.3h0" fill="none" stroke="#2fa88f" stroke-width="0.9" stroke-linecap="round" opacity="0.7"/>
<path d="M456.3 624.7h0M456.3 608.1h0M497.4 606.4h0M517.9 616.2h0M517.9 612.7h0M538.5 633.7h0M569.3 632h0M569.3 631.3h0M600.2 637.7h0M600.2 638.3h0M610.5 643.6h0M620.7 617.6h0" fill="none" stroke="#55639b" stroke-width="0.9" stroke-linecap="round" opacity="0.7"/>
<path d="M401.4 646.5V647.7M411.7 646.5V647.7M422 646.5V647.7M432.2 646.5V647.7M442.5 646.5V647.7M452.8 646.5V647.7M463.1 646.5V647.7M473.4 646.5V647.7M483.6 646.5V647.7M493.9 646.5V647.7M504.2 646.5V647.7M514.5 646.5V647.7M524.8 646.5V647.7M535 646.5V647.7M545.3 646.5V647.7M555.6 646.5V647.7M565.9 646.5V647.7M576.2 646.5V647.7M586.4 646.5V647.7M596.7 646.5V647.7M607 646.5V647.7M617.3 646.5V647.7M627.6 646.5V647.7M637.8 646.5V647.7M648.1 646.5V647.7" fill="none" stroke="#444" stroke-width="0.35"/>
<text x="401.4" y="602.4" font-size="3" fill="#333" text-anchor="middle">*</text>
<text x="411.7" y="602.4" font-size="3" fill="#333" text-anchor="middle">*</text>
<text x="422" y="602.4" font-size="3" fill="#333" text-anchor="middle">*</text>
<text x="432.2" y="602.4" font-size="3" fill="#333" text-anchor="middle">*</text>
<text x="442.5" y="602.4" font-size="3" fill="#333" text-anchor="middle">*</text>
<text x="452.8" y="602.4" font-size="3" fill="#333" text-anchor="middle">*</text>
<text x="463.1" y="602.4" font-size="3" fill="#333" text-anchor="middle">*</text>
<text x="473.4" y="602.4" font-size="3" fill="#333" text-anchor="middle">****</text>
<text x="483.6" y="602.4" font-size="3" fill="#333" text-anchor="middle">*</text>
<text x="493.9" y="602.4" font-size="3" fill="#333" text-anchor="middle">*</text>
<text x="504.2" y="602.4" font-size="3" fill="#333" text-anchor="middle">*</text>
<text x="514.5" y="602.4" font-size="3" fill="#333" text-anchor="middle">*</text>
<text x="524.8" y="602.4" font-size="3" fill="#333" text-anchor="middle">*</text>
<text x="535" y="602.4" font-size="3" fill="#333" text-anchor="middle">*</text>
<text x="545.3" y="602.4" font-size="3" fill="#333" text-anchor="middle">****</text>
<text x="555.6" y="602.4" font-size="3" fill="#333" text-anchor="middle">*</text>
<text x="565.9" y="602.4" font-size="3" fill="#333" text-anchor="middle">*</text>
<text x="576.2" y="602.4" font-size="3" fill="#333" text-anchor="middle">*</text>
<text x="586.4" y="602.4" font-size="3" fill="#333" text-anchor="middle">*</text>
<text x="596.7" y="602.4" font-size="3" fill="#333" text-anchor="middle">*</text>
<text x="607" y="602.4" font-size="3" fill="#333" text-anchor="middle">*</text>
<text x="617.3" y="602.4" font-size="3" fill="#333" text-anchor="middle">*</text>
<text x="627.6" y="602.4" font-size="3" fill="#333" text-anchor="middle">*</text>
<text x="637.8" y="602.4" font-size="3" fill="#333" text-anchor="middle">*</text>
<text x="648.1" y="602.4" font-size="3" fill="#333" text-anchor="middle">*</text>
<text x="402.6" y="649.5" font-size="3" fill="#555" text-anchor="end" transform="rotate(-45 402.6 649.5)">PCPG(N0=94, N1=22)</text>
<text x="412.9" y="649.5" font-size="3" fill="#555" text-anchor="end" transform="rotate(-45 412.9 649.5)">PRAD(N0=255, N1=120, N)</text>
<text x="423.2" y="649.5" font-size="3" fill="#555" text-anchor="end" transform="rotate(-45 423.2 649.5)">READ(N0=280, N1=130, N2=)</text>
<text x="433.4" y="649.5" font-size="3" fill="#555" text-anchor="end" transform="rotate(-45 433.4 649.5)">SARC(N0=229, N1=45, N2=84, N)</text>
<text x="443.7" y="649.5" font-size="3" fill="#555" text-anchor="end" transform="rotate(-45 443.7 649.5)">SKCM(N0=365, N1=31, N2=233, N)</text>
<text x="454" y="649.5" font-size="3" fill="#555" text-anchor="end" transform="rotate(-45 454 649.5)">STAD(N0=236, N1=27, N2=17)</text>
<text x="464.3" y="649.5" font-size="3" fill="#555" text-anchor="end" transform="rotate(-45 464.3 649.5)">TGCT(N0=69, N)</text>
<text x="474.6" y="649.5" font-size="3" fill="#555" text-anchor="end" transform="rotate(-45 474.6 649.5)">THCA(N0=55, N1)</text>
<text x="484.8" y="649.5" font-size="3" fill="#555" text-anchor="end" transform="rotate(-45 484.8 649.5)">THYM(N0=382, N1=185, N2)</text>
<text x="495.1" y="649.5" font-size="3" fill="#555" text-anchor="end" transform="rotate(-45 495.1 649.5)">UCEC(N0=3)</text>
<text x="505.4" y="649.5" font-size="3" fill="#555" text-anchor="end" transform="rotate(-45 505.4 649.5)">UCS(N0=116, N1=354, N2=3)</text>
<text x="515.7" y="649.5" font-size="3" fill="#555" text-anchor="end" transform="rotate(-45 515.7 649.5)">UVM(N0=383, N1=46, )</text>
<text x="526" y="649.5" font-size="3" fill="#555" text-anchor="end" transform="rotate(-45 526 649.5)">ACC(N0=208, N)</text>
<text x="536.2" y="649.5" font-size="3" fill="#555" text-anchor="end" transform="rotate(-45 536.2 649.5)">BLCA(N0=159, N1=196, N2)</text>
<text x="546.5" y="649.5" font-size="3" fill="#555" text-anchor="end" transform="rotate(-45 546.5 649.5)">BRCA(N0=258, N1=)</text>
<text x="556.8" y="649.5" font-size="3" fill="#555" text-anchor="end" transform="rotate(-45 556.8 649.5)">CESC(N0=377, N1=376, )</text>
<text x="567.1" y="649.5" font-size="3" fill="#555" text-anchor="end" transform="rotate(-45 567.1 649.5)">CHOL(N0=291, N1=316, N2=)</text>
<text x="577.4" y="649.5" font-size="3" fill="#555" text-anchor="end" transform="rotate(-45 577.4 649.5)">COAD(N0=321, N1=173)</text>
<text x="587.6" y="649.5" font-size="3" fill="#555" text-anchor="end" transform="rotate(-45 587.6 649.5)">DLBC(N0=352, N1)</text>
<text x="597.9" y="649.5" font-size="3" fill="#555" text-anchor="end" transform="rotate(-45 597.9 649.5)">ESCA(N0=400, N1=315, N)</text>
<text x="608.2" y="649.5" font-size="3" fill="#555" text-anchor="end" transform="rotate(-45 608.2 649.5)">GBM(N0=43, N1=99, N2=229)</text>
<text x="618.5" y="649.5" font-size="3" fill="#555" text-anchor="end" transform="rotate(-45 618.5 649.5)">HNSC(N0=28, N1=356, N2=27)</text>
<text x="628.8" y="649.5" font-size="3" fill="#555" text-anchor="end" transform="rotate(-45 628.8 649.5)">KICH(N0=93, N1=3)</text>
<text x="639" y="649.5" font-size="3" fill="#555" text-anchor="end" transform="rotate(-45 639 649.5)">KIRC(N0=269, N1)</text>
<text x="649.3" y="649.5" font-size="3" fill="#555" text-anchor="end" transform="rotate(-45 649.3 649.5)">KIRP(N0=297, N1)</text>
<text x="660" y="600" font-size="3" fill="#333">Stage</text>
<path d="M661.7 604.6h0" fill="none" stroke="#e64b35" stroke-width="3.2" stroke-linecap="round"/>
<text x="664" y="605.7" font-size="3.1" fill="#333" font-family="Liberation Serif">N0</text>
<path d="M661.7 609.6h0" fill="none" stroke="#4dbbd5" stroke-width="3.2" stroke-linecap="round"/>
<text x="664" y="610.7" font-size="3.1" fill="#333" font-family="Liberation Serif">N1</text>
<path d="M661.7 614.6h0" fill="none" stroke="#00a087" stroke-width="3.2" stroke-linecap="round"/>
<text x="664" y="615.7" font-size="3.1" fill="#333" font-family="Liberation Serif">N2</text>
<path d="M661.7 619.6h0" fill="none" stroke="#3c5488" stroke-width="3.2" stroke-linecap="round"/>
<text x="664" y="620.7" font-size="3.1" fill="#333" font-family="Liberation Serif">N3</text>
<text x="363" y="687.9" font-size="6" fill="#333">L</text>
<path d="M393.5 696.6H657.7M393.5 708.7H657.7M393.5 720.5H657.7M393.5 732.3H657.7M393.5 744.4H657.7" fill="none" stroke="#bdbdbd" stroke-width="0.5"/>
<path d="M401.4 690.3V746.1M411.7 690.3V746.1M421.9 690.3V746.1M432.2 690.3V746.1M442.5 690.3V746.1M452.8 690.3V746.1M463 690.3V746.1M473.3 690.3V746.1M483.6 690.3V746.1M493.8 690.3V746.1M504.1 690.3V746.1M514.4 690.3V746.1M524.6 690.3V746.1M534.9 690.3V746.1M545.2 690.3V746.1M555.4 690.3V746.1M565.7 690.3V746.1M576 690.3V746.1M586.3 690.3V746.1M596.5 690.3V746.1M606.8 690.3V746.1M617.1 690.3V746.1M627.3 690.3V746.1M637.6 690.3V746.1M647.9 690.3V746.1M657.7 690.3V746.1" fill="none" stroke="#d6d6d6" stroke-width="0.5"/>
<path d="M393.5 690.3V746.1" fill="none" stroke="#e0e0e0" stroke-width="0.6"/>
<path d="M393.5 746.5H657.7" fill="none" stroke="#999" stroke-width="0.9"/>
<path d="M392.3 696.6H393.5" fill="none" stroke="#444" stroke-width="0.35"/>
<text x="391.8" y="697.6" font-size="2.9" fill="#444" text-anchor="end">8</text>
<path d="M392.3 708.7H393.5" fill="none" stroke="#444" stroke-width="0.35"/>
<text x="391.8" y="709.7" font-size="2.9" fill="#444" text-anchor="end">6</text>
<path d="M392.3 720.5H393.5" fill="none" stroke="#444" stroke-width="0.35"/>
<text x="391.8" y="721.5" font-size="2.9" fill="#444" text-anchor="end">4</text>
<path d="M392.3 732.3H393.5" fill="none" stroke="#444" stroke-width="0.35"/>
<text x="391.8" y="733.3" font-size="2.9" fill="#444" text-anchor="end">2</text>
<path d="M392.3 744.4H393.5" fill="none" stroke="#444" stroke-width="0.35"/>
<text x="391.8" y="745.4" font-size="2.9" fill="#444" text-anchor="end">0</text>
<text x="386.5" y="718.2" font-size="3.1" fill="#333" text-anchor="middle" transform="rotate(-90 386.5 718.2)">Expression</text>
<path d="M399.2 709.3V713.9M399.2 721.8V735.6M409.5 713V717.2M409.5 722.5V725M419.7 709.3V716.3M419.7 720.7V737.6M430 711.7V715.9M430 720.7V723M440.3 717.7V722.5M440.3 727.7V731M450.5 706.7V714.2M450.5 720.7V730.3M460.8 709.2V713.3M460.8 719.8V722.5M471.1 710V729.4M471.1 737.6V744.1M481.4 706.7V718.9M481.4 731.6V744.1M491.6 708.7V712.9M491.6 718.9V723.8M501.9 719.8V727M501.9 731V738.9M512.2 708V715.2M512.2 722.8V728.7M522.4 707.3V717.9M522.4 722.5V737.6M532.7 706V716.8M532.7 723.4V735.6M543 710.7V718.9M543 727.7V731.4M553.2 718.9V724.2M553.2 728.1V735.6M563.5 710.8V715M563.5 721.5V726.7M573.8 714.1V716.8M573.8 721.1V724.2M584.1 706V712.9M584.1 717.9V732.3M594.3 718.7V725.1M594.3 731.6V737.9M604.6 715.2V729M604.6 736V741.8M614.9 736.9V738.2M614.9 741.5V743.2M625.1 710.2V719.8M625.1 730.3V735.1M635.4 708V729M635.4 734.9V741.5M645.7 706.2V710.1M645.7 717.9V725" fill="none" stroke="#e4694f" stroke-width="0.45" opacity="0.75"/>
<path d="M403.6 711.3V715.2M403.6 728.4V734.3M413.9 711.3V717.2M413.9 722.8V733.6M424.1 715.1V717.2M424.1 720.7V723.9M434.4 710V717.9M434.4 720.7V732.3M444.7 718.2V721.8M444.7 726.4V728.5M455 708.4V714.2M455 721.1V724.4M465.2 711.5V714.2M465.2 720.7V725.6M475.5 702.1V715M475.5 732.3V745.3M485.8 707.3V715.9M485.8 721.8V740.8M496 712V715M496 719.8V722M506.3 717.5V725.1M506.3 734.3V739.3M516.6 714.6V716.8M516.6 722.1V727.3M526.8 712V715.9M526.8 721.5V725.2M537.1 713.3V715.9M537.1 720.5V724.8M547.4 716V721.5M547.4 728.1V732.5M557.7 724.9V726.8M557.7 729.7V731.9M567.9 707.6V709.7M567.9 712.9V714.7M578.2 718.5V719.8M578.2 722.5V723.6M588.5 712.8V715M588.5 717.2V719.4M598.7 721.1V725.1M598.7 731.3V736.9M609 734.5V736.2M609 738.2V739.5M619.3 727.7V734.9M619.3 740.8V741.5M629.5 715.8V721.8M629.5 728.6V732.5M639.8 708.4V724.9M639.8 732.4V735.6M650.1 711V714.8M650.1 724V736.5" fill="none" stroke="#6cc0d8" stroke-width="0.45" opacity="0.75"/>
<rect x="397.2" y="713.9" width="4.1" height="7.9" fill="#ea8e74"/>
<rect x="401.6" y="715.2" width="4.1" height="13.1" fill="#9cd2e2"/>
<rect x="407.4" y="717.2" width="4.1" height="5.3" fill="#ea8e74"/>
<rect x="411.8" y="717.2" width="4.1" height="5.7" fill="#9cd2e2"/>
<rect x="417.7" y="716.3" width="4.1" height="4.5" fill="#ea8e74"/>
<rect x="422.1" y="717.2" width="4.1" height="3.5" fill="#9cd2e2"/>
<rect x="428" y="715.9" width="4.1" height="4.9" fill="#ea8e74"/>
<rect x="432.4" y="717.9" width="4.1" height="2.9" fill="#9cd2e2"/>
<rect x="438.2" y="722.5" width="4.1" height="5.3" fill="#ea8e74"/>
<rect x="442.7" y="721.8" width="4.1" height="4.6" fill="#9cd2e2"/>
<rect x="448.5" y="714.2" width="4.1" height="6.6" fill="#ea8e74"/>
<rect x="452.9" y="714.2" width="4.1" height="7" fill="#9cd2e2"/>
<rect x="458.8" y="713.3" width="4.1" height="6.6" fill="#ea8e74"/>
<rect x="463.2" y="714.2" width="4.1" height="6.6" fill="#9cd2e2"/>
<rect x="469.1" y="729.4" width="4.1" height="8.1" fill="#ea8e74"/>
<rect x="473.5" y="715" width="4.1" height="17.3" fill="#9cd2e2"/>
<rect x="479.3" y="718.9" width="4.1" height="12.7" fill="#ea8e74"/>
<rect x="483.7" y="715.9" width="4.1" height="5.9" fill="#9cd2e2"/>
<rect x="489.6" y="712.9" width="4.1" height="6" fill="#ea8e74"/>
<rect x="494" y="715" width="4.1" height="4.9" fill="#9cd2e2"/>
<rect x="499.9" y="727" width="4.1" height="3.9" fill="#ea8e74"/>
<rect x="504.3" y="725.1" width="4.1" height="9.2" fill="#9cd2e2"/>
<rect x="510.1" y="715.2" width="4.1" height="7.6" fill="#ea8e74"/>
<rect x="514.5" y="716.8" width="4.1" height="5.3" fill="#9cd2e2"/>
<rect x="520.4" y="717.9" width="4.1" height="4.6" fill="#ea8e74"/>
<rect x="524.8" y="715.9" width="4.1" height="5.7" fill="#9cd2e2"/>
<rect x="530.7" y="716.8" width="4.1" height="6.6" fill="#ea8e74"/>
<rect x="535.1" y="715.9" width="4.1" height="4.6" fill="#9cd2e2"/>
<rect x="540.9" y="718.9" width="4.1" height="8.8" fill="#ea8e74"/>
<rect x="545.4" y="721.5" width="4.1" height="6.6" fill="#9cd2e2"/>
<rect x="551.2" y="724.2" width="4.1" height="3.9" fill="#ea8e74"/>
<rect x="555.6" y="726.8" width="4.1" height="2.9" fill="#9cd2e2"/>
<rect x="561.5" y="715" width="4.1" height="6.6" fill="#ea8e74"/>
<rect x="565.9" y="709.7" width="4.1" height="3.2" fill="#9cd2e2"/>
<rect x="571.8" y="716.8" width="4.1" height="4.3" fill="#ea8e74"/>
<rect x="576.2" y="719.8" width="4.1" height="2.6" fill="#9cd2e2"/>
<rect x="582" y="712.9" width="4.1" height="5" fill="#ea8e74"/>
<rect x="586.4" y="715" width="4.1" height="2.2" fill="#9cd2e2"/>
<rect x="592.3" y="725.1" width="4.1" height="6.6" fill="#ea8e74"/>
<rect x="596.7" y="725.1" width="4.1" height="6.2" fill="#9cd2e2"/>
<rect x="602.6" y="729" width="4.1" height="7" fill="#ea8e74"/>
<rect x="607" y="736.2" width="4.1" height="2" fill="#9cd2e2"/>
<rect x="612.8" y="738.2" width="4.1" height="3.3" fill="#ea8e74"/>
<rect x="617.2" y="734.9" width="4.1" height="5.9" fill="#9cd2e2"/>
<rect x="623.1" y="719.8" width="4.1" height="10.5" fill="#ea8e74"/>
<rect x="627.5" y="721.8" width="4.1" height="6.8" fill="#9cd2e2"/>
<rect x="633.4" y="729" width="4.1" height="5.9" fill="#ea8e74"/>
<rect x="637.8" y="724.9" width="4.1" height="7.5" fill="#9cd2e2"/>
<rect x="643.6" y="710.1" width="4.1" height="7.8" fill="#ea8e74"/>
<rect x="648.1" y="714.8" width="4.1" height="9.2" fill="#9cd2e2"/>
<path d="M397.2 719H401.2M407.4 720.3H411.5M417.7 717.8H421.8M428 718.3H432M438.2 724.9H442.3M448.5 717.2H452.6M458.8 717.1H462.8M469.1 733.6H473.1M479.3 727H483.4M489.6 716.6H493.7M499.9 728.9H503.9M510.1 718.6H514.2M520.4 719.9H524.5M530.7 719.4H534.7M540.9 723.3H545M551.2 726.3H555.3M561.5 719.1H565.5M571.8 719H575.8M582 714.8H586.1M592.3 729.3H596.4M602.6 731.9H606.6M612.8 739.8H616.9M623.1 725.3H627.2M633.4 731.8H637.4M643.6 713.5H647.7" fill="none" stroke="#dd5a3e" stroke-width="0.4"/>
<path d="M401.6 723H405.6M411.8 720.5H415.9M422.1 718.7H426.2M432.4 719.7H436.4M442.7 723.7H446.7M452.9 716.8H457M463.2 717.1H467.3M473.5 725.5H477.5M483.7 719H487.8M494 717.8H498.1M504.3 730.7H508.3M514.5 719.9H518.6M524.8 718.9H528.9M535.1 718H539.1M545.4 725.6H549.4M555.6 728.6H559.7M565.9 711.2H570M576.2 721.5H580.2M586.4 716.2H590.5M596.7 728.8H600.8M607 737.3H611M617.2 738.3H621.3M627.5 726H631.6M637.8 727.8H641.8M648.1 718.6H652.1" fill="none" stroke="#4fb3cf" stroke-width="0.4"/>
<path d="M399.2 737.5h0M430 709.5h0M440.3 733.4h0M440.3 732.6h0M481.4 704.9h0M491.6 727h0M491.6 725.2h0M501.9 718.7h0M501.9 715.6h0M543 732.5h0M553.2 740.5h0M553.2 717.2h0M563.5 730.2h0M573.8 711.6h0M573.8 727.3h0M584.1 736.4h0M584.1 733.6h0M604.6 744.2h0M625.1 737h0M645.7 704.8h0M645.7 727.7h0" fill="none" stroke="#e4694f" stroke-width="0.9" stroke-linecap="round" opacity="0.7"/>
<path d="M403.6 707.5h0M424.1 711.3h0M444.7 715.1h0M444.7 716.3h0M455 704.4h0M455 706.1h0M485.8 704.7h0M496 725.8h0M496 723.3h0M506.3 740.8h0M506.3 713.8h0M516.6 713.2h0M516.6 732h0M526.8 707.7h0M526.8 729h0M547.4 734.7h0M557.7 734.1h0M557.7 723.1h0M578.2 728.2h0M578.2 717.5h0M588.5 708.1h0M588.5 721.9h0M598.7 740h0M598.7 719.4h0M609 743.1h0M609 732h0M629.5 714.4h0M650.1 740.7h0" fill="none" stroke="#6cc0d8" stroke-width="0.9" stroke-linecap="round" opacity="0.7"/>
<path d="M401.4 746.1V747.3M411.7 746.1V747.3M421.9 746.1V747.3M432.2 746.1V747.3M442.5 746.1V747.3M452.8 746.1V747.3M463 746.1V747.3M473.3 746.1V747.3M483.6 746.1V747.3M493.8 746.1V747.3M504.1 746.1V747.3M514.4 746.1V747.3M524.6 746.1V747.3M534.9 746.1V747.3M545.2 746.1V747.3M555.4 746.1V747.3M565.7 746.1V747.3M576 746.1V747.3M586.3 746.1V747.3M596.5 746.1V747.3M606.8 746.1V747.3M617.1 746.1V747.3M627.3 746.1V747.3M637.6 746.1V747.3M647.9 746.1V747.3" fill="none" stroke="#444" stroke-width="0.35"/>
<text x="401.4" y="695" font-size="3" fill="#333" text-anchor="middle">*</text>
<text x="411.7" y="695" font-size="3" fill="#333" text-anchor="middle">*</text>
<text x="421.9" y="695" font-size="3" fill="#333" text-anchor="middle">*</text>
<text x="432.2" y="695" font-size="3" fill="#333" text-anchor="middle">*</text>
<text x="442.5" y="695" font-size="3" fill="#333" text-anchor="middle">*</text>
<text x="452.8" y="695" font-size="3" fill="#333" text-anchor="middle">*</text>
<text x="463" y="695" font-size="3" fill="#333" text-anchor="middle">*</text>
<text x="473.3" y="695" font-size="3" fill="#333" text-anchor="middle">*</text>
<text x="483.6" y="695" font-size="3" fill="#333" text-anchor="middle">****</text>
<text x="493.8" y="695" font-size="3" fill="#333" text-anchor="middle">*</text>
<text x="504.1" y="695" font-size="3" fill="#333" text-anchor="middle">*</text>
<text x="514.4" y="695" font-size="3" fill="#333" text-anchor="middle">*</text>
<text x="524.6" y="695" font-size="3" fill="#333" text-anchor="middle">**</text>
<text x="534.9" y="695" font-size="3" fill="#333" text-anchor="middle">*</text>
<text x="545.2" y="695" font-size="3" fill="#333" text-anchor="middle">*</text>
<text x="555.4" y="695" font-size="3" fill="#333" text-anchor="middle">*</text>
<text x="565.7" y="695" font-size="3" fill="#333" text-anchor="middle">**</text>
<text x="576" y="695" font-size="3" fill="#333" text-anchor="middle">**</text>
<text x="586.3" y="695" font-size="3" fill="#333" text-anchor="middle">*</text>
<text x="596.5" y="695" font-size="3" fill="#333" text-anchor="middle">*</text>
<text x="606.8" y="695" font-size="3" fill="#333" text-anchor="middle">*</text>
<text x="617.1" y="695" font-size="3" fill="#333" text-anchor="middle">*</text>
<text x="627.3" y="695" font-size="3" fill="#333" text-anchor="middle">*</text>
<text x="637.6" y="695" font-size="3" fill="#333" text-anchor="middle">*</text>
<text x="647.9" y="695" font-size="3" fill="#333" text-anchor="middle">*</text>
<text x="402.6" y="749.1" font-size="3" fill="#555" text-anchor="end" transform="rotate(-45 402.6 749.1)">TGCT(Stage I=342, )</text>
<text x="412.9" y="749.1" font-size="3" fill="#555" text-anchor="end" transform="rotate(-45 412.9 749.1)">THCA(Stage I=110, Stag)</text>
<text x="423.1" y="749.1" font-size="3" fill="#555" text-anchor="end" transform="rotate(-45 423.1 749.1)">THYM(Stage I=180)</text>
<text x="433.4" y="749.1" font-size="3" fill="#555" text-anchor="end" transform="rotate(-45 433.4 749.1)">UCEC(Stage I=136, Stage )</text>
<text x="443.7" y="749.1" font-size="3" fill="#555" text-anchor="end" transform="rotate(-45 443.7 749.1)">UCS(Stage I=303, Sta)</text>
<text x="453.9" y="749.1" font-size="3" fill="#555" text-anchor="end" transform="rotate(-45 453.9 749.1)">UVM(Stage I=223, Stag)</text>
<text x="464.2" y="749.1" font-size="3" fill="#555" text-anchor="end" transform="rotate(-45 464.2 749.1)">ACC(Stage I=189, S)</text>
<text x="474.5" y="749.1" font-size="3" fill="#555" text-anchor="end" transform="rotate(-45 474.5 749.1)">BLCA(Stage I=80, Stage I)</text>
<text x="484.8" y="749.1" font-size="3" fill="#555" text-anchor="end" transform="rotate(-45 484.8 749.1)">BRCA(Stage I=12)</text>
<text x="495" y="749.1" font-size="3" fill="#555" text-anchor="end" transform="rotate(-45 495 749.1)">CESC(Stage I=2)</text>
<text x="505.3" y="749.1" font-size="3" fill="#555" text-anchor="end" transform="rotate(-45 505.3 749.1)">CHOL(Stage I=358, Sta)</text>
<text x="515.6" y="749.1" font-size="3" fill="#555" text-anchor="end" transform="rotate(-45 515.6 749.1)">COAD(Stage I=3)</text>
<text x="525.8" y="749.1" font-size="3" fill="#555" text-anchor="end" transform="rotate(-45 525.8 749.1)">DLBC(Stage I=98,)</text>
<text x="536.1" y="749.1" font-size="3" fill="#555" text-anchor="end" transform="rotate(-45 536.1 749.1)">ESCA(Stage I=18)</text>
<text x="546.4" y="749.1" font-size="3" fill="#555" text-anchor="end" transform="rotate(-45 546.4 749.1)">GBM(Stage I=16)</text>
<text x="556.6" y="749.1" font-size="3" fill="#555" text-anchor="end" transform="rotate(-45 556.6 749.1)">HNSC(Stage I=194, Sta)</text>
<text x="566.9" y="749.1" font-size="3" fill="#555" text-anchor="end" transform="rotate(-45 566.9 749.1)">KICH(Stage I=192,)</text>
<text x="577.2" y="749.1" font-size="3" fill="#555" text-anchor="end" transform="rotate(-45 577.2 749.1)">KIRC(Stage I=97, Stage)</text>
<text x="587.5" y="749.1" font-size="3" fill="#555" text-anchor="end" transform="rotate(-45 587.5 749.1)">KIRP(Stage I=56, Sta)</text>
<text x="597.7" y="749.1" font-size="3" fill="#555" text-anchor="end" transform="rotate(-45 597.7 749.1)">LAML(Stage I=185, )</text>
<text x="608" y="749.1" font-size="3" fill="#555" text-anchor="end" transform="rotate(-45 608 749.1)">LGG(Stage I=294, S)</text>
<text x="618.3" y="749.1" font-size="3" fill="#555" text-anchor="end" transform="rotate(-45 618.3 749.1)">LIHC(Stage I=24)</text>
<text x="628.5" y="749.1" font-size="3" fill="#555" text-anchor="end" transform="rotate(-45 628.5 749.1)">LUAD(Stage I=309, Sta)</text>
<text x="638.8" y="749.1" font-size="3" fill="#555" text-anchor="end" transform="rotate(-45 638.8 749.1)">LUSC(Stage I=2)</text>
<text x="649.1" y="749.1" font-size="3" fill="#555" text-anchor="end" transform="rotate(-45 649.1 749.1)">MESO(Stage I=313, )</text>
<text x="660" y="691.8" font-size="3" fill="#333">Stage</text>
<path d="M661.7 696.4h0" fill="none" stroke="#e64b35" stroke-width="3.2" stroke-linecap="round"/>
<text x="664" y="697.5" font-size="3.1" fill="#333" font-family="Liberation Serif">M0</text>
<path d="M661.7 701.1h0" fill="none" stroke="#4dbbd5" stroke-width="3.2" stroke-linecap="round"/>
<text x="664" y="702.2" font-size="3.1" fill="#333" font-family="Liberation Serif">M1</text>
</svg>
</body></html>
